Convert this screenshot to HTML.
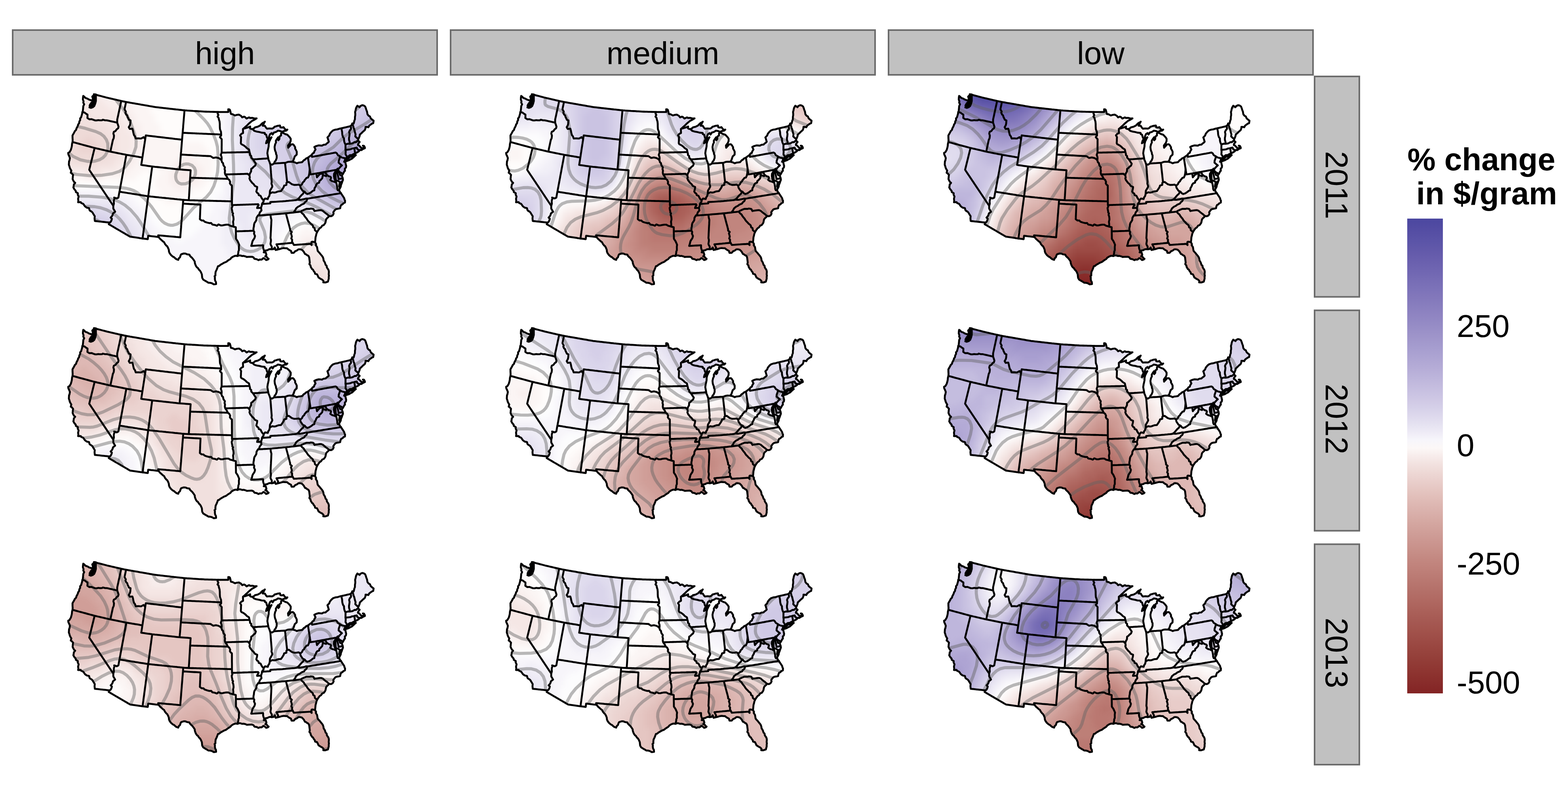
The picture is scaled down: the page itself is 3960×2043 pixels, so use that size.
<!DOCTYPE html><html><head><meta charset="utf-8"><title>map</title><style>html,body{margin:0;padding:0;background:#fff;}body{width:3960px;height:2043px;overflow:hidden;}svg{display:block;font-family:"Liberation Sans",Arial,Helvetica,sans-serif;}</style></head><body><svg width="3960" height="2043" viewBox="0 0 3960 2043"><defs><path id="us" d="M237.1 238L240.8 238.9L244.5 239.9L248.2 240.9L251.9 241.8L255.6 242.8L259.3 243.8L263 244.7L266.7 245.7L270.3 246.7L273.9 247.5L277.5 248.3L281.1 249.2L284.7 250L288.3 250.8L291.9 251.7L295.5 252.5L299 253.3L302.6 254.1L306.2 255L310.2 255.8L314.3 256.7L318.3 257.5L321.8 258.1L325.3 258.7L328.9 259.4L332.4 260L335.9 260.6L339.5 261.2L343 261.8L346.5 262.4L350.1 263L353.6 263.7L357.1 264.3L360.6 264.9L364.2 265.5L367.7 266.1L371.2 266.7L374.8 267.3L378.3 268L381.8 268.6L385.4 269.2L388.9 269.8L392.4 270.4L395.9 270.8L399.4 271.2L402.9 271.6L406.4 272L409.9 272.4L413.4 272.8L416.9 273.2L420.4 273.6L423.9 274L427.4 274.4L430.9 274.8L434.4 275.2L438 275.6L441.5 276L445 276.4L448.5 276.7L452 277.1L455.5 277.5L459 277.9L462.5 278.3L466 278.7L469.6 278.9L473.2 279.2L476.7 279.4L480.3 279.6L483.9 279.8L487.5 280.1L491.1 280.3L494.7 280.5L498.3 280.7L501.9 281L505.5 281.2L509.1 281.4L512.7 281.6L516.3 281.9L520.1 282L523.9 282.1L527.7 282.2L531.6 282.3L535.4 282.4L539.2 282.5L543.1 282.6L546.9 282.7L550.7 282.8L554.4 282.9L558.1 282.9L561.8 282.9L565.5 282.9L569.2 282.9L572.9 282.9L576.6 282.9L576.5 275.9L579 276.1L580.6 277.4L582.2 282.7L582.5 285.1L583.5 288L587.2 288.4L591.5 290.7L593.6 291.6L597.7 290.2L603.5 289.5L608.6 292.5L611.7 296.4L616.2 294.6L618.7 295.6L622.7 299.4L628.9 296.3L631.5 298L637.8 297.7L643 299.4L648.1 298.9L643.1 302L636.9 305.2L635.3 306.5L630.8 310.1L627.4 313.1L624.7 316L619.8 320.3L616.1 323.8L617.4 324.5L622.5 323L627.5 321.4L631.9 319.4L631.5 324L633.5 325.4L637.8 326.1L641.1 324.4L644.3 321.5L650.6 320.2L656.8 317L660 313.5L662.8 310.9L666.3 309.3L668.9 307.3L667.6 309L665.6 313.5L663.3 317.4L669.1 317.9L671.9 322.5L674.2 325L680.6 324.4L687.1 324.8L691.1 322.8L693.2 320.1L697.4 319.1L700.7 317.8L707.1 317L708.2 321.7L712.8 322.2L715.9 320.9L719 325.2L722.7 328.5L725.8 327.2L723.5 329.7L720.3 330.3L716.5 331.1L712.4 333.1L708.6 331.1L702 329.9L697.1 333.2L692 334.6L688.5 339.7L686.2 336.1L682.5 338.3L679.7 344.2L679.3 348.5L676.3 351.1L673.4 356L671.9 361.8L675.1 359.6L679.3 354.6L681.3 351.4L683.4 348.6L685.8 346.5L683 351.4L680.2 357.3L678.7 363.1L678.5 369.7L677.1 376.4L676.3 379.3L675.9 382.2L675.2 387L676.4 393.5L677.6 400L678.2 403.4L680.4 408.3L682.2 413.8L682.7 414.7L687.2 415.9L692.2 412.8L693.5 408.6L696 406L697.6 402.2L698.8 399.1L698.8 392.5L697.2 389.1L696.8 385.1L695.1 381.2L694.1 377.8L693.4 371.2L694.8 364.5L697.1 359.7L696.6 355.8L698.9 351.8L702.4 346.8L702.8 350.5L703.1 354.2L705.5 351.2L706.1 344.5L709.8 342.2L709.9 336.6L712.7 334.8L717.1 336.7L720.3 338.6L725.4 340.1L727.7 342.3L731.5 346.3L734.3 350.5L734.1 356.4L732 361.4L729.3 364.7L727.4 367.6L728 373.2L731.1 369.3L732.8 367.9L735.1 364.8L739.7 364.2L742.4 366.7L745.5 371.9L745.3 375.3L747.3 378.5L749.4 382.8L749.5 385L749.3 390.4L744.4 394.9L742.4 400.9L741.3 404.3L738.5 408.4L745 410.1L749.5 412.3L753.8 410.7L758.9 410.1L763.1 409.5L767.4 404.5L769.2 403.9L773.3 400L777.8 398.2L783 394.1L787.3 391.1L789.4 387.7L792.8 385.8L794 382L796.9 377.5L793.8 371.3L797.2 369.4L800.8 368.2L804.9 367.1L809.5 367.5L813.1 367.9L817.1 365.6L822.2 365.2L824.8 362.6L828.1 360.3L830.4 357.9L828.7 352.6L828.3 350.7L826.9 347.1L831.4 342.4L833.1 337.9L835.5 334.8L837.5 332.5L840.9 329.5L844 328.3L848.2 327.1L851.3 326.9L854.7 325.9L858.7 324.6L862 324.1L865.9 323.1L869.9 322.2L873.9 321.3L877.8 320.3L881.8 319.4L885.7 318.4L888.3 315.3L889.8 311.8L893 312.4L894.3 307.9L894.8 305L896.3 301.5L896.5 294.7L897.2 291.4L897.3 287.8L896.8 283L898.1 278.4L898.6 275.2L899.9 271.3L902.6 267L908.1 270.7L909.9 267.8L914.6 265.6L918.6 266.4L922.2 268.9L923.8 272.9L925.5 278.4L927 282L927.5 285.5L928.2 288.9L931.6 292.8L934.2 293.9L936.3 298.7L938.2 300.6L943.6 304.9L942.6 311L939.4 312.3L935.5 315L932.5 317.4L930.4 321.4L927.9 320.7L923.2 320.4L923.1 323.9L921.3 328.7L916.7 332.5L913.5 335.7L909 339.8L908 344.5L905.9 349.4L905 351.2L904.4 355.2L908.3 358.5L904.6 363.3L904 366.4L906.2 367L910 370.7L913.1 374.4L919.9 373.1L918.9 369.4L916.4 367.9L919.3 368.3L921.2 371.7L921.6 374.2L917.1 376.1L912.6 379.2L909.2 378.7L906.7 381.3L905.9 382.5L902.7 384.3L897.7 387.1L891.9 389.4L888.2 391.9L883.8 391.7L878.4 395.9L874.8 399L873.4 402.4L870.9 405.3L869.1 408.6L872.2 409.9L873.2 414.5L874.3 418.9L873.7 423.1L870.9 425.9L871.2 431.5L869.5 432.8L867.4 437.1L865.1 440.9L862.9 437.1L858.8 435.1L855.2 431.9L854 429.9L854.9 433.9L857.8 437.2L858.8 441.8L863.6 444.1L865.6 450.1L866.2 454.3L864.4 458.5L863.1 462.7L861.1 467.5L860.4 471.9L858.3 475.8L857.2 478L857.7 472.4L856.5 470.4L857.3 463.5L859 461L854.5 457.2L848.3 455.6L847.7 448.9L847.2 442.3L847.6 437.3L848.8 432.3L846.9 433.6L843.6 439.1L843.3 445L844.6 451.5L847.1 456.8L849.5 461.7L850.3 465.6L851.1 469.5L851.7 473.7L851.8 477.1L853.3 480.7L857.2 481.5L858.2 484.3L861.2 487.9L862.4 490L865 493.9L867.1 497L869.5 501L870.2 504.4L871.5 506.6L871.2 511.6L867.6 513.1L864.9 516.2L861.8 517.4L859.9 521.6L859.1 526L855.7 526.7L852.2 527.3L848.7 528L846.4 529.7L844 532.7L841.7 536.1L842.6 539.6L840.1 544.1L836 546.2L831 545.5L829.3 548.1L826.4 550.6L823.8 553.6L822.8 557.7L822.1 561.6L820.7 564.4L817.9 568.2L814 569.7L810.6 574.4L807.2 576.5L803.3 581.9L801.1 585.5L799.2 590.1L798.1 595.1L797 598.7L796.7 602L796.4 605.5L795.7 611.5L798.3 616.5L797.6 619.1L800.8 624.1L801.4 628.1L802.3 633.4L804.7 636.3L807 638.7L810 642.5L812.4 645.3L815.1 648.9L816.7 653.2L817.4 658.1L819.6 661.2L821 664.4L822.3 668.7L825 671.3L825.4 675L826.9 677.7L829.3 680.9L830.5 684.9L830.5 688.9L830.1 692.4L830.8 695.9L830.2 699.3L830.3 703.5L829 708.4L828.1 711.4L821.6 713.4L816.4 713.2L817.1 709.7L813.6 706.1L810.1 704.5L807.5 702.7L804.4 700.8L803.1 697.6L800.7 692.8L795.8 691.5L795 687.9L792.2 684.4L790.2 680.7L788 679.4L784.8 674.1L784.2 670.6L781.3 667L782.4 663.4L782 659.3L781.4 654.6L780.8 650L778.9 646.1L775.1 644.1L772.9 642.2L770.1 641.2L767.6 636.5L765.5 633.8L762 630.5L757.7 629.6L753.8 629.6L749.4 632.9L745.6 634.3L741.9 638.5L736.3 638.5L734.9 633.5L729 630.4L725 627L719.8 626.9L716.2 626.5L711.8 627.2L705.6 629.1L700.9 630.1L696.2 631.4L694 625L691.2 629L686.4 629.7L682 629.1L678.4 629.9L675.3 631.9L671.4 632.3L667.6 634.8L666.1 637.3L670.9 637L672.9 643.5L670 647.5L672.7 647.7L676.8 652.7L678.4 653.6L676.6 655.4L672.2 656.8L668.5 653.3L665.4 651.6L660.7 655.6L656.4 655.3L652.7 657L648.3 654.5L642.8 653.7L639.9 649.8L636.1 648.3L631.3 648.5L626.5 648.7L623.3 649L620.4 647.6L615.1 646.2L611.7 646.6L607 645.1L603.5 645.1L599.8 646.6L594.5 645.8L589.4 647.7L584.6 650.6L581.7 654.2L578.2 656.3L575.3 658.1L571.7 661.1L569.4 662.1L564.9 663.9L562 665.8L556.8 668.6L553.8 671.4L550.5 672.3L548.8 676.9L546.9 681.7L544.6 686.3L544 691.6L544.1 695.6L541.9 697.5L542.9 701.4L542.6 704.2L543.4 708.8L545.4 712.4L545.8 717.3L539.9 718.1L534.9 715.2L530 714.1L526.6 714.1L521.9 711.2L518.3 709.2L513.4 706.2L510.8 702L510.3 698.6L509.8 692.9L508.6 690.1L507.4 687.2L504.9 683.3L502.7 681.4L499.8 676.9L497.3 675.1L494.9 671.6L493.8 669.2L492 664L491.9 660.7L489.1 656.3L485.3 651.4L481.6 648.1L479.3 645.4L478.5 643.1L472.1 642.1L468.6 640.4L464.2 640.1L457.7 642.1L456.1 644.8L454.7 649.5L451.4 652.7L450.2 656.2L445.4 654.5L442.2 652L439.3 649.3L436.3 648L431.7 643.9L428.1 638.9L426.7 635L426.4 631.1L424.8 626.8L422.4 622.2L420 620.2L416.6 616L414.5 611.7L411.1 609.3L409.5 607.7L404.4 603.3L400.5 598.5L396.7 598.1L393 597.7L389.2 597.2L385.5 596.8L381.8 596.4L378 595.9L374.3 595.5L373.7 599.7L373.2 604L368.8 603.4L364.5 602.8L360.1 602.3L356.6 601.8L353.1 601.3L349.6 600.7L346.1 600.2L342.6 599.7L339.1 599.2L335.5 598.7L332 598.2L328.5 597.7L325.4 595.9L322.2 594L319 592.1L315.8 590.3L312.7 588.4L309.5 586.6L306.3 584.7L303.1 582.8L300 581L296.8 579.1L293.6 577.3L290.4 575.4L287.3 573.5L284.1 571.7L280.9 569.8L277.7 567.9L274.6 566.1L276.8 562.1L273 561.7L269.3 561.3L265.6 560.9L261.9 560.5L258.1 560.1L254.4 559.7L250.7 559.3L247 558.9L243.2 558.5L239.5 558.1L238.8 551.8L239.3 546.1L235.8 540.4L233.6 536.6L231.6 534.6L226.8 531.6L225.7 529.4L225 525.7L219 524.4L214.4 520.9L211.7 516.9L210.3 515L204.7 512.3L203.8 510.4L197.3 510.8L197.9 507.2L197.2 502L198.6 496.5L196.1 491L196.7 488.1L191.5 484.9L191.3 482L187.5 477.5L185.2 473.2L185.8 471.6L186.5 465.9L189.9 461.9L186.8 459.1L184.8 455.4L183.4 452.2L183.9 447.1L184.2 443.6L184.7 441.8L181.3 437.9L178.7 436.2L180.2 430.7L178.4 428.1L176.2 423.7L175.4 420.2L173.9 416.1L174.2 410.7L174.4 407.2L175.4 405.7L176.6 399.1L174.5 393.6L172.8 390.4L172.2 386.2L175.3 384.5L178.7 379L179.8 375.4L180.8 371.8L181.5 368.2L181.9 363.2L183.2 358.7L183.5 353.7L183.2 348.8L183.1 342.1L185.9 337.1L187.5 334.4L188.7 331.6L192.2 327.9L193.2 324L194.9 321.1L196.6 317.5L197.4 314.3L199.7 311.5L200.4 306.8L202.5 303.2L202.4 299L204.8 296.4L206.1 291.9L207.4 287.4L208.1 282.8L209.1 281.1L209.8 274.5L210.4 267.9L212.6 263.5L210.3 259.2L211 256.1L209.3 251.2L209.7 245.5L210.3 242.2L212.8 244.1L215.7 247.3L221.7 249.4L223.8 251.1L229.8 253.2L233.1 253.1L233.7 258.1L232.3 263.6L232.9 265.6L230.7 268.1L226 271.4L229.6 270.5L233.2 269.5L235.9 264.5L236.3 257.9L236.8 251.3L237.1 245.6L237 238.9L237.1 238ZM871.3 406.8L873.1 407.4L877.3 406.1L881.4 404.7L884.9 402.5L888.8 400.7L892.4 397.5L895.2 394.7L898.7 391.7L893.8 391.3L889 395.4L883.9 395.9L881.2 398.7L878.5 401.4L874.2 402.7L871.3 406.8Z"/><clipPath id="clip"><use href="#us"/></clipPath><g id="lines" fill="none" stroke="#000" stroke-width="4.8" stroke-linejoin="round" stroke-linecap="round"><use href="#us"/><path d="M208.1 282.8L213.7 284.4L217.5 287.4L221 289.4L221 294.2L220.7 298L225.8 301.3L231.4 300.9L234.9 302.3L240 304.1L244.1 304.2L248.3 303.4L252.1 303.9L257.6 303.8L259.7 302.3L265.6 303.8L269.6 303.8L273.4 304.6L277.2 305.5L280.9 306.3L284.7 307.2L288.5 308L292.2 308.9L296 309.7M296 309.7L296 305.9L296.1 301.7L296.9 298.1L297.7 294.5L298.5 290.9L299.2 287.3L300 283.7L300.8 280.2L301.6 276.6L302.3 273L303.1 269.4L303.9 265.8L304.7 262.2L305.4 258.6L306.2 255M296 309.7L297.8 314.9L299.4 320L298.4 323.8L294.7 326.6L291.7 330.8L287.4 333L286.3 337.3L287.9 342.5L287.2 349L285.1 353.4L284.3 357.1L283.5 360.8L282.7 364.5L281.9 368.2L281.1 371.8L280.3 375.5L279.6 379.2L278.8 382.9M183.2 358.7L186.7 359.6L190.2 360.5L193.7 361.5L197.1 362.4L200.6 363.4L204.1 364.3L207.6 365.2L211.1 366.2L214.6 367.1L218.1 368.1L221.5 369L225 369.9L228.5 370.9L232 371.8L235.5 372.8L239 373.7L242.6 374.5L246.2 375.4L249.8 376.2L253.4 377L257.1 377.9L260.7 378.7L264.3 379.5L267.9 380.4L271.5 381.2L275.1 382.1L278.8 382.9L282.4 383.6L286.1 384.4L289.8 385.1L293.4 385.8L297.1 386.6L300.7 387.3L304.4 388L308.1 388.8L311.7 389.5L315.4 390.2L319.1 391L322.8 391.6L326.4 392.2L330.1 392.8L333.8 393.5L337.5 394.1L341.2 394.7L344.9 395.3L348.6 395.9L352.2 396.6L355.9 397.2L359.6 397.8M239 373.7L238.1 377.1L237.3 380.6L236.4 384L235.6 387.5L234.7 390.9L233.9 394.4L233 397.8L232.2 401.3L231.3 404.7L230.5 408.2L229.6 411.6L228.8 415L227.9 418.5L227.1 421.9L226.2 425.4L225.4 428.8L227.3 431.8L229.3 434.7L231.2 437.6L233.2 440.6L235.2 443.5L237.1 446.4L239.1 449.4L241.1 452.3L243 455.3L245 458.2L247 461.1L248.9 464.1L250.9 467L252.8 469.9L254.8 472.9L256.8 475.8L258.7 478.7L260.7 481.7L262.7 484.6L264.6 487.5L266.6 490.5L268.6 493.4L270.5 496.4L272.5 499.3L274.5 502.2L276.4 505.2L278.4 508.1L280.3 511L282.3 514L284.3 516.9L286.2 519.8M286.2 519.8L286.1 522.7L286.2 526.9L287.9 529.8L290.8 534.8L285.4 539L284.2 543.4L282.5 546.2L279.5 549.5L282.6 552.5L281.1 557.5L278.9 560.9L276.8 562.1M286.2 519.8L287.7 514.3L287.3 508.5L288.1 504L289.5 501.1L288.4 499L294.8 501.2L299 499L299.7 495.3L300.3 491.6L301 487.8L301.7 484.1M301.7 484.1L302.4 480.7L303 477.2L303.7 473.8L304.3 470.3L304.9 466.9L305.6 463.4L306.2 460L306.9 456.5L307.5 453.1L308.2 449.6L308.8 446.2L309.4 442.7L310.1 439.3L310.7 435.8L311.4 432.4L312 428.9L312.6 425.5L313.3 422L313.9 418.6L314.6 415.1L315.2 411.7L315.9 408.2L316.5 404.8L317.1 401.3L317.8 397.9L318.4 394.4L319.1 391M359.6 397.8L360.2 394.3L360.7 390.7L361.2 387.2L361.8 383.6L362.3 380.1L362.9 376.5L363.4 373L364 369.4L364.5 365.9L365.1 362.3L365.6 358.8L366.2 355.2L366.7 351.7L367.4 346.8L368.2 342L371.7 342.4L375.2 342.9L378.8 343.3L382.3 343.7L385.8 344.1L389.3 344.5L392.9 344.9L396.4 345.4L399.9 345.8L403.4 346.2L407 346.6L410.5 347L414 347.4L417.5 347.9L421.1 348.3L424.6 348.7L428.1 349.1L431.6 349.5L435.2 349.9L438.7 350.3L442.2 350.8L445.7 351.2L449.3 351.6L452.8 352L456.3 352.4L459.8 352.8M366.7 351.7L362.8 346.3L356.9 349.7L354.4 349.9L348.9 349.4L342.8 349.8L340.9 344.2L338.3 340.9L336.7 334.9L335.8 329.9L334.4 325L327.7 325.6L325.2 321.3L328.1 316.2L329.1 312.1L329.4 308L329.7 304.2L325.5 302.4L324.6 299.9L322.5 296L321.1 291.1L318.9 289.5L316.6 284.5L317.8 281.9L314.5 276L315.2 272.3L316 268.6L316.8 264.9L317.5 261.2L318.3 257.5M466 278.7L465.7 282.3L465.4 285.8L465.1 289.3L464.8 292.9L464.5 296.4L464.2 299.9L463.9 303.5L463.6 307L463.3 310.6L463 314.1L462.7 317.6L462.5 321.2L462.2 324.7L461.9 328.2L461.6 331.8L461.3 335.3L461 338.8L460.7 342.3L460.4 345.8L460.1 349.3L459.8 352.8L459.5 356.6L459.2 360.3L458.9 364.1L458.6 367.8L458.3 371.6L458 375.3L457.7 379.1L457.4 382.8L457 386.6L456.7 390.3L456.4 394.1L456.1 397.8L455.8 401.6L455.5 405.4L455.2 409.1L454.9 412.9L454.6 416.7L454.2 420.4L453.9 424.2L453.6 427.9M461.3 335.3L464.9 335.5L468.5 335.6L472.1 335.8L475.7 336L479.3 336.1L482.9 336.3L486.5 336.5L490.1 336.6L493.7 336.8L497.3 337L500.9 337.1L504.5 337.3L508.1 337.4L511.7 337.6L515.4 337.8L519 337.9L522.6 338.1L526.2 338.3L529.8 338.4L533.4 338.6L537 338.7L540.6 338.9L544.2 339.1L547.8 339.2L551.4 339.4L555 339.6L558.6 339.7M359.6 397.8L359 401.6L358.5 405.3L357.9 409L357.3 412.8L356.7 416.5L360.7 417.1L364.6 417.6L368.6 418.2L372.5 418.8L376.4 419.3L380.4 419.9L384.3 420.5L388 420.9L391.6 421.3L395.3 421.6L398.9 422L402.6 422.4L406.2 422.8L409.9 423.2L413.5 423.6L417.1 424L420.8 424.4L424.4 424.8L428.1 425.2L431.7 425.6L435.4 426L439 426.4L442.7 426.8L446.3 427.2L450 427.6L453.6 427.9L457.6 428.2L461.6 428.5L465.5 428.8L469.5 429.1L473.5 429.4L477.4 429.7L481.4 430L481.2 433.8L480.9 437.5L480.7 441.3L480.5 445.1L480.2 448.9M384.3 420.5L383.9 424L383.4 427.6L382.9 431.2L382.4 434.8L381.9 438.4L381.5 441.9L381 445.5L380.5 449.1L380 452.7L379.6 456.3L379.1 459.8L378.6 463.4L378.1 467L377.6 470.6L377.2 474.2L376.7 477.7L376.2 481.3L375.7 484.9L375.3 488.5L374.8 492.1L374.3 495.6L373.8 499.2L373.4 502.8L372.9 506.3L372.4 509.9L371.9 513.4L371.5 517L371 520.5L370.5 524.1L370 527.6L369.6 531.2L369.1 534.7L368.6 538.3L368.1 541.8L367.7 545.4L367.2 549L366.7 552.5L366.2 556.1L365.8 559.6L365.3 563.2L364.8 566.7L364.3 570.3L363.9 573.8L363.4 577.4L362.9 580.9L362.4 584.5L362 588L361.5 591.6L361 595.1L360.6 598.7L360.1 602.3M301.7 484.1L305.4 484.7L309 485.3L312.6 485.8L316.2 486.4L319.9 487L323.5 487.6L327.1 488.1L330.8 488.7L334.4 489.3L338 489.9L341.6 490.5L345.3 491L348.9 491.6L352.5 492.2L356.2 492.8L359.8 493.3L363.4 493.9L367 494.5L370.7 495.1L374.3 495.6L377.8 496L381.4 496.4L384.9 496.7L388.5 497.1L392 497.5L395.5 497.8L399.1 498.2L402.6 498.6L406.1 498.9L409.7 499.3L413.2 499.6L416.8 500L420.3 500.4L423.8 500.7L427.4 501.1L430.9 501.5L434.4 501.8L438 502.2L441.5 502.6L445.1 502.9L448.6 503.3L452.1 503.6L455.7 504L459.2 504.4L462.7 504.7L466.3 505L469.8 505.2L473.3 505.4L476.8 505.7L480.3 505.8L483.9 505.9L487.4 505.9L490.9 506L494.4 506.1L497.9 506.2L501.4 506.3L505 506.4L508.5 506.5L512 506.6L515.5 506.7L519 506.8L522.5 506.8L526 506.9L529.6 507L533.1 507.1L536.6 507.2L540.1 507.3L543.6 507.4L547.1 507.5L550.7 507.6L554.2 507.6L557.7 507.7L561.2 507.8L564.7 507.9L568.2 508L571.8 508.1L575.3 508.2L578.8 508.3L582.3 508.4L585.8 508.4M462.7 504.7L462.4 509.5L462.1 514.2L461.8 517.7L461.5 521.3L461.2 524.8L460.9 528.4L460.6 531.9L460.4 535.5L460.1 539L459.8 542.6L459.5 546.1L459.2 549.7L459 553.2L458.7 556.8L458.4 560.3L458.1 563.8L457.8 567.4L457.5 570.9L457.3 574.5L457 578L456.7 581.6L456.4 585.1L456.1 588.7L455.8 592.2L455.6 595.8L455.3 599.3L451.8 599L448.3 598.7L444.8 598.4L441.3 598L437.9 597.7L434.4 597.4L430.9 597.1L427.4 596.8L423.9 596.5L420.4 596.2L416.9 595.8L413.4 595.5L410 595.2L406.5 594.9L403 594.6L399.5 594.3L400.5 598.5M476.8 505.7L477 502.1L477.2 498.6L477.5 495L477.7 491.5L477.9 487.9L478.1 484.4L478.3 480.8L478.5 477.3L478.7 473.7L479 470.2L479.2 466.6L479.4 463.1L479.6 459.5L479.8 456L480 452.4L480.2 448.9M456.7 390.3L460.3 390.5L463.9 390.7L467.5 390.9L471 391.1L474.6 391.3L478.2 391.5L481.8 391.7L485.4 391.9L488.9 392.1L492.5 392.3L496.1 392.5L499.7 392.7L503.3 392.9L506.8 393.1L510.4 393.3L514 393.5L517.6 393.6L521.1 393.8L524.7 394L528.3 394.2L531.9 394.4L535 396.6L538.6 398.9L545.4 397.6L552.2 399.2L556.2 401.5L559.2 404.5M558.6 339.7L558.6 342.3L555.4 346L556.5 347.7L560 351.7L559.9 355.5L559.9 359.2L559.9 363L559.9 366.7L559.8 370.5L559.8 374.2L559.8 378L559.8 381.7L559.7 385.5L557.7 391.1L559.7 396.8L559.8 401.6L559.2 404.5M550.7 282.8L549.5 286.7L551.6 290.2L549.4 294.5L552.1 297.6L553.1 302.8L554.5 306.9L555.1 313.1L555.1 316.2L555.2 321.2L555.6 326.4L556.8 329.7L558.1 333L558.6 339.7M559.2 404.5L560.9 410L563.1 411.4L564.4 417.6L568 422.4L567.1 427L568.3 430.6L567.8 436.5L568.9 440.7L572.7 445.9L575.4 451.6L571.9 451.5L568.4 451.4L564.8 451.3L561.3 451.2L557.8 451.1L554.3 451L550.7 450.9L547.2 450.8L543.7 450.7L540.2 450.6L536.6 450.5L533.1 450.4L529.6 450.3L526.1 450.2L522.5 450.1L519 450L515.5 449.9L512 449.8L508.4 449.7L504.9 449.6L501.4 449.5L497.9 449.4L494.3 449.3L490.8 449.2L487.3 449.1L483.8 449L480.2 448.9M575.4 451.6L579.1 454.4L581.3 459.2L580.6 463L582.5 466.1L585.6 468.6L585.7 472.2L585.7 475.8L585.7 479.5L585.7 483.1L585.7 486.7L585.7 490.3L585.8 494L585.8 497.6L585.8 501.2L585.8 504.8L585.8 508.4L585.9 513.2L585.9 517.9M462.1 514.2L465.8 514.4L469.4 514.6L473.1 514.8L476.8 515L480.5 515.3L484.2 515.5L487.9 515.7L491.6 515.9L495.3 516.1L499 516.3L502.7 516.5L506.4 516.7L506.2 520.4L506.1 524.1L505.9 527.8L505.7 531.5L505.6 535.1L505.4 538.8L505.3 542.5L505.1 546.2L505 549.9L504.8 553.5L509.2 556.8L513.8 556.9L516.7 559.9L522.8 562L528.8 563.5L533.4 563.2L536.4 567.1L542.5 568.1L547.8 570.1L551.7 566.7L557.8 569.3L562.3 569.2L565.4 568.3L571.5 567.4L576.9 567.4L581.5 570.2L586.5 571.3L588.7 572.2M585.9 517.9L586.9 521.4L585.1 525.3L585.9 530.4L586.8 534.2L586.7 536.6L588.7 538.8L587.6 542.6L589 545.9L589.7 550.4L589.9 554.6L589.2 557.2L588.6 560.3L589.2 564.6L589.3 568.4L588.7 572.2L595.5 573.8L595.6 579L595.7 584.2L595.7 588L595.8 591.8L595.9 595.6L595.9 599.4L596 603.2L599.9 608.8L601.8 612.9L604 618.2L603.3 623.2L603.4 627.6L603.4 631.9L602 635.2L601.7 639.8L600.7 643L599.8 646.6M595.7 584.2L599.4 584.1L603.1 584L606.8 583.9L610.6 583.8L614.3 583.6L618 583.5L621.7 583.4L625.4 583.3L629.2 583.2L632.9 583L636.6 582.9L640.3 582.8M585.9 517.9L589.6 517.8L593.3 517.7L596.9 517.6L600.6 517.4L604.3 517.3L608 517.2L611.6 517.1L615.3 516.9L619 516.8L622.6 516.7L626.3 516.6L630 516.4L633.7 516.3L637.3 516.2L641 516.1L644.7 515.9L648.3 515.8L652 515.7L653.2 517.9L650.2 522.4L649.3 525.4L654.3 525.1L659.2 524.8M568.9 440.7L572.4 440.5L576 440.4L579.5 440.3L583.1 440.2L586.6 440.1L590.1 440L593.7 439.9L597.2 439.8L600.7 439.7L604.3 439.6L607.8 439.5L611.4 439.4L614.9 439.3L618.4 439.1L622 439L625.5 438.9L630 443.1M559.7 385.5L563.3 385.4L566.8 385.3L570.3 385.3L573.8 385.2L577.3 385.1L580.9 385.1L584.4 385L587.9 384.9L591.4 384.9L594.9 384.8L598.5 384.7L602 384.7L605.5 384.6L609 384.5L612.5 384.5L616.1 384.4L619.6 384.3L623.1 384.2L626.6 384.2L630.2 384.1M630.2 384.1L628.8 377.6L623.3 374.1L619.8 370.4L615 366.8L609.6 364.2L608.2 361.4L608.6 354.9L608.6 351L609 346.4L606.3 341.8L609.8 337.9L613.9 336L613.7 330.9L613.6 325.7L616.1 323.8M630.2 384.1L631.4 388.4L631.4 391.6L634.5 394.1L634.5 398.1L638.9 402.5L642.5 408L646.2 413.5L644.4 418.3L640.4 421.4L637.5 424.7L634.5 426.4L634.1 433.1L630.8 438.9L630 443.1M630 443.1L631 448.1L629.9 450.3L631.7 455.1L633.8 457.7L636.8 461.7L640.6 465L643.7 469.6L649.6 472.1L649.1 476.9L647.3 483.6L649.5 487L652.7 489L653.4 492.7L658.1 494.4L660.7 500L663.9 504.5L665.9 505.7L665.7 509.1L663.1 512.3L661.6 515.1L661.1 519L659.2 524.8L660.4 531.4L656.2 536.4L654.3 542.2L651.4 544.3L647.9 550.1L647.4 555.9L645.5 559.2L642.5 563.7L641.5 567.9L641.3 571.4L640.1 577.1L640.3 582.8L642.2 585.6L641.5 590.3L644.1 595.9L643.2 599.8L642 602.6L639.8 605.5L637.6 609.5L636.3 615.2L634.5 621L638.2 620.8L642 620.6L645.8 620.4L649.5 620.2L653.3 620L657 619.8L660.8 619.6L664.5 619.4L664.6 626.1L665.7 629.7L667.6 634.8M651.4 544.3L654.9 544L658.4 543.8L661.9 543.6L665.4 543.3L668.9 543.1L672.4 542.9L675.9 542.6L679.4 542.4L683 542.2L686.5 541.9L690.1 541.5L693.6 541.2L697.2 540.9L700.7 540.6L704.3 540.3L707.8 540L711.4 539.6L714.9 539.3L718.5 539L722 538.7L725.8 538.3L729.7 537.9L733.5 537.4L737.4 537L741.2 536.6L744.8 536.2L748.5 535.7L752.1 535.3L755.8 534.8L759.5 534.4M683 542.2L683.6 546L684 549.6L685.5 555.3L685.3 558.8L685.1 562.4L685 565.9L684.8 569.4L684.6 572.9L684.4 576.5L684.3 580L684.1 583.5L683.9 587L683.7 590.5L683.6 594.1L683.4 597.6L683.2 601.1L684.2 605.1L684.3 608.4L683.7 612.1L683.1 616L684.2 619.1L686.2 622.2L686.5 625.9L686.4 629.7M722 538.7L723 542.3L723.9 545.9L724.9 549.5L725.9 553.1L726.8 556.7L727.8 560.3L728.7 563.9L729.7 567.4L730.7 571L731.6 574.6L732.6 578.2L732.9 582.3L737 585.8L734.9 589.4L736.4 594.4L737.1 597.7L735.6 602.1L737.9 605.5L737.5 609.7L739.2 613.1L735.4 613.5L731.7 613.8L728 614.2L724.3 614.6L720.5 614.9L716.8 615.3L713.1 615.6L709.4 616L705.6 616.3L701.9 616.7L698.2 617L701 622.5L702.5 625.4L700.9 630.1M739.2 613.1L742 618.5L745.5 618.3L749 618.1L752.6 617.8L756.1 617.6L759.6 617.4L763.1 617.2L766.7 616.9L770.2 616.7L773.7 616.5L777.2 616.3L780.8 616L784.3 615.8L787.1 619L786.7 615.1L786.8 611.1L788.3 610.3L791.6 610.9L795.7 611.5M759.5 534.4L763.1 538.7L767.2 542.2L768.4 544.7L771.7 549.1L774 551.6L776.8 556.2L779.7 559.7L780.6 560.3L785.2 565.4L787.8 567.2L790 569.5L791.1 574.1L794.5 575.8L795.3 581.2L797.9 583.6L801.1 585.5M759.5 534.4L762.4 532.4L765.1 531.2L769.4 529.3L774 527.5L779.5 527.5L782.3 527.6L784.8 526.7L789.8 527.3L791.6 528L794.3 533L796.1 532.3L801.2 531.7L807.5 530.8L811.2 530.7L815.1 532.2L816.8 533.7L819.4 536.1L822.8 538.7L826.2 541L828.3 543.1L831 545.5M741.2 536.6L745.4 531.3L747.8 526.3L750.3 524.2L753.5 521.6L757.6 519.9L761.5 516.7L764.6 515.5L768 514.1L769.9 511L774 507.6L776.4 501.6M747.3 505.3L751.9 504.2L755.4 504.7L758.1 504.7L760.7 504.3L765.2 503.4L770.1 502.4L773.2 501.3L776.4 501.6L780 501.1L783.5 500.5L787 499.9L790.6 499.3L794.1 498.8L797.6 498.2L801.1 497.6L804.7 497L808.2 496.5L811.7 495.9L815.3 495.3L818.8 494.7L822.3 494.2L825.9 493.6L829.4 493L832.9 492.4L836.5 491.9L840 491.3L843.5 490.7L847 490.1L850.6 489.6L854.1 489L857.6 488.4L861.2 487.9M747.3 505.3L743.4 505.7L739.6 506L735.8 506.4L732 506.7L728.2 507.1L724.4 507.4L720.6 507.8L716.8 508.1L713 508.5L709.2 508.7L705.4 508.9L701.6 509.1L697.9 509.4L694.1 509.6L690.3 509.8L686.5 510L682.7 510.2L682.7 513.6L679.2 513.9L675.7 514.1L672.2 514.4L668.6 514.6L665.1 514.9L661.6 515.1M747.3 505.3L752 503.2L753.8 501.6L755.9 499.3L758.3 496.3L762.1 492L764.2 490.7L767.4 485.8L769.7 484.4L764.5 482L760.9 476.8L759 473.8L758.4 469.1M758.4 469.1L754.4 466.1L749.4 466.8L742.9 467L736.9 465.1L732.9 462.1L729.7 459.6L725.2 460.1L723.4 462L723.3 467L717.7 468.5L716.3 472.7L713.5 477.2L709.7 482.7L703.2 483.3L698.8 484.8L696.2 485.9L692.4 486.4L688.1 485.6L685.2 486.8L681.4 489L680.1 494.8L677.4 498.7L676.3 502.7L669.6 501.3L665.9 505.7M682.7 414.7L683 418.4L683.3 422.1L683.6 425.8L683.9 429.5L684.2 433.2L684.4 436.9L684.7 440.6L685 444.3L685.3 448L685.6 451.7L685.9 455.4L686.2 459.1L685.6 463.9L687.3 468.6L687.7 471.3L684.5 477.3L682 481.3L681.5 485.1L681.4 489M638.9 402.5L642.4 402.3L646 402.1L649.5 401.9L653 401.6L656.5 401.4L660 401.2L663.5 400.9L667.1 400.7L670.6 400.5L674.1 400.2L677.6 400M692.2 412.8L696.1 412.6L700.1 412.3L704 412.1L708 411.9L711.9 411.6L715.8 411.4L719.8 411.2L722.2 410.8L725.8 409.1L730.7 408.3L735.7 408.5L738.5 408.4M719.8 411.2L720.2 414.7L720.6 418.2L720.9 421.6L721.3 425.1L721.7 428.6L722.1 432.1L722.5 435.6L722.9 439.1L723.3 442.6L723.6 446.1L724 449.6L724.4 453.1L724.8 456.6L725.2 460.1M777.8 398.2L778.4 401.7L778.9 405.3L779.5 408.9L780 412.5L780.6 416.1L781.1 419.6L781.7 423.2L782.4 427.5L783 431.8L783.7 436.1L784.3 440.4L788 439.9L791.6 439.3L795.3 438.7L798.9 438.1L802.6 437.4L806.3 436.8L809.9 436.1L813.6 435.4L817.3 434.7L821 434.1L824.6 433.4L828.3 432.7L832 432L835.7 431.4L839.3 430.7L843 430L846.7 429.3L850.4 428.7M781.7 423.2L782.1 428.4L781.8 431.6L781.3 437.4L780.1 443.4L777.7 448.5L774.4 449L770.9 453.2L768.9 455.6L768.4 457.5L764.6 460.9L762.9 465L758.4 469.1M798.9 438.1L799.7 443L800.5 447.8L803.7 443.9L805.1 442.3L808.8 438.8L813.9 438.8L816.9 435.8L822.1 436.4L824.9 441.3M824.9 441.3L823.6 444.8L819 443.3L815.8 441.4L815 444.4L813.7 450.4L809.4 455L806.5 457.3L806.1 461.3L801.3 463.1L798.7 466.5L797.9 469.4L795.6 473.6L794.4 475.4L793.8 480.6L790.4 481.7L787 484.6L781.6 488.2L776 490L772.8 488.2L769.7 484.4M824.9 441.3L829.4 444.7L834.9 446.6L836.1 449.2L834.1 454.4L838.4 457.5L844.6 459.2L849.5 461.7M859 461L864.4 458.5M850.4 428.7L851.2 432.6L852 436.5L852.8 440.5L853.6 444.4L854.4 448.3L855.2 452.3L858.6 451.5L862.1 450.8L865.6 450.1M850.4 428.7L852.6 425.9L855.2 426.1L854 429.9M855.2 426.1L858.4 422.6L860.7 420.1L863.5 417.6L858.7 413.8L855.2 410.7L855.6 405.7L857.2 401.6L858.1 398.2L859 395.1L853.3 391.7L850.5 387.1L847.7 385.2L844.2 385.8L840.7 386.5L837.2 387.1L833.7 387.8L830.2 388.4L826.7 389L823.2 389.7L819.7 390.3L816.2 391L812.7 391.6L809.1 392.3L805.6 392.9L802.1 393.6L798.6 394.2L795.1 394.9L791.6 395.5L788.1 396.2L787.3 391.1M859 395.1L863.2 397.7L868.1 399L871.3 399.4L871.5 403.3L870.9 405.3M874.8 399L876.4 396.4L874.8 392.8L872.6 389.8L872.9 386.5L873.1 381.7L872.5 378.8L872.6 373.5L872.6 368.7L872.6 365.2L871.2 362.5L869.6 358.3L868.9 354.1L868.8 349.7L866.4 346.4L864.7 341L864.2 336.8L864.1 333.4L863.1 328.8L862 324.1M872.5 378.8L876.1 378.1L881.1 377.6L885.2 377L888.9 375.2L893.3 374.7L895.3 374L895.6 379.4L896.3 383.8L897.7 387.1M895.3 374L900.9 372.7L902.3 376.6L904.7 377.9L906.7 381.3M872.6 365.2L874.7 364.1L878.8 362.9L883.3 363.1L888.6 362.4L890.8 361.7L895.5 358.8L899.3 359L902.1 356.2L904.4 355.2M883.3 363.1L882.9 358L881.5 353.4L881.4 348.7L882.3 343.6L882.9 338.4L882 335.2L881.8 333.1L883.6 329.2L886.3 326.2L886.6 323.3L885.7 318.4M889.8 311.8L890.4 315.1L892.2 318.7L892.7 322.3L894.5 326.1L896 332.4L897 336.3L898 338.8L897.3 344.5L900.7 347.8L905 351.2M676.3 351.1L674 346.5L672.2 340.1L668.8 338.5L668.6 335.7L665.9 335.4L660.7 335L655.4 333.5L648.8 332.4L644.8 331.3L641.9 330.2L637.8 326.1"/><path fill="#000" stroke-width="2" d="M238.4 236.8L242.9 237.2L243.6 243.5L243.6 255.3L242 261.6L239.3 268.4L235.2 272L229.3 274L225.7 272L225 266.1L228 260.7L231.6 256.6L233.4 250.8L231.6 243.5L234.3 240.8L237.5 238.6Z"/></g></defs><rect x="32" y="76" width="1072" height="113" fill="#c1c1c1" stroke="#6b6b6b" stroke-width="4"/><text x="568" y="162" font-size="80" text-anchor="middle" fill="#000">high</text><rect x="1138" y="76" width="1072" height="113" fill="#c1c1c1" stroke="#6b6b6b" stroke-width="4"/><text x="1674" y="162" font-size="80" text-anchor="middle" fill="#000">medium</text><rect x="2244" y="76" width="1072" height="113" fill="#c1c1c1" stroke="#6b6b6b" stroke-width="4"/><text x="2780" y="162" font-size="80" text-anchor="middle" fill="#000">low</text><rect x="3320" y="193.00" width="113" height="556.67" fill="#c1c1c1" stroke="#6b6b6b" stroke-width="4"/><text transform="translate(3348 467.5) rotate(90)" font-size="80" text-anchor="middle" fill="#000">2011</text><rect x="3320" y="783.67" width="113" height="556.67" fill="#c1c1c1" stroke="#6b6b6b" stroke-width="4"/><text transform="translate(3348 1058.2) rotate(90)" font-size="80" text-anchor="middle" fill="#000">2012</text><rect x="3320" y="1374.34" width="113" height="556.67" fill="#c1c1c1" stroke="#6b6b6b" stroke-width="4"/><text transform="translate(3348 1648.8) rotate(90)" font-size="80" text-anchor="middle" fill="#000">2013</text><g transform="translate(0 0.00)"><g clip-path="url(#clip)"><g filter="url(#b00)"><path fill="#ebd3d0" d="M212 347h24v12h-24zM200 359h48v12h-48zM200 371h48v12h-48z"/><path fill="#eedad7" d="M152 311h48v12h-48zM152 323h84v12h-84zM140 335h120v12h-120zM152 347h60v12h-60zM236 347h36v12h-36zM152 359h48v12h-48zM248 359h24v12h-24zM164 371h36v12h-36zM248 371h24v12h-24zM176 383h96v12h-96zM188 395h72v12h-72z"/><path fill="#f1e0de" d="M140 215h12v12h-12zM140 227h24v12h-24zM140 239h36v12h-36zM140 251h48v12h-48zM140 263h60v12h-60zM140 275h72v12h-72zM140 287h84v12h-84zM140 299h108v12h-108zM140 311h12v12h-12zM200 311h72v12h-72zM140 323h12v12h-12zM236 323h48v12h-48zM260 335h36v12h-36zM140 347h12v12h-12zM272 347h24v12h-24zM140 359h12v12h-12zM272 359h24v12h-24zM140 371h24v12h-24zM272 371h24v12h-24zM140 383h36v12h-36zM272 383h24v12h-24zM152 395h36v12h-36zM260 395h36v12h-36zM176 407h108v12h-108zM224 419h24v12h-24zM788 671h24v12h-24zM776 683h48v12h-48zM776 695h60v12h-60zM776 707h72v12h-72zM764 719h84v12h-84zM764 731h96v12h-96z"/><path fill="#f5e7e5" d="M152 215h84v12h-84zM164 227h84v12h-84zM176 239h72v12h-72zM188 251h72v12h-72zM200 263h72v12h-72zM212 275h84v12h-84zM224 287h84v12h-84zM248 299h60v12h-60zM272 311h48v12h-48zM284 323h36v12h-36zM296 335h36v12h-36zM296 347h36v12h-36zM296 359h36v12h-36zM296 371h36v12h-36zM296 383h24v12h-24zM140 395h12v12h-12zM296 395h24v12h-24zM140 407h36v12h-36zM284 407h24v12h-24zM164 419h60v12h-60zM248 419h48v12h-48zM212 431h48v12h-48zM452 431h24v12h-24zM452 443h24v12h-24zM764 635h48v12h-48zM764 647h72v12h-72zM752 659h96v12h-96zM752 671h36v12h-36zM812 671h48v12h-48zM752 683h24v12h-24zM824 683h36v12h-36zM740 695h36v12h-36zM836 695h36v12h-36zM740 707h36v12h-36zM848 707h36v12h-36zM740 719h24v12h-24zM848 719h36v12h-36zM728 731h36v12h-36zM860 731h36v12h-36z"/><path fill="#f8eeed" d="M236 215h72v12h-72zM248 227h72v12h-72zM248 239h72v12h-72zM260 251h72v12h-72zM272 263h60v12h-60zM296 275h36v12h-36zM308 287h36v12h-36zM308 299h36v12h-36zM320 311h36v12h-36zM320 323h36v12h-36zM332 335h24v12h-24zM332 347h36v12h-36zM332 359h36v12h-36zM332 371h36v12h-36zM320 383h36v12h-36zM320 395h24v12h-24zM452 395h36v12h-36zM308 407h36v12h-36zM440 407h60v12h-60zM140 419h24v12h-24zM296 419h36v12h-36zM440 419h72v12h-72zM152 431h60v12h-60zM260 431h60v12h-60zM428 431h24v12h-24zM476 431h36v12h-36zM212 443h48v12h-48zM428 443h24v12h-24zM476 443h24v12h-24zM428 455h72v12h-72zM440 467h36v12h-36zM764 599h36v12h-36zM752 611h60v12h-60zM752 623h84v12h-84zM740 635h24v12h-24zM812 635h36v12h-36zM740 647h24v12h-24zM836 647h24v12h-24zM728 659h24v12h-24zM848 659h24v12h-24zM728 671h24v12h-24zM860 671h24v12h-24zM728 683h24v12h-24zM860 683h36v12h-36zM716 695h24v12h-24zM872 695h24v12h-24zM716 707h24v12h-24zM884 707h24v12h-24zM704 719h36v12h-36zM884 719h36v12h-36zM704 731h24v12h-24zM896 731h36v12h-36z"/><path fill="#fbf5f4" d="M308 215h72v12h-72zM320 227h60v12h-60zM320 239h60v12h-60zM332 251h48v12h-48zM332 263h48v12h-48zM332 275h48v12h-48zM344 287h48v12h-48zM344 299h48v12h-48zM356 311h48v12h-48zM356 323h48v12h-48zM356 335h60v12h-60zM368 347h72v12h-72zM368 359h144v12h-144zM368 371h156v12h-156zM356 383h168v12h-168zM344 395h108v12h-108zM488 395h48v12h-48zM344 407h96v12h-96zM500 407h36v12h-36zM332 419h48v12h-48zM392 419h48v12h-48zM512 419h24v12h-24zM140 431h12v12h-12zM320 431h36v12h-36zM404 431h24v12h-24zM512 431h24v12h-24zM140 443h72v12h-72zM260 443h84v12h-84zM392 443h36v12h-36zM500 443h24v12h-24zM392 455h36v12h-36zM500 455h24v12h-24zM392 467h48v12h-48zM476 467h36v12h-36zM404 479h84v12h-84zM404 491h60v12h-60zM416 503h36v12h-36zM764 575h24v12h-24zM752 587h60v12h-60zM740 599h24v12h-24zM800 599h24v12h-24zM740 611h12v12h-12zM812 611h24v12h-24zM728 623h24v12h-24zM836 623h24v12h-24zM728 635h12v12h-12zM848 635h24v12h-24zM716 647h24v12h-24zM860 647h24v12h-24zM716 659h12v12h-12zM872 659h24v12h-24zM704 671h24v12h-24zM884 671h24v12h-24zM704 683h24v12h-24zM896 683h24v12h-24zM692 695h24v12h-24zM896 695h24v12h-24zM692 707h24v12h-24zM908 707h24v12h-24zM680 719h24v12h-24zM920 719h24v12h-24zM668 731h36v12h-36zM932 731h24v12h-24z"/><path fill="#fefcfb" d="M380 215h84v12h-84zM380 227h84v12h-84zM380 239h96v12h-96zM380 251h96v12h-96zM380 263h108v12h-108zM380 275h108v12h-108zM392 287h120v12h-120zM392 299h132v12h-132zM404 311h120v12h-120zM404 323h132v12h-132zM416 335h120v12h-120zM440 347h108v12h-108zM512 359h36v12h-36zM524 371h24v12h-24zM524 383h24v12h-24zM536 395h12v12h-12zM536 407h12v12h-12zM380 419h12v12h-12zM536 419h12v12h-12zM356 431h48v12h-48zM536 431h12v12h-12zM344 443h48v12h-48zM524 443h24v12h-24zM140 455h252v12h-252zM524 455h24v12h-24zM296 467h96v12h-96zM512 467h24v12h-24zM344 479h60v12h-60zM488 479h48v12h-48zM356 491h48v12h-48zM464 491h60v12h-60zM368 503h48v12h-48zM452 503h60v12h-60zM380 515h108v12h-108zM392 527h84v12h-84zM404 539h72v12h-72zM404 551h60v12h-60zM752 563h36v12h-36zM740 575h24v12h-24zM788 575h24v12h-24zM728 587h24v12h-24zM812 587h12v12h-12zM716 599h24v12h-24zM824 599h24v12h-24zM716 611h24v12h-24zM836 611h24v12h-24zM716 623h12v12h-12zM860 623h12v12h-12zM704 635h24v12h-24zM872 635h12v12h-12zM704 647h12v12h-12zM884 647h12v12h-12zM692 659h24v12h-24zM896 659h24v12h-24zM680 671h24v12h-24zM908 671h24v12h-24zM680 683h24v12h-24zM920 683h24v12h-24zM668 695h24v12h-24zM920 695h36v12h-36zM656 707h36v12h-36zM932 707h36v12h-36zM644 719h36v12h-36zM944 719h24v12h-24zM632 731h36v12h-36zM956 731h12v12h-12z"/><path fill="#fcfcfd" d="M464 215h72v12h-72zM464 227h72v12h-72zM476 239h60v12h-60zM476 251h72v12h-72zM488 263h60v12h-60zM488 275h60v12h-60zM512 287h36v12h-36zM524 299h36v12h-36zM524 311h36v12h-36zM536 323h24v12h-24zM536 335h24v12h-24zM548 347h12v12h-12zM548 359h12v12h-12zM548 371h12v12h-12zM548 383h24v12h-24zM548 395h24v12h-24zM548 407h24v12h-24zM548 419h12v12h-12zM548 431h12v12h-12zM548 443h12v12h-12zM548 455h12v12h-12zM140 467h156v12h-156zM536 467h24v12h-24zM284 479h60v12h-60zM536 479h24v12h-24zM332 491h24v12h-24zM524 491h24v12h-24zM344 503h24v12h-24zM512 503h36v12h-36zM356 515h24v12h-24zM488 515h48v12h-48zM368 527h24v12h-24zM476 527h60v12h-60zM380 539h24v12h-24zM476 539h48v12h-48zM380 551h24v12h-24zM464 551h60v12h-60zM740 551h60v12h-60zM392 563h120v12h-120zM716 563h36v12h-36zM788 563h24v12h-24zM404 575h96v12h-96zM716 575h24v12h-24zM812 575h24v12h-24zM416 587h72v12h-72zM704 587h24v12h-24zM824 587h24v12h-24zM440 599h24v12h-24zM704 599h12v12h-12zM848 599h12v12h-12zM704 611h12v12h-12zM860 611h24v12h-24zM692 623h24v12h-24zM872 623h24v12h-24zM692 635h12v12h-12zM884 635h24v12h-24zM680 647h24v12h-24zM896 647h24v12h-24zM668 659h24v12h-24zM920 659h12v12h-12zM656 671h24v12h-24zM932 671h24v12h-24zM644 683h36v12h-36zM944 683h24v12h-24zM620 695h48v12h-48zM956 695h12v12h-12zM608 707h48v12h-48zM596 719h48v12h-48zM584 731h48v12h-48z"/><path fill="#f7f5fa" d="M536 215h48v12h-48zM536 227h48v12h-48zM536 239h48v12h-48zM548 251h36v12h-36zM548 263h24v12h-24zM548 275h24v12h-24zM548 287h24v12h-24zM560 299h12v12h-12zM560 311h12v12h-12zM560 323h12v12h-12zM560 335h24v12h-24zM560 347h24v12h-24zM560 359h24v12h-24zM560 371h24v12h-24zM572 383h12v12h-12zM572 395h12v12h-12zM572 407h12v12h-12zM560 419h24v12h-24zM560 431h24v12h-24zM560 443h24v12h-24zM560 455h24v12h-24zM560 467h12v12h-12zM140 479h144v12h-144zM560 479h12v12h-12zM284 491h48v12h-48zM548 491h24v12h-24zM320 503h24v12h-24zM548 503h24v12h-24zM332 515h24v12h-24zM536 515h36v12h-36zM344 527h24v12h-24zM536 527h24v12h-24zM356 539h24v12h-24zM524 539h36v12h-36zM728 539h60v12h-60zM368 551h12v12h-12zM524 551h36v12h-36zM704 551h36v12h-36zM800 551h12v12h-12zM368 563h24v12h-24zM512 563h48v12h-48zM692 563h24v12h-24zM812 563h12v12h-12zM380 575h24v12h-24zM500 575h60v12h-60zM680 575h36v12h-36zM836 575h12v12h-12zM380 587h36v12h-36zM488 587h72v12h-72zM680 587h24v12h-24zM848 587h12v12h-12zM392 599h48v12h-48zM464 599h96v12h-96zM680 599h24v12h-24zM860 599h24v12h-24zM404 611h156v12h-156zM680 611h24v12h-24zM884 611h12v12h-12zM416 623h156v12h-156zM668 623h24v12h-24zM896 623h12v12h-12zM428 635h144v12h-144zM656 635h36v12h-36zM908 635h24v12h-24zM452 647h144v12h-144zM644 647h36v12h-36zM920 647h24v12h-24zM476 659h192v12h-192zM932 659h24v12h-24zM488 671h168v12h-168zM956 671h12v12h-12zM500 683h144v12h-144zM500 695h120v12h-120zM512 707h96v12h-96zM512 719h84v12h-84zM512 731h72v12h-72z"/><path fill="#f1eff7" d="M584 215h36v12h-36zM584 227h36v12h-36zM584 239h24v12h-24zM584 251h24v12h-24zM572 263h36v12h-36zM572 275h24v12h-24zM572 287h24v12h-24zM572 299h24v12h-24zM572 311h24v12h-24zM572 323h24v12h-24zM584 335h12v12h-12zM584 347h12v12h-12zM584 359h12v12h-12zM584 371h12v12h-12zM584 383h12v12h-12zM584 395h12v12h-12zM584 407h12v12h-12zM584 419h12v12h-12zM584 431h12v12h-12zM584 443h12v12h-12zM584 455h12v12h-12zM572 467h24v12h-24zM572 479h24v12h-24zM140 491h144v12h-144zM572 491h24v12h-24zM284 503h36v12h-36zM572 503h24v12h-24zM308 515h24v12h-24zM572 515h24v12h-24zM320 527h24v12h-24zM560 527h36v12h-36zM644 527h144v12h-144zM332 539h24v12h-24zM560 539h36v12h-36zM632 539h96v12h-96zM788 539h24v12h-24zM344 551h24v12h-24zM560 551h36v12h-36zM632 551h72v12h-72zM812 551h12v12h-12zM356 563h12v12h-12zM560 563h48v12h-48zM632 563h60v12h-60zM824 563h24v12h-24zM356 575h24v12h-24zM560 575h48v12h-48zM644 575h36v12h-36zM848 575h12v12h-12zM368 587h12v12h-12zM560 587h60v12h-60zM644 587h36v12h-36zM860 587h24v12h-24zM368 599h24v12h-24zM560 599h72v12h-72zM656 599h24v12h-24zM884 599h12v12h-12zM380 611h24v12h-24zM560 611h120v12h-120zM896 611h24v12h-24zM392 623h24v12h-24zM572 623h96v12h-96zM908 623h24v12h-24zM392 635h36v12h-36zM572 635h84v12h-84zM932 635h24v12h-24zM404 647h48v12h-48zM596 647h48v12h-48zM944 647h24v12h-24zM416 659h60v12h-60zM956 659h12v12h-12zM428 671h60v12h-60zM440 683h60v12h-60zM440 695h60v12h-60zM452 707h60v12h-60zM464 719h48v12h-48zM464 731h48v12h-48z"/><path fill="#ebe8f4" d="M620 215h60v12h-60zM620 227h36v12h-36zM608 239h36v12h-36zM608 251h36v12h-36zM608 263h24v12h-24zM596 275h24v12h-24zM596 287h24v12h-24zM596 299h24v12h-24zM596 311h12v12h-12zM596 323h12v12h-12zM596 335h12v12h-12zM596 347h12v12h-12zM596 359h12v12h-12zM596 371h12v12h-12zM596 383h12v12h-12zM596 395h12v12h-12zM596 407h24v12h-24zM596 419h24v12h-24zM596 431h24v12h-24zM596 443h36v12h-36zM596 455h36v12h-36zM596 467h48v12h-48zM596 479h72v12h-72zM596 491h96v12h-96zM140 503h144v12h-144zM596 503h120v12h-120zM284 515h24v12h-24zM596 515h180v12h-180zM308 527h12v12h-12zM596 527h48v12h-48zM788 527h12v12h-12zM320 539h12v12h-12zM596 539h36v12h-36zM812 539h12v12h-12zM320 551h24v12h-24zM596 551h36v12h-36zM824 551h24v12h-24zM332 563h24v12h-24zM608 563h24v12h-24zM848 563h12v12h-12zM344 575h12v12h-12zM608 575h36v12h-36zM860 575h24v12h-24zM344 587h24v12h-24zM620 587h24v12h-24zM884 587h12v12h-12zM356 599h12v12h-12zM632 599h24v12h-24zM896 599h24v12h-24zM356 611h24v12h-24zM920 611h24v12h-24zM368 623h24v12h-24zM932 623h24v12h-24zM368 635h24v12h-24zM956 635h12v12h-12zM380 647h24v12h-24zM392 659h24v12h-24zM392 671h36v12h-36zM404 683h36v12h-36zM404 695h36v12h-36zM416 707h36v12h-36zM416 719h48v12h-48zM428 731h36v12h-36z"/><path fill="#e6e2f1" d="M680 215h144v12h-144zM656 227h132v12h-132zM644 239h72v12h-72zM644 251h48v12h-48zM632 263h36v12h-36zM620 275h36v12h-36zM620 287h24v12h-24zM620 299h24v12h-24zM608 311h24v12h-24zM608 323h24v12h-24zM608 335h24v12h-24zM608 347h12v12h-12zM608 359h12v12h-12zM608 371h12v12h-12zM608 383h24v12h-24zM608 395h24v12h-24zM620 407h24v12h-24zM620 419h36v12h-36zM620 431h48v12h-48zM632 443h48v12h-48zM632 455h60v12h-60zM644 467h60v12h-60zM668 479h48v12h-48zM692 491h36v12h-36zM716 503h48v12h-48zM140 515h60v12h-60zM236 515h48v12h-48zM776 515h12v12h-12zM284 527h24v12h-24zM800 527h12v12h-12zM296 539h24v12h-24zM824 539h12v12h-12zM308 551h12v12h-12zM848 551h12v12h-12zM320 563h12v12h-12zM860 563h24v12h-24zM320 575h24v12h-24zM884 575h12v12h-12zM332 587h12v12h-12zM896 587h24v12h-24zM332 599h24v12h-24zM920 599h24v12h-24zM344 611h12v12h-12zM944 611h24v12h-24zM344 623h24v12h-24zM956 623h12v12h-12zM356 635h12v12h-12zM356 647h24v12h-24zM368 659h24v12h-24zM368 671h24v12h-24zM380 683h24v12h-24zM380 695h24v12h-24zM392 707h24v12h-24zM392 719h24v12h-24zM392 731h36v12h-36z"/><path fill="#e0dcee" d="M824 215h72v12h-72zM788 227h96v12h-96zM716 239h156v12h-156zM692 251h156v12h-156zM668 263h156v12h-156zM656 275h72v12h-72zM644 287h48v12h-48zM644 299h24v12h-24zM632 311h24v12h-24zM632 323h24v12h-24zM632 335h12v12h-12zM620 347h24v12h-24zM620 359h24v12h-24zM620 371h24v12h-24zM632 383h24v12h-24zM632 395h36v12h-36zM644 407h36v12h-36zM656 419h36v12h-36zM668 431h36v12h-36zM680 443h36v12h-36zM692 455h24v12h-24zM704 467h24v12h-24zM716 479h24v12h-24zM728 491h36v12h-36zM764 503h24v12h-24zM200 515h36v12h-36zM788 515h24v12h-24zM140 527h48v12h-48zM248 527h36v12h-36zM812 527h24v12h-24zM272 539h24v12h-24zM836 539h12v12h-12zM284 551h24v12h-24zM860 551h12v12h-12zM296 563h24v12h-24zM884 563h12v12h-12zM308 575h12v12h-12zM896 575h24v12h-24zM308 587h24v12h-24zM920 587h24v12h-24zM320 599h12v12h-12zM944 599h24v12h-24zM320 611h24v12h-24zM332 623h12v12h-12zM332 635h24v12h-24zM344 647h12v12h-12zM344 659h24v12h-24zM344 671h24v12h-24zM356 683h24v12h-24zM356 695h24v12h-24zM356 707h36v12h-36zM368 719h24v12h-24zM368 731h24v12h-24z"/><path fill="#dad5eb" d="M896 215h36v12h-36zM884 227h36v12h-36zM872 239h36v12h-36zM848 251h48v12h-48zM824 263h60v12h-60zM728 275h144v12h-144zM692 287h156v12h-156zM668 299h156v12h-156zM656 311h132v12h-132zM656 323h36v12h-36zM644 335h36v12h-36zM644 347h24v12h-24zM644 359h24v12h-24zM644 371h36v12h-36zM656 383h36v12h-36zM668 395h36v12h-36zM680 407h36v12h-36zM692 419h36v12h-36zM704 431h24v12h-24zM716 443h24v12h-24zM716 455h24v12h-24zM728 467h24v12h-24zM740 479h24v12h-24zM764 491h12v12h-12zM788 503h12v12h-12zM812 515h12v12h-12zM188 527h60v12h-60zM836 527h12v12h-12zM140 539h60v12h-60zM248 539h24v12h-24zM848 539h24v12h-24zM272 551h12v12h-12zM872 551h24v12h-24zM284 563h12v12h-12zM896 563h24v12h-24zM284 575h24v12h-24zM920 575h24v12h-24zM296 587h12v12h-12zM944 587h24v12h-24zM296 599h24v12h-24zM308 611h12v12h-12zM308 623h24v12h-24zM320 635h12v12h-12zM320 647h24v12h-24zM320 659h24v12h-24zM332 671h12v12h-12zM332 683h24v12h-24zM332 695h24v12h-24zM332 707h24v12h-24zM344 719h24v12h-24zM344 731h24v12h-24z"/><path fill="#d5cfe8" d="M932 215h36v12h-36zM920 227h36v12h-36zM908 239h36v12h-36zM896 251h36v12h-36zM884 263h36v12h-36zM872 275h36v12h-36zM848 287h48v12h-48zM824 299h48v12h-48zM788 311h60v12h-60zM692 323h144v12h-144zM680 335h132v12h-132zM668 347h120v12h-120zM668 359h84v12h-84zM680 371h72v12h-72zM692 383h48v12h-48zM704 395h48v12h-48zM716 407h36v12h-36zM728 419h24v12h-24zM728 431h24v12h-24zM740 443h12v12h-12zM740 455h24v12h-24zM752 467h12v12h-12zM764 479h12v12h-12zM776 491h24v12h-24zM800 503h24v12h-24zM824 515h12v12h-12zM848 527h12v12h-12zM200 539h48v12h-48zM872 539h24v12h-24zM140 551h132v12h-132zM896 551h24v12h-24zM140 563h12v12h-12zM260 563h24v12h-24zM920 563h36v12h-36zM272 575h12v12h-12zM944 575h24v12h-24zM272 587h24v12h-24zM284 599h12v12h-12zM284 611h24v12h-24zM296 623h12v12h-12zM296 635h24v12h-24zM296 647h24v12h-24zM296 659h24v12h-24zM308 671h24v12h-24zM308 683h24v12h-24zM308 695h24v12h-24zM308 707h24v12h-24zM320 719h24v12h-24zM320 731h24v12h-24z"/><path fill="#cfc9e5" d="M956 227h12v12h-12zM944 239h24v12h-24zM932 251h24v12h-24zM920 263h24v12h-24zM908 275h24v12h-24zM896 287h24v12h-24zM872 299h36v12h-36zM848 311h36v12h-36zM836 323h24v12h-24zM812 335h36v12h-36zM788 347h48v12h-48zM752 359h60v12h-60zM752 371h36v12h-36zM740 383h36v12h-36zM752 395h24v12h-24zM752 407h24v12h-24zM752 419h12v12h-12zM752 431h24v12h-24zM752 443h24v12h-24zM764 455h12v12h-12zM764 467h24v12h-24zM776 479h24v12h-24zM800 491h12v12h-12zM824 503h12v12h-12zM836 515h24v12h-24zM860 527h24v12h-24zM896 539h24v12h-24zM920 551h36v12h-36zM152 563h108v12h-108zM956 563h12v12h-12zM140 575h48v12h-48zM224 575h48v12h-48zM248 587h24v12h-24zM260 599h24v12h-24zM260 611h24v12h-24zM272 623h24v12h-24zM272 635h24v12h-24zM272 647h24v12h-24zM272 659h24v12h-24zM284 671h24v12h-24zM284 683h24v12h-24zM284 695h24v12h-24zM284 707h24v12h-24zM284 719h36v12h-36zM296 731h24v12h-24z"/><path fill="#cac3e2" d="M956 251h12v12h-12zM944 263h24v12h-24zM932 275h36v12h-36zM920 287h24v12h-24zM908 299h24v12h-24zM884 311h24v12h-24zM860 323h24v12h-24zM848 335h24v12h-24zM836 347h24v12h-24zM812 359h36v12h-36zM788 371h36v12h-36zM776 383h36v12h-36zM776 395h24v12h-24zM776 407h12v12h-12zM764 419h24v12h-24zM776 431h12v12h-12zM776 443h12v12h-12zM776 455h12v12h-12zM788 467h12v12h-12zM800 479h12v12h-12zM812 491h12v12h-12zM836 503h12v12h-12zM860 515h24v12h-24zM884 527h36v12h-36zM920 539h36v12h-36zM956 551h12v12h-12zM188 575h36v12h-36zM140 587h108v12h-108zM140 599h120v12h-120zM224 611h36v12h-36zM236 623h36v12h-36zM236 635h36v12h-36zM248 647h24v12h-24zM248 659h24v12h-24zM248 671h36v12h-36zM260 683h24v12h-24zM260 695h24v12h-24zM260 707h24v12h-24zM260 719h24v12h-24zM260 731h36v12h-36z"/><path fill="#c4bddf" d="M944 287h24v12h-24zM932 299h24v12h-24zM908 311h24v12h-24zM884 323h24v12h-24zM872 335h12v12h-12zM860 347h12v12h-12zM848 359h12v12h-12zM824 371h24v12h-24zM812 383h24v12h-24zM800 395h12v12h-12zM788 407h24v12h-24zM788 419h12v12h-12zM788 431h12v12h-12zM788 443h12v12h-12zM788 455h24v12h-24zM800 467h12v12h-12zM812 479h12v12h-12zM824 491h24v12h-24zM848 503h24v12h-24zM884 515h36v12h-36zM920 527h48v12h-48zM956 539h12v12h-12zM140 611h84v12h-84zM140 623h96v12h-96zM140 635h96v12h-96zM176 647h72v12h-72zM200 659h48v12h-48zM212 671h36v12h-36zM212 683h48v12h-48zM212 695h48v12h-48zM224 707h36v12h-36zM224 719h36v12h-36zM224 731h36v12h-36z"/><path fill="#beb6dc" d="M956 299h12v12h-12zM932 311h36v12h-36zM908 323h36v12h-36zM884 335h24v12h-24zM872 347h24v12h-24zM860 359h12v12h-12zM848 371h12v12h-12zM836 383h12v12h-12zM812 395h24v12h-24zM812 407h12v12h-12zM800 419h12v12h-12zM800 431h12v12h-12zM800 443h12v12h-12zM812 455h12v12h-12zM812 467h12v12h-12zM824 479h24v12h-24zM848 491h24v12h-24zM872 503h48v12h-48zM920 515h48v12h-48zM140 647h36v12h-36zM140 659h60v12h-60zM140 671h72v12h-72zM140 683h72v12h-72zM140 695h72v12h-72zM140 707h84v12h-84zM152 719h72v12h-72zM164 731h60v12h-60z"/><path fill="#b9b0d9" d="M944 323h24v12h-24zM908 335h48v12h-48zM896 347h24v12h-24zM872 359h24v12h-24zM860 371h24v12h-24zM848 383h24v12h-24zM836 395h12v12h-12zM824 407h12v12h-12zM812 419h24v12h-24zM812 431h12v12h-12zM812 443h12v12h-12zM824 455h12v12h-12zM824 467h24v12h-24zM848 479h24v12h-24zM872 491h48v12h-48zM920 503h48v12h-48zM140 719h12v12h-12zM140 731h24v12h-24z"/><path fill="#b3aad6" d="M956 335h12v12h-12zM920 347h48v12h-48zM896 359h24v12h-24zM884 371h12v12h-12zM872 383h12v12h-12zM848 395h24v12h-24zM836 407h24v12h-24zM836 419h12v12h-12zM824 431h24v12h-24zM824 443h24v12h-24zM836 455h24v12h-24zM848 467h36v12h-36zM872 479h96v12h-96zM920 491h48v12h-48z"/><path fill="#aea4d3" d="M920 359h48v12h-48zM896 371h72v12h-72zM884 383h24v12h-24zM872 395h24v12h-24zM860 407h24v12h-24zM848 419h24v12h-24zM848 431h24v12h-24zM848 443h36v12h-36zM860 455h60v12h-60zM956 455h12v12h-12zM884 467h84v12h-84z"/><path fill="#a89ed0" d="M908 383h60v12h-60zM896 395h72v12h-72zM884 407h84v12h-84zM872 419h96v12h-96zM872 431h96v12h-96zM884 443h84v12h-84zM920 455h36v12h-36z"/></g><path fill="none" stroke="rgba(100,100,100,0.45)" stroke-width="7.8" stroke-linejoin="round" stroke-linecap="round" d="M239.5 407L251 403.6L260 398.3L266.1 392L270.8 383L272.7 374L272 362L268.8 353L262.3 344L254 337.6L242 332.2L215 323.9L197 319.7L185 318.4L173 319.2L164 322.4L159 326L154.5 332L152.3 338L151.6 344L152.6 353L158.5 368L169.9 383L184.7 395L203 403.6L221 407.5L230 407.9L239.5 407M140 425L167 434.7L194 440.6L227 443.6L257 442.7L284 438.6L302 432.6L309.3 428L315.9 422L327.3 407L338.4 386L343.3 371L343.9 356L340 338L330.4 311L320 289.5L311 275.9L282.3 239L275 227L269.3 215M468.4 464L476.6 461L485.1 455L489.9 449L493.5 440L493.7 431L491 423.9L485 417.6L476 414.1L470 413.9L464 415L455 420.1L448.6 428L444.1 440L443.6 446L444.4 452L446 456L449 460L452 462.3L458 464.5L468.4 464M913.2 740L896.9 716L879 692L861.5 671L844.6 653L827 637L809 623.5L797 616.9L785 613.7L776 615.6L770 619.8L764 626.7L758 636.6L743 671.1L717.6 740M140 462.6L167 466.6L194 469.1L302 473.4L317 475.3L329 478.1L338 481.5L347 486.6L366.3 503L381.9 521L404 552.6L410 559L416 563.6L425 567.7L431 568.8L437 568.8L446 566.3L455 561L462.7 554L489.6 524L521 498.1L532.1 485L539.9 470L545.9 452L549.5 434L550.8 416L550.6 389L549.2 371L545.4 356L539 339.5L530 321L524 311.8L515 301.2L488.3 275L477.3 260L472.8 251L468.8 239L466.4 227L465.4 215M962 712L930 680L898.1 650L867.1 623L837.4 599L812.9 581L794 569.4L782 564.3L770 563L761 564.7L750.6 569L741.9 575L733.2 584L725 597.2L706 641L692 666.1L677 687.2L633.6 740M962 655.5L886.9 602L810.8 551L788 538.9L776 535.1L764 533.2L749 532.7L734 533.7L674 541.1L662 544.4L657.9 548L656.5 551L656.3 557L667.6 584L670.4 599L668.9 611L664.1 620L658.1 626L650 631L641 634.1L632 635L623 633.7L617 631.5L608.8 626L603.3 620L591.8 602L585.1 587L580.3 569L579 551L590.4 455L589.8 416L586.8 353L587.3 323L589.1 296L592 272L596.4 251L602 232.7L609.6 215M140 494.8L224 495.5L257 497.9L275 500.9L290 505L302 510L315.5 518L329.8 530L345.6 548L355.8 563L380 602.9L398 627.7L413 644.2L446.5 677L459.4 692L467.8 704L474.8 716L485.3 740M962 613.7L803 524.6L785 516.1L737.7 497L720.6 488L713 482L704 473L670.4 434L642.7 410L635 399.2L629 384.9L626.2 371L626 356L628.2 341L632.5 326L638.9 311L647.9 296L659 282.4L671 271.5L680 265.1L692 258.5L704 253.5L716 249.7L737 245.5L788 239.5L809 234.5L827.2 227L846 215M140 527.6L206 521.6L224 521.1L239 522L254 524.7L269 529.7L281.4 536L294 545L302 552.7L310.5 563L318.6 575L326.9 590L375.4 695L393.7 740M962 577.8L902 552.8L851 529.1L803.6 503L784.1 491L776.2 485L762.1 470L753.3 455L748.8 443L738.4 407L726.1 377L724.6 371L725.5 365L727.4 362L735.5 356L751.5 350L797 338.9L815 332.6L830 324.6L879.5 293L893 282.9L908.2 269L959 215M140 566.4L197 555.2L215 552.9L227 552.4L236 553.1L245 555.9L254 561L263 568.3L271.8 578L279.9 590L287.7 605L295 623L303 647L311.5 677L326.3 740M962 543.5L923 532.5L884 519.6L854 507.7L832.9 497L812.7 482L799.2 467L791.8 452L789.7 443L789 434L790.3 422L794.5 410L800.4 401L809 392.5L842 371.8L866 348.1L878.7 338L920 314L962 286.2M140 624.9L173 618.2L194 617.1L209 620.2L215 623.2L222.3 629L227.4 635L233 644.3L238.1 656L241.9 668L248.9 701L253.5 740M962 506.3L932 502.1L902 496L875 488.3L857 481L844.2 473L832.6 461L826.4 449L824.5 437L827.2 425L830.5 419L835.5 413L860 392L884 368.8L892.3 362L902 356.1L914 350.9L962 334.8M962 448.3L950 450.7L935 451.8L923 451.2L911 449.1L902.4 446L896 441.9L892 437L890.6 431L893.1 422L899.1 413L907.8 404L917 397.9L926 394.5L938 392.5L950 392.3L962 393.6"/></g><use href="#lines"/></g><g transform="translate(1106 0.00)"><g clip-path="url(#clip)"><g filter="url(#b10)"><path fill="#a1524c" d="M572 515h24v12h-24z"/><path fill="#a65952" d="M560 503h48v12h-48zM560 515h12v12h-12zM596 515h12v12h-12zM560 527h48v12h-48zM572 539h24v12h-24z"/><path fill="#aa5f58" d="M560 491h36v12h-36zM548 503h12v12h-12zM608 503h12v12h-12zM548 515h12v12h-12zM608 515h24v12h-24zM548 527h12v12h-12zM608 527h24v12h-24zM560 539h12v12h-12zM596 539h24v12h-24z"/><path fill="#ae655e" d="M548 491h12v12h-12zM596 491h24v12h-24zM536 503h12v12h-12zM620 503h12v12h-12zM536 515h12v12h-12zM632 515h12v12h-12zM536 527h12v12h-12zM632 527h12v12h-12zM548 539h12v12h-12zM620 539h12v12h-12zM560 551h60v12h-60z"/><path fill="#b26c64" d="M548 479h48v12h-48zM536 491h12v12h-12zM620 491h12v12h-12zM632 503h12v12h-12zM524 515h12v12h-12zM644 515h12v12h-12zM644 527h12v12h-12zM536 539h12v12h-12zM632 539h12v12h-12zM548 551h12v12h-12zM620 551h12v12h-12zM560 563h60v12h-60z"/><path fill="#b6726b" d="M536 479h12v12h-12zM596 479h24v12h-24zM632 491h12v12h-12zM524 503h12v12h-12zM644 503h12v12h-12zM524 527h12v12h-12zM656 527h12v12h-12zM524 539h12v12h-12zM644 539h12v12h-12zM536 551h12v12h-12zM632 551h24v12h-24zM548 563h12v12h-12zM620 563h12v12h-12zM560 575h60v12h-60z"/><path fill="#ba7871" d="M560 467h36v12h-36zM620 479h12v12h-12zM524 491h12v12h-12zM656 503h12v12h-12zM656 515h12v12h-12zM668 527h12v12h-12zM656 539h24v12h-24zM524 551h12v12h-12zM656 551h12v12h-12zM524 563h24v12h-24zM632 563h36v12h-36zM536 575h24v12h-24zM620 575h24v12h-24zM536 587h96v12h-96zM536 599h72v12h-72z"/><path fill="#bd7f77" d="M548 467h12v12h-12zM596 467h12v12h-12zM524 479h12v12h-12zM644 491h12v12h-12zM512 503h12v12h-12zM512 515h12v12h-12zM668 515h12v12h-12zM512 527h12v12h-12zM680 527h12v12h-12zM512 539h12v12h-12zM680 539h24v12h-24zM512 551h12v12h-12zM668 551h36v12h-36zM512 563h12v12h-12zM668 563h36v12h-36zM512 575h24v12h-24zM644 575h48v12h-48zM512 587h24v12h-24zM632 587h36v12h-36zM512 599h24v12h-24zM608 599h36v12h-36zM512 611h120v12h-120zM536 623h72v12h-72z"/><path fill="#c1857e" d="M536 467h12v12h-12zM608 467h12v12h-12zM632 479h12v12h-12zM512 491h12v12h-12zM656 491h12v12h-12zM668 503h12v12h-12zM680 515h12v12h-12zM692 527h24v12h-24zM752 527h24v12h-24zM704 539h84v12h-84zM704 551h84v12h-84zM704 563h84v12h-84zM500 575h12v12h-12zM692 575h84v12h-84zM500 587h12v12h-12zM668 587h84v12h-84zM500 599h12v12h-12zM644 599h84v12h-84zM500 611h12v12h-12zM632 611h48v12h-48zM500 623h36v12h-36zM608 623h48v12h-48zM524 635h108v12h-108z"/><path fill="#c58b84" d="M548 455h48v12h-48zM524 467h12v12h-12zM620 467h12v12h-12zM644 479h12v12h-12zM668 491h12v12h-12zM680 503h12v12h-12zM692 515h96v12h-96zM500 527h12v12h-12zM716 527h36v12h-36zM776 527h24v12h-24zM500 539h12v12h-12zM788 539h24v12h-24zM500 551h12v12h-12zM788 551h24v12h-24zM500 563h12v12h-12zM788 563h24v12h-24zM488 575h12v12h-12zM776 575h24v12h-24zM488 587h12v12h-12zM752 587h48v12h-48zM488 599h12v12h-12zM728 599h60v12h-60zM476 611h24v12h-24zM680 611h84v12h-84zM488 623h12v12h-12zM656 623h84v12h-84zM488 635h36v12h-36zM632 635h60v12h-60zM512 647h144v12h-144zM572 659h48v12h-48z"/><path fill="#c9928b" d="M536 455h12v12h-12zM596 455h12v12h-12zM512 479h12v12h-12zM656 479h12v12h-12zM500 503h12v12h-12zM692 503h24v12h-24zM740 503h60v12h-60zM500 515h12v12h-12zM788 515h24v12h-24zM800 527h12v12h-12zM812 539h12v12h-12zM488 551h12v12h-12zM812 551h12v12h-12zM488 563h12v12h-12zM812 563h12v12h-12zM800 575h24v12h-24zM476 587h12v12h-12zM800 587h24v12h-24zM476 599h12v12h-12zM788 599h24v12h-24zM464 611h12v12h-12zM764 611h36v12h-36zM464 623h24v12h-24zM740 623h48v12h-48zM476 635h12v12h-12zM692 635h72v12h-72zM476 647h36v12h-36zM656 647h72v12h-72zM500 659h72v12h-72zM620 659h72v12h-72zM548 671h108v12h-108z"/><path fill="#cc9892" d="M548 443h36v12h-36zM608 455h12v12h-12zM632 467h12v12h-12zM680 491h24v12h-24zM740 491h60v12h-60zM716 503h24v12h-24zM800 503h12v12h-12zM812 515h12v12h-12zM812 527h24v12h-24zM488 539h12v12h-12zM824 539h12v12h-12zM824 551h12v12h-12zM476 563h12v12h-12zM824 563h12v12h-12zM476 575h12v12h-12zM824 575h12v12h-12zM464 587h12v12h-12zM824 587h12v12h-12zM464 599h12v12h-12zM812 599h24v12h-24zM452 611h12v12h-12zM800 611h24v12h-24zM452 623h12v12h-12zM788 623h24v12h-24zM464 635h12v12h-12zM764 635h36v12h-36zM464 647h12v12h-12zM728 647h48v12h-48zM476 659h24v12h-24zM692 659h60v12h-60zM488 671h60v12h-60zM656 671h72v12h-72zM524 683h168v12h-168zM572 695h72v12h-72z"/><path fill="#d09e98" d="M536 443h12v12h-12zM584 443h12v12h-12zM524 455h12v12h-12zM512 467h12v12h-12zM644 467h12v12h-12zM668 479h12v12h-12zM752 479h36v12h-36zM500 491h12v12h-12zM704 491h36v12h-36zM800 491h12v12h-12zM812 503h12v12h-12zM824 515h12v12h-12zM488 527h12v12h-12zM836 527h12v12h-12zM836 539h12v12h-12zM476 551h12v12h-12zM836 551h24v12h-24zM836 563h24v12h-24zM464 575h12v12h-12zM836 575h24v12h-24zM452 587h12v12h-12zM836 587h24v12h-24zM452 599h12v12h-12zM836 599h24v12h-24zM824 611h24v12h-24zM440 623h12v12h-12zM812 623h24v12h-24zM440 635h24v12h-24zM800 635h24v12h-24zM440 647h24v12h-24zM776 647h36v12h-36zM452 659h24v12h-24zM752 659h36v12h-36zM464 671h24v12h-24zM728 671h48v12h-48zM476 683h48v12h-48zM692 683h60v12h-60zM488 695h84v12h-84zM644 695h84v12h-84zM536 707h156v12h-156z"/><path fill="#d3a59f" d="M956 215h12v12h-12zM560 431h12v12h-12zM596 443h12v12h-12zM620 455h12v12h-12zM656 467h12v12h-12zM500 479h12v12h-12zM680 479h24v12h-24zM728 479h24v12h-24zM788 479h12v12h-12zM812 491h12v12h-12zM824 503h12v12h-12zM488 515h12v12h-12zM836 515h12v12h-12zM848 527h12v12h-12zM476 539h12v12h-12zM848 539h12v12h-12zM860 551h12v12h-12zM464 563h12v12h-12zM860 563h12v12h-12zM452 575h12v12h-12zM860 575h12v12h-12zM860 587h12v12h-12zM440 599h12v12h-12zM860 599h12v12h-12zM440 611h12v12h-12zM848 611h24v12h-24zM428 623h12v12h-12zM836 623h36v12h-36zM428 635h12v12h-12zM824 635h36v12h-36zM428 647h12v12h-12zM812 647h36v12h-36zM428 659h24v12h-24zM788 659h48v12h-48zM440 671h24v12h-24zM776 671h36v12h-36zM440 683h36v12h-36zM752 683h36v12h-36zM452 695h36v12h-36zM728 695h48v12h-48zM476 707h60v12h-60zM692 707h60v12h-60zM500 719h228v12h-228zM536 731h156v12h-156z"/><path fill="#d7aba6" d="M932 215h24v12h-24zM944 227h24v12h-24zM956 239h12v12h-12zM536 431h24v12h-24zM572 431h24v12h-24zM524 443h12v12h-12zM608 443h12v12h-12zM512 455h12v12h-12zM632 455h12v12h-12zM668 467h12v12h-12zM740 467h48v12h-48zM704 479h24v12h-24zM800 479h12v12h-12zM824 491h12v12h-12zM488 503h12v12h-12zM836 503h12v12h-12zM848 515h12v12h-12zM476 527h12v12h-12zM860 527h12v12h-12zM860 539h12v12h-12zM464 551h12v12h-12zM872 551h12v12h-12zM452 563h12v12h-12zM872 563h12v12h-12zM440 575h12v12h-12zM872 575h24v12h-24zM440 587h12v12h-12zM872 587h24v12h-24zM428 599h12v12h-12zM872 599h24v12h-24zM416 611h24v12h-24zM872 611h24v12h-24zM416 623h12v12h-12zM872 623h24v12h-24zM416 635h12v12h-12zM860 635h24v12h-24zM416 647h12v12h-12zM848 647h36v12h-36zM416 659h12v12h-12zM836 659h36v12h-36zM416 671h24v12h-24zM812 671h48v12h-48zM428 683h12v12h-12zM788 683h48v12h-48zM428 695h24v12h-24zM776 695h36v12h-36zM440 707h36v12h-36zM752 707h48v12h-48zM452 719h48v12h-48zM728 719h48v12h-48zM476 731h60v12h-60zM692 731h72v12h-72z"/><path fill="#dab2ad" d="M908 215h24v12h-24zM920 227h24v12h-24zM932 239h24v12h-24zM956 251h12v12h-12zM548 419h24v12h-24zM644 455h12v12h-12zM500 467h12v12h-12zM680 467h60v12h-60zM788 467h12v12h-12zM812 479h12v12h-12zM488 491h12v12h-12zM836 491h12v12h-12zM848 503h12v12h-12zM476 515h12v12h-12zM860 515h12v12h-12zM872 527h12v12h-12zM464 539h12v12h-12zM872 539h24v12h-24zM452 551h12v12h-12zM884 551h12v12h-12zM440 563h12v12h-12zM884 563h24v12h-24zM428 575h12v12h-12zM896 575h12v12h-12zM416 587h24v12h-24zM896 587h24v12h-24zM404 599h24v12h-24zM896 599h24v12h-24zM404 611h12v12h-12zM896 611h24v12h-24zM392 623h24v12h-24zM896 623h24v12h-24zM392 635h24v12h-24zM884 635h36v12h-36zM392 647h24v12h-24zM884 647h24v12h-24zM392 659h24v12h-24zM872 659h36v12h-36zM404 671h12v12h-12zM860 671h36v12h-36zM404 683h24v12h-24zM836 683h48v12h-48zM416 695h12v12h-12zM812 695h60v12h-60zM416 707h24v12h-24zM800 707h48v12h-48zM428 719h24v12h-24zM776 719h60v12h-60zM440 731h36v12h-36zM764 731h48v12h-48z"/><path fill="#deb8b4" d="M896 215h12v12h-12zM908 227h12v12h-12zM908 239h24v12h-24zM920 251h36v12h-36zM944 263h24v12h-24zM536 419h12v12h-12zM572 419h12v12h-12zM524 431h12v12h-12zM596 431h12v12h-12zM512 443h12v12h-12zM620 443h12v12h-12zM656 455h12v12h-12zM740 455h48v12h-48zM800 467h12v12h-12zM824 479h12v12h-12zM848 491h12v12h-12zM860 503h12v12h-12zM872 515h12v12h-12zM464 527h12v12h-12zM884 527h12v12h-12zM896 539h12v12h-12zM896 551h24v12h-24zM428 563h12v12h-12zM908 563h24v12h-24zM416 575h12v12h-12zM908 575h24v12h-24zM392 587h24v12h-24zM920 587h24v12h-24zM392 599h12v12h-12zM920 599h24v12h-24zM380 611h24v12h-24zM920 611h24v12h-24zM380 623h12v12h-12zM920 623h36v12h-36zM380 635h12v12h-12zM920 635h36v12h-36zM380 647h12v12h-12zM908 647h36v12h-36zM380 659h12v12h-12zM908 659h36v12h-36zM380 671h24v12h-24zM896 671h48v12h-48zM392 683h12v12h-12zM884 683h48v12h-48zM392 695h24v12h-24zM872 695h48v12h-48zM392 707h24v12h-24zM848 707h60v12h-60zM404 719h24v12h-24zM836 719h60v12h-60zM416 731h24v12h-24zM812 731h72v12h-72z"/><path fill="#e1bfbb" d="M884 215h12v12h-12zM884 227h24v12h-24zM896 239h12v12h-12zM908 251h12v12h-12zM920 263h24v12h-24zM944 275h24v12h-24zM548 407h24v12h-24zM524 419h12v12h-12zM584 419h12v12h-12zM512 431h12v12h-12zM608 431h12v12h-12zM632 443h12v12h-12zM500 455h12v12h-12zM668 455h72v12h-72zM788 455h12v12h-12zM812 467h24v12h-24zM488 479h12v12h-12zM836 479h12v12h-12zM860 491h12v12h-12zM476 503h12v12h-12zM872 503h12v12h-12zM464 515h12v12h-12zM884 515h12v12h-12zM896 527h24v12h-24zM452 539h12v12h-12zM908 539h24v12h-24zM428 551h24v12h-24zM920 551h24v12h-24zM416 563h12v12h-12zM932 563h24v12h-24zM392 575h24v12h-24zM932 575h36v12h-36zM380 587h12v12h-12zM944 587h24v12h-24zM368 599h24v12h-24zM944 599h24v12h-24zM368 611h12v12h-12zM944 611h24v12h-24zM356 623h24v12h-24zM956 623h12v12h-12zM356 635h24v12h-24zM956 635h12v12h-12zM368 647h12v12h-12zM944 647h24v12h-24zM368 659h12v12h-12zM944 659h24v12h-24zM368 671h12v12h-12zM944 671h24v12h-24zM368 683h24v12h-24zM932 683h36v12h-36zM380 695h12v12h-12zM920 695h48v12h-48zM380 707h12v12h-12zM908 707h60v12h-60zM380 719h24v12h-24zM896 719h72v12h-72zM392 731h24v12h-24zM884 731h72v12h-72z"/><path fill="#e5c6c2" d="M860 215h24v12h-24zM872 227h12v12h-12zM884 239h12v12h-12zM896 251h12v12h-12zM896 263h24v12h-24zM920 275h24v12h-24zM944 287h24v12h-24zM524 407h24v12h-24zM572 407h12v12h-12zM596 419h12v12h-12zM500 443h12v12h-12zM644 443h12v12h-12zM728 443h60v12h-60zM800 455h12v12h-12zM488 467h12v12h-12zM836 467h12v12h-12zM848 479h12v12h-12zM476 491h12v12h-12zM872 491h12v12h-12zM884 503h12v12h-12zM896 515h24v12h-24zM452 527h12v12h-12zM920 527h12v12h-12zM440 539h12v12h-12zM932 539h24v12h-24zM416 551h12v12h-12zM944 551h24v12h-24zM380 563h36v12h-36zM956 563h12v12h-12zM368 575h24v12h-24zM356 587h24v12h-24zM356 599h12v12h-12zM344 611h24v12h-24zM344 623h12v12h-12zM344 635h12v12h-12zM344 647h24v12h-24zM344 659h24v12h-24zM356 671h12v12h-12zM356 683h12v12h-12zM356 695h24v12h-24zM368 707h12v12h-12zM368 719h12v12h-12zM368 731h24v12h-24zM956 731h12v12h-12z"/><path fill="#e8ccc9" d="M848 215h12v12h-12zM860 227h12v12h-12zM872 239h12v12h-12zM872 251h24v12h-24zM884 263h12v12h-12zM896 275h24v12h-24zM920 287h24v12h-24zM944 299h24v12h-24zM536 395h36v12h-36zM584 407h12v12h-12zM512 419h12v12h-12zM608 419h12v12h-12zM500 431h12v12h-12zM620 431h12v12h-12zM656 443h12v12h-12zM704 443h24v12h-24zM788 443h12v12h-12zM812 455h24v12h-24zM848 467h12v12h-12zM860 479h12v12h-12zM884 491h12v12h-12zM464 503h12v12h-12zM896 503h24v12h-24zM452 515h12v12h-12zM920 515h24v12h-24zM440 527h12v12h-12zM932 527h36v12h-36zM416 539h24v12h-24zM956 539h12v12h-12zM392 551h24v12h-24zM356 563h24v12h-24zM344 575h24v12h-24zM344 587h12v12h-12zM332 599h24v12h-24zM332 611h12v12h-12zM332 623h12v12h-12zM332 635h12v12h-12zM332 647h12v12h-12zM332 659h12v12h-12zM332 671h24v12h-24zM344 683h12v12h-12zM344 695h12v12h-12zM344 707h24v12h-24zM356 719h12v12h-12zM356 731h12v12h-12z"/><path fill="#ebd3d0" d="M836 215h12v12h-12zM848 227h12v12h-12zM848 239h24v12h-24zM860 251h12v12h-12zM872 263h12v12h-12zM884 275h12v12h-12zM896 287h24v12h-24zM920 299h24v12h-24zM956 311h12v12h-12zM536 383h36v12h-36zM524 395h12v12h-12zM572 395h12v12h-12zM512 407h12v12h-12zM596 407h12v12h-12zM632 431h12v12h-12zM728 431h60v12h-60zM668 443h36v12h-36zM800 443h12v12h-12zM488 455h12v12h-12zM836 455h12v12h-12zM860 467h12v12h-12zM476 479h12v12h-12zM872 479h24v12h-24zM464 491h12v12h-12zM896 491h24v12h-24zM920 503h48v12h-48zM440 515h12v12h-12zM944 515h24v12h-24zM428 527h12v12h-12zM404 539h12v12h-12zM356 551h36v12h-36zM344 563h12v12h-12zM332 575h12v12h-12zM332 587h12v12h-12zM320 599h12v12h-12zM320 611h12v12h-12zM320 623h12v12h-12zM320 635h12v12h-12zM320 647h12v12h-12zM320 659h12v12h-12zM320 671h12v12h-12zM332 683h12v12h-12zM332 695h12v12h-12zM332 707h12v12h-12zM332 719h24v12h-24zM344 731h12v12h-12z"/><path fill="#eedad7" d="M824 215h12v12h-12zM836 227h12v12h-12zM836 239h12v12h-12zM848 251h12v12h-12zM860 263h12v12h-12zM872 275h12v12h-12zM884 287h12v12h-12zM908 299h12v12h-12zM932 311h24v12h-24zM956 323h12v12h-12zM536 371h24v12h-24zM524 383h12v12h-12zM512 395h12v12h-12zM584 395h12v12h-12zM500 419h12v12h-12zM620 419h12v12h-12zM752 419h12v12h-12zM644 431h12v12h-12zM704 431h24v12h-24zM788 431h12v12h-12zM488 443h12v12h-12zM812 443h24v12h-24zM848 455h12v12h-12zM476 467h12v12h-12zM872 467h12v12h-12zM896 479h24v12h-24zM920 491h48v12h-48zM452 503h12v12h-12zM416 527h12v12h-12zM368 539h36v12h-36zM344 551h12v12h-12zM332 563h12v12h-12zM320 575h12v12h-12zM320 587h12v12h-12zM308 611h12v12h-12zM308 623h12v12h-12zM308 635h12v12h-12zM308 647h12v12h-12zM308 659h12v12h-12zM308 671h12v12h-12zM320 683h12v12h-12zM320 695h12v12h-12zM320 707h12v12h-12zM320 719h12v12h-12zM320 731h24v12h-24z"/><path fill="#f1e0de" d="M812 215h12v12h-12zM812 227h24v12h-24zM824 239h12v12h-12zM836 251h12v12h-12zM848 263h12v12h-12zM860 275h12v12h-12zM872 287h12v12h-12zM896 299h12v12h-12zM920 311h12v12h-12zM944 323h12v12h-12zM956 335h12v12h-12zM524 371h12v12h-12zM560 371h12v12h-12zM512 383h12v12h-12zM572 383h12v12h-12zM500 395h12v12h-12zM500 407h12v12h-12zM608 407h12v12h-12zM740 407h12v12h-12zM716 419h36v12h-36zM764 419h24v12h-24zM488 431h12v12h-12zM656 431h48v12h-48zM800 431h12v12h-12zM836 443h12v12h-12zM476 455h12v12h-12zM860 455h12v12h-12zM884 467h24v12h-24zM464 479h12v12h-12zM920 479h48v12h-48zM452 491h12v12h-12zM440 503h12v12h-12zM428 515h12v12h-12zM380 527h36v12h-36zM344 539h24v12h-24zM320 551h24v12h-24zM320 563h12v12h-12zM308 575h12v12h-12zM308 587h12v12h-12zM308 599h12v12h-12zM296 647h12v12h-12zM296 659h12v12h-12zM296 671h12v12h-12zM308 683h12v12h-12zM308 695h12v12h-12zM308 707h12v12h-12zM308 719h12v12h-12zM308 731h12v12h-12z"/><path fill="#f5e7e5" d="M788 215h24v12h-24zM800 227h12v12h-12zM812 239h12v12h-12zM824 251h12v12h-12zM836 263h12v12h-12zM848 275h12v12h-12zM860 287h12v12h-12zM884 299h12v12h-12zM896 311h24v12h-24zM932 323h12v12h-12zM944 335h12v12h-12zM956 347h12v12h-12zM524 359h36v12h-36zM512 371h12v12h-12zM500 383h12v12h-12zM584 383h12v12h-12zM728 383h24v12h-24zM596 395h12v12h-12zM728 395h36v12h-36zM716 407h24v12h-24zM752 407h24v12h-24zM488 419h12v12h-12zM632 419h12v12h-12zM692 419h24v12h-24zM788 419h12v12h-12zM812 431h12v12h-12zM848 443h12v12h-12zM872 455h24v12h-24zM956 455h12v12h-12zM908 467h60v12h-60zM428 503h12v12h-12zM404 515h24v12h-24zM344 527h36v12h-36zM320 539h24v12h-24zM308 563h12v12h-12zM296 587h12v12h-12zM296 599h12v12h-12zM296 611h12v12h-12zM296 623h12v12h-12zM296 635h12v12h-12zM296 683h12v12h-12zM296 695h12v12h-12zM296 707h12v12h-12zM296 719h12v12h-12zM296 731h12v12h-12z"/><path fill="#f8eeed" d="M776 215h12v12h-12zM788 227h12v12h-12zM788 239h24v12h-24zM800 251h24v12h-24zM812 263h24v12h-24zM836 275h12v12h-12zM848 287h12v12h-12zM872 299h12v12h-12zM920 323h12v12h-12zM932 335h12v12h-12zM524 347h24v12h-24zM944 347h12v12h-12zM512 359h12v12h-12zM560 359h12v12h-12zM716 359h36v12h-36zM956 359h12v12h-12zM500 371h12v12h-12zM572 371h12v12h-12zM716 371h48v12h-48zM716 383h12v12h-12zM752 383h12v12h-12zM488 395h12v12h-12zM704 395h24v12h-24zM764 395h12v12h-12zM488 407h12v12h-12zM620 407h12v12h-12zM704 407h12v12h-12zM776 407h24v12h-24zM644 419h48v12h-48zM800 419h12v12h-12zM824 431h24v12h-24zM476 443h12v12h-12zM860 443h12v12h-12zM944 443h24v12h-24zM896 455h60v12h-60zM464 467h12v12h-12zM452 479h12v12h-12zM440 491h12v12h-12zM380 515h24v12h-24zM320 527h24v12h-24zM308 539h12v12h-12zM308 551h12v12h-12zM296 563h12v12h-12zM296 575h12v12h-12zM284 611h12v12h-12zM284 623h12v12h-12zM284 635h12v12h-12zM284 647h12v12h-12zM284 659h12v12h-12zM284 671h12v12h-12zM284 683h12v12h-12zM284 695h12v12h-12zM284 707h12v12h-12zM284 719h12v12h-12zM284 731h12v12h-12z"/><path fill="#fbf5f4" d="M764 215h12v12h-12zM764 227h24v12h-24zM776 239h12v12h-12zM776 251h24v12h-24zM788 263h24v12h-24zM812 275h24v12h-24zM836 287h12v12h-12zM860 299h12v12h-12zM884 311h12v12h-12zM908 323h12v12h-12zM524 335h12v12h-12zM920 335h12v12h-12zM512 347h12v12h-12zM548 347h12v12h-12zM716 347h48v12h-48zM500 359h12v12h-12zM752 359h12v12h-12zM944 359h12v12h-12zM176 371h36v12h-36zM704 371h12v12h-12zM764 371h12v12h-12zM956 371h12v12h-12zM176 383h36v12h-36zM488 383h12v12h-12zM596 383h12v12h-12zM704 383h12v12h-12zM764 383h12v12h-12zM956 383h12v12h-12zM176 395h36v12h-36zM608 395h12v12h-12zM776 395h12v12h-12zM956 395h12v12h-12zM632 407h12v12h-12zM692 407h12v12h-12zM956 407h12v12h-12zM812 419h12v12h-12zM956 419h12v12h-12zM476 431h12v12h-12zM848 431h12v12h-12zM944 431h24v12h-24zM872 443h72v12h-72zM464 455h12v12h-12zM404 503h24v12h-24zM320 515h60v12h-60zM308 527h12v12h-12zM296 551h12v12h-12zM284 575h12v12h-12zM284 587h12v12h-12zM284 599h12v12h-12zM272 623h12v12h-12zM272 635h12v12h-12zM272 647h12v12h-12zM272 659h12v12h-12zM272 671h12v12h-12zM272 683h12v12h-12zM272 695h12v12h-12zM272 707h12v12h-12zM272 719h12v12h-12zM272 731h12v12h-12z"/><path fill="#fefcfb" d="M740 215h24v12h-24zM752 227h12v12h-12zM752 239h24v12h-24zM764 251h12v12h-12zM764 263h24v12h-24zM776 275h36v12h-36zM788 287h48v12h-48zM836 299h24v12h-24zM872 311h12v12h-12zM524 323h12v12h-12zM740 323h24v12h-24zM896 323h12v12h-12zM512 335h12v12h-12zM536 335h24v12h-24zM716 335h60v12h-60zM908 335h12v12h-12zM164 347h60v12h-60zM500 347h12v12h-12zM560 347h12v12h-12zM764 347h12v12h-12zM932 347h12v12h-12zM152 359h84v12h-84zM488 359h12v12h-12zM572 359h12v12h-12zM704 359h12v12h-12zM764 359h12v12h-12zM932 359h12v12h-12zM140 371h36v12h-36zM212 371h36v12h-36zM488 371h12v12h-12zM584 371h12v12h-12zM776 371h12v12h-12zM944 371h12v12h-12zM140 383h36v12h-36zM212 383h36v12h-36zM692 383h12v12h-12zM776 383h12v12h-12zM944 383h12v12h-12zM140 395h36v12h-36zM212 395h24v12h-24zM620 395h12v12h-12zM692 395h12v12h-12zM788 395h12v12h-12zM944 395h12v12h-12zM152 407h72v12h-72zM476 407h12v12h-12zM644 407h12v12h-12zM668 407h24v12h-24zM800 407h12v12h-12zM944 407h12v12h-12zM164 419h48v12h-48zM476 419h12v12h-12zM824 419h12v12h-12zM932 419h24v12h-24zM860 431h24v12h-24zM908 431h36v12h-36zM464 443h12v12h-12zM452 467h12v12h-12zM440 479h12v12h-12zM428 491h12v12h-12zM332 503h72v12h-72zM308 515h12v12h-12zM296 527h12v12h-12zM296 539h12v12h-12zM284 563h12v12h-12zM272 599h12v12h-12zM272 611h12v12h-12zM260 635h12v12h-12zM260 647h12v12h-12zM260 659h12v12h-12zM260 671h12v12h-12zM260 683h12v12h-12zM260 695h12v12h-12zM260 707h12v12h-12zM260 719h12v12h-12zM260 731h12v12h-12z"/><path fill="#fcfcfd" d="M728 215h12v12h-12zM728 227h24v12h-24zM740 239h12v12h-12zM740 251h24v12h-24zM740 263h24v12h-24zM740 275h36v12h-36zM740 287h48v12h-48zM740 299h96v12h-96zM524 311h24v12h-24zM728 311h72v12h-72zM848 311h24v12h-24zM500 323h24v12h-24zM536 323h24v12h-24zM716 323h24v12h-24zM764 323h24v12h-24zM884 323h12v12h-12zM140 335h120v12h-120zM500 335h12v12h-12zM560 335h12v12h-12zM704 335h12v12h-12zM776 335h12v12h-12zM140 347h24v12h-24zM224 347h48v12h-48zM488 347h12v12h-12zM704 347h12v12h-12zM776 347h12v12h-12zM920 347h12v12h-12zM140 359h12v12h-12zM236 359h36v12h-36zM692 359h12v12h-12zM776 359h12v12h-12zM248 371h24v12h-24zM596 371h12v12h-12zM692 371h12v12h-12zM788 371h12v12h-12zM932 371h12v12h-12zM248 383h24v12h-24zM476 383h12v12h-12zM608 383h12v12h-12zM788 383h12v12h-12zM932 383h12v12h-12zM236 395h24v12h-24zM476 395h12v12h-12zM680 395h12v12h-12zM800 395h12v12h-12zM932 395h12v12h-12zM140 407h12v12h-12zM224 407h24v12h-24zM656 407h12v12h-12zM812 407h12v12h-12zM932 407h12v12h-12zM140 419h24v12h-24zM212 419h24v12h-24zM836 419h24v12h-24zM908 419h24v12h-24zM164 431h48v12h-48zM464 431h12v12h-12zM884 431h24v12h-24zM452 455h12v12h-12zM404 491h24v12h-24zM308 503h24v12h-24zM296 515h12v12h-12zM284 539h12v12h-12zM284 551h12v12h-12zM272 575h12v12h-12zM272 587h12v12h-12zM260 611h12v12h-12zM260 623h12v12h-12zM248 647h12v12h-12zM248 659h12v12h-12zM248 671h12v12h-12zM248 683h12v12h-12zM248 695h12v12h-12zM236 707h24v12h-24zM236 719h24v12h-24zM236 731h24v12h-24z"/><path fill="#f7f5fa" d="M704 215h24v12h-24zM716 227h12v12h-12zM716 239h24v12h-24zM728 251h12v12h-12zM728 263h12v12h-12zM728 275h12v12h-12zM728 287h12v12h-12zM512 299h36v12h-36zM716 299h24v12h-24zM152 311h12v12h-12zM236 311h12v12h-12zM500 311h24v12h-24zM548 311h12v12h-12zM716 311h12v12h-12zM800 311h48v12h-48zM140 323h144v12h-144zM560 323h12v12h-12zM704 323h12v12h-12zM788 323h24v12h-24zM872 323h12v12h-12zM260 335h36v12h-36zM488 335h12v12h-12zM788 335h12v12h-12zM896 335h12v12h-12zM272 347h24v12h-24zM572 347h12v12h-12zM692 347h12v12h-12zM788 347h12v12h-12zM908 347h12v12h-12zM272 359h24v12h-24zM476 359h12v12h-12zM584 359h12v12h-12zM788 359h12v12h-12zM920 359h12v12h-12zM272 371h12v12h-12zM476 371h12v12h-12zM920 371h12v12h-12zM272 383h12v12h-12zM680 383h12v12h-12zM800 383h12v12h-12zM920 383h12v12h-12zM260 395h24v12h-24zM632 395h12v12h-12zM668 395h12v12h-12zM812 395h12v12h-12zM920 395h12v12h-12zM248 407h24v12h-24zM824 407h12v12h-12zM908 407h24v12h-24zM236 419h24v12h-24zM464 419h12v12h-12zM860 419h48v12h-48zM140 431h24v12h-24zM212 431h24v12h-24zM164 443h36v12h-36zM440 467h12v12h-12zM428 479h12v12h-12zM296 491h108v12h-108zM296 503h12v12h-12zM284 515h12v12h-12zM284 527h12v12h-12zM272 563h12v12h-12zM260 587h12v12h-12zM260 599h12v12h-12zM248 611h12v12h-12zM248 623h12v12h-12zM248 635h12v12h-12zM236 647h12v12h-12zM236 659h12v12h-12zM236 671h12v12h-12zM236 683h12v12h-12zM224 695h24v12h-24zM224 707h12v12h-12zM224 719h12v12h-12zM224 731h12v12h-12z"/><path fill="#f1eff7" d="M692 215h12v12h-12zM692 227h24v12h-24zM704 239h12v12h-12zM704 251h24v12h-24zM704 263h24v12h-24zM704 275h24v12h-24zM500 287h48v12h-48zM704 287h24v12h-24zM140 299h48v12h-48zM236 299h24v12h-24zM500 299h12v12h-12zM548 299h12v12h-12zM704 299h12v12h-12zM140 311h12v12h-12zM164 311h72v12h-72zM248 311h60v12h-60zM488 311h12v12h-12zM560 311h12v12h-12zM704 311h12v12h-12zM284 323h24v12h-24zM488 323h12v12h-12zM812 323h60v12h-60zM296 335h12v12h-12zM476 335h12v12h-12zM572 335h12v12h-12zM692 335h12v12h-12zM800 335h24v12h-24zM884 335h12v12h-12zM296 347h12v12h-12zM476 347h12v12h-12zM584 347h12v12h-12zM800 347h12v12h-12zM896 347h12v12h-12zM296 359h12v12h-12zM596 359h12v12h-12zM680 359h12v12h-12zM800 359h12v12h-12zM908 359h12v12h-12zM284 371h24v12h-24zM608 371h12v12h-12zM680 371h12v12h-12zM800 371h12v12h-12zM284 383h24v12h-24zM620 383h12v12h-12zM668 383h12v12h-12zM812 383h12v12h-12zM284 395h12v12h-12zM644 395h24v12h-24zM908 395h12v12h-12zM272 407h24v12h-24zM464 407h12v12h-12zM836 407h12v12h-12zM896 407h12v12h-12zM260 419h36v12h-36zM236 431h48v12h-48zM140 443h24v12h-24zM200 443h36v12h-36zM452 443h12v12h-12zM296 467h24v12h-24zM284 479h72v12h-72zM416 479h12v12h-12zM284 491h12v12h-12zM284 503h12v12h-12zM272 527h12v12h-12zM272 539h12v12h-12zM272 551h12v12h-12zM260 575h12v12h-12zM248 599h12v12h-12zM236 623h12v12h-12zM236 635h12v12h-12zM224 647h12v12h-12zM224 659h12v12h-12zM224 671h12v12h-12zM224 683h12v12h-12zM212 695h12v12h-12zM212 707h12v12h-12zM212 719h12v12h-12zM212 731h12v12h-12z"/><path fill="#ebe8f4" d="M668 215h24v12h-24zM680 227h12v12h-12zM680 239h24v12h-24zM692 251h12v12h-12zM140 263h12v12h-12zM512 263h36v12h-36zM692 263h12v12h-12zM140 275h24v12h-24zM500 275h60v12h-60zM692 275h12v12h-12zM140 287h48v12h-48zM248 287h48v12h-48zM488 287h12v12h-12zM548 287h24v12h-24zM692 287h12v12h-12zM188 299h48v12h-48zM260 299h60v12h-60zM488 299h12v12h-12zM560 299h12v12h-12zM692 299h12v12h-12zM308 311h12v12h-12zM476 311h12v12h-12zM572 311h12v12h-12zM692 311h12v12h-12zM308 323h12v12h-12zM476 323h12v12h-12zM572 323h12v12h-12zM692 323h12v12h-12zM308 335h12v12h-12zM584 335h12v12h-12zM824 335h24v12h-24zM860 335h24v12h-24zM308 347h12v12h-12zM596 347h12v12h-12zM680 347h12v12h-12zM812 347h12v12h-12zM308 359h12v12h-12zM812 359h12v12h-12zM896 359h12v12h-12zM308 371h12v12h-12zM464 371h12v12h-12zM620 371h12v12h-12zM668 371h12v12h-12zM812 371h12v12h-12zM908 371h12v12h-12zM308 383h12v12h-12zM464 383h12v12h-12zM632 383h36v12h-36zM908 383h12v12h-12zM296 395h24v12h-24zM464 395h12v12h-12zM824 395h12v12h-12zM896 395h12v12h-12zM296 407h12v12h-12zM848 407h48v12h-48zM296 419h12v12h-12zM284 431h36v12h-36zM452 431h12v12h-12zM236 443h84v12h-84zM140 455h96v12h-96zM248 455h84v12h-84zM440 455h12v12h-12zM272 467h24v12h-24zM320 467h36v12h-36zM428 467h12v12h-12zM272 479h12v12h-12zM356 479h60v12h-60zM272 491h12v12h-12zM272 503h12v12h-12zM272 515h12v12h-12zM260 551h12v12h-12zM260 563h12v12h-12zM248 575h12v12h-12zM248 587h12v12h-12zM236 599h12v12h-12zM236 611h12v12h-12zM224 623h12v12h-12zM224 635h12v12h-12zM212 647h12v12h-12zM212 659h12v12h-12zM212 671h12v12h-12zM200 683h24v12h-24zM200 695h12v12h-12zM200 707h12v12h-12zM200 719h12v12h-12zM200 731h12v12h-12z"/><path fill="#e6e2f1" d="M140 215h132v12h-132zM644 215h24v12h-24zM140 227h132v12h-132zM512 227h36v12h-36zM656 227h24v12h-24zM140 239h132v12h-132zM500 239h60v12h-60zM668 239h12v12h-12zM140 251h120v12h-120zM488 251h84v12h-84zM668 251h24v12h-24zM152 263h108v12h-108zM488 263h24v12h-24zM548 263h24v12h-24zM680 263h12v12h-12zM164 275h144v12h-144zM476 275h24v12h-24zM560 275h12v12h-12zM680 275h12v12h-12zM188 287h60v12h-60zM296 287h24v12h-24zM476 287h12v12h-12zM572 287h12v12h-12zM680 287h12v12h-12zM320 299h12v12h-12zM476 299h12v12h-12zM572 299h12v12h-12zM680 299h12v12h-12zM320 311h12v12h-12zM680 311h12v12h-12zM320 323h12v12h-12zM464 323h12v12h-12zM584 323h12v12h-12zM680 323h12v12h-12zM320 335h12v12h-12zM464 335h12v12h-12zM596 335h12v12h-12zM680 335h12v12h-12zM848 335h12v12h-12zM320 347h12v12h-12zM464 347h12v12h-12zM824 347h24v12h-24zM872 347h24v12h-24zM320 359h12v12h-12zM464 359h12v12h-12zM608 359h12v12h-12zM668 359h12v12h-12zM824 359h12v12h-12zM320 371h12v12h-12zM632 371h12v12h-12zM656 371h12v12h-12zM824 371h12v12h-12zM896 371h12v12h-12zM320 383h12v12h-12zM824 383h12v12h-12zM884 383h24v12h-24zM320 395h12v12h-12zM836 395h60v12h-60zM308 407h24v12h-24zM308 419h24v12h-24zM452 419h12v12h-12zM320 431h12v12h-12zM320 443h24v12h-24zM440 443h12v12h-12zM236 455h12v12h-12zM332 455h24v12h-24zM140 467h72v12h-72zM236 467h36v12h-36zM356 467h24v12h-24zM416 467h12v12h-12zM260 479h12v12h-12zM260 491h12v12h-12zM260 503h12v12h-12zM260 515h12v12h-12zM260 527h12v12h-12zM260 539h12v12h-12zM248 563h12v12h-12zM236 575h12v12h-12zM236 587h12v12h-12zM224 599h12v12h-12zM224 611h12v12h-12zM212 623h12v12h-12zM212 635h12v12h-12zM200 647h12v12h-12zM200 659h12v12h-12zM188 671h24v12h-24zM188 683h12v12h-12zM188 695h12v12h-12zM176 707h24v12h-24zM176 719h24v12h-24zM176 731h24v12h-24z"/><path fill="#e0dcee" d="M272 215h36v12h-36zM476 215h168v12h-168zM272 227h36v12h-36zM476 227h36v12h-36zM548 227h108v12h-108zM272 239h36v12h-36zM476 239h24v12h-24zM560 239h108v12h-108zM260 251h60v12h-60zM476 251h12v12h-12zM572 251h24v12h-24zM644 251h24v12h-24zM260 263h60v12h-60zM464 263h24v12h-24zM572 263h24v12h-24zM656 263h24v12h-24zM308 275h24v12h-24zM464 275h12v12h-12zM572 275h24v12h-24zM668 275h12v12h-12zM320 287h12v12h-12zM464 287h12v12h-12zM584 287h12v12h-12zM668 287h12v12h-12zM464 299h12v12h-12zM584 299h12v12h-12zM668 299h12v12h-12zM332 311h12v12h-12zM464 311h12v12h-12zM584 311h24v12h-24zM668 311h12v12h-12zM332 323h12v12h-12zM596 323h12v12h-12zM668 323h12v12h-12zM332 335h12v12h-12zM608 335h12v12h-12zM668 335h12v12h-12zM332 347h12v12h-12zM608 347h12v12h-12zM668 347h12v12h-12zM848 347h24v12h-24zM332 359h12v12h-12zM452 359h12v12h-12zM620 359h24v12h-24zM656 359h12v12h-12zM836 359h24v12h-24zM872 359h24v12h-24zM332 371h12v12h-12zM452 371h12v12h-12zM644 371h12v12h-12zM836 371h12v12h-12zM872 371h24v12h-24zM332 383h12v12h-12zM452 383h12v12h-12zM836 383h48v12h-48zM332 395h12v12h-12zM452 395h12v12h-12zM332 407h12v12h-12zM452 407h12v12h-12zM332 419h12v12h-12zM332 431h12v12h-12zM440 431h12v12h-12zM344 443h12v12h-12zM356 455h12v12h-12zM428 455h12v12h-12zM212 467h24v12h-24zM380 467h36v12h-36zM140 479h120v12h-120zM140 491h12v12h-12zM248 491h12v12h-12zM248 503h12v12h-12zM248 515h12v12h-12zM248 527h12v12h-12zM248 539h12v12h-12zM248 551h12v12h-12zM236 563h12v12h-12zM224 575h12v12h-12zM224 587h12v12h-12zM212 599h12v12h-12zM200 611h24v12h-24zM200 623h12v12h-12zM188 635h24v12h-24zM188 647h12v12h-12zM176 659h24v12h-24zM176 671h12v12h-12zM176 683h12v12h-12zM164 695h24v12h-24zM164 707h12v12h-12zM164 719h12v12h-12zM164 731h12v12h-12z"/><path fill="#dad5eb" d="M308 215h36v12h-36zM440 215h36v12h-36zM308 227h36v12h-36zM452 227h24v12h-24zM308 239h36v12h-36zM452 239h24v12h-24zM320 251h24v12h-24zM452 251h24v12h-24zM596 251h48v12h-48zM320 263h24v12h-24zM452 263h12v12h-12zM596 263h60v12h-60zM332 275h12v12h-12zM452 275h12v12h-12zM596 275h72v12h-72zM332 287h12v12h-12zM452 287h12v12h-12zM596 287h72v12h-72zM332 299h12v12h-12zM452 299h12v12h-12zM596 299h24v12h-24zM644 299h24v12h-24zM452 311h12v12h-12zM608 311h12v12h-12zM656 311h12v12h-12zM452 323h12v12h-12zM608 323h24v12h-24zM656 323h12v12h-12zM344 335h12v12h-12zM452 335h12v12h-12zM620 335h48v12h-48zM344 347h12v12h-12zM452 347h12v12h-12zM620 347h48v12h-48zM344 359h12v12h-12zM644 359h12v12h-12zM860 359h12v12h-12zM848 371h24v12h-24zM344 407h12v12h-12zM440 407h12v12h-12zM344 419h12v12h-12zM440 419h12v12h-12zM344 431h12v12h-12zM428 431h12v12h-12zM356 443h24v12h-24zM428 443h12v12h-12zM368 455h60v12h-60zM152 491h96v12h-96zM140 503h36v12h-36zM224 503h24v12h-24zM236 515h12v12h-12zM236 527h12v12h-12zM236 539h12v12h-12zM224 551h24v12h-24zM224 563h12v12h-12zM212 575h12v12h-12zM200 587h24v12h-24zM188 599h24v12h-24zM188 611h12v12h-12zM176 623h24v12h-24zM164 635h24v12h-24zM164 647h24v12h-24zM164 659h12v12h-12zM152 671h24v12h-24zM152 683h24v12h-24zM152 695h12v12h-12zM140 707h24v12h-24zM140 719h24v12h-24zM140 731h24v12h-24z"/><path fill="#d5cfe8" d="M344 215h96v12h-96zM344 227h108v12h-108zM344 239h24v12h-24zM416 239h36v12h-36zM344 251h24v12h-24zM428 251h24v12h-24zM344 263h12v12h-12zM428 263h24v12h-24zM344 275h12v12h-12zM440 275h12v12h-12zM344 287h12v12h-12zM440 287h12v12h-12zM344 299h12v12h-12zM440 299h12v12h-12zM620 299h24v12h-24zM344 311h12v12h-12zM440 311h12v12h-12zM620 311h36v12h-36zM344 323h12v12h-12zM440 323h12v12h-12zM632 323h24v12h-24zM440 335h12v12h-12zM440 347h12v12h-12zM440 359h12v12h-12zM344 371h12v12h-12zM440 371h12v12h-12zM344 383h12v12h-12zM440 383h12v12h-12zM344 395h24v12h-24zM440 395h12v12h-12zM356 407h12v12h-12zM428 407h12v12h-12zM356 419h12v12h-12zM428 419h12v12h-12zM356 431h24v12h-24zM416 431h12v12h-12zM380 443h48v12h-48zM176 503h48v12h-48zM140 515h96v12h-96zM140 527h96v12h-96zM200 539h36v12h-36zM188 551h36v12h-36zM188 563h36v12h-36zM176 575h36v12h-36zM164 587h36v12h-36zM164 599h24v12h-24zM152 611h36v12h-36zM152 623h24v12h-24zM140 635h24v12h-24zM140 647h24v12h-24zM140 659h24v12h-24zM140 671h12v12h-12zM140 683h12v12h-12zM140 695h12v12h-12z"/><path fill="#cfc9e5" d="M368 239h48v12h-48zM368 251h60v12h-60zM356 263h72v12h-72zM356 275h24v12h-24zM416 275h24v12h-24zM356 287h12v12h-12zM428 287h12v12h-12zM356 299h12v12h-12zM428 299h12v12h-12zM356 311h12v12h-12zM428 311h12v12h-12zM356 323h12v12h-12zM428 323h12v12h-12zM356 335h12v12h-12zM428 335h12v12h-12zM356 347h24v12h-24zM428 347h12v12h-12zM356 359h24v12h-24zM428 359h12v12h-12zM356 371h24v12h-24zM428 371h12v12h-12zM356 383h24v12h-24zM428 383h12v12h-12zM368 395h12v12h-12zM416 395h24v12h-24zM368 407h24v12h-24zM404 407h24v12h-24zM368 419h60v12h-60zM380 431h36v12h-36zM140 539h60v12h-60zM140 551h48v12h-48zM140 563h48v12h-48zM140 575h36v12h-36zM140 587h24v12h-24zM140 599h24v12h-24zM140 611h12v12h-12zM140 623h12v12h-12z"/><path fill="#cac3e2" d="M380 275h36v12h-36zM368 287h60v12h-60zM368 299h60v12h-60zM368 311h60v12h-60zM368 323h60v12h-60zM368 335h60v12h-60zM380 347h48v12h-48zM380 359h48v12h-48zM380 371h48v12h-48zM380 383h48v12h-48zM380 395h36v12h-36zM392 407h12v12h-12z"/></g><path fill="none" stroke="rgba(100,100,100,0.45)" stroke-width="7.8" stroke-linejoin="round" stroke-linecap="round" d="M593.2 539L598.2 536L601 533L603.5 527L602.8 521L598.7 515L590 509.9L581 508.2L572 509.6L566 513.3L563 518L562.5 524L564.5 530L569 535.8L575 539.4L581 540.8L587 540.7L593.2 539M606.3 593L620 587.8L635 579.6L653 567.1L662 558.4L667 551L669.9 542L669.8 530L666.7 521L658.2 509L644.2 497L628.9 488L611 480.4L590 474.8L572 473.2L557 474.9L545 479.6L536 485.7L530 492.3L525 503L522 515L521 527L522.1 539L525.4 551L530.5 563L542 580.2L548 585.7L554 589.1L566 592.5L587 595.4L596 595.3L606.3 593M639 695L659 691.2L680 685.8L707 677.3L731 668.4L752 659.4L773 649L791 638.6L804.9 629L815.2 620L823.1 611L828.9 602L833.9 590L836 580.3L836.6 569L835.1 557L831.6 545L824.3 530L812 513.8L796.2 500L782 492.6L776 491.6L767 492.6L734 503.1L725 504.5L716 504.2L701 499.8L617 462.4L590 452L578 449.1L566 448.2L557 449.1L548 451.7L536 458.3L524 469L515 481.1L509 492.9L502.1 512L493.3 545L488.2 560L482 573.1L468.9 596L463.7 608L461.6 617L460.9 626L461.6 635L464 644.2L470 655.8L479 665.8L491 673.9L506 679.8L542 686.4L572 693.3L590 696.1L614 697.1L639 695M895.1 215L911 238.2L926 253.9L941 264.3L962 274.3M858.5 740L893 717.6L905.9 707L917 695.9L927.1 683L933.9 671L938.6 659L941.4 647L942.5 635L941.5 620L939 608L933.8 593L926.6 578L917.3 563L906.1 548L893 533L868.3 509L845 490.4L824 477.8L797 465.7L779 460.9L764 459.6L749 460.5L722 465.3L710 466.6L692 466.4L674 464.1L659 460.5L638 452.9L596 430.4L581 423.7L569 420L560 419L551 419.9L542 423.2L533 429.2L524 438L515 449.4L506 463.5L479 517L465.6 539L455 551L440 564.7L401.5 593L393.7 602L387 614L382.8 629L381.7 644L382.8 659L386.6 677L392 692.6L400.4 710L410 725.1L422.1 740M819.9 215L834.3 236L849.3 254L872.8 278L895.5 299L905 305.4L941 319.6L962 330.5M962 492.4L938 490.2L908 482.4L878 470.9L797 435.6L779 429.6L767 426.9L752 425.7L740 426.9L701 437.4L686 440.3L674 440.7L659 438.2L644 433.1L628.4 425L605.5 410L578 389.8L563 380.5L557 378.3L548 376.9L542 377.3L536 379L530 382.2L524 387L514.8 398L508.3 410L487.6 458L478.9 476L470 489.8L455 506.6L437 520.7L416 531.9L401 537.3L362 547.2L347 553.5L335 562.2L326 573.8L320 587L316.6 602L314 626L313.4 650L314.4 674L317 697.1L321.2 719L326.8 740M739.2 215L767 275.4L773 285.4L779 291.3L785 294.4L790.9 296L833 303.5L860 312.8L881 322.9L908.5 338L921.2 347L930.8 356L938 365L943.1 374L946.5 383L948.2 392L948 401L946.8 407L942.9 416L938.3 422L929 429.4L918.9 434L905 437L890 437.4L875 435.7L860 432.2L839 424.7L824 417.7L812 410.1L804.3 404L798.1 398L791 389L783.2 374L770 335.5L764 326.6L758 323.2L752 322.8L743 325L731 331.5L722 338.7L713 348.8L707 358.4L702.9 368L696.3 389L689.7 401L683.6 407L679 410L671.3 413L665 413.9L653 413.1L644 410.6L623 399L602.5 383L557 340.7L545 331.5L539 328.6L533 327.3L527 327.7L521 329.7L515 333.3L509 338.7L503 346.5L497.7 356L489.9 377L479.9 419L473 440L467 453.4L461 463.9L454.6 473L446 482.2L431 493.3L422 497.9L410 502.5L398 505.3L383 507.2L338 508.4L326 509.8L314 514.4L308 519.1L303.9 524L299 533L294.4 545L272.9 611L263.9 644L259.1 668L255.8 692L254.3 716L254.4 740M140 388.5L141.2 395L145.1 404L151.9 413L158.6 419L168.1 425L176 428.5L185 431.1L194 431.9L203 430L214.3 425L229.6 413L234.9 407L240.6 398L244 389L245.2 380L243.9 371L241.5 365L236.7 359L232.8 356L224 351.6L215 348.9L203.4 347L191 346.5L182 347.3L171.3 350L163.7 353L155 358.1L150.3 362L145.2 368L142.1 374L140 382.6M538.4 215L530 218.3L521 223.3L512 230L503 238.4L491 253.7L479.9 275L475 290L470.2 314L457.7 413L454.8 425L447.1 443L437 457.3L425 467.1L413 472.1L398 473.8L387.8 473L377 470.8L359.7 464L350.2 458L344 452.6L338.4 446L334.7 440L330.5 428L328.4 413L328.7 395L333 341L332 320L329 304.8L326 296.5L323 291.2L314 281.5L305 276.3L278 269L272 265.4L270.6 263L270.1 257L272.8 236L273.4 215M621.3 215L641 226.5L650 233.9L659 243.2L665 251L672 263L676.9 275L679.3 284L681 296L681.3 311L680 326.3L677 344L673.1 356L668 366.7L662 373.4L654.5 377L650 377.4L644 376.3L638 373.9L629 368L614 353.4L602 337.6L595 326L589.7 314L572 260.5L563 237.7L554 220.7L551 216.7L548.5 215M863 398.1L854 397.4L848 395.3L845 393.3L838.6 386L835.5 377L836.3 368L841.4 359L848 353.8L857 350.8L869 351.4L878 354.7L886.5 362L890.6 371L889.8 380L884 389.4L875 395.5L863 398.1M140 484.6L164 482.9L215 474L227 473.6L236 474.6L245 478L253 485L257.7 494L260.5 506L261.5 533L260.5 545L258.7 551L254 560L219.2 614L200.6 650L192.1 671L184.4 695L179.2 716L175.1 740"/></g><use href="#lines"/></g><g transform="translate(2212 0.00)"><g clip-path="url(#clip)"><g filter="url(#b20)"><path fill="#832424" d="M512 707h36v12h-36zM500 719h60v12h-60zM488 731h84v12h-84z"/><path fill="#882b29" d="M512 683h24v12h-24zM500 695h60v12h-60zM488 707h24v12h-24zM548 707h24v12h-24zM476 719h24v12h-24zM560 719h24v12h-24zM476 731h12v12h-12zM572 731h12v12h-12z"/><path fill="#8c322f" d="M512 671h36v12h-36zM488 683h24v12h-24zM536 683h36v12h-36zM476 695h24v12h-24zM560 695h24v12h-24zM476 707h12v12h-12zM572 707h12v12h-12zM464 719h12v12h-12zM584 719h12v12h-12zM452 731h24v12h-24zM584 731h24v12h-24z"/><path fill="#903935" d="M500 659h60v12h-60zM488 671h24v12h-24zM548 671h24v12h-24zM476 683h12v12h-12zM572 683h12v12h-12zM464 695h12v12h-12zM584 695h12v12h-12zM452 707h24v12h-24zM584 707h24v12h-24zM452 719h12v12h-12zM596 719h12v12h-12zM440 731h12v12h-12zM608 731h12v12h-12z"/><path fill="#953f3a" d="M500 647h60v12h-60zM488 659h12v12h-12zM560 659h24v12h-24zM476 671h12v12h-12zM572 671h24v12h-24zM464 683h12v12h-12zM584 683h12v12h-12zM452 695h12v12h-12zM596 695h12v12h-12zM440 707h12v12h-12zM608 707h12v12h-12zM440 719h12v12h-12zM608 719h12v12h-12zM428 731h12v12h-12zM620 731h12v12h-12z"/><path fill="#994640" d="M500 635h72v12h-72zM488 647h12v12h-12zM560 647h24v12h-24zM476 659h12v12h-12zM584 659h12v12h-12zM464 671h12v12h-12zM596 671h12v12h-12zM452 683h12v12h-12zM596 683h12v12h-12zM440 695h12v12h-12zM608 695h12v12h-12zM428 707h12v12h-12zM620 707h12v12h-12zM428 719h12v12h-12zM620 719h12v12h-12zM416 731h12v12h-12zM632 731h12v12h-12z"/><path fill="#9d4c46" d="M524 611h36v12h-36zM500 623h72v12h-72zM488 635h12v12h-12zM572 635h12v12h-12zM464 647h24v12h-24zM584 647h12v12h-12zM452 659h24v12h-24zM596 659h12v12h-12zM452 671h12v12h-12zM608 671h12v12h-12zM440 683h12v12h-12zM608 683h12v12h-12zM428 695h12v12h-12zM620 695h12v12h-12zM632 707h12v12h-12zM416 719h12v12h-12zM632 719h12v12h-12zM404 731h12v12h-12zM644 731h12v12h-12z"/><path fill="#a1524c" d="M524 599h48v12h-48zM500 611h24v12h-24zM560 611h24v12h-24zM488 623h12v12h-12zM572 623h24v12h-24zM464 635h24v12h-24zM584 635h24v12h-24zM452 647h12v12h-12zM596 647h12v12h-12zM440 659h12v12h-12zM608 659h12v12h-12zM440 671h12v12h-12zM620 671h12v12h-12zM428 683h12v12h-12zM620 683h12v12h-12zM416 695h12v12h-12zM632 695h12v12h-12zM416 707h12v12h-12zM644 707h12v12h-12zM404 719h12v12h-12zM644 719h12v12h-12zM656 731h12v12h-12z"/><path fill="#a65952" d="M536 575h24v12h-24zM512 587h60v12h-60zM500 599h24v12h-24zM572 599h12v12h-12zM488 611h12v12h-12zM584 611h12v12h-12zM464 623h24v12h-24zM596 623h12v12h-12zM452 635h12v12h-12zM608 635h12v12h-12zM440 647h12v12h-12zM608 647h12v12h-12zM620 659h12v12h-12zM428 671h12v12h-12zM632 671h12v12h-12zM416 683h12v12h-12zM632 683h12v12h-12zM404 695h12v12h-12zM644 695h12v12h-12zM404 707h12v12h-12zM656 707h12v12h-12zM392 719h12v12h-12zM656 719h12v12h-12zM392 731h12v12h-12zM668 731h12v12h-12z"/><path fill="#aa5f58" d="M548 551h12v12h-12zM524 563h48v12h-48zM512 575h24v12h-24zM560 575h24v12h-24zM500 587h12v12h-12zM572 587h24v12h-24zM488 599h12v12h-12zM584 599h12v12h-12zM464 611h24v12h-24zM596 611h12v12h-12zM452 623h12v12h-12zM608 623h12v12h-12zM440 635h12v12h-12zM620 635h12v12h-12zM428 647h12v12h-12zM620 647h12v12h-12zM428 659h12v12h-12zM632 659h12v12h-12zM416 671h12v12h-12zM644 671h12v12h-12zM404 683h12v12h-12zM644 683h12v12h-12zM656 695h12v12h-12zM392 707h12v12h-12zM668 707h12v12h-12zM380 719h12v12h-12zM668 719h12v12h-12zM380 731h12v12h-12zM680 731h12v12h-12z"/><path fill="#ae655e" d="M572 467h12v12h-12zM560 479h36v12h-36zM560 491h36v12h-36zM548 503h36v12h-36zM548 515h36v12h-36zM536 527h48v12h-48zM524 539h60v12h-60zM524 551h24v12h-24zM560 551h24v12h-24zM512 563h12v12h-12zM572 563h24v12h-24zM500 575h12v12h-12zM584 575h12v12h-12zM488 587h12v12h-12zM596 587h12v12h-12zM464 599h24v12h-24zM596 599h12v12h-12zM452 611h12v12h-12zM608 611h12v12h-12zM440 623h12v12h-12zM620 623h12v12h-12zM428 635h12v12h-12zM632 635h12v12h-12zM632 647h12v12h-12zM416 659h12v12h-12zM644 659h12v12h-12zM404 671h12v12h-12zM656 671h12v12h-12zM392 683h12v12h-12zM656 683h12v12h-12zM392 695h12v12h-12zM668 695h12v12h-12zM380 707h12v12h-12zM680 707h12v12h-12zM680 719h12v12h-12zM368 731h12v12h-12zM692 731h12v12h-12z"/><path fill="#b26c64" d="M572 443h12v12h-12zM560 455h36v12h-36zM548 467h24v12h-24zM584 467h12v12h-12zM548 479h12v12h-12zM536 491h24v12h-24zM536 503h12v12h-12zM584 503h12v12h-12zM524 515h24v12h-24zM584 515h12v12h-12zM524 527h12v12h-12zM584 527h12v12h-12zM512 539h12v12h-12zM584 539h12v12h-12zM500 551h24v12h-24zM584 551h12v12h-12zM500 563h12v12h-12zM596 563h12v12h-12zM488 575h12v12h-12zM596 575h12v12h-12zM476 587h12v12h-12zM608 587h12v12h-12zM452 599h12v12h-12zM608 599h12v12h-12zM440 611h12v12h-12zM620 611h12v12h-12zM428 623h12v12h-12zM632 623h12v12h-12zM416 635h12v12h-12zM644 635h12v12h-12zM416 647h12v12h-12zM644 647h12v12h-12zM404 659h12v12h-12zM656 659h12v12h-12zM392 671h12v12h-12zM668 671h12v12h-12zM668 683h12v12h-12zM380 695h12v12h-12zM680 695h12v12h-12zM368 707h12v12h-12zM692 707h12v12h-12zM368 719h12v12h-12zM692 719h12v12h-12zM356 731h12v12h-12zM704 731h12v12h-12z"/><path fill="#b6726b" d="M572 431h24v12h-24zM548 443h24v12h-24zM584 443h12v12h-12zM548 455h12v12h-12zM596 455h12v12h-12zM536 467h12v12h-12zM596 467h12v12h-12zM536 479h12v12h-12zM596 479h12v12h-12zM524 491h12v12h-12zM596 491h12v12h-12zM524 503h12v12h-12zM596 503h12v12h-12zM512 515h12v12h-12zM596 515h12v12h-12zM512 527h12v12h-12zM596 527h12v12h-12zM500 539h12v12h-12zM596 539h12v12h-12zM488 551h12v12h-12zM596 551h12v12h-12zM488 563h12v12h-12zM608 563h12v12h-12zM476 575h12v12h-12zM608 575h12v12h-12zM464 587h12v12h-12zM620 587h12v12h-12zM620 599h12v12h-12zM428 611h12v12h-12zM632 611h12v12h-12zM416 623h12v12h-12zM644 623h12v12h-12zM404 647h12v12h-12zM656 647h12v12h-12zM392 659h12v12h-12zM668 659h12v12h-12zM380 671h12v12h-12zM680 671h12v12h-12zM380 683h12v12h-12zM680 683h12v12h-12zM368 695h12v12h-12zM692 695h12v12h-12zM704 707h12v12h-12zM356 719h12v12h-12zM704 719h12v12h-12zM716 731h12v12h-12z"/><path fill="#ba7871" d="M572 419h24v12h-24zM548 431h24v12h-24zM596 431h12v12h-12zM596 443h12v12h-12zM536 455h12v12h-12zM524 467h12v12h-12zM524 479h12v12h-12zM512 491h12v12h-12zM608 491h12v12h-12zM512 503h12v12h-12zM608 503h12v12h-12zM500 515h12v12h-12zM500 527h12v12h-12zM608 527h12v12h-12zM488 539h12v12h-12zM608 539h12v12h-12zM608 551h12v12h-12zM476 563h12v12h-12zM464 575h12v12h-12zM620 575h12v12h-12zM452 587h12v12h-12zM632 587h12v12h-12zM440 599h12v12h-12zM632 599h12v12h-12zM416 611h12v12h-12zM644 611h12v12h-12zM404 623h12v12h-12zM656 623h12v12h-12zM404 635h12v12h-12zM656 635h12v12h-12zM392 647h12v12h-12zM668 647h12v12h-12zM380 659h12v12h-12zM680 659h12v12h-12zM692 671h12v12h-12zM368 683h12v12h-12zM692 683h12v12h-12zM356 695h12v12h-12zM704 695h12v12h-12zM356 707h12v12h-12zM716 707h12v12h-12zM344 719h12v12h-12zM716 719h12v12h-12zM344 731h12v12h-12zM728 731h12v12h-12z"/><path fill="#bd7f77" d="M560 419h12v12h-12zM596 419h12v12h-12zM536 443h12v12h-12zM608 443h12v12h-12zM524 455h12v12h-12zM608 455h12v12h-12zM512 467h12v12h-12zM608 467h12v12h-12zM512 479h12v12h-12zM608 479h12v12h-12zM500 491h12v12h-12zM500 503h12v12h-12zM488 515h12v12h-12zM608 515h12v12h-12zM488 527h12v12h-12zM476 539h12v12h-12zM476 551h12v12h-12zM620 551h12v12h-12zM464 563h12v12h-12zM620 563h12v12h-12zM452 575h12v12h-12zM632 575h12v12h-12zM440 587h12v12h-12zM416 599h24v12h-24zM644 599h12v12h-12zM404 611h12v12h-12zM656 611h12v12h-12zM392 623h12v12h-12zM668 623h12v12h-12zM392 635h12v12h-12zM668 635h12v12h-12zM380 647h12v12h-12zM680 647h12v12h-12zM368 659h12v12h-12zM692 659h12v12h-12zM368 671h12v12h-12zM704 671h12v12h-12zM356 683h12v12h-12zM704 683h12v12h-12zM716 695h12v12h-12zM344 707h12v12h-12zM728 707h12v12h-12zM728 719h12v12h-12zM332 731h12v12h-12zM740 731h12v12h-12z"/><path fill="#c1857e" d="M560 407h48v12h-48zM548 419h12v12h-12zM536 431h12v12h-12zM608 431h12v12h-12zM524 443h12v12h-12zM512 455h12v12h-12zM500 479h12v12h-12zM488 503h12v12h-12zM620 515h12v12h-12zM476 527h12v12h-12zM620 527h12v12h-12zM464 539h12v12h-12zM620 539h12v12h-12zM464 551h12v12h-12zM452 563h12v12h-12zM632 563h12v12h-12zM440 575h12v12h-12zM644 575h12v12h-12zM416 587h24v12h-24zM644 587h12v12h-12zM404 599h12v12h-12zM656 599h12v12h-12zM392 611h12v12h-12zM668 611h12v12h-12zM680 623h12v12h-12zM380 635h12v12h-12zM680 635h24v12h-24zM368 647h12v12h-12zM692 647h12v12h-12zM704 659h12v12h-12zM356 671h12v12h-12zM716 671h12v12h-12zM716 683h24v12h-24zM344 695h12v12h-12zM728 695h12v12h-12zM332 707h12v12h-12zM740 707h12v12h-12zM332 719h12v12h-12zM740 719h24v12h-24zM320 731h12v12h-12zM752 731h12v12h-12z"/><path fill="#c58b84" d="M572 395h24v12h-24zM548 407h12v12h-12zM536 419h12v12h-12zM608 419h12v12h-12zM524 431h12v12h-12zM512 443h12v12h-12zM620 455h12v12h-12zM500 467h12v12h-12zM620 467h12v12h-12zM488 479h12v12h-12zM620 479h12v12h-12zM488 491h12v12h-12zM620 491h12v12h-12zM476 503h12v12h-12zM620 503h12v12h-12zM476 515h12v12h-12zM464 527h12v12h-12zM632 539h12v12h-12zM452 551h12v12h-12zM632 551h12v12h-12zM440 563h12v12h-12zM644 563h12v12h-12zM416 575h24v12h-24zM404 587h12v12h-12zM656 587h12v12h-12zM392 599h12v12h-12zM668 599h12v12h-12zM380 611h12v12h-12zM680 611h12v12h-12zM380 623h12v12h-12zM692 623h12v12h-12zM368 635h12v12h-12zM704 635h12v12h-12zM356 647h12v12h-12zM704 647h24v12h-24zM356 659h12v12h-12zM716 659h12v12h-12zM344 671h12v12h-12zM728 671h12v12h-12zM344 683h12v12h-12zM740 683h12v12h-12zM332 695h12v12h-12zM740 695h12v12h-12zM752 707h12v12h-12zM320 719h12v12h-12zM764 719h12v12h-12zM764 731h24v12h-24z"/><path fill="#c9928b" d="M548 395h24v12h-24zM596 395h12v12h-12zM536 407h12v12h-12zM608 407h12v12h-12zM524 419h12v12h-12zM512 431h12v12h-12zM620 431h12v12h-12zM620 443h12v12h-12zM500 455h12v12h-12zM488 467h12v12h-12zM476 491h12v12h-12zM464 515h12v12h-12zM632 515h12v12h-12zM452 527h12v12h-12zM632 527h12v12h-12zM452 539h12v12h-12zM440 551h12v12h-12zM644 551h12v12h-12zM416 563h24v12h-24zM404 575h12v12h-12zM656 575h12v12h-12zM392 587h12v12h-12zM668 587h12v12h-12zM380 599h12v12h-12zM680 599h12v12h-12zM368 611h12v12h-12zM692 611h12v12h-12zM368 623h12v12h-12zM704 623h12v12h-12zM356 635h12v12h-12zM716 635h12v12h-12zM728 647h12v12h-12zM344 659h12v12h-12zM728 659h24v12h-24zM740 671h12v12h-12zM332 683h12v12h-12zM752 683h12v12h-12zM752 695h24v12h-24zM320 707h12v12h-12zM764 707h12v12h-12zM776 719h12v12h-12zM308 731h12v12h-12zM788 731h12v12h-12z"/><path fill="#cc9892" d="M560 383h36v12h-36zM536 395h12v12h-12zM524 407h12v12h-12zM512 419h12v12h-12zM620 419h12v12h-12zM500 443h12v12h-12zM488 455h12v12h-12zM476 467h12v12h-12zM476 479h12v12h-12zM464 491h12v12h-12zM632 491h12v12h-12zM464 503h12v12h-12zM632 503h12v12h-12zM452 515h12v12h-12zM440 527h12v12h-12zM440 539h12v12h-12zM644 539h12v12h-12zM416 551h24v12h-24zM656 551h12v12h-12zM404 563h12v12h-12zM656 563h12v12h-12zM392 575h12v12h-12zM668 575h12v12h-12zM380 587h12v12h-12zM680 587h12v12h-12zM368 599h12v12h-12zM692 599h24v12h-24zM356 611h12v12h-12zM704 611h24v12h-24zM356 623h12v12h-12zM716 623h36v12h-36zM344 635h12v12h-12zM728 635h24v12h-24zM344 647h12v12h-12zM740 647h24v12h-24zM332 659h12v12h-12zM752 659h12v12h-12zM332 671h12v12h-12zM752 671h24v12h-24zM320 683h12v12h-12zM764 683h12v12h-12zM320 695h12v12h-12zM776 695h12v12h-12zM308 707h12v12h-12zM776 707h24v12h-24zM308 719h12v12h-12zM788 719h24v12h-24zM296 731h12v12h-12zM800 731h24v12h-24z"/><path fill="#d09e98" d="M548 383h12v12h-12zM596 383h12v12h-12zM608 395h12v12h-12zM620 407h12v12h-12zM500 431h12v12h-12zM488 443h12v12h-12zM632 443h12v12h-12zM476 455h12v12h-12zM632 455h12v12h-12zM632 467h12v12h-12zM464 479h12v12h-12zM632 479h12v12h-12zM452 503h12v12h-12zM440 515h12v12h-12zM644 515h12v12h-12zM428 527h12v12h-12zM644 527h12v12h-12zM416 539h24v12h-24zM656 539h12v12h-12zM404 551h12v12h-12zM380 563h24v12h-24zM668 563h12v12h-12zM368 575h24v12h-24zM680 575h24v12h-24zM368 587h12v12h-12zM692 587h24v12h-24zM356 599h12v12h-12zM716 599h60v12h-60zM728 611h48v12h-48zM344 623h12v12h-12zM752 623h24v12h-24zM752 635h36v12h-36zM332 647h12v12h-12zM764 647h24v12h-24zM764 659h24v12h-24zM320 671h12v12h-12zM776 671h12v12h-12zM776 683h24v12h-24zM308 695h12v12h-12zM788 695h12v12h-12zM800 707h12v12h-12zM296 719h12v12h-12zM812 719h24v12h-24zM284 731h12v12h-12zM824 731h24v12h-24z"/><path fill="#d3a59f" d="M560 371h48v12h-48zM536 383h12v12h-12zM608 383h12v12h-12zM524 395h12v12h-12zM512 407h12v12h-12zM500 419h12v12h-12zM488 431h12v12h-12zM632 431h12v12h-12zM476 443h12v12h-12zM464 467h12v12h-12zM452 479h12v12h-12zM452 491h12v12h-12zM440 503h12v12h-12zM644 503h12v12h-12zM428 515h12v12h-12zM416 527h12v12h-12zM656 527h12v12h-12zM404 539h12v12h-12zM380 551h24v12h-24zM668 551h12v12h-12zM368 563h12v12h-12zM680 563h24v12h-24zM764 563h24v12h-24zM356 575h12v12h-12zM704 575h96v12h-96zM356 587h12v12h-12zM716 587h84v12h-84zM344 599h12v12h-12zM776 599h24v12h-24zM344 611h12v12h-12zM776 611h36v12h-36zM776 623h24v12h-24zM332 635h12v12h-12zM788 635h12v12h-12zM788 647h12v12h-12zM320 659h12v12h-12zM788 659h12v12h-12zM788 671h24v12h-24zM308 683h12v12h-12zM800 683h12v12h-12zM800 695h24v12h-24zM296 707h12v12h-12zM812 707h36v12h-36zM284 719h12v12h-12zM836 719h36v12h-36zM848 731h48v12h-48z"/><path fill="#d7aba6" d="M572 359h24v12h-24zM548 371h12v12h-12zM524 383h12v12h-12zM512 395h12v12h-12zM620 395h12v12h-12zM500 407h12v12h-12zM488 419h12v12h-12zM632 419h12v12h-12zM464 455h12v12h-12zM452 467h12v12h-12zM644 479h12v12h-12zM440 491h12v12h-12zM644 491h12v12h-12zM428 503h12v12h-12zM416 515h12v12h-12zM656 515h12v12h-12zM392 527h24v12h-24zM380 539h24v12h-24zM668 539h12v12h-12zM368 551h12v12h-12zM680 551h24v12h-24zM752 551h48v12h-48zM356 563h12v12h-12zM704 563h60v12h-60zM788 563h24v12h-24zM344 575h12v12h-12zM800 575h12v12h-12zM344 587h12v12h-12zM800 587h24v12h-24zM800 599h24v12h-24zM332 611h12v12h-12zM812 611h12v12h-12zM332 623h12v12h-12zM800 623h24v12h-24zM320 635h12v12h-12zM800 635h24v12h-24zM320 647h12v12h-12zM800 647h24v12h-24zM800 659h36v12h-36zM308 671h12v12h-12zM812 671h24v12h-24zM812 683h36v12h-36zM296 695h12v12h-12zM824 695h48v12h-48zM284 707h12v12h-12zM848 707h48v12h-48zM872 719h48v12h-48zM272 731h12v12h-12zM896 731h72v12h-72z"/><path fill="#dab2ad" d="M560 359h12v12h-12zM596 359h12v12h-12zM536 371h12v12h-12zM608 371h12v12h-12zM620 383h12v12h-12zM500 395h12v12h-12zM632 407h12v12h-12zM476 431h12v12h-12zM464 443h12v12h-12zM644 443h12v12h-12zM452 455h12v12h-12zM644 455h12v12h-12zM440 467h12v12h-12zM644 467h12v12h-12zM440 479h12v12h-12zM428 491h12v12h-12zM416 503h12v12h-12zM656 503h12v12h-12zM392 515h24v12h-24zM380 527h12v12h-12zM668 527h12v12h-12zM356 539h24v12h-24zM680 539h24v12h-24zM752 539h48v12h-48zM356 551h12v12h-12zM704 551h48v12h-48zM800 551h12v12h-12zM344 563h12v12h-12zM812 563h12v12h-12zM812 575h24v12h-24zM332 587h12v12h-12zM824 587h12v12h-12zM332 599h12v12h-12zM824 599h24v12h-24zM824 611h24v12h-24zM320 623h12v12h-12zM824 623h24v12h-24zM824 635h36v12h-36zM308 647h12v12h-12zM824 647h36v12h-36zM308 659h12v12h-12zM836 659h36v12h-36zM296 671h12v12h-12zM836 671h48v12h-48zM296 683h12v12h-12zM848 683h48v12h-48zM284 695h12v12h-12zM872 695h48v12h-48zM896 707h72v12h-72zM272 719h12v12h-12zM920 719h48v12h-48zM260 731h12v12h-12z"/><path fill="#deb8b4" d="M572 347h24v12h-24zM548 359h12v12h-12zM608 359h12v12h-12zM524 371h12v12h-12zM620 371h12v12h-12zM512 383h12v12h-12zM632 395h12v12h-12zM488 407h12v12h-12zM476 419h12v12h-12zM644 419h12v12h-12zM464 431h12v12h-12zM644 431h12v12h-12zM452 443h12v12h-12zM440 455h12v12h-12zM428 479h12v12h-12zM416 491h12v12h-12zM656 491h12v12h-12zM392 503h24v12h-24zM368 515h24v12h-24zM668 515h12v12h-12zM356 527h24v12h-24zM680 527h24v12h-24zM764 527h24v12h-24zM344 539h12v12h-12zM704 539h48v12h-48zM800 539h12v12h-12zM344 551h12v12h-12zM812 551h24v12h-24zM332 563h12v12h-12zM824 563h12v12h-12zM332 575h12v12h-12zM836 575h12v12h-12zM836 587h24v12h-24zM320 599h12v12h-12zM848 599h12v12h-12zM320 611h12v12h-12zM848 611h24v12h-24zM848 623h24v12h-24zM308 635h12v12h-12zM860 635h24v12h-24zM860 647h36v12h-36zM296 659h12v12h-12zM872 659h36v12h-36zM884 671h48v12h-48zM284 683h12v12h-12zM896 683h72v12h-72zM920 695h48v12h-48zM272 707h12v12h-12zM260 719h12v12h-12zM248 731h12v12h-12z"/><path fill="#e1bfbb" d="M548 347h24v12h-24zM596 347h12v12h-12zM536 359h12v12h-12zM512 371h12v12h-12zM500 383h12v12h-12zM632 383h12v12h-12zM488 395h12v12h-12zM476 407h12v12h-12zM644 407h12v12h-12zM464 419h12v12h-12zM452 431h12v12h-12zM440 443h12v12h-12zM656 443h12v12h-12zM656 455h12v12h-12zM428 467h12v12h-12zM656 467h12v12h-12zM416 479h12v12h-12zM656 479h12v12h-12zM392 491h24v12h-24zM380 503h12v12h-12zM668 503h12v12h-12zM356 515h12v12h-12zM680 515h24v12h-24zM344 527h12v12h-12zM704 527h60v12h-60zM788 527h24v12h-24zM812 539h24v12h-24zM332 551h12v12h-12zM836 551h12v12h-12zM836 563h24v12h-24zM320 575h12v12h-12zM848 575h24v12h-24zM320 587h12v12h-12zM860 587h24v12h-24zM860 599h24v12h-24zM872 611h24v12h-24zM308 623h12v12h-12zM872 623h36v12h-36zM884 635h36v12h-36zM296 647h12v12h-12zM896 647h48v12h-48zM908 659h60v12h-60zM284 671h12v12h-12zM932 671h36v12h-36zM272 695h12v12h-12zM260 707h12v12h-12zM248 719h12v12h-12z"/><path fill="#e5c6c2" d="M572 335h24v12h-24zM536 347h12v12h-12zM608 347h12v12h-12zM524 359h12v12h-12zM620 359h12v12h-12zM632 371h12v12h-12zM488 383h12v12h-12zM644 395h12v12h-12zM656 419h12v12h-12zM656 431h12v12h-12zM428 455h12v12h-12zM416 467h12v12h-12zM668 467h12v12h-12zM392 479h24v12h-24zM668 479h12v12h-12zM380 491h12v12h-12zM668 491h12v12h-12zM356 503h24v12h-24zM680 503h24v12h-24zM704 515h96v12h-96zM812 527h24v12h-24zM332 539h12v12h-12zM836 539h12v12h-12zM848 551h12v12h-12zM320 563h12v12h-12zM860 563h24v12h-24zM872 575h24v12h-24zM884 587h24v12h-24zM308 599h12v12h-12zM884 599h36v12h-36zM308 611h12v12h-12zM896 611h36v12h-36zM908 623h48v12h-48zM296 635h12v12h-12zM920 635h48v12h-48zM944 647h24v12h-24zM284 659h12v12h-12zM272 683h12v12h-12zM260 695h12v12h-12zM248 707h12v12h-12zM236 731h12v12h-12z"/><path fill="#e8ccc9" d="M548 335h24v12h-24zM596 335h24v12h-24zM524 347h12v12h-12zM620 347h12v12h-12zM512 359h12v12h-12zM632 359h12v12h-12zM500 371h12v12h-12zM644 383h12v12h-12zM476 395h12v12h-12zM464 407h12v12h-12zM656 407h12v12h-12zM452 419h12v12h-12zM440 431h12v12h-12zM668 431h12v12h-12zM428 443h12v12h-12zM668 443h12v12h-12zM416 455h12v12h-12zM668 455h12v12h-12zM404 467h12v12h-12zM380 479h12v12h-12zM680 479h12v12h-12zM368 491h12v12h-12zM680 491h24v12h-24zM704 503h72v12h-72zM344 515h12v12h-12zM800 515h24v12h-24zM332 527h12v12h-12zM836 527h12v12h-12zM320 539h12v12h-12zM848 539h24v12h-24zM320 551h12v12h-12zM860 551h24v12h-24zM884 563h24v12h-24zM308 575h12v12h-12zM896 575h24v12h-24zM308 587h12v12h-12zM908 587h36v12h-36zM920 599h48v12h-48zM296 611h12v12h-12zM932 611h36v12h-36zM296 623h12v12h-12zM956 623h12v12h-12zM284 647h12v12h-12zM272 671h12v12h-12zM260 683h12v12h-12zM236 719h12v12h-12zM224 731h12v12h-12z"/><path fill="#ebd3d0" d="M572 323h36v12h-36zM536 335h12v12h-12zM620 335h12v12h-12zM632 347h12v12h-12zM500 359h12v12h-12zM488 371h12v12h-12zM644 371h12v12h-12zM476 383h12v12h-12zM464 395h12v12h-12zM656 395h12v12h-12zM452 407h12v12h-12zM668 407h12v12h-12zM440 419h12v12h-12zM668 419h12v12h-12zM428 431h12v12h-12zM416 443h12v12h-12zM680 443h12v12h-12zM404 455h12v12h-12zM680 455h12v12h-12zM380 467h24v12h-24zM680 467h12v12h-12zM368 479h12v12h-12zM692 479h12v12h-12zM356 491h12v12h-12zM704 491h36v12h-36zM344 503h12v12h-12zM776 503h36v12h-36zM332 515h12v12h-12zM824 515h24v12h-24zM848 527h24v12h-24zM872 539h24v12h-24zM308 551h12v12h-12zM884 551h36v12h-36zM308 563h12v12h-12zM908 563h36v12h-36zM920 575h48v12h-48zM944 587h24v12h-24zM296 599h12v12h-12zM284 635h12v12h-12zM272 659h12v12h-12zM260 671h12v12h-12zM248 695h12v12h-12zM236 707h12v12h-12zM224 719h12v12h-12zM212 731h12v12h-12z"/><path fill="#eedad7" d="M548 323h24v12h-24zM608 323h12v12h-12zM524 335h12v12h-12zM512 347h12v12h-12zM644 359h12v12h-12zM656 383h12v12h-12zM668 395h12v12h-12zM428 419h12v12h-12zM680 419h12v12h-12zM416 431h12v12h-12zM680 431h12v12h-12zM404 443h12v12h-12zM692 443h12v12h-12zM392 455h12v12h-12zM692 455h12v12h-12zM368 467h12v12h-12zM692 467h24v12h-24zM356 479h12v12h-12zM704 479h36v12h-36zM344 491h12v12h-12zM740 491h60v12h-60zM332 503h12v12h-12zM812 503h36v12h-36zM848 515h24v12h-24zM320 527h12v12h-12zM872 527h24v12h-24zM308 539h12v12h-12zM896 539h36v12h-36zM920 551h48v12h-48zM944 563h24v12h-24zM296 575h12v12h-12zM296 587h12v12h-12zM284 611h12v12h-12zM284 623h12v12h-12zM272 647h12v12h-12zM260 659h12v12h-12zM248 683h12v12h-12zM236 695h12v12h-12zM224 707h12v12h-12zM212 719h12v12h-12zM200 731h12v12h-12z"/><path fill="#f1e0de" d="M560 311h60v12h-60zM536 323h12v12h-12zM620 323h12v12h-12zM512 335h12v12h-12zM632 335h12v12h-12zM500 347h12v12h-12zM644 347h12v12h-12zM488 359h12v12h-12zM476 371h12v12h-12zM656 371h12v12h-12zM464 383h12v12h-12zM668 383h12v12h-12zM452 395h12v12h-12zM680 395h12v12h-12zM440 407h12v12h-12zM680 407h24v12h-24zM692 419h12v12h-12zM692 431h24v12h-24zM392 443h12v12h-12zM704 443h24v12h-24zM380 455h12v12h-12zM704 455h24v12h-24zM716 467h36v12h-36zM344 479h12v12h-12zM740 479h48v12h-48zM800 491h36v12h-36zM848 503h24v12h-24zM320 515h12v12h-12zM872 515h36v12h-36zM896 527h72v12h-72zM932 539h36v12h-36zM296 563h12v12h-12zM284 599h12v12h-12zM272 635h12v12h-12zM260 647h12v12h-12zM248 671h12v12h-12zM236 683h12v12h-12zM224 695h12v12h-12zM212 707h12v12h-12zM200 719h12v12h-12zM188 731h12v12h-12z"/><path fill="#f5e7e5" d="M584 299h24v12h-24zM548 311h12v12h-12zM620 311h12v12h-12zM524 323h12v12h-12zM632 323h24v12h-24zM644 335h12v12h-12zM488 347h12v12h-12zM656 347h12v12h-12zM476 359h12v12h-12zM656 359h24v12h-24zM464 371h12v12h-12zM668 371h24v12h-24zM680 383h24v12h-24zM692 395h24v12h-24zM428 407h12v12h-12zM704 407h24v12h-24zM416 419h12v12h-12zM704 419h24v12h-24zM404 431h12v12h-12zM716 431h24v12h-24zM380 443h12v12h-12zM728 443h24v12h-24zM368 455h12v12h-12zM728 455h36v12h-36zM356 467h12v12h-12zM752 467h36v12h-36zM788 479h36v12h-36zM332 491h12v12h-12zM836 491h36v12h-36zM320 503h12v12h-12zM872 503h72v12h-72zM908 515h60v12h-60zM308 527h12v12h-12zM296 539h12v12h-12zM296 551h12v12h-12zM284 587h12v12h-12zM272 611h12v12h-12zM272 623h12v12h-12zM260 635h12v12h-12zM248 659h12v12h-12zM236 671h12v12h-12zM224 683h12v12h-12zM212 695h12v12h-12zM200 707h12v12h-12zM188 719h12v12h-12zM176 731h12v12h-12z"/><path fill="#f8eeed" d="M560 299h24v12h-24zM608 299h24v12h-24zM536 311h12v12h-12zM632 311h24v12h-24zM512 323h12v12h-12zM656 323h12v12h-12zM500 335h12v12h-12zM656 335h24v12h-24zM668 347h12v12h-12zM680 359h24v12h-24zM692 371h24v12h-24zM452 383h12v12h-12zM704 383h24v12h-24zM440 395h12v12h-12zM716 395h24v12h-24zM728 407h24v12h-24zM404 419h12v12h-12zM728 419h24v12h-24zM392 431h12v12h-12zM740 431h24v12h-24zM752 443h24v12h-24zM356 455h12v12h-12zM764 455h24v12h-24zM344 467h12v12h-12zM788 467h36v12h-36zM332 479h12v12h-12zM824 479h48v12h-48zM872 491h96v12h-96zM944 503h24v12h-24zM308 515h12v12h-12zM284 563h12v12h-12zM284 575h12v12h-12zM272 599h12v12h-12zM260 623h12v12h-12zM248 647h12v12h-12zM236 659h12v12h-12zM224 671h12v12h-12zM200 695h12v12h-12zM188 707h12v12h-12zM176 719h12v12h-12zM152 731h24v12h-24z"/><path fill="#fbf5f4" d="M572 287h60v12h-60zM548 299h12v12h-12zM632 299h24v12h-24zM524 311h12v12h-12zM656 311h12v12h-12zM668 323h12v12h-12zM488 335h12v12h-12zM680 335h24v12h-24zM476 347h12v12h-12zM680 347h36v12h-36zM464 359h12v12h-12zM704 359h36v12h-36zM452 371h12v12h-12zM716 371h36v12h-36zM440 383h12v12h-12zM728 383h24v12h-24zM428 395h12v12h-12zM740 395h24v12h-24zM416 407h12v12h-12zM752 407h24v12h-24zM752 419h24v12h-24zM380 431h12v12h-12zM764 431h24v12h-24zM368 443h12v12h-12zM776 443h24v12h-24zM788 455h36v12h-36zM956 455h12v12h-12zM824 467h48v12h-48zM908 467h60v12h-60zM872 479h96v12h-96zM320 491h12v12h-12zM308 503h12v12h-12zM296 527h12v12h-12zM284 551h12v12h-12zM272 587h12v12h-12zM248 635h12v12h-12zM212 683h12v12h-12zM188 695h12v12h-12zM176 707h12v12h-12zM164 719h12v12h-12zM140 731h12v12h-12z"/><path fill="#fefcfb" d="M908 263h60v12h-60zM884 275h84v12h-84zM560 287h12v12h-12zM632 287h24v12h-24zM884 287h84v12h-84zM536 299h12v12h-12zM656 299h24v12h-24zM884 299h84v12h-84zM512 311h12v12h-12zM668 311h36v12h-36zM884 311h84v12h-84zM500 323h12v12h-12zM680 323h48v12h-48zM896 323h72v12h-72zM704 335h36v12h-36zM920 335h48v12h-48zM716 347h36v12h-36zM944 347h24v12h-24zM740 359h24v12h-24zM956 359h12v12h-12zM752 371h24v12h-24zM956 371h12v12h-12zM752 383h24v12h-24zM764 395h24v12h-24zM404 407h12v12h-12zM776 407h12v12h-12zM956 407h12v12h-12zM392 419h12v12h-12zM776 419h24v12h-24zM956 419h12v12h-12zM368 431h12v12h-12zM788 431h24v12h-24zM944 431h24v12h-24zM356 443h12v12h-12zM800 443h24v12h-24zM920 443h48v12h-48zM344 455h12v12h-12zM824 455h132v12h-132zM332 467h12v12h-12zM872 467h36v12h-36zM320 479h12v12h-12zM296 515h12v12h-12zM284 539h12v12h-12zM272 575h12v12h-12zM260 611h12v12h-12zM248 623h12v12h-12zM236 647h12v12h-12zM224 659h12v12h-12zM212 671h12v12h-12zM200 683h12v12h-12zM176 695h12v12h-12zM164 707h12v12h-12zM140 719h24v12h-24z"/><path fill="#fcfcfd" d="M920 227h48v12h-48zM884 239h84v12h-84zM872 251h96v12h-96zM860 263h48v12h-48zM572 275h84v12h-84zM848 275h36v12h-36zM548 287h12v12h-12zM656 287h36v12h-36zM836 287h48v12h-48zM524 299h12v12h-12zM680 299h48v12h-48zM836 299h48v12h-48zM500 311h12v12h-12zM704 311h60v12h-60zM836 311h48v12h-48zM488 323h12v12h-12zM728 323h60v12h-60zM848 323h48v12h-48zM476 335h12v12h-12zM740 335h48v12h-48zM872 335h48v12h-48zM464 347h12v12h-12zM752 347h48v12h-48zM884 347h60v12h-60zM452 359h12v12h-12zM764 359h36v12h-36zM908 359h48v12h-48zM440 371h12v12h-12zM776 371h24v12h-24zM920 371h36v12h-36zM428 383h12v12h-12zM776 383h24v12h-24zM920 383h48v12h-48zM416 395h12v12h-12zM788 395h24v12h-24zM920 395h48v12h-48zM788 407h24v12h-24zM920 407h36v12h-36zM380 419h12v12h-12zM800 419h24v12h-24zM908 419h48v12h-48zM812 431h24v12h-24zM896 431h48v12h-48zM344 443h12v12h-12zM824 443h96v12h-96zM332 455h12v12h-12zM308 491h12v12h-12zM284 527h12v12h-12zM272 563h12v12h-12zM260 599h12v12h-12zM248 611h12v12h-12zM236 635h12v12h-12zM224 647h12v12h-12zM212 659h12v12h-12zM200 671h12v12h-12zM176 683h24v12h-24zM164 695h12v12h-12zM140 707h24v12h-24z"/><path fill="#f7f5fa" d="M884 215h84v12h-84zM860 227h60v12h-60zM836 239h48v12h-48zM824 251h48v12h-48zM596 263h72v12h-72zM800 263h60v12h-60zM560 275h12v12h-12zM656 275h72v12h-72zM776 275h72v12h-72zM536 287h12v12h-12zM692 287h144v12h-144zM512 299h12v12h-12zM728 299h108v12h-108zM764 311h72v12h-72zM788 323h60v12h-60zM788 335h84v12h-84zM800 347h84v12h-84zM800 359h108v12h-108zM800 371h120v12h-120zM800 383h36v12h-36zM872 383h48v12h-48zM404 395h12v12h-12zM812 395h24v12h-24zM872 395h48v12h-48zM392 407h12v12h-12zM812 407h24v12h-24zM872 407h48v12h-48zM368 419h12v12h-12zM824 419h84v12h-84zM356 431h12v12h-12zM836 431h60v12h-60zM320 467h12v12h-12zM308 479h12v12h-12zM296 503h12v12h-12zM272 551h12v12h-12zM260 587h12v12h-12zM236 623h12v12h-12zM224 635h12v12h-12zM212 647h12v12h-12zM200 659h12v12h-12zM188 671h12v12h-12zM164 683h12v12h-12zM140 695h24v12h-24z"/><path fill="#f1eff7" d="M836 215h48v12h-48zM812 227h48v12h-48zM788 239h48v12h-48zM620 251h48v12h-48zM752 251h72v12h-72zM572 263h24v12h-24zM668 263h132v12h-132zM536 275h24v12h-24zM728 275h48v12h-48zM524 287h12v12h-12zM500 299h12v12h-12zM488 311h12v12h-12zM476 323h12v12h-12zM464 335h12v12h-12zM452 347h12v12h-12zM440 359h12v12h-12zM428 371h12v12h-12zM416 383h12v12h-12zM836 383h36v12h-36zM836 395h36v12h-36zM380 407h12v12h-12zM836 407h36v12h-36zM344 431h12v12h-12zM332 443h12v12h-12zM320 455h12v12h-12zM296 491h12v12h-12zM284 515h12v12h-12zM272 539h12v12h-12zM260 575h12v12h-12zM248 599h12v12h-12zM236 611h12v12h-12zM224 623h12v12h-12zM212 635h12v12h-12zM200 647h12v12h-12zM188 659h12v12h-12zM164 671h24v12h-24zM140 683h24v12h-24z"/><path fill="#ebe8f4" d="M788 215h48v12h-48zM764 227h48v12h-48zM656 239h132v12h-132zM584 251h36v12h-36zM668 251h84v12h-84zM548 263h24v12h-24zM524 275h12v12h-12zM512 287h12v12h-12zM476 311h12v12h-12zM464 323h12v12h-12zM392 395h12v12h-12zM368 407h12v12h-12zM356 419h12v12h-12zM308 467h12v12h-12zM296 479h12v12h-12zM284 503h12v12h-12zM272 527h12v12h-12zM260 563h12v12h-12zM248 587h12v12h-12zM188 647h12v12h-12zM164 659h24v12h-24zM140 671h24v12h-24z"/><path fill="#e6e2f1" d="M740 215h48v12h-48zM668 227h96v12h-96zM596 239h60v12h-60zM560 251h24v12h-24zM536 263h12v12h-12zM500 287h12v12h-12zM488 299h12v12h-12zM452 335h12v12h-12zM440 347h12v12h-12zM428 359h12v12h-12zM416 371h12v12h-12zM140 383h36v12h-36zM404 383h12v12h-12zM140 395h48v12h-48zM380 395h12v12h-12zM140 407h36v12h-36zM344 419h12v12h-12zM332 431h12v12h-12zM320 443h12v12h-12zM308 455h12v12h-12zM296 467h12v12h-12zM284 491h12v12h-12zM272 515h12v12h-12zM260 551h12v12h-12zM248 575h12v12h-12zM236 599h12v12h-12zM224 611h12v12h-12zM212 623h12v12h-12zM188 635h24v12h-24zM176 647h12v12h-12zM140 659h24v12h-24z"/><path fill="#e0dcee" d="M668 215h72v12h-72zM608 227h60v12h-60zM572 239h24v12h-24zM548 251h12v12h-12zM524 263h12v12h-12zM512 275h12v12h-12zM488 287h12v12h-12zM476 299h12v12h-12zM464 311h12v12h-12zM452 323h12v12h-12zM140 359h48v12h-48zM140 371h72v12h-72zM176 383h36v12h-36zM392 383h12v12h-12zM188 395h24v12h-24zM176 407h24v12h-24zM356 407h12v12h-12zM140 419h48v12h-48zM332 419h12v12h-12zM140 431h36v12h-36zM320 431h12v12h-12zM308 443h12v12h-12zM296 455h12v12h-12zM284 479h12v12h-12zM272 503h12v12h-12zM260 539h12v12h-12zM248 563h12v12h-12zM236 587h12v12h-12zM224 599h12v12h-12zM212 611h12v12h-12zM200 623h12v12h-12zM176 635h12v12h-12zM140 647h36v12h-36z"/><path fill="#dad5eb" d="M620 215h48v12h-48zM584 227h24v12h-24zM560 239h12v12h-12zM536 251h12v12h-12zM512 263h12v12h-12zM500 275h12v12h-12zM440 335h12v12h-12zM140 347h60v12h-60zM428 347h12v12h-12zM188 359h36v12h-36zM416 359h12v12h-12zM212 371h12v12h-12zM404 371h12v12h-12zM212 383h12v12h-12zM380 383h12v12h-12zM212 395h12v12h-12zM368 395h12v12h-12zM200 407h12v12h-12zM344 407h12v12h-12zM188 419h24v12h-24zM176 431h24v12h-24zM308 431h12v12h-12zM140 443h36v12h-36zM284 467h12v12h-12zM272 491h12v12h-12zM260 527h12v12h-12zM236 575h12v12h-12zM224 587h12v12h-12zM212 599h12v12h-12zM200 611h12v12h-12zM176 623h24v12h-24zM140 635h36v12h-36z"/><path fill="#d5cfe8" d="M596 215h24v12h-24zM560 227h24v12h-24zM548 239h12v12h-12zM524 251h12v12h-12zM488 275h12v12h-12zM476 287h12v12h-12zM464 299h12v12h-12zM452 311h12v12h-12zM440 323h12v12h-12zM140 335h60v12h-60zM200 347h24v12h-24zM224 359h12v12h-12zM224 371h12v12h-12zM392 371h12v12h-12zM224 383h12v12h-12zM224 395h12v12h-12zM356 395h12v12h-12zM212 407h24v12h-24zM332 407h12v12h-12zM212 419h12v12h-12zM320 419h12v12h-12zM200 431h12v12h-12zM176 443h24v12h-24zM296 443h12v12h-12zM140 455h36v12h-36zM284 455h12v12h-12zM272 479h12v12h-12zM260 503h12v12h-12zM260 515h12v12h-12zM248 539h12v12h-12zM248 551h12v12h-12zM236 563h12v12h-12zM200 599h12v12h-12zM176 611h24v12h-24zM140 623h36v12h-36z"/><path fill="#cfc9e5" d="M572 215h24v12h-24zM548 227h12v12h-12zM536 239h12v12h-12zM512 251h12v12h-12zM500 263h12v12h-12zM140 323h36v12h-36zM200 335h24v12h-24zM428 335h12v12h-12zM224 347h12v12h-12zM416 347h12v12h-12zM236 359h12v12h-12zM404 359h12v12h-12zM236 371h12v12h-12zM236 383h12v12h-12zM368 383h12v12h-12zM236 395h12v12h-12zM344 395h12v12h-12zM236 407h12v12h-12zM320 407h12v12h-12zM224 419h12v12h-12zM308 419h12v12h-12zM212 431h12v12h-12zM284 431h24v12h-24zM200 443h12v12h-12zM284 443h12v12h-12zM176 455h24v12h-24zM272 455h12v12h-12zM140 467h36v12h-36zM272 467h12v12h-12zM260 479h12v12h-12zM260 491h12v12h-12zM248 527h12v12h-12zM224 575h12v12h-12zM212 587h12v12h-12zM188 599h12v12h-12zM140 611h36v12h-36z"/><path fill="#cac3e2" d="M560 215h12v12h-12zM536 227h12v12h-12zM524 239h12v12h-12zM500 251h12v12h-12zM488 263h12v12h-12zM476 275h12v12h-12zM464 287h12v12h-12zM452 299h12v12h-12zM440 311h12v12h-12zM176 323h36v12h-36zM428 323h12v12h-12zM224 335h12v12h-12zM236 347h12v12h-12zM392 359h12v12h-12zM248 371h12v12h-12zM380 371h12v12h-12zM248 383h12v12h-12zM356 383h12v12h-12zM248 395h12v12h-12zM332 395h12v12h-12zM248 407h24v12h-24zM308 407h12v12h-12zM236 419h72v12h-72zM224 431h60v12h-60zM212 443h72v12h-72zM200 455h24v12h-24zM260 455h12v12h-12zM176 467h24v12h-24zM260 467h12v12h-12zM140 479h36v12h-36zM140 491h12v12h-12zM248 491h12v12h-12zM248 503h12v12h-12zM248 515h12v12h-12zM236 551h12v12h-12zM224 563h12v12h-12zM212 575h12v12h-12zM176 587h36v12h-36zM140 599h48v12h-48z"/><path fill="#c4bddf" d="M548 215h12v12h-12zM524 227h12v12h-12zM512 239h12v12h-12zM464 275h12v12h-12zM140 311h60v12h-60zM212 323h12v12h-12zM236 335h12v12h-12zM416 335h12v12h-12zM248 347h12v12h-12zM404 347h12v12h-12zM248 359h12v12h-12zM260 371h12v12h-12zM368 371h12v12h-12zM260 383h12v12h-12zM344 383h12v12h-12zM260 395h24v12h-24zM308 395h24v12h-24zM272 407h36v12h-36zM224 455h36v12h-36zM200 467h60v12h-60zM176 479h24v12h-24zM248 479h12v12h-12zM152 491h24v12h-24zM140 503h24v12h-24zM236 503h12v12h-12zM140 515h12v12h-12zM236 515h12v12h-12zM236 527h12v12h-12zM236 539h12v12h-12zM224 551h12v12h-12zM212 563h12v12h-12zM140 575h72v12h-72zM140 587h36v12h-36z"/><path fill="#beb6dc" d="M536 215h12v12h-12zM512 227h12v12h-12zM500 239h12v12h-12zM488 251h12v12h-12zM476 263h12v12h-12zM452 287h12v12h-12zM140 299h24v12h-24zM440 299h12v12h-12zM200 311h24v12h-24zM428 311h12v12h-12zM224 323h12v12h-12zM416 323h12v12h-12zM404 335h12v12h-12zM392 347h12v12h-12zM260 359h12v12h-12zM380 359h12v12h-12zM356 371h12v12h-12zM272 383h12v12h-12zM320 383h24v12h-24zM284 395h24v12h-24zM200 479h48v12h-48zM176 491h72v12h-72zM164 503h24v12h-24zM224 503h12v12h-12zM152 515h24v12h-24zM224 515h12v12h-12zM140 527h24v12h-24zM224 527h12v12h-12zM140 539h24v12h-24zM224 539h12v12h-12zM140 551h36v12h-36zM200 551h24v12h-24zM140 563h72v12h-72z"/><path fill="#b9b0d9" d="M524 215h12v12h-12zM488 239h12v12h-12zM476 251h12v12h-12zM464 263h12v12h-12zM452 275h12v12h-12zM440 287h12v12h-12zM164 299h36v12h-36zM224 311h12v12h-12zM236 323h12v12h-12zM248 335h12v12h-12zM260 347h12v12h-12zM380 347h12v12h-12zM272 359h12v12h-12zM368 359h12v12h-12zM272 371h12v12h-12zM344 371h12v12h-12zM284 383h36v12h-36zM188 503h36v12h-36zM176 515h48v12h-48zM164 527h60v12h-60zM164 539h60v12h-60zM176 551h24v12h-24z"/><path fill="#b3aad6" d="M512 215h12v12h-12zM500 227h12v12h-12zM140 287h36v12h-36zM200 299h12v12h-12zM428 299h12v12h-12zM236 311h12v12h-12zM416 311h12v12h-12zM248 323h12v12h-12zM404 323h12v12h-12zM260 335h12v12h-12zM392 335h12v12h-12zM272 347h12v12h-12zM356 359h12v12h-12zM284 371h60v12h-60z"/><path fill="#aea4d3" d="M500 215h12v12h-12zM488 227h12v12h-12zM476 239h12v12h-12zM464 251h12v12h-12zM452 263h12v12h-12zM140 275h12v12h-12zM440 275h12v12h-12zM176 287h24v12h-24zM428 287h12v12h-12zM212 299h24v12h-24zM416 299h12v12h-12zM380 335h12v12h-12zM368 347h12v12h-12zM284 359h24v12h-24zM332 359h24v12h-24z"/><path fill="#a89ed0" d="M488 215h12v12h-12zM476 227h12v12h-12zM464 239h12v12h-12zM452 251h12v12h-12zM440 263h12v12h-12zM152 275h24v12h-24zM200 287h12v12h-12zM248 311h12v12h-12zM404 311h12v12h-12zM260 323h12v12h-12zM392 323h12v12h-12zM272 335h12v12h-12zM368 335h12v12h-12zM284 347h12v12h-12zM344 347h24v12h-24zM308 359h24v12h-24z"/><path fill="#a298cc" d="M140 263h24v12h-24zM176 275h24v12h-24zM428 275h12v12h-12zM212 287h12v12h-12zM416 287h12v12h-12zM236 299h12v12h-12zM404 299h12v12h-12zM260 311h12v12h-12zM392 311h12v12h-12zM272 323h12v12h-12zM380 323h12v12h-12zM284 335h12v12h-12zM356 335h12v12h-12zM296 347h48v12h-48z"/><path fill="#9d92c9" d="M476 215h12v12h-12zM464 227h12v12h-12zM452 239h12v12h-12zM440 251h12v12h-12zM164 263h12v12h-12zM428 263h12v12h-12zM200 275h12v12h-12zM416 275h12v12h-12zM224 287h12v12h-12zM248 299h12v12h-12zM380 311h12v12h-12zM284 323h12v12h-12zM368 323h12v12h-12zM296 335h24v12h-24zM332 335h24v12h-24z"/><path fill="#978dc6" d="M464 215h12v12h-12zM452 227h12v12h-12zM440 239h12v12h-12zM140 251h24v12h-24zM176 263h24v12h-24zM212 275h12v12h-12zM236 287h12v12h-12zM404 287h12v12h-12zM260 299h12v12h-12zM392 299h12v12h-12zM272 311h12v12h-12zM296 323h12v12h-12zM356 323h12v12h-12zM320 335h12v12h-12z"/><path fill="#9187c3" d="M140 239h12v12h-12zM164 251h12v12h-12zM428 251h12v12h-12zM200 263h12v12h-12zM416 263h12v12h-12zM404 275h12v12h-12zM392 287h12v12h-12zM380 299h12v12h-12zM284 311h12v12h-12zM368 311h12v12h-12zM308 323h48v12h-48z"/><path fill="#8c81c0" d="M452 215h12v12h-12zM440 227h12v12h-12zM152 239h12v12h-12zM428 239h12v12h-12zM176 251h24v12h-24zM416 251h12v12h-12zM404 263h12v12h-12zM224 275h12v12h-12zM392 275h12v12h-12zM248 287h12v12h-12zM380 287h12v12h-12zM272 299h12v12h-12zM368 299h12v12h-12zM296 311h24v12h-24zM332 311h36v12h-36z"/><path fill="#867bbd" d="M440 215h12v12h-12zM140 227h12v12h-12zM428 227h12v12h-12zM164 239h24v12h-24zM416 239h12v12h-12zM200 251h12v12h-12zM212 263h12v12h-12zM236 275h12v12h-12zM260 287h12v12h-12zM368 287h12v12h-12zM284 299h24v12h-24zM356 299h12v12h-12zM320 311h12v12h-12z"/><path fill="#8075ba" d="M428 215h12v12h-12zM152 227h24v12h-24zM188 239h12v12h-12zM404 251h12v12h-12zM224 263h12v12h-12zM392 263h12v12h-12zM248 275h12v12h-12zM380 275h12v12h-12zM272 287h12v12h-12zM356 287h12v12h-12zM308 299h48v12h-48z"/><path fill="#7a70b7" d="M140 215h24v12h-24zM176 227h12v12h-12zM416 227h12v12h-12zM200 239h12v12h-12zM404 239h12v12h-12zM212 251h12v12h-12zM392 251h12v12h-12zM380 263h12v12h-12zM260 275h12v12h-12zM368 275h12v12h-12zM284 287h24v12h-24zM332 287h24v12h-24z"/><path fill="#746ab4" d="M164 215h12v12h-12zM416 215h12v12h-12zM188 227h12v12h-12zM404 227h12v12h-12zM212 239h12v12h-12zM392 239h12v12h-12zM224 251h12v12h-12zM380 251h12v12h-12zM236 263h12v12h-12zM368 263h12v12h-12zM272 275h12v12h-12zM344 275h24v12h-24zM308 287h24v12h-24z"/><path fill="#6e65b1" d="M176 215h12v12h-12zM404 215h12v12h-12zM200 227h12v12h-12zM392 227h12v12h-12zM380 239h12v12h-12zM368 251h12v12h-12zM248 263h12v12h-12zM356 263h12v12h-12zM284 275h60v12h-60z"/><path fill="#685fae" d="M188 215h12v12h-12zM392 215h12v12h-12zM212 227h12v12h-12zM380 227h12v12h-12zM224 239h12v12h-12zM368 239h12v12h-12zM236 251h12v12h-12zM356 251h12v12h-12zM260 263h24v12h-24zM332 263h24v12h-24z"/><path fill="#625aab" d="M200 215h12v12h-12zM224 227h12v12h-12zM236 239h12v12h-12zM356 239h12v12h-12zM248 251h12v12h-12zM344 251h12v12h-12zM284 263h48v12h-48z"/><path fill="#5c54a7" d="M212 215h12v12h-12zM380 215h12v12h-12zM236 227h12v12h-12zM356 227h24v12h-24zM248 239h12v12h-12zM344 239h12v12h-12zM260 251h84v12h-84z"/><path fill="#564fa4" d="M224 215h12v12h-12zM368 215h12v12h-12zM344 227h12v12h-12zM260 239h12v12h-12zM320 239h24v12h-24z"/><path fill="#4f4aa1" d="M236 215h132v12h-132zM248 227h96v12h-96zM272 239h48v12h-48z"/></g><path fill="none" stroke="rgba(100,100,100,0.45)" stroke-width="7.8" stroke-linejoin="round" stroke-linecap="round" d="M589.5 740L575 716.5L567.3 707L560 699.9L553.7 695L545 690.2L536 687.4L527 686.7L518 688.2L512 690.4L503.9 695L497 700.4L490.4 707L482 717.5L468.4 740M673.1 740L651.9 704L634.7 677L617 652.2L599 629.8L581 610L569 599.2L557 592.4L545 590.3L539 591L530 593.6L509 604.7L485 621.9L460.3 644L440.6 665L424.3 686L408.9 710L392.8 740M753.4 740L705.7 671L647 593.5L632 569.2L625.5 554L620.9 536L619.3 521L617.4 476L614.1 452L611 438.9L606.4 428L601.5 422L593 416.5L584 414.5L572 416.4L561.1 422L550.3 431L537 446L528.4 458L519.4 473L490.8 530L480 548L462 569L410 618.3L392 638.6L381.8 653L371 670.5L333.1 740M914.2 740L882.8 728L854 713.3L831.8 698L824 690.9L817.2 683L812.5 674L810.1 662L809.7 650L810.8 617L808.5 599L805.7 590L801.5 581L795.3 572L789.2 566L782 561.8L773 560.9L737 572.5L728 573.3L719 572.4L707 568.5L695 561.9L683 552.7L674 543.8L665.5 533L659.9 524L650.8 503L647.5 488L644.8 458L641.9 440L636.9 422L630.5 407L620 390.7L608 378.1L602 373.9L596 371.2L584 369.4L569 371.7L554 377.8L536 388.9L521.1 401L503.7 419L479.4 449L464 470L443 502.1L431 516.9L416 530.8L383 551.3L374 558.3L368 564.7L360.7 575L353 589.7L330.5 644L314 678.5L296.2 710L276.6 740M962 587.8L947 581.6L929 572.5L857.4 530L824.9 515L809 509.8L791 505.9L725 498.9L716 496.3L707 491.8L698 484.1L692 475.2L688.5 467L677.5 431L667.9 407L661.5 395L641.2 362L632.7 350L620 338.1L608 331.7L593 328.3L584 328.3L575 329.4L560 333.6L545 340.2L528.1 350L511 362L493.3 377L455 416.9L410 457.8L395 469.7L367.3 488L356 498.5L332 529.3L318.4 551L313.5 563L303.7 599L296.7 620L287.6 641L276.2 662L263 682.4L248 702.2L230 722.9L213.3 740M962 261.5L944 260.9L929 262.1L917 264.7L905 269.2L895.3 275L886.3 284L881.7 293L880.5 302L881.5 308L884 314L891.5 323L902 330.2L929.8 344L943.6 353L955.3 365L962 378.1M962 407.4L955 422L944.6 434L932.7 443L917 450.7L899 456L878 458.8L857 458.3L839 455L830 451.8L818.9 446L811.1 440L805.3 434L798.5 425L791.1 413L770 371.4L762.4 359L751.9 347L735.6 335L701 317.2L663.9 296L650.2 290L638 286.1L620 282.7L602 282.3L584 284.7L563 290.8L548 297.3L533 305.2L518 314.4L503 325.2L479 346.6L447.9 380L434 393.2L419 405L365 443.6L353 453.2L341 464.5L323 486.6L296 529.1L288.4 545L276.7 581L269 600.1L258.3 620L245 639.3L224 663.3L200 684.9L173 704.6L140 724.2M673.5 215L614 228L593 234.2L572 242.2L551 252.1L533 262.3L512 276.3L494 290.1L471.3 311L431.8 356L419 368.9L398 384.4L338.1 422L322.8 434L307.6 449L294.6 467L281 493.3L270.5 518L257 557L251.3 569L241.5 584L227 600.7L209 616.3L188 630L164 641.6L140 650M140 447.9L155 447.6L167 445.6L179 441.7L188 436.3L197 427.6L207.1 413L214.2 398L216.6 386L215.1 377L211.6 371L205 365L194 359.5L182 356.5L167 355.3L154.5 356L140 358.9M533.4 215L503 237.9L476 261.8L455 283.4L416 328.2L395 347.6L378.7 359L359 370L338 379L320 384.5L311 385.9L302 385.4L296 383.6L290 380L281.5 371L267 350L257 337.8L244.6 326L230.5 317L212 310.1L185 302.8L161 298.1L140 295.7M471.6 215L446 242.1L404.1 290L386 307.4L374 316.4L362 323.4L347 329.2L335 331.5L320 331L308 327.6L296 321.7L254 297L200 270.5L170 258.2L140 249.2M415.8 215L386 248.1L374 259.3L362 268.5L350.8 275L341 278.9L329 281.6L317 282.3L302 281L287 278L266 272.4L251 266.8L244.3 263L230 249.9L212 236.7L194 225.6L173.8 215M336.6 215L326 220.5L317 223.9L305 226.5L296 227.2L287 226.6L278 224.5L269 220.7L259.7 215"/></g><use href="#lines"/></g><g transform="translate(0 590.67)"><g clip-path="url(#clip)"><g filter="url(#b01)"><path fill="#dab2ad" d="M200 335h24v12h-24zM188 347h48v12h-48zM188 359h60v12h-60zM200 371h48v12h-48zM212 383h36v12h-36z"/><path fill="#deb8b4" d="M140 275h24v12h-24zM140 287h60v12h-60zM140 299h84v12h-84zM140 311h96v12h-96zM140 323h108v12h-108zM140 335h60v12h-60zM224 335h36v12h-36zM140 347h48v12h-48zM236 347h36v12h-36zM140 359h48v12h-48zM248 359h24v12h-24zM152 371h48v12h-48zM248 371h24v12h-24zM164 383h48v12h-48zM248 383h24v12h-24zM188 395h84v12h-84zM212 407h48v12h-48zM812 707h60v12h-60zM800 719h108v12h-108zM788 731h144v12h-144z"/><path fill="#e1bfbb" d="M140 215h12v12h-12zM140 227h36v12h-36zM140 239h48v12h-48zM140 251h60v12h-60zM140 263h72v12h-72zM164 275h60v12h-60zM200 287h36v12h-36zM224 299h24v12h-24zM236 311h24v12h-24zM248 323h24v12h-24zM260 335h24v12h-24zM272 347h12v12h-12zM272 359h24v12h-24zM140 371h12v12h-12zM272 371h24v12h-24zM140 383h24v12h-24zM272 383h24v12h-24zM140 395h48v12h-48zM272 395h24v12h-24zM164 407h48v12h-48zM260 407h24v12h-24zM188 419h84v12h-84zM224 431h12v12h-12zM800 683h72v12h-72zM788 695h120v12h-120zM776 707h36v12h-36zM872 707h60v12h-60zM764 719h36v12h-36zM908 719h60v12h-60zM752 731h36v12h-36zM932 731h36v12h-36z"/><path fill="#e5c6c2" d="M152 215h60v12h-60zM176 227h36v12h-36zM188 239h36v12h-36zM200 251h36v12h-36zM212 263h36v12h-36zM224 275h24v12h-24zM236 287h24v12h-24zM248 299h24v12h-24zM260 311h24v12h-24zM272 323h12v12h-12zM284 335h12v12h-12zM284 347h24v12h-24zM296 359h12v12h-12zM296 371h24v12h-24zM296 383h24v12h-24zM296 395h24v12h-24zM140 407h24v12h-24zM284 407h24v12h-24zM140 419h48v12h-48zM272 419h24v12h-24zM176 431h48v12h-48zM236 431h36v12h-36zM212 443h36v12h-36zM800 659h60v12h-60zM776 671h120v12h-120zM764 683h36v12h-36zM872 683h48v12h-48zM752 695h36v12h-36zM908 695h48v12h-48zM740 707h36v12h-36zM932 707h36v12h-36zM740 719h24v12h-24zM728 731h24v12h-24z"/><path fill="#e8ccc9" d="M212 215h24v12h-24zM212 227h36v12h-36zM224 239h36v12h-36zM236 251h24v12h-24zM248 263h24v12h-24zM248 275h24v12h-24zM260 287h24v12h-24zM272 299h12v12h-12zM284 311h12v12h-12zM284 323h24v12h-24zM296 335h24v12h-24zM308 347h12v12h-12zM308 359h24v12h-24zM320 371h24v12h-24zM320 383h24v12h-24zM320 395h24v12h-24zM308 407h48v12h-48zM296 419h48v12h-48zM140 431h36v12h-36zM272 431h36v12h-36zM152 443h60v12h-60zM248 443h36v12h-36zM200 455h48v12h-48zM428 455h24v12h-24zM416 467h60v12h-60zM428 479h48v12h-48zM428 491h48v12h-48zM440 503h36v12h-36zM800 635h36v12h-36zM776 647h96v12h-96zM764 659h36v12h-36zM860 659h48v12h-48zM752 671h24v12h-24zM896 671h48v12h-48zM740 683h24v12h-24zM920 683h48v12h-48zM728 695h24v12h-24zM956 695h12v12h-12zM716 707h24v12h-24zM704 719h36v12h-36zM692 731h36v12h-36z"/><path fill="#ebd3d0" d="M236 215h36v12h-36zM248 227h24v12h-24zM260 239h24v12h-24zM260 251h24v12h-24zM272 263h12v12h-12zM272 275h24v12h-24zM284 287h12v12h-12zM284 299h24v12h-24zM296 311h24v12h-24zM308 323h12v12h-12zM320 335h12v12h-12zM320 347h24v12h-24zM332 359h24v12h-24zM344 371h12v12h-12zM344 383h24v12h-24zM344 395h48v12h-48zM356 407h48v12h-48zM344 419h108v12h-108zM308 431h168v12h-168zM140 443h12v12h-12zM284 443h204v12h-204zM140 455h60v12h-60zM248 455h36v12h-36zM380 455h48v12h-48zM452 455h48v12h-48zM188 467h60v12h-60zM392 467h24v12h-24zM476 467h24v12h-24zM392 479h36v12h-36zM476 479h24v12h-24zM404 491h24v12h-24zM476 491h36v12h-36zM416 503h24v12h-24zM476 503h36v12h-36zM416 515h96v12h-96zM428 527h84v12h-84zM440 539h72v12h-72zM452 551h60v12h-60zM464 563h36v12h-36zM776 623h72v12h-72zM764 635h36v12h-36zM836 635h48v12h-48zM752 647h24v12h-24zM872 647h48v12h-48zM740 659h24v12h-24zM908 659h48v12h-48zM728 671h24v12h-24zM944 671h24v12h-24zM716 683h24v12h-24zM704 695h24v12h-24zM692 707h24v12h-24zM680 719h24v12h-24zM656 731h36v12h-36z"/><path fill="#eedad7" d="M272 215h24v12h-24zM272 227h24v12h-24zM284 239h24v12h-24zM284 251h24v12h-24zM284 263h24v12h-24zM296 275h24v12h-24zM296 287h24v12h-24zM308 299h24v12h-24zM320 311h12v12h-12zM320 323h24v12h-24zM332 335h24v12h-24zM344 347h24v12h-24zM356 359h24v12h-24zM356 371h36v12h-36zM368 383h36v12h-36zM392 395h48v12h-48zM404 407h84v12h-84zM452 419h48v12h-48zM476 431h36v12h-36zM488 443h36v12h-36zM284 455h96v12h-96zM500 455h24v12h-24zM140 467h48v12h-48zM248 467h36v12h-36zM356 467h36v12h-36zM500 467h24v12h-24zM164 479h84v12h-84zM380 479h12v12h-12zM500 479h24v12h-24zM392 491h12v12h-12zM512 491h12v12h-12zM392 503h24v12h-24zM512 503h12v12h-12zM404 515h12v12h-12zM512 515h24v12h-24zM404 527h24v12h-24zM512 527h24v12h-24zM416 539h24v12h-24zM512 539h24v12h-24zM428 551h24v12h-24zM512 551h24v12h-24zM428 563h36v12h-36zM500 563h36v12h-36zM440 575h96v12h-96zM440 587h84v12h-84zM452 599h72v12h-72zM476 611h36v12h-36zM764 611h84v12h-84zM752 623h24v12h-24zM848 623h48v12h-48zM740 635h24v12h-24zM884 635h48v12h-48zM740 647h12v12h-12zM920 647h48v12h-48zM728 659h12v12h-12zM956 659h12v12h-12zM716 671h12v12h-12zM704 683h12v12h-12zM680 695h24v12h-24zM656 707h36v12h-36zM632 719h48v12h-48zM548 731h108v12h-108z"/><path fill="#f1e0de" d="M296 215h24v12h-24zM296 227h24v12h-24zM308 239h24v12h-24zM308 251h24v12h-24zM308 263h24v12h-24zM320 275h24v12h-24zM320 287h24v12h-24zM332 299h24v12h-24zM332 311h36v12h-36zM344 323h24v12h-24zM356 335h24v12h-24zM368 347h24v12h-24zM380 359h36v12h-36zM392 371h48v12h-48zM404 383h84v12h-84zM440 395h72v12h-72zM488 407h36v12h-36zM500 419h36v12h-36zM512 431h24v12h-24zM524 443h12v12h-12zM524 455h12v12h-12zM284 467h72v12h-72zM524 467h12v12h-12zM140 479h24v12h-24zM248 479h24v12h-24zM356 479h24v12h-24zM524 479h12v12h-12zM140 491h108v12h-108zM368 491h24v12h-24zM524 491h12v12h-12zM380 503h12v12h-12zM524 503h24v12h-24zM392 515h12v12h-12zM536 515h12v12h-12zM392 527h12v12h-12zM536 527h12v12h-12zM404 539h12v12h-12zM536 539h12v12h-12zM404 551h24v12h-24zM536 551h12v12h-12zM416 563h12v12h-12zM536 563h12v12h-12zM416 575h24v12h-24zM536 575h12v12h-12zM416 587h24v12h-24zM524 587h24v12h-24zM776 587h36v12h-36zM428 599h24v12h-24zM524 599h24v12h-24zM764 599h96v12h-96zM428 611h48v12h-48zM512 611h36v12h-36zM752 611h12v12h-12zM848 611h48v12h-48zM440 623h108v12h-108zM740 623h12v12h-12zM896 623h36v12h-36zM440 635h108v12h-108zM728 635h12v12h-12zM932 635h36v12h-36zM452 647h96v12h-96zM716 647h24v12h-24zM452 659h108v12h-108zM704 659h24v12h-24zM464 671h96v12h-96zM692 671h24v12h-24zM464 683h108v12h-108zM668 683h36v12h-36zM464 695h216v12h-216zM476 707h180v12h-180zM476 719h156v12h-156zM476 731h72v12h-72z"/><path fill="#f5e7e5" d="M320 215h36v12h-36zM320 227h36v12h-36zM332 239h24v12h-24zM332 251h36v12h-36zM332 263h36v12h-36zM344 275h24v12h-24zM344 287h36v12h-36zM356 299h36v12h-36zM368 311h36v12h-36zM368 323h48v12h-48zM380 335h48v12h-48zM392 347h72v12h-72zM416 359h72v12h-72zM440 371h72v12h-72zM488 383h36v12h-36zM512 395h24v12h-24zM524 407h24v12h-24zM536 419h12v12h-12zM536 431h12v12h-12zM536 443h12v12h-12zM536 455h12v12h-12zM536 467h12v12h-12zM272 479h84v12h-84zM536 479h12v12h-12zM248 491h24v12h-24zM344 491h24v12h-24zM536 491h12v12h-12zM140 503h96v12h-96zM368 503h12v12h-12zM548 503h12v12h-12zM368 515h24v12h-24zM548 515h12v12h-12zM380 527h12v12h-12zM548 527h12v12h-12zM392 539h12v12h-12zM548 539h12v12h-12zM392 551h12v12h-12zM548 551h12v12h-12zM392 563h24v12h-24zM548 563h12v12h-12zM404 575h12v12h-12zM548 575h12v12h-12zM764 575h48v12h-48zM404 587h12v12h-12zM548 587h12v12h-12zM752 587h24v12h-24zM812 587h36v12h-36zM404 599h24v12h-24zM548 599h12v12h-12zM740 599h24v12h-24zM860 599h36v12h-36zM404 611h24v12h-24zM548 611h12v12h-12zM728 611h24v12h-24zM896 611h48v12h-48zM416 623h24v12h-24zM548 623h24v12h-24zM716 623h24v12h-24zM932 623h36v12h-36zM416 635h24v12h-24zM548 635h24v12h-24zM704 635h24v12h-24zM416 647h36v12h-36zM548 647h36v12h-36zM692 647h24v12h-24zM428 659h24v12h-24zM560 659h36v12h-36zM680 659h24v12h-24zM428 671h36v12h-36zM560 671h60v12h-60zM644 671h48v12h-48zM428 683h36v12h-36zM572 683h96v12h-96zM440 695h24v12h-24zM440 707h36v12h-36zM440 719h36v12h-36zM440 731h36v12h-36z"/><path fill="#f8eeed" d="M356 215h36v12h-36zM356 227h36v12h-36zM356 239h48v12h-48zM368 251h36v12h-36zM368 263h48v12h-48zM368 275h60v12h-60zM380 287h60v12h-60zM392 299h72v12h-72zM404 311h72v12h-72zM416 323h84v12h-84zM428 335h84v12h-84zM464 347h60v12h-60zM488 359h48v12h-48zM512 371h36v12h-36zM524 383h24v12h-24zM536 395h24v12h-24zM548 407h12v12h-12zM548 419h12v12h-12zM548 431h12v12h-12zM548 443h12v12h-12zM548 455h12v12h-12zM548 467h12v12h-12zM548 479h12v12h-12zM272 491h72v12h-72zM548 491h24v12h-24zM236 503h24v12h-24zM344 503h24v12h-24zM560 503h12v12h-12zM140 515h72v12h-72zM356 515h12v12h-12zM560 515h12v12h-12zM368 527h12v12h-12zM560 527h12v12h-12zM380 539h12v12h-12zM560 539h12v12h-12zM380 551h12v12h-12zM560 551h12v12h-12zM380 563h12v12h-12zM560 563h12v12h-12zM764 563h48v12h-48zM380 575h24v12h-24zM560 575h12v12h-12zM740 575h24v12h-24zM812 575h36v12h-36zM392 587h12v12h-12zM560 587h12v12h-12zM728 587h24v12h-24zM848 587h36v12h-36zM392 599h12v12h-12zM560 599h24v12h-24zM728 599h12v12h-12zM896 599h48v12h-48zM392 611h12v12h-12zM560 611h24v12h-24zM716 611h12v12h-12zM944 611h24v12h-24zM392 623h24v12h-24zM572 623h12v12h-12zM704 623h12v12h-12zM392 635h24v12h-24zM572 635h24v12h-24zM692 635h12v12h-12zM404 647h12v12h-12zM584 647h24v12h-24zM668 647h24v12h-24zM404 659h24v12h-24zM596 659h84v12h-84zM404 671h24v12h-24zM620 671h24v12h-24zM404 683h24v12h-24zM404 695h36v12h-36zM404 707h36v12h-36zM404 719h36v12h-36zM404 731h36v12h-36z"/><path fill="#fbf5f4" d="M392 215h60v12h-60zM392 227h60v12h-60zM404 239h60v12h-60zM404 251h72v12h-72zM416 263h72v12h-72zM428 275h72v12h-72zM440 287h72v12h-72zM464 299h60v12h-60zM476 311h48v12h-48zM500 323h36v12h-36zM512 335h36v12h-36zM524 347h24v12h-24zM536 359h24v12h-24zM548 371h12v12h-12zM548 383h24v12h-24zM560 395h12v12h-12zM560 407h12v12h-12zM560 419h12v12h-12zM560 431h12v12h-12zM560 443h24v12h-24zM560 455h24v12h-24zM560 467h24v12h-24zM560 479h24v12h-24zM572 491h12v12h-12zM260 503h84v12h-84zM572 503h12v12h-12zM212 515h48v12h-48zM332 515h24v12h-24zM572 515h12v12h-12zM140 527h72v12h-72zM356 527h12v12h-12zM572 527h12v12h-12zM140 539h12v12h-12zM356 539h24v12h-24zM572 539h12v12h-12zM368 551h12v12h-12zM572 551h12v12h-12zM764 551h36v12h-36zM368 563h12v12h-12zM572 563h12v12h-12zM740 563h24v12h-24zM812 563h24v12h-24zM368 575h12v12h-12zM572 575h12v12h-12zM728 575h12v12h-12zM848 575h36v12h-36zM380 587h12v12h-12zM572 587h12v12h-12zM716 587h12v12h-12zM884 587h60v12h-60zM380 599h12v12h-12zM584 599h12v12h-12zM704 599h24v12h-24zM944 599h24v12h-24zM380 611h12v12h-12zM584 611h12v12h-12zM692 611h24v12h-24zM380 623h12v12h-12zM584 623h24v12h-24zM680 623h24v12h-24zM380 635h12v12h-12zM596 635h96v12h-96zM380 647h24v12h-24zM608 647h60v12h-60zM380 659h24v12h-24zM380 671h24v12h-24zM380 683h24v12h-24zM380 695h24v12h-24zM380 707h24v12h-24zM380 719h24v12h-24zM380 731h24v12h-24z"/><path fill="#fefcfb" d="M452 215h60v12h-60zM452 227h60v12h-60zM464 239h60v12h-60zM476 251h48v12h-48zM488 263h48v12h-48zM500 275h36v12h-36zM512 287h36v12h-36zM524 299h24v12h-24zM524 311h36v12h-36zM536 323h24v12h-24zM548 335h24v12h-24zM548 347h24v12h-24zM560 359h24v12h-24zM560 371h24v12h-24zM572 383h12v12h-12zM572 395h24v12h-24zM572 407h24v12h-24zM572 419h24v12h-24zM572 431h24v12h-24zM584 443h12v12h-12zM584 455h12v12h-12zM584 467h12v12h-12zM584 479h12v12h-12zM584 491h12v12h-12zM584 503h12v12h-12zM260 515h72v12h-72zM584 515h12v12h-12zM212 527h36v12h-36zM332 527h24v12h-24zM584 527h12v12h-12zM152 539h60v12h-60zM344 539h12v12h-12zM584 539h12v12h-12zM140 551h24v12h-24zM356 551h12v12h-12zM584 551h12v12h-12zM740 551h24v12h-24zM800 551h24v12h-24zM356 563h12v12h-12zM584 563h12v12h-12zM716 563h24v12h-24zM836 563h36v12h-36zM356 575h12v12h-12zM584 575h24v12h-24zM704 575h24v12h-24zM884 575h60v12h-60zM356 587h24v12h-24zM584 587h24v12h-24zM692 587h24v12h-24zM944 587h24v12h-24zM356 599h24v12h-24zM596 599h12v12h-12zM680 599h24v12h-24zM368 611h12v12h-12zM596 611h36v12h-36zM668 611h24v12h-24zM368 623h12v12h-12zM608 623h72v12h-72zM368 635h12v12h-12zM368 647h12v12h-12zM368 659h12v12h-12zM368 671h12v12h-12zM368 683h12v12h-12zM368 695h12v12h-12zM356 707h24v12h-24zM356 719h24v12h-24zM356 731h24v12h-24z"/><path fill="#fcfcfd" d="M512 215h48v12h-48zM512 227h48v12h-48zM524 239h36v12h-36zM524 251h48v12h-48zM536 263h36v12h-36zM536 275h36v12h-36zM548 287h24v12h-24zM548 299h24v12h-24zM560 311h24v12h-24zM560 323h24v12h-24zM572 335h24v12h-24zM572 347h24v12h-24zM584 359h24v12h-24zM584 371h24v12h-24zM584 383h24v12h-24zM596 395h12v12h-12zM596 407h12v12h-12zM596 419h12v12h-12zM596 431h12v12h-12zM596 443h12v12h-12zM596 455h12v12h-12zM596 467h12v12h-12zM596 479h12v12h-12zM596 491h12v12h-12zM596 503h12v12h-12zM596 515h12v12h-12zM248 527h84v12h-84zM596 527h12v12h-12zM212 539h36v12h-36zM320 539h24v12h-24zM596 539h12v12h-12zM740 539h72v12h-72zM164 551h48v12h-48zM332 551h24v12h-24zM596 551h12v12h-12zM716 551h24v12h-24zM824 551h36v12h-36zM140 563h48v12h-48zM344 563h12v12h-12zM596 563h24v12h-24zM692 563h24v12h-24zM872 563h60v12h-60zM140 575h12v12h-12zM344 575h12v12h-12zM608 575h12v12h-12zM680 575h24v12h-24zM944 575h24v12h-24zM344 587h12v12h-12zM608 587h36v12h-36zM656 587h36v12h-36zM344 599h12v12h-12zM608 599h72v12h-72zM344 611h24v12h-24zM632 611h36v12h-36zM344 623h24v12h-24zM344 635h24v12h-24zM344 647h24v12h-24zM344 659h24v12h-24zM344 671h24v12h-24zM344 683h24v12h-24zM344 695h24v12h-24zM332 707h24v12h-24zM332 719h24v12h-24zM332 731h24v12h-24z"/><path fill="#f7f5fa" d="M560 215h72v12h-72zM560 227h72v12h-72zM560 239h60v12h-60zM572 251h48v12h-48zM572 263h48v12h-48zM572 275h36v12h-36zM572 287h36v12h-36zM572 299h36v12h-36zM692 299h12v12h-12zM584 311h36v12h-36zM680 311h36v12h-36zM584 323h36v12h-36zM680 323h36v12h-36zM596 335h36v12h-36zM680 335h36v12h-36zM596 347h36v12h-36zM692 347h24v12h-24zM608 359h24v12h-24zM692 359h12v12h-12zM608 371h24v12h-24zM608 383h24v12h-24zM608 395h24v12h-24zM608 407h24v12h-24zM608 419h24v12h-24zM608 431h24v12h-24zM608 443h12v12h-12zM608 455h12v12h-12zM608 467h12v12h-12zM608 479h12v12h-12zM608 491h24v12h-24zM608 503h24v12h-24zM608 515h24v12h-24zM608 527h24v12h-24zM752 527h36v12h-36zM248 539h72v12h-72zM608 539h36v12h-36zM704 539h36v12h-36zM812 539h24v12h-24zM212 551h48v12h-48zM308 551h24v12h-24zM608 551h108v12h-108zM860 551h60v12h-60zM188 563h36v12h-36zM320 563h24v12h-24zM620 563h72v12h-72zM932 563h36v12h-36zM152 575h48v12h-48zM320 575h24v12h-24zM620 575h60v12h-60zM140 587h36v12h-36zM320 587h24v12h-24zM644 587h12v12h-12zM140 599h12v12h-12zM332 599h12v12h-12zM332 611h12v12h-12zM332 623h12v12h-12zM320 635h24v12h-24zM320 647h24v12h-24zM320 659h24v12h-24zM320 671h24v12h-24zM320 683h24v12h-24zM320 695h24v12h-24zM308 707h24v12h-24zM308 719h24v12h-24zM308 731h24v12h-24z"/><path fill="#f1eff7" d="M632 215h156v12h-156zM632 227h156v12h-156zM620 239h168v12h-168zM620 251h168v12h-168zM620 263h156v12h-156zM608 275h168v12h-168zM608 287h156v12h-156zM608 299h84v12h-84zM704 299h60v12h-60zM620 311h60v12h-60zM716 311h36v12h-36zM620 323h60v12h-60zM716 323h36v12h-36zM632 335h48v12h-48zM716 335h24v12h-24zM632 347h60v12h-60zM716 347h24v12h-24zM632 359h60v12h-60zM704 359h36v12h-36zM632 371h96v12h-96zM632 383h84v12h-84zM632 395h84v12h-84zM632 407h60v12h-60zM632 419h24v12h-24zM632 431h24v12h-24zM620 443h36v12h-36zM620 455h36v12h-36zM620 467h36v12h-36zM620 479h36v12h-36zM632 491h24v12h-24zM632 503h36v12h-36zM632 515h48v12h-48zM632 527h120v12h-120zM788 527h24v12h-24zM644 539h60v12h-60zM836 539h48v12h-48zM260 551h48v12h-48zM920 551h48v12h-48zM224 563h96v12h-96zM200 575h60v12h-60zM284 575h36v12h-36zM176 587h48v12h-48zM296 587h24v12h-24zM152 599h60v12h-60zM296 599h36v12h-36zM140 611h48v12h-48zM296 611h36v12h-36zM140 623h24v12h-24zM296 623h36v12h-36zM140 635h12v12h-12zM296 635h24v12h-24zM296 647h24v12h-24zM296 659h24v12h-24zM296 671h24v12h-24zM284 683h36v12h-36zM284 695h36v12h-36zM272 707h36v12h-36zM272 719h36v12h-36zM260 731h48v12h-48z"/><path fill="#ebe8f4" d="M788 215h48v12h-48zM788 227h48v12h-48zM788 239h48v12h-48zM788 251h36v12h-36zM776 263h48v12h-48zM776 275h36v12h-36zM764 287h48v12h-48zM764 299h36v12h-36zM752 311h36v12h-36zM752 323h24v12h-24zM740 335h24v12h-24zM740 347h12v12h-12zM740 359h12v12h-12zM728 371h12v12h-12zM716 383h24v12h-24zM716 395h12v12h-12zM692 407h36v12h-36zM656 419h60v12h-60zM656 431h48v12h-48zM656 443h48v12h-48zM656 455h36v12h-36zM656 467h36v12h-36zM656 479h36v12h-36zM656 491h36v12h-36zM668 503h48v12h-48zM680 515h108v12h-108zM812 527h36v12h-36zM884 539h84v12h-84zM260 575h24v12h-24zM224 587h72v12h-72zM212 599h84v12h-84zM188 611h108v12h-108zM164 623h132v12h-132zM152 635h144v12h-144zM140 647h156v12h-156zM140 659h156v12h-156zM140 671h156v12h-156zM140 683h144v12h-144zM140 695h144v12h-144zM140 707h132v12h-132zM140 719h132v12h-132zM140 731h120v12h-120z"/><path fill="#e6e2f1" d="M836 215h48v12h-48zM836 227h48v12h-48zM836 239h36v12h-36zM824 251h48v12h-48zM824 263h36v12h-36zM812 275h48v12h-48zM812 287h36v12h-36zM800 299h36v12h-36zM788 311h36v12h-36zM776 323h24v12h-24zM764 335h24v12h-24zM752 347h24v12h-24zM752 359h12v12h-12zM740 371h12v12h-12zM740 383h12v12h-12zM728 395h12v12h-12zM728 407h12v12h-12zM716 419h12v12h-12zM704 431h24v12h-24zM704 443h12v12h-12zM692 455h24v12h-24zM692 467h24v12h-24zM692 479h24v12h-24zM692 491h36v12h-36zM716 503h36v12h-36zM788 515h36v12h-36zM956 515h12v12h-12zM848 527h120v12h-120z"/><path fill="#e0dcee" d="M884 215h48v12h-48zM884 227h36v12h-36zM872 239h48v12h-48zM872 251h36v12h-36zM860 263h36v12h-36zM860 275h24v12h-24zM848 287h36v12h-36zM836 299h36v12h-36zM824 311h36v12h-36zM800 323h48v12h-48zM788 335h24v12h-24zM776 347h12v12h-12zM764 359h12v12h-12zM752 371h12v12h-12zM752 383h12v12h-12zM740 395h12v12h-12zM740 407h12v12h-12zM728 419h12v12h-12zM728 431h12v12h-12zM716 443h24v12h-24zM716 455h12v12h-12zM716 467h12v12h-12zM716 479h24v12h-24zM728 491h24v12h-24zM752 503h36v12h-36zM956 503h12v12h-12zM824 515h132v12h-132z"/><path fill="#dad5eb" d="M932 215h36v12h-36zM920 227h48v12h-48zM920 239h48v12h-48zM908 251h48v12h-48zM896 263h48v12h-48zM884 275h48v12h-48zM884 287h36v12h-36zM872 299h36v12h-36zM860 311h36v12h-36zM848 323h24v12h-24zM812 335h48v12h-48zM788 347h48v12h-48zM776 359h12v12h-12zM764 371h12v12h-12zM752 395h12v12h-12zM740 419h12v12h-12zM740 431h12v12h-12zM728 455h12v12h-12zM728 467h12v12h-12zM740 479h12v12h-12zM752 491h12v12h-12zM944 491h24v12h-24zM788 503h36v12h-36zM884 503h72v12h-72z"/><path fill="#d5cfe8" d="M956 251h12v12h-12zM944 263h24v12h-24zM932 275h36v12h-36zM920 287h48v12h-48zM908 299h60v12h-60zM896 311h36v12h-36zM872 323h36v12h-36zM860 335h36v12h-36zM836 347h36v12h-36zM788 359h60v12h-60zM776 371h12v12h-12zM764 383h12v12h-12zM764 395h12v12h-12zM752 407h12v12h-12zM752 419h12v12h-12zM740 443h12v12h-12zM740 455h12v12h-12zM740 467h12v12h-12zM956 467h12v12h-12zM752 479h12v12h-12zM932 479h36v12h-36zM764 491h24v12h-24zM896 491h48v12h-48zM824 503h60v12h-60z"/><path fill="#cfc9e5" d="M932 311h36v12h-36zM908 323h60v12h-60zM896 335h72v12h-72zM872 347h48v12h-48zM848 359h36v12h-36zM788 371h24v12h-24zM776 383h12v12h-12zM764 407h12v12h-12zM752 431h12v12h-12zM752 443h12v12h-12zM956 443h12v12h-12zM752 455h12v12h-12zM944 455h24v12h-24zM752 467h24v12h-24zM920 467h36v12h-36zM764 479h12v12h-12zM896 479h36v12h-36zM788 491h108v12h-108z"/><path fill="#cac3e2" d="M920 347h48v12h-48zM884 359h84v12h-84zM812 371h156v12h-156zM788 383h12v12h-12zM932 383h36v12h-36zM776 395h12v12h-12zM944 395h24v12h-24zM776 407h12v12h-12zM944 407h24v12h-24zM764 419h12v12h-12zM944 419h24v12h-24zM764 431h12v12h-12zM932 431h36v12h-36zM764 443h12v12h-12zM920 443h36v12h-36zM764 455h12v12h-12zM908 455h36v12h-36zM776 467h12v12h-12zM884 467h36v12h-36zM776 479h48v12h-48zM848 479h48v12h-48z"/><path fill="#c4bddf" d="M800 383h132v12h-132zM788 395h12v12h-12zM872 395h72v12h-72zM896 407h48v12h-48zM776 419h12v12h-12zM896 419h48v12h-48zM776 431h12v12h-12zM896 431h36v12h-36zM776 443h12v12h-12zM896 443h24v12h-24zM776 455h12v12h-12zM872 455h36v12h-36zM788 467h24v12h-24zM848 467h36v12h-36zM824 479h24v12h-24z"/><path fill="#beb6dc" d="M800 395h72v12h-72zM788 407h12v12h-12zM860 407h36v12h-36zM788 419h12v12h-12zM872 419h24v12h-24zM788 431h12v12h-12zM872 431h24v12h-24zM788 443h12v12h-12zM860 443h36v12h-36zM788 455h36v12h-36zM836 455h36v12h-36zM812 467h36v12h-36z"/><path fill="#b9b0d9" d="M800 407h60v12h-60zM800 419h12v12h-12zM836 419h36v12h-36zM800 431h24v12h-24zM836 431h36v12h-36zM800 443h60v12h-60zM824 455h12v12h-12z"/><path fill="#b3aad6" d="M812 419h24v12h-24zM824 431h12v12h-12z"/></g><path fill="none" stroke="rgba(100,100,100,0.45)" stroke-width="7.8" stroke-linejoin="round" stroke-linecap="round" d="M140 349L155 368L174.7 386L200.5 404L212 410L221 413.3L230 415L236 415L245 413.2L251 410.6L257 406.8L263.4 401L269 393L271.7 386L272.5 380L271.6 371L268.4 362L263.3 353L256.5 344L248 335L236 324.5L224 315.7L200 302.4L188 297.7L176 294.4L164 292.7L155 292.8L146 294.7L140 297.4M927.5 740L896 728.1L875 721.4L857 717.2L842 715.6L827 717.1L815 721.3L803 728.7L789.8 740M140 431L206 454L221 456.7L236 456.5L248 454L260 449.8L298.9 431L318.5 419L324.5 413L327.7 407L329 398L327.3 386L322.1 371L316 359L306.1 344L283.1 314L242 252.8L214.1 215M962 696.5L884 667.5L854 657.6L830 652.4L818 651.8L809 652.8L794 658L779 668.4L767 680L734 716.6L710.9 740M140 479.5L197 487.4L227 488.5L236 487.6L245 485.5L287 468.8L305 464L317 462.5L329 462.6L341 464.3L350 466.7L359 470.3L368 475.4L376 482L384.1 491L402.6 518L440 581L449 592.7L458 601.5L470 609.8L482 615.7L491 619L497 619.7L503 618.8L509 615.7L515 609.8L520.1 602L525.3 590L531 572L534.2 557L534.5 548L524.3 500L518 458L515.6 449L511.8 440L502.5 428L488 417.7L470 410.2L428 398.9L413 393.5L394.9 383L374.2 365L362 351.2L341 324.7L321.2 296L308.6 269L288.8 215M962 652.7L827 610.7L806 606.9L797 606.7L788.2 608L779 611.5L767.3 620L758 629.3L728 663.4L713 678.5L695 693.8L674 708L653 718.6L629 727.1L608 732L560.8 740M962 616.2L926 608.5L890 599.5L800 572.4L788 570.4L779 570.6L767 574.5L752.8 584L743 593.5L719 622.4L704 637.9L689 650.5L671 661.3L659 666.1L650 668.5L632 670.1L623 669.2L614 666.9L605 663L599 659.3L588.8 650L581 639.1L575.1 626L571.1 611L568.4 590L565.3 542L558.7 491L556.8 434L553.8 419L547.8 404L542 394L533 382.4L515 365.8L491 350.6L436.8 323L419 310L404 296.2L391.9 281L381.9 263L373.9 242L366.6 215M140 521.3L197 517.5L230 513.3L251 508.4L290 494.7L305 491.9L317 492.4L329 494.9L341 499.6L351.3 506L364 518L374 531.6L382.7 548L389.3 566L402.2 620L418.7 683L423.4 713L424.7 740M962 583.4L923 578.8L887 572.6L851 564.3L794 547.9L785 546.1L776 545.7L764 547.5L752.7 551L740 556.7L729.3 563L710.5 578L680 608.2L672.3 614L665 618.1L653 621.4L641 621.1L629 617.2L620 611.2L611.8 602L605.6 590L599 570.3L594.7 551L591.6 491L591 410L589.3 392L586 377L580.2 362L563.2 329L545 289.3L503.9 215M140 565.4L236 537.6L275 527.2L290 524.1L302 523.4L314 525.2L325.8 530L334.6 536L345.8 548L352.4 560L356.9 575L360.3 596L363 635L363.7 677L361.9 710L357.8 740M962 551.9L920 551.5L881 548.4L848 543.2L794 531.4L776 529.1L752 528.8L695 533.8L677 533.3L668 531.4L659 527.4L653 522.8L647.1 515L643.1 506L640.6 497L638 473L639.2 443L641.2 431L644 421.4L647.6 413L653 403.7L659 397.1L662 395.1L668 393.5L689 395.7L695 395L701 393.1L707 389.9L716 382.7L725.1 371L730.9 356L748.9 296L754.8 272L756.8 257L757.2 245L756.3 230L753.8 215M140 630.9L204.5 593L227.5 581L245 573.5L260.2 569L278 566.5L290 567.6L299 571.8L306.8 581L309.5 587L312 596L313.7 614L312.5 635L308.2 662L302 686.6L292.9 713L280.8 740M962 518.9L926 524L890 526.2L857 525.1L821 520.6L770.3 512L746 505.1L734.9 500L726.1 494L720.7 488L716.9 479L716.7 467L720.3 455L743.1 401L750.8 386L760 371L770 357.9L782 346.1L794 337.1L825.6 317L836.1 308L844.6 299L856.3 284L869.6 263L882.1 239L892.4 215M962 478.4L929 491.4L909.9 497L893 500.7L875 503.5L857 504.9L842 505L824 503.7L785 497.9L776 494.9L768.7 491L761.5 485L755.1 476L752.2 467L751.4 458L752.6 446L755.1 434L759.6 419L764.3 407L774.9 389L782 380.9L788 375.6L797 370L806 366.3L818 363.7L840.7 362L856.6 356L872 347L914 319.4L962 289.5M848 482.1L827 483L806 480.2L793.9 476L788 471.9L783.7 467L780.6 461L778.3 452L777.8 443L778.6 434L781 422L784.1 413L789.2 404L794 398.1L800 393.2L808.3 389L815 387.3L824 386.6L857 388.6L902 388.5L915.5 392L924.7 398L930.5 407L931.8 413L931.6 419L928 431L922.8 440L918 446L905.2 458L886.1 470L866 478L848 482.1M827 446.1L821 445.2L815 441.9L811.1 437L809 431.2L808.6 425L810 419L814.1 413L818 411.4L827 412.6L833.5 416L839.9 422L843 428L843.3 434L840.4 440L836 443.6L827 446.1"/></g><use href="#lines"/></g><g transform="translate(1106 590.67)"><g clip-path="url(#clip)"><g filter="url(#b11)"><path fill="#c1857e" d="M644 563h24v12h-24zM620 575h36v12h-36zM608 587h60v12h-60zM608 599h60v12h-60zM620 611h48v12h-48zM632 623h24v12h-24z"/><path fill="#c58b84" d="M620 551h72v12h-72zM596 563h48v12h-48zM668 563h36v12h-36zM584 575h36v12h-36zM656 575h48v12h-48zM584 587h24v12h-24zM668 587h36v12h-36zM584 599h24v12h-24zM668 599h24v12h-24zM584 611h36v12h-36zM668 611h24v12h-24zM596 623h36v12h-36zM656 623h24v12h-24zM608 635h72v12h-72zM620 647h48v12h-48z"/><path fill="#c9928b" d="M620 539h84v12h-84zM572 551h48v12h-48zM692 551h36v12h-36zM560 563h36v12h-36zM704 563h24v12h-24zM560 575h24v12h-24zM704 575h24v12h-24zM560 587h24v12h-24zM704 587h12v12h-12zM560 599h24v12h-24zM692 599h24v12h-24zM560 611h24v12h-24zM692 611h12v12h-12zM572 623h24v12h-24zM680 623h24v12h-24zM584 635h24v12h-24zM680 635h24v12h-24zM596 647h24v12h-24zM668 647h24v12h-24zM608 659h72v12h-72zM620 671h48v12h-48z"/><path fill="#cc9892" d="M632 527h48v12h-48zM572 539h48v12h-48zM704 539h24v12h-24zM548 551h24v12h-24zM728 551h24v12h-24zM536 563h24v12h-24zM728 563h24v12h-24zM536 575h24v12h-24zM728 575h24v12h-24zM536 587h24v12h-24zM716 587h36v12h-36zM536 599h24v12h-24zM716 599h24v12h-24zM536 611h24v12h-24zM704 611h24v12h-24zM548 623h24v12h-24zM704 623h24v12h-24zM560 635h24v12h-24zM704 635h12v12h-12zM572 647h24v12h-24zM692 647h24v12h-24zM572 659h36v12h-36zM680 659h36v12h-36zM584 671h36v12h-36zM668 671h36v12h-36zM608 683h84v12h-84zM620 695h60v12h-60z"/><path fill="#d09e98" d="M584 527h48v12h-48zM680 527h48v12h-48zM548 539h24v12h-24zM728 539h24v12h-24zM536 551h12v12h-12zM752 551h24v12h-24zM524 563h12v12h-12zM752 563h24v12h-24zM512 575h24v12h-24zM752 575h24v12h-24zM512 587h24v12h-24zM752 587h24v12h-24zM512 599h24v12h-24zM740 599h24v12h-24zM512 611h24v12h-24zM728 611h24v12h-24zM512 623h36v12h-36zM728 623h24v12h-24zM524 635h36v12h-36zM716 635h36v12h-36zM536 647h36v12h-36zM716 647h24v12h-24zM548 659h24v12h-24zM716 659h24v12h-24zM560 671h24v12h-24zM704 671h36v12h-36zM572 683h36v12h-36zM692 683h36v12h-36zM584 695h36v12h-36zM680 695h48v12h-48zM596 707h120v12h-120zM620 719h84v12h-84zM644 731h36v12h-36z"/><path fill="#d3a59f" d="M620 515h72v12h-72zM548 527h36v12h-36zM728 527h24v12h-24zM536 539h12v12h-12zM752 539h24v12h-24zM524 551h12v12h-12zM776 551h12v12h-12zM512 563h12v12h-12zM776 563h24v12h-24zM500 575h12v12h-12zM776 575h24v12h-24zM488 587h24v12h-24zM776 587h24v12h-24zM488 599h24v12h-24zM764 599h24v12h-24zM488 611h24v12h-24zM752 611h36v12h-36zM488 623h24v12h-24zM752 623h24v12h-24zM500 635h24v12h-24zM752 635h24v12h-24zM512 647h24v12h-24zM740 647h36v12h-36zM524 659h24v12h-24zM740 659h36v12h-36zM536 671h24v12h-24zM740 671h24v12h-24zM548 683h24v12h-24zM728 683h36v12h-36zM560 695h24v12h-24zM728 695h36v12h-36zM560 707h36v12h-36zM716 707h48v12h-48zM572 719h48v12h-48zM704 719h48v12h-48zM584 731h60v12h-60zM680 731h60v12h-60z"/><path fill="#d7aba6" d="M560 515h60v12h-60zM692 515h48v12h-48zM536 527h12v12h-12zM752 527h24v12h-24zM512 539h24v12h-24zM776 539h12v12h-12zM512 551h12v12h-12zM788 551h12v12h-12zM500 563h12v12h-12zM800 563h12v12h-12zM488 575h12v12h-12zM800 575h12v12h-12zM476 587h12v12h-12zM800 587h12v12h-12zM476 599h12v12h-12zM788 599h24v12h-24zM464 611h24v12h-24zM788 611h24v12h-24zM464 623h24v12h-24zM776 623h36v12h-36zM476 635h24v12h-24zM776 635h36v12h-36zM476 647h36v12h-36zM776 647h36v12h-36zM488 659h36v12h-36zM776 659h24v12h-24zM500 671h36v12h-36zM764 671h36v12h-36zM512 683h36v12h-36zM764 683h36v12h-36zM524 695h36v12h-36zM764 695h36v12h-36zM536 707h24v12h-24zM764 707h36v12h-36zM548 719h24v12h-24zM752 719h48v12h-48zM548 731h36v12h-36zM740 731h48v12h-48z"/><path fill="#dab2ad" d="M584 503h120v12h-120zM536 515h24v12h-24zM740 515h24v12h-24zM524 527h12v12h-12zM776 527h12v12h-12zM788 539h24v12h-24zM500 551h12v12h-12zM800 551h12v12h-12zM488 563h12v12h-12zM812 563h12v12h-12zM476 575h12v12h-12zM812 575h12v12h-12zM464 587h12v12h-12zM812 587h24v12h-24zM464 599h12v12h-12zM812 599h24v12h-24zM452 611h12v12h-12zM812 611h24v12h-24zM452 623h12v12h-12zM812 623h24v12h-24zM452 635h24v12h-24zM812 635h24v12h-24zM464 647h12v12h-12zM812 647h24v12h-24zM464 659h24v12h-24zM800 659h36v12h-36zM476 671h24v12h-24zM800 671h36v12h-36zM476 683h36v12h-36zM800 683h36v12h-36zM488 695h36v12h-36zM800 695h36v12h-36zM500 707h36v12h-36zM800 707h36v12h-36zM512 719h36v12h-36zM800 719h36v12h-36zM524 731h24v12h-24zM788 731h48v12h-48z"/><path fill="#deb8b4" d="M548 503h36v12h-36zM704 503h36v12h-36zM524 515h12v12h-12zM764 515h12v12h-12zM512 527h12v12h-12zM788 527h12v12h-12zM500 539h12v12h-12zM812 539h12v12h-12zM488 551h12v12h-12zM812 551h12v12h-12zM476 563h12v12h-12zM824 563h12v12h-12zM464 575h12v12h-12zM824 575h12v12h-12zM452 587h12v12h-12zM836 587h12v12h-12zM452 599h12v12h-12zM836 599h12v12h-12zM440 611h12v12h-12zM836 611h12v12h-12zM440 623h12v12h-12zM836 623h24v12h-24zM440 635h12v12h-12zM836 635h24v12h-24zM440 647h24v12h-24zM836 647h24v12h-24zM452 659h12v12h-12zM836 659h24v12h-24zM452 671h24v12h-24zM836 671h24v12h-24zM464 683h12v12h-12zM836 683h36v12h-36zM464 695h24v12h-24zM836 695h36v12h-36zM476 707h24v12h-24zM836 707h36v12h-36zM476 719h36v12h-36zM836 719h36v12h-36zM488 731h36v12h-36zM836 731h36v12h-36z"/><path fill="#e1bfbb" d="M548 491h96v12h-96zM680 491h36v12h-36zM524 503h24v12h-24zM740 503h24v12h-24zM512 515h12v12h-12zM776 515h24v12h-24zM500 527h12v12h-12zM800 527h12v12h-12zM488 539h12v12h-12zM824 539h12v12h-12zM476 551h12v12h-12zM824 551h12v12h-12zM452 563h24v12h-24zM836 563h12v12h-12zM452 575h12v12h-12zM836 575h24v12h-24zM440 587h12v12h-12zM848 587h12v12h-12zM440 599h12v12h-12zM848 599h24v12h-24zM428 611h12v12h-12zM848 611h24v12h-24zM428 623h12v12h-12zM860 623h12v12h-12zM428 635h12v12h-12zM860 635h24v12h-24zM428 647h12v12h-12zM860 647h24v12h-24zM428 659h24v12h-24zM860 659h24v12h-24zM440 671h12v12h-12zM860 671h36v12h-36zM440 683h24v12h-24zM872 683h24v12h-24zM440 695h24v12h-24zM872 695h24v12h-24zM452 707h24v12h-24zM872 707h24v12h-24zM452 719h24v12h-24zM872 719h36v12h-36zM464 731h24v12h-24zM872 731h36v12h-36z"/><path fill="#e5c6c2" d="M560 479h24v12h-24zM524 491h24v12h-24zM644 491h36v12h-36zM716 491h36v12h-36zM512 503h12v12h-12zM764 503h24v12h-24zM500 515h12v12h-12zM800 515h12v12h-12zM488 527h12v12h-12zM812 527h24v12h-24zM476 539h12v12h-12zM836 539h12v12h-12zM452 551h24v12h-24zM836 551h24v12h-24zM440 563h12v12h-12zM848 563h12v12h-12zM440 575h12v12h-12zM860 575h12v12h-12zM428 587h12v12h-12zM860 587h24v12h-24zM428 599h12v12h-12zM872 599h12v12h-12zM416 611h12v12h-12zM872 611h24v12h-24zM416 623h12v12h-12zM872 623h24v12h-24zM416 635h12v12h-12zM884 635h24v12h-24zM416 647h12v12h-12zM884 647h24v12h-24zM416 659h12v12h-12zM884 659h24v12h-24zM416 671h24v12h-24zM896 671h24v12h-24zM428 683h12v12h-12zM896 683h24v12h-24zM428 695h12v12h-12zM896 695h36v12h-36zM428 707h24v12h-24zM896 707h36v12h-36zM440 719h12v12h-12zM908 719h24v12h-24zM440 731h24v12h-24zM908 731h36v12h-36z"/><path fill="#e8ccc9" d="M536 479h24v12h-24zM584 479h60v12h-60zM668 479h60v12h-60zM512 491h12v12h-12zM752 491h12v12h-12zM500 503h12v12h-12zM788 503h12v12h-12zM488 515h12v12h-12zM812 515h12v12h-12zM476 527h12v12h-12zM836 527h12v12h-12zM452 539h24v12h-24zM848 539h12v12h-12zM440 551h12v12h-12zM860 551h12v12h-12zM428 563h12v12h-12zM860 563h12v12h-12zM428 575h12v12h-12zM872 575h12v12h-12zM416 587h12v12h-12zM884 587h12v12h-12zM416 599h12v12h-12zM884 599h24v12h-24zM404 611h12v12h-12zM896 611h12v12h-12zM404 623h12v12h-12zM896 623h24v12h-24zM404 635h12v12h-12zM908 635h12v12h-12zM404 647h12v12h-12zM908 647h24v12h-24zM404 659h12v12h-12zM908 659h24v12h-24zM404 671h12v12h-12zM920 671h24v12h-24zM404 683h24v12h-24zM920 683h36v12h-36zM404 695h24v12h-24zM932 695h24v12h-24zM416 707h12v12h-12zM932 707h24v12h-24zM416 719h24v12h-24zM932 719h36v12h-36zM416 731h24v12h-24zM944 731h24v12h-24z"/><path fill="#ebd3d0" d="M536 467h84v12h-84zM512 479h24v12h-24zM644 479h24v12h-24zM728 479h24v12h-24zM500 491h12v12h-12zM764 491h24v12h-24zM488 503h12v12h-12zM800 503h24v12h-24zM476 515h12v12h-12zM824 515h12v12h-12zM464 527h12v12h-12zM848 527h12v12h-12zM440 539h12v12h-12zM860 539h12v12h-12zM428 551h12v12h-12zM872 551h12v12h-12zM416 563h12v12h-12zM872 563h24v12h-24zM416 575h12v12h-12zM884 575h24v12h-24zM404 587h12v12h-12zM896 587h12v12h-12zM404 599h12v12h-12zM908 599h12v12h-12zM392 611h12v12h-12zM908 611h24v12h-24zM392 623h12v12h-12zM920 623h24v12h-24zM392 635h12v12h-12zM920 635h24v12h-24zM392 647h12v12h-12zM932 647h24v12h-24zM392 659h12v12h-12zM932 659h36v12h-36zM392 671h12v12h-12zM944 671h24v12h-24zM392 683h12v12h-12zM956 683h12v12h-12zM392 695h12v12h-12zM956 695h12v12h-12zM392 707h24v12h-24zM956 707h12v12h-12zM392 719h24v12h-24zM404 731h12v12h-12z"/><path fill="#eedad7" d="M524 455h84v12h-84zM512 467h24v12h-24zM620 467h120v12h-120zM500 479h12v12h-12zM752 479h24v12h-24zM488 491h12v12h-12zM788 491h12v12h-12zM476 503h12v12h-12zM824 503h12v12h-12zM464 515h12v12h-12zM836 515h24v12h-24zM440 527h24v12h-24zM860 527h12v12h-12zM428 539h12v12h-12zM872 539h12v12h-12zM416 551h12v12h-12zM884 551h12v12h-12zM404 563h12v12h-12zM896 563h12v12h-12zM392 575h24v12h-24zM908 575h12v12h-12zM392 587h12v12h-12zM908 587h24v12h-24zM392 599h12v12h-12zM920 599h24v12h-24zM380 611h12v12h-12zM932 611h24v12h-24zM380 623h12v12h-12zM944 623h24v12h-24zM380 635h12v12h-12zM944 635h24v12h-24zM380 647h12v12h-12zM956 647h12v12h-12zM380 659h12v12h-12zM380 671h12v12h-12zM380 683h12v12h-12zM380 695h12v12h-12zM380 707h12v12h-12zM380 719h12v12h-12zM380 731h24v12h-24z"/><path fill="#f1e0de" d="M536 431h36v12h-36zM524 443h84v12h-84zM512 455h12v12h-12zM608 455h48v12h-48zM668 455h60v12h-60zM500 467h12v12h-12zM740 467h24v12h-24zM488 479h12v12h-12zM776 479h12v12h-12zM476 491h12v12h-12zM800 491h24v12h-24zM464 503h12v12h-12zM836 503h12v12h-12zM440 515h24v12h-24zM860 515h12v12h-12zM428 527h12v12h-12zM872 527h12v12h-12zM416 539h12v12h-12zM884 539h12v12h-12zM404 551h12v12h-12zM896 551h12v12h-12zM392 563h12v12h-12zM908 563h24v12h-24zM380 575h12v12h-12zM920 575h24v12h-24zM380 587h12v12h-12zM932 587h24v12h-24zM368 599h24v12h-24zM944 599h24v12h-24zM368 611h12v12h-12zM956 611h12v12h-12zM368 623h12v12h-12zM368 635h12v12h-12zM368 647h12v12h-12zM356 659h24v12h-24zM356 671h24v12h-24zM356 683h24v12h-24zM356 695h24v12h-24zM356 707h24v12h-24zM368 719h12v12h-12zM368 731h12v12h-12z"/><path fill="#f5e7e5" d="M524 419h48v12h-48zM512 431h24v12h-24zM572 431h24v12h-24zM500 443h24v12h-24zM608 443h24v12h-24zM692 443h36v12h-36zM488 455h24v12h-24zM656 455h12v12h-12zM728 455h24v12h-24zM488 467h12v12h-12zM764 467h12v12h-12zM476 479h12v12h-12zM788 479h24v12h-24zM464 491h12v12h-12zM824 491h24v12h-24zM452 503h12v12h-12zM848 503h12v12h-12zM428 515h12v12h-12zM872 515h12v12h-12zM416 527h12v12h-12zM884 527h12v12h-12zM392 539h24v12h-24zM896 539h24v12h-24zM380 551h24v12h-24zM908 551h24v12h-24zM380 563h12v12h-12zM932 563h12v12h-12zM368 575h12v12h-12zM944 575h24v12h-24zM356 587h24v12h-24zM956 587h12v12h-12zM356 599h12v12h-12zM356 611h12v12h-12zM356 623h12v12h-12zM344 635h24v12h-24zM344 647h24v12h-24zM344 659h12v12h-12zM344 671h12v12h-12zM344 683h12v12h-12zM344 695h12v12h-12zM344 707h12v12h-12zM344 719h24v12h-24zM344 731h24v12h-24z"/><path fill="#f8eeed" d="M200 395h36v12h-36zM536 395h12v12h-12zM212 407h12v12h-12zM512 407h60v12h-60zM500 419h24v12h-24zM572 419h24v12h-24zM500 431h12v12h-12zM596 431h24v12h-24zM704 431h24v12h-24zM488 443h12v12h-12zM632 443h60v12h-60zM728 443h24v12h-24zM476 455h12v12h-12zM752 455h12v12h-12zM476 467h12v12h-12zM776 467h12v12h-12zM464 479h12v12h-12zM812 479h12v12h-12zM452 491h12v12h-12zM848 491h12v12h-12zM428 503h24v12h-24zM860 503h24v12h-24zM416 515h12v12h-12zM884 515h12v12h-12zM392 527h24v12h-24zM896 527h24v12h-24zM380 539h12v12h-12zM920 539h12v12h-12zM368 551h12v12h-12zM932 551h24v12h-24zM356 563h24v12h-24zM944 563h24v12h-24zM356 575h12v12h-12zM344 587h12v12h-12zM344 599h12v12h-12zM344 611h12v12h-12zM332 623h24v12h-24zM332 635h12v12h-12zM332 647h12v12h-12zM332 659h12v12h-12zM332 671h12v12h-12zM332 683h12v12h-12zM332 695h12v12h-12zM332 707h12v12h-12zM332 719h12v12h-12zM332 731h12v12h-12z"/><path fill="#fbf5f4" d="M164 347h48v12h-48zM140 359h108v12h-108zM140 371h120v12h-120zM140 383h120v12h-120zM512 383h48v12h-48zM140 395h60v12h-60zM236 395h24v12h-24zM500 395h36v12h-36zM548 395h36v12h-36zM152 407h60v12h-60zM224 407h36v12h-36zM500 407h12v12h-12zM572 407h24v12h-24zM164 419h96v12h-96zM488 419h12v12h-12zM596 419h24v12h-24zM704 419h24v12h-24zM188 431h60v12h-60zM476 431h24v12h-24zM620 431h84v12h-84zM728 431h12v12h-12zM476 443h12v12h-12zM752 443h12v12h-12zM464 455h12v12h-12zM764 455h12v12h-12zM464 467h12v12h-12zM788 467h24v12h-24zM452 479h12v12h-12zM824 479h24v12h-24zM440 491h12v12h-12zM860 491h12v12h-12zM416 503h12v12h-12zM884 503h12v12h-12zM392 515h24v12h-24zM896 515h24v12h-24zM368 527h24v12h-24zM920 527h24v12h-24zM356 539h24v12h-24zM932 539h24v12h-24zM344 551h24v12h-24zM956 551h12v12h-12zM332 563h24v12h-24zM332 575h24v12h-24zM332 587h12v12h-12zM332 599h12v12h-12zM320 611h24v12h-24zM320 623h12v12h-12zM320 635h12v12h-12zM320 647h12v12h-12zM320 659h12v12h-12zM320 671h12v12h-12zM320 683h12v12h-12zM308 695h24v12h-24zM308 707h24v12h-24zM308 719h24v12h-24zM308 731h24v12h-24z"/><path fill="#fefcfb" d="M140 311h36v12h-36zM140 323h84v12h-84zM140 335h108v12h-108zM140 347h24v12h-24zM212 347h60v12h-60zM248 359h36v12h-36zM512 359h36v12h-36zM260 371h24v12h-24zM500 371h72v12h-72zM260 383h24v12h-24zM488 383h24v12h-24zM560 383h24v12h-24zM260 395h24v12h-24zM488 395h12v12h-12zM584 395h12v12h-12zM140 407h12v12h-12zM260 407h24v12h-24zM476 407h24v12h-24zM596 407h24v12h-24zM140 419h24v12h-24zM260 419h24v12h-24zM476 419h12v12h-12zM620 419h84v12h-84zM728 419h12v12h-12zM140 431h48v12h-48zM248 431h24v12h-24zM464 431h12v12h-12zM740 431h24v12h-24zM164 443h96v12h-96zM464 443h12v12h-12zM764 443h12v12h-12zM452 455h12v12h-12zM776 455h24v12h-24zM440 467h24v12h-24zM812 467h12v12h-12zM428 479h24v12h-24zM848 479h12v12h-12zM416 491h24v12h-24zM872 491h12v12h-12zM380 503h36v12h-36zM896 503h24v12h-24zM356 515h36v12h-36zM920 515h24v12h-24zM332 527h36v12h-36zM944 527h24v12h-24zM320 539h36v12h-36zM956 539h12v12h-12zM320 551h24v12h-24zM320 563h12v12h-12zM308 575h24v12h-24zM308 587h24v12h-24zM308 599h24v12h-24zM308 611h12v12h-12zM308 623h12v12h-12zM308 635h12v12h-12zM308 647h12v12h-12zM296 659h24v12h-24zM296 671h24v12h-24zM296 683h24v12h-24zM296 695h12v12h-12zM296 707h12v12h-12zM296 719h12v12h-12zM296 731h12v12h-12z"/><path fill="#fcfcfd" d="M140 275h24v12h-24zM140 287h60v12h-60zM140 299h84v12h-84zM176 311h72v12h-72zM224 323h48v12h-48zM248 335h36v12h-36zM512 335h36v12h-36zM272 347h24v12h-24zM500 347h60v12h-60zM284 359h24v12h-24zM488 359h24v12h-24zM548 359h24v12h-24zM284 371h24v12h-24zM488 371h12v12h-12zM572 371h12v12h-12zM284 383h24v12h-24zM476 383h12v12h-12zM584 383h12v12h-12zM284 395h24v12h-24zM476 395h12v12h-12zM596 395h12v12h-12zM284 407h12v12h-12zM464 407h12v12h-12zM620 407h12v12h-12zM680 407h72v12h-72zM284 419h12v12h-12zM464 419h12v12h-12zM740 419h24v12h-24zM272 431h24v12h-24zM452 431h12v12h-12zM764 431h12v12h-12zM140 443h24v12h-24zM260 443h36v12h-36zM452 443h12v12h-12zM776 443h12v12h-12zM140 455h144v12h-144zM440 455h12v12h-12zM800 455h12v12h-12zM428 467h12v12h-12zM824 467h24v12h-24zM416 479h12v12h-12zM860 479h24v12h-24zM368 491h48v12h-48zM884 491h24v12h-24zM320 503h60v12h-60zM920 503h24v12h-24zM308 515h48v12h-48zM944 515h24v12h-24zM308 527h24v12h-24zM296 539h24v12h-24zM296 551h24v12h-24zM296 563h24v12h-24zM296 575h12v12h-12zM296 587h12v12h-12zM296 599h12v12h-12zM296 611h12v12h-12zM296 623h12v12h-12zM284 635h24v12h-24zM284 647h24v12h-24zM284 659h12v12h-12zM284 671h12v12h-12zM284 683h12v12h-12zM284 695h12v12h-12zM272 707h24v12h-24zM272 719h24v12h-24zM272 731h24v12h-24z"/><path fill="#f7f5fa" d="M140 239h24v12h-24zM140 251h48v12h-48zM140 263h72v12h-72zM164 275h60v12h-60zM200 287h48v12h-48zM224 299h48v12h-48zM248 311h36v12h-36zM512 311h36v12h-36zM272 323h24v12h-24zM500 323h60v12h-60zM284 335h24v12h-24zM488 335h24v12h-24zM548 335h24v12h-24zM296 347h24v12h-24zM488 347h12v12h-12zM560 347h12v12h-12zM308 359h12v12h-12zM476 359h12v12h-12zM572 359h12v12h-12zM308 371h12v12h-12zM476 371h12v12h-12zM584 371h12v12h-12zM308 383h12v12h-12zM464 383h12v12h-12zM596 383h12v12h-12zM716 383h24v12h-24zM308 395h12v12h-12zM464 395h12v12h-12zM608 395h24v12h-24zM692 395h60v12h-60zM296 407h24v12h-24zM452 407h12v12h-12zM632 407h48v12h-48zM752 407h12v12h-12zM296 419h24v12h-24zM452 419h12v12h-12zM764 419h12v12h-12zM296 431h24v12h-24zM440 431h12v12h-12zM776 431h12v12h-12zM296 443h24v12h-24zM440 443h12v12h-12zM788 443h12v12h-12zM284 455h48v12h-48zM428 455h12v12h-12zM812 455h12v12h-12zM140 467h204v12h-204zM404 467h24v12h-24zM848 467h12v12h-12zM248 479h168v12h-168zM884 479h24v12h-24zM272 491h96v12h-96zM908 491h36v12h-36zM284 503h36v12h-36zM944 503h24v12h-24zM284 515h24v12h-24zM284 527h24v12h-24zM284 539h12v12h-12zM284 551h12v12h-12zM284 563h12v12h-12zM284 575h12v12h-12zM284 587h12v12h-12zM284 599h12v12h-12zM284 611h12v12h-12zM272 623h24v12h-24zM272 635h12v12h-12zM272 647h12v12h-12zM272 659h12v12h-12zM272 671h12v12h-12zM260 683h24v12h-24zM260 695h24v12h-24zM260 707h12v12h-12zM260 719h12v12h-12zM248 731h24v12h-24z"/><path fill="#f1eff7" d="M140 215h48v12h-48zM836 215h132v12h-132zM140 227h72v12h-72zM836 227h132v12h-132zM164 239h60v12h-60zM836 239h132v12h-132zM188 251h48v12h-48zM836 251h132v12h-132zM212 263h48v12h-48zM836 263h108v12h-108zM224 275h48v12h-48zM836 275h96v12h-96zM248 287h36v12h-36zM860 287h48v12h-48zM272 299h36v12h-36zM500 299h60v12h-60zM284 311h24v12h-24zM488 311h24v12h-24zM548 311h12v12h-12zM296 323h24v12h-24zM488 323h12v12h-12zM560 323h12v12h-12zM308 335h12v12h-12zM476 335h12v12h-12zM572 335h12v12h-12zM320 347h12v12h-12zM464 347h24v12h-24zM572 347h24v12h-24zM320 359h12v12h-12zM464 359h12v12h-12zM584 359h12v12h-12zM320 371h24v12h-24zM464 371h12v12h-12zM596 371h12v12h-12zM704 371h60v12h-60zM320 383h24v12h-24zM452 383h12v12h-12zM608 383h12v12h-12zM692 383h24v12h-24zM740 383h24v12h-24zM320 395h24v12h-24zM452 395h12v12h-12zM632 395h60v12h-60zM752 395h24v12h-24zM320 407h24v12h-24zM440 407h12v12h-12zM764 407h12v12h-12zM320 419h24v12h-24zM440 419h12v12h-12zM776 419h12v12h-12zM320 431h24v12h-24zM428 431h12v12h-12zM788 431h12v12h-12zM320 443h36v12h-36zM416 443h24v12h-24zM800 443h12v12h-12zM332 455h96v12h-96zM824 455h24v12h-24zM344 467h60v12h-60zM860 467h36v12h-36zM140 479h108v12h-108zM908 479h36v12h-36zM140 491h132v12h-132zM944 491h24v12h-24zM248 503h36v12h-36zM260 515h24v12h-24zM272 527h12v12h-12zM272 539h12v12h-12zM272 551h12v12h-12zM272 563h12v12h-12zM272 575h12v12h-12zM272 587h12v12h-12zM260 599h24v12h-24zM260 611h24v12h-24zM260 623h12v12h-12zM260 635h12v12h-12zM248 647h24v12h-24zM248 659h24v12h-24zM248 671h24v12h-24zM248 683h12v12h-12zM236 695h24v12h-24zM236 707h24v12h-24zM236 719h24v12h-24zM236 731h12v12h-12z"/><path fill="#ebe8f4" d="M188 215h48v12h-48zM788 215h48v12h-48zM212 227h48v12h-48zM788 227h48v12h-48zM224 239h48v12h-48zM788 239h48v12h-48zM236 251h48v12h-48zM788 251h48v12h-48zM260 263h36v12h-36zM788 263h48v12h-48zM944 263h24v12h-24zM272 275h36v12h-36zM500 275h48v12h-48zM788 275h48v12h-48zM932 275h36v12h-36zM284 287h24v12h-24zM488 287h72v12h-72zM788 287h72v12h-72zM908 287h60v12h-60zM308 299h12v12h-12zM476 299h24v12h-24zM560 299h12v12h-12zM776 299h168v12h-168zM308 311h24v12h-24zM476 311h12v12h-12zM560 311h24v12h-24zM776 311h132v12h-132zM320 323h12v12h-12zM464 323h24v12h-24zM572 323h12v12h-12zM764 323h72v12h-72zM320 335h24v12h-24zM464 335h12v12h-12zM584 335h12v12h-12zM740 335h60v12h-60zM332 347h12v12h-12zM452 347h12v12h-12zM596 347h12v12h-12zM716 347h72v12h-72zM332 359h24v12h-24zM452 359h12v12h-12zM596 359h12v12h-12zM704 359h84v12h-84zM344 371h12v12h-12zM452 371h12v12h-12zM608 371h12v12h-12zM692 371h12v12h-12zM764 371h24v12h-24zM344 383h12v12h-12zM440 383h12v12h-12zM620 383h24v12h-24zM668 383h24v12h-24zM764 383h24v12h-24zM344 395h12v12h-12zM440 395h12v12h-12zM776 395h12v12h-12zM344 407h24v12h-24zM428 407h12v12h-12zM776 407h12v12h-12zM344 419h24v12h-24zM416 419h24v12h-24zM788 419h12v12h-12zM344 431h84v12h-84zM800 431h12v12h-12zM356 443h60v12h-60zM812 443h12v12h-12zM848 455h24v12h-24zM896 467h72v12h-72zM944 479h24v12h-24zM140 503h108v12h-108zM236 515h24v12h-24zM248 527h24v12h-24zM248 539h24v12h-24zM260 551h12v12h-12zM260 563h12v12h-12zM248 575h24v12h-24zM248 587h24v12h-24zM248 599h12v12h-12zM248 611h12v12h-12zM236 623h24v12h-24zM236 635h24v12h-24zM236 647h12v12h-12zM224 659h24v12h-24zM224 671h24v12h-24zM224 683h24v12h-24zM212 695h24v12h-24zM212 707h24v12h-24zM212 719h24v12h-24zM200 731h36v12h-36z"/><path fill="#e6e2f1" d="M236 215h48v12h-48zM752 215h36v12h-36zM260 227h36v12h-36zM752 227h36v12h-36zM272 239h24v12h-24zM752 239h36v12h-36zM284 251h24v12h-24zM500 251h48v12h-48zM752 251h36v12h-36zM296 263h24v12h-24zM488 263h84v12h-84zM752 263h36v12h-36zM308 275h12v12h-12zM476 275h24v12h-24zM548 275h24v12h-24zM752 275h36v12h-36zM308 287h24v12h-24zM464 287h24v12h-24zM560 287h24v12h-24zM740 287h48v12h-48zM320 299h12v12h-12zM464 299h12v12h-12zM572 299h12v12h-12zM740 299h36v12h-36zM944 299h24v12h-24zM332 311h12v12h-12zM452 311h24v12h-24zM584 311h12v12h-12zM728 311h48v12h-48zM908 311h60v12h-60zM332 323h24v12h-24zM452 323h12v12h-12zM584 323h12v12h-12zM716 323h48v12h-48zM836 323h96v12h-96zM344 335h12v12h-12zM452 335h12v12h-12zM596 335h12v12h-12zM716 335h24v12h-24zM800 335h72v12h-72zM344 347h24v12h-24zM440 347h12v12h-12zM608 347h12v12h-12zM704 347h12v12h-12zM788 347h60v12h-60zM356 359h12v12h-12zM440 359h12v12h-12zM608 359h12v12h-12zM692 359h12v12h-12zM788 359h36v12h-36zM356 371h24v12h-24zM440 371h12v12h-12zM620 371h24v12h-24zM680 371h12v12h-12zM788 371h24v12h-24zM356 383h24v12h-24zM428 383h12v12h-12zM644 383h24v12h-24zM788 383h12v12h-12zM356 395h36v12h-36zM416 395h24v12h-24zM788 395h12v12h-12zM368 407h60v12h-60zM788 407h12v12h-12zM368 419h48v12h-48zM800 419h12v12h-12zM812 431h12v12h-12zM824 443h24v12h-24zM872 455h96v12h-96zM140 515h96v12h-96zM140 527h108v12h-108zM224 539h24v12h-24zM236 551h24v12h-24zM236 563h24v12h-24zM236 575h12v12h-12zM236 587h12v12h-12zM224 599h24v12h-24zM224 611h24v12h-24zM212 623h24v12h-24zM212 635h24v12h-24zM212 647h24v12h-24zM200 659h24v12h-24zM200 671h24v12h-24zM188 683h36v12h-36zM188 695h24v12h-24zM188 707h24v12h-24zM176 719h36v12h-36zM176 731h24v12h-24z"/><path fill="#e0dcee" d="M284 215h36v12h-36zM716 215h36v12h-36zM296 227h24v12h-24zM488 227h84v12h-84zM716 227h36v12h-36zM296 239h36v12h-36zM476 239h108v12h-108zM716 239h36v12h-36zM308 251h24v12h-24zM464 251h36v12h-36zM548 251h36v12h-36zM716 251h36v12h-36zM320 263h24v12h-24zM464 263h24v12h-24zM572 263h24v12h-24zM716 263h36v12h-36zM320 275h24v12h-24zM452 275h24v12h-24zM572 275h24v12h-24zM716 275h36v12h-36zM332 287h12v12h-12zM452 287h12v12h-12zM584 287h12v12h-12zM716 287h24v12h-24zM332 299h24v12h-24zM440 299h24v12h-24zM584 299h24v12h-24zM704 299h36v12h-36zM344 311h12v12h-12zM440 311h12v12h-12zM596 311h12v12h-12zM704 311h24v12h-24zM356 323h12v12h-12zM440 323h12v12h-12zM596 323h24v12h-24zM704 323h12v12h-12zM932 323h36v12h-36zM356 335h24v12h-24zM428 335h24v12h-24zM608 335h12v12h-12zM692 335h24v12h-24zM872 335h96v12h-96zM368 347h24v12h-24zM428 347h12v12h-12zM620 347h12v12h-12zM680 347h24v12h-24zM848 347h36v12h-36zM368 359h24v12h-24zM428 359h12v12h-12zM620 359h24v12h-24zM680 359h12v12h-12zM824 359h36v12h-36zM380 371h60v12h-60zM644 371h36v12h-36zM812 371h36v12h-36zM380 383h48v12h-48zM800 383h24v12h-24zM392 395h24v12h-24zM800 395h24v12h-24zM800 407h12v12h-12zM812 419h12v12h-12zM824 431h12v12h-12zM956 431h12v12h-12zM848 443h120v12h-120zM140 539h84v12h-84zM140 551h96v12h-96zM140 563h96v12h-96zM140 575h12v12h-12zM164 575h72v12h-72zM188 587h48v12h-48zM188 599h36v12h-36zM188 611h36v12h-36zM176 623h36v12h-36zM176 635h36v12h-36zM164 647h48v12h-48zM164 659h36v12h-36zM164 671h36v12h-36zM152 683h36v12h-36zM152 695h36v12h-36zM140 707h48v12h-48zM140 719h36v12h-36zM140 731h36v12h-36z"/><path fill="#dad5eb" d="M320 215h36v12h-36zM452 215h180v12h-180zM656 215h60v12h-60zM320 227h36v12h-36zM440 227h48v12h-48zM572 227h60v12h-60zM668 227h48v12h-48zM332 239h36v12h-36zM440 239h36v12h-36zM584 239h48v12h-48zM668 239h48v12h-48zM332 251h36v12h-36zM428 251h36v12h-36zM584 251h48v12h-48zM680 251h36v12h-36zM344 263h24v12h-24zM428 263h36v12h-36zM596 263h24v12h-24zM680 263h36v12h-36zM344 275h24v12h-24zM428 275h24v12h-24zM596 275h36v12h-36zM680 275h36v12h-36zM344 287h36v12h-36zM428 287h24v12h-24zM596 287h36v12h-36zM680 287h36v12h-36zM356 299h24v12h-24zM416 299h24v12h-24zM608 299h24v12h-24zM680 299h24v12h-24zM356 311h36v12h-36zM416 311h24v12h-24zM608 311h24v12h-24zM680 311h24v12h-24zM368 323h72v12h-72zM620 323h12v12h-12zM680 323h24v12h-24zM380 335h48v12h-48zM620 335h24v12h-24zM668 335h24v12h-24zM392 347h36v12h-36zM632 347h48v12h-48zM884 347h84v12h-84zM392 359h36v12h-36zM644 359h36v12h-36zM860 359h36v12h-36zM920 359h48v12h-48zM848 371h24v12h-24zM944 371h24v12h-24zM824 383h24v12h-24zM956 383h12v12h-12zM824 395h12v12h-12zM956 395h12v12h-12zM812 407h24v12h-24zM944 407h24v12h-24zM824 419h12v12h-12zM920 419h48v12h-48zM836 431h120v12h-120zM152 575h12v12h-12zM140 587h48v12h-48zM140 599h48v12h-48zM140 611h48v12h-48zM140 623h36v12h-36zM140 635h36v12h-36zM140 647h24v12h-24zM140 659h24v12h-24zM140 671h24v12h-24zM140 683h12v12h-12zM140 695h12v12h-12z"/><path fill="#d5cfe8" d="M356 215h96v12h-96zM632 215h24v12h-24zM356 227h84v12h-84zM632 227h36v12h-36zM368 239h72v12h-72zM632 239h36v12h-36zM368 251h60v12h-60zM632 251h48v12h-48zM368 263h60v12h-60zM620 263h60v12h-60zM368 275h60v12h-60zM632 275h48v12h-48zM380 287h48v12h-48zM632 287h48v12h-48zM380 299h36v12h-36zM632 299h48v12h-48zM392 311h24v12h-24zM632 311h48v12h-48zM632 323h48v12h-48zM644 335h24v12h-24zM896 359h24v12h-24zM872 371h72v12h-72zM848 383h108v12h-108zM836 395h120v12h-120zM836 407h108v12h-108zM836 419h84v12h-84z"/></g><path fill="none" stroke="rgba(100,100,100,0.45)" stroke-width="7.8" stroke-linejoin="round" stroke-linecap="round" d="M654.7 632L662 628L666.9 623L670.5 617L672.9 608L672.6 599L669.6 587L671.5 575L670.6 569L665.7 563L659 560.4L646.5 563L630.7 569L618.7 575L614 578.6L609.4 584L606.4 593L607.4 602L611 610.6L617 619.1L623 624.9L629 629L638 632.7L647 633.6L654.7 632M659.7 698L671 695L683 688.7L692.9 680L701 669.5L710.2 650L719 617.7L721.8 611L740.4 590L744.6 584L747.4 578L748.4 569L744.7 560L735.5 551L728 546.4L719 542.7L685.7 536L662 533.6L638 535.4L596 542.3L572 550.2L557 558.4L551 563.7L545.1 572L541.6 581L540.1 590L540.7 599L543.4 608L548.8 620L554.6 629L566.6 644L584 663.3L596 674.8L608 684.1L620 691.2L635 696.7L647 698.6L659.7 698M754.1 740L763.7 722L770.4 704L775.8 683L786.2 632L797.8 596L799.3 587L799.3 578L795.7 563L790.8 554L782 544.9L770 538.2L749 529.9L728.5 524L711.4 521L689 519.1L662 518.5L620 519.5L587 522.1L563 526.8L545 533.5L531.3 542L519.1 554L491.4 590L485.4 599L481.2 608L480.1 617L481.7 626L485.3 635L491 643.9L503 656.5L533 680.3L565.7 722L582.3 740M863 740L861.9 710L858.5 674L852.7 635L846.4 605L840.9 587L833.1 569L823.6 554L812 541.3L797 530.2L782 522.8L755 513.2L731 507.3L701 504L656 504.7L596 502.7L575 503.5L557 506.7L539 513.2L524 521.7L506.5 536L468.3 575L458.8 587L452.3 599L447.7 614L446.1 629L447 644L451.2 662L457.1 677L465 692L497 740M951.6 740L936.4 701L920.8 665L903.6 629L887.5 599L872.5 575L856.7 554L842.5 539L827.7 527L812.3 518L791.2 509L755 496.5L731 490.4L701 487.4L656 490.1L593 482.5L575 481.3L560 482.5L545 486.6L530 493.3L515 502.6L500 514.6L449 560.1L437.8 572L429.6 584L422.6 599L416.5 620L413.7 638L413.2 656L414.8 674L418.8 695L425 717L433.2 740M962 631.8L921.1 584L886.2 548L869.3 533L853.8 521L840 512L828 506L779 488.6L743 474.7L722 469L701 467.6L668 470.8L653 470.7L626 466.1L575 453.3L560 451.6L548 452.7L536 456.9L521 466.7L464.9 518L422 550.6L410.4 563L398.4 581L391.1 596L384.9 614L380.8 632L378.4 650L377.4 671L378.1 692L380.4 716L384.1 740M962 572.3L903.6 530L875.8 512L855 500L839 492.3L803 481L782.2 473L728 444.9L719 442.3L710 441.8L668 447.7L656 447.9L644 446.7L632 444.2L617 439.1L572 418.3L557 412.3L545 409.9L533 411.2L523.4 416L512 426.5L478.1 473L459 494L440 510L403.9 533L392 542L374.3 560L361.7 578L355.8 590L350.5 605L346.1 623L343.1 641L339 689L338.9 740M140 439.3L152 445.3L164 449.9L176 453.2L191 455.8L209 457.4L227 457.7L242 456.4L254 453.4L260 450.7L266.8 446L272 440.4L276 434L280.9 422L284.3 410L286.3 398L286.7 389L284.3 374L277.9 362L266.2 350L251.5 341L215 326.7L185 317.9L161 314.6L140 315.7M962 530.3L869 488L848 479.8L812 468.5L794 460.8L774 449L743 422.8L731 415.7L722 413.6L713 413.9L680 422.5L665 424.8L650 424.5L638 422.3L623 416.9L605 406.8L588.7 395L557 369L548 362.9L536 358.3L530 357.9L524 358.8L518 361.2L512 365L506 370.2L500 377.2L491 392.2L472.4 431L462.7 449L450.4 467L436.8 482L426.1 491L416 497L365 516.4L347 524.9L332 535.8L323 546.9L318.3 557L314.9 572L299.2 683L292.8 740M962 493.6L920 483.6L842 463L826.4 458L812 451.6L797.9 443L783.7 431L774.6 419L761 395.2L755 386.6L748.1 380L740 375.8L731 374.5L722 376.3L690.7 395L680 399.7L671 402.3L662 403.6L653 403.5L644 401.9L635 398.8L620 390.1L605.3 377L586.9 356L560 320.2L551 310L542 303.8L533 301.6L521 303.2L509 309.3L497 320L488 331.3L479 345.4L471.9 359L455.5 401L446 421L436.2 437L425 450.3L419 455.6L410 461.5L395 466.8L386 467.9L377 467.8L368 466.5L359.1 464L350 459.7L344 455.2L338.6 449L335 442.3L332.6 434L331.7 425L333.8 389L331.7 371L327.6 359L320 344L308 324.6L299 312.4L290 303.7L278 294.7L200 244.4L170 227.4L142.1 215M863.2 215L860 227L858.6 239L859.4 251L862.3 260L866 266L872.4 272L881 276.2L890 277.7L896 277.1L905 274.2L914 269L925.5 260L945.6 239L954.7 227L962 215.5M140 491.8L167 493.3L224 492.3L239 493.3L250 497L259.3 503L264.9 509L270 518L273.5 530L275.3 548L275.4 572L273.2 596L266 634.7L240.8 740M749.8 215L748.5 245L746.3 266L742.5 284L737 299L732.4 308L724.6 320L693.9 359L683.1 371L674 377.7L665 381.3L659 382L653 381.5L644 378.4L633.3 371L622.3 359L608.1 338L596 317L580.6 284L575 274.8L569 267.2L560 258.9L548 252L536 248.7L524 248.4L512 250.8L500 256.2L488 265L478.6 275L468.4 290L459.4 308L449.8 332L437.5 368L431.8 380L425 389.4L419 395.2L410 400.6L404 402.1L398 401.5L395 400.2L391.8 398L386.8 392L372.1 359L344.9 317L320 269.3L305 246.5L281 215M962 453.7L935 455.2L905 454.4L863 450.5L840.3 446L826.9 440L819 434L813.3 428L806.4 416L804 404L804.8 395L806.7 389L810 383L815 377.1L821 372.3L863 346.4L876.8 341L893 337.1L932 331.3L962 328.1M140 548.1L188 541.6L209 541.2L218 542.9L224 545.5L230 550.8L232.6 557L233 566L231.6 575L224 602L169.7 740M893 416.1L878 418.2L866 418.3L857.7 416L855.9 413L856.3 410L858 407L863.8 401L879.4 389L890 382.4L896 379.8L902 378.7L908 379.5L915.3 383L918.6 386L921.8 392L922.1 395L920.4 401L915.1 407L910.6 410L904 413L893 416.1"/></g><use href="#lines"/></g><g transform="translate(2212 590.67)"><g clip-path="url(#clip)"><g filter="url(#b21)"><path fill="#903935" d="M512 707h36v12h-36zM500 719h60v12h-60zM500 731h72v12h-72z"/><path fill="#953f3a" d="M524 683h36v12h-36zM500 695h72v12h-72zM488 707h24v12h-24zM548 707h24v12h-24zM488 719h12v12h-12zM560 719h24v12h-24zM476 731h24v12h-24zM572 731h12v12h-12z"/><path fill="#994640" d="M512 671h60v12h-60zM500 683h24v12h-24zM560 683h24v12h-24zM488 695h12v12h-12zM572 695h12v12h-12zM476 707h12v12h-12zM572 707h24v12h-24zM464 719h24v12h-24zM584 719h12v12h-12zM464 731h12v12h-12zM584 731h24v12h-24z"/><path fill="#9d4c46" d="M536 647h36v12h-36zM512 659h72v12h-72zM488 671h24v12h-24zM572 671h24v12h-24zM476 683h24v12h-24zM584 683h12v12h-12zM464 695h24v12h-24zM584 695h24v12h-24zM464 707h12v12h-12zM596 707h12v12h-12zM452 719h12v12h-12zM596 719h12v12h-12zM440 731h24v12h-24zM608 731h12v12h-12z"/><path fill="#a1524c" d="M536 635h48v12h-48zM512 647h24v12h-24zM572 647h24v12h-24zM488 659h24v12h-24zM584 659h12v12h-12zM476 671h12v12h-12zM596 671h12v12h-12zM464 683h12v12h-12zM596 683h12v12h-12zM452 695h12v12h-12zM608 695h12v12h-12zM452 707h12v12h-12zM608 707h12v12h-12zM440 719h12v12h-12zM608 719h12v12h-12zM428 731h12v12h-12zM620 731h12v12h-12z"/><path fill="#a65952" d="M560 611h24v12h-24zM536 623h60v12h-60zM512 635h24v12h-24zM584 635h12v12h-12zM488 647h24v12h-24zM596 647h12v12h-12zM476 659h12v12h-12zM596 659h12v12h-12zM464 671h12v12h-12zM608 671h12v12h-12zM452 683h12v12h-12zM608 683h12v12h-12zM440 695h12v12h-12zM440 707h12v12h-12zM620 707h12v12h-12zM428 719h12v12h-12zM620 719h12v12h-12zM416 731h12v12h-12zM632 731h12v12h-12z"/><path fill="#aa5f58" d="M560 599h36v12h-36zM536 611h24v12h-24zM584 611h24v12h-24zM512 623h24v12h-24zM596 623h12v12h-12zM488 635h24v12h-24zM596 635h12v12h-12zM476 647h12v12h-12zM608 647h12v12h-12zM464 659h12v12h-12zM608 659h12v12h-12zM452 671h12v12h-12zM440 683h12v12h-12zM620 683h12v12h-12zM428 695h12v12h-12zM620 695h12v12h-12zM428 707h12v12h-12zM632 707h12v12h-12zM416 719h12v12h-12zM632 719h12v12h-12zM404 731h12v12h-12zM644 731h12v12h-12z"/><path fill="#ae655e" d="M548 587h48v12h-48zM524 599h36v12h-36zM596 599h12v12h-12zM512 611h24v12h-24zM488 623h24v12h-24zM608 623h12v12h-12zM476 635h12v12h-12zM608 635h12v12h-12zM464 647h12v12h-12zM452 659h12v12h-12zM620 659h12v12h-12zM440 671h12v12h-12zM620 671h12v12h-12zM428 683h12v12h-12zM632 683h12v12h-12zM416 695h12v12h-12zM632 695h12v12h-12zM416 707h12v12h-12zM644 707h12v12h-12zM404 719h12v12h-12zM644 719h12v12h-12zM392 731h12v12h-12zM656 731h12v12h-12z"/><path fill="#b26c64" d="M572 563h12v12h-12zM548 575h48v12h-48zM524 587h24v12h-24zM596 587h12v12h-12zM512 599h12v12h-12zM608 599h12v12h-12zM488 611h24v12h-24zM608 611h12v12h-12zM476 623h12v12h-12zM464 635h12v12h-12zM620 635h12v12h-12zM452 647h12v12h-12zM620 647h12v12h-12zM440 659h12v12h-12zM632 659h12v12h-12zM428 671h12v12h-12zM632 671h12v12h-12zM416 683h12v12h-12zM404 695h12v12h-12zM644 695h12v12h-12zM404 707h12v12h-12zM392 719h12v12h-12zM656 719h12v12h-12z"/><path fill="#b6726b" d="M560 551h36v12h-36zM548 563h24v12h-24zM584 563h24v12h-24zM524 575h24v12h-24zM596 575h12v12h-12zM512 587h12v12h-12zM608 587h12v12h-12zM500 599h12v12h-12zM476 611h12v12h-12zM620 611h12v12h-12zM464 623h12v12h-12zM620 623h12v12h-12zM452 635h12v12h-12zM440 647h12v12h-12zM632 647h12v12h-12zM428 659h12v12h-12zM416 671h12v12h-12zM644 671h12v12h-12zM404 683h12v12h-12zM644 683h12v12h-12zM392 695h12v12h-12zM656 695h12v12h-12zM392 707h12v12h-12zM656 707h12v12h-12zM380 719h12v12h-12zM668 719h12v12h-12zM380 731h12v12h-12zM668 731h12v12h-12z"/><path fill="#ba7871" d="M560 539h36v12h-36zM548 551h12v12h-12zM596 551h12v12h-12zM524 563h24v12h-24zM608 563h12v12h-12zM512 575h12v12h-12zM608 575h12v12h-12zM500 587h12v12h-12zM620 587h12v12h-12zM476 599h24v12h-24zM620 599h12v12h-12zM464 611h12v12h-12zM452 623h12v12h-12zM632 623h12v12h-12zM440 635h12v12h-12zM632 635h12v12h-12zM428 647h12v12h-12zM644 647h12v12h-12zM416 659h12v12h-12zM644 659h12v12h-12zM404 671h12v12h-12zM656 671h12v12h-12zM392 683h12v12h-12zM656 683h12v12h-12zM668 695h12v12h-12zM380 707h12v12h-12zM668 707h12v12h-12zM368 719h12v12h-12zM680 719h12v12h-12zM368 731h12v12h-12zM680 731h12v12h-12z"/><path fill="#bd7f77" d="M560 527h36v12h-36zM536 539h24v12h-24zM596 539h12v12h-12zM524 551h24v12h-24zM608 551h12v12h-12zM512 563h12v12h-12zM500 575h12v12h-12zM620 575h12v12h-12zM476 587h24v12h-24zM464 599h12v12h-12zM632 599h12v12h-12zM452 611h12v12h-12zM632 611h12v12h-12zM440 623h12v12h-12zM428 635h12v12h-12zM644 635h12v12h-12zM416 647h12v12h-12zM404 659h12v12h-12zM656 659h12v12h-12zM392 671h12v12h-12zM380 683h12v12h-12zM668 683h12v12h-12zM380 695h12v12h-12zM368 707h12v12h-12zM680 707h12v12h-12zM692 719h12v12h-12zM356 731h12v12h-12zM692 731h12v12h-12z"/><path fill="#c1857e" d="M572 503h12v12h-12zM548 515h48v12h-48zM536 527h24v12h-24zM596 527h12v12h-12zM524 539h12v12h-12zM608 539h12v12h-12zM512 551h12v12h-12zM500 563h12v12h-12zM620 563h12v12h-12zM488 575h12v12h-12zM464 587h12v12h-12zM632 587h12v12h-12zM452 599h12v12h-12zM440 611h12v12h-12zM644 611h12v12h-12zM428 623h12v12h-12zM644 623h12v12h-12zM416 635h12v12h-12zM404 647h12v12h-12zM656 647h12v12h-12zM392 659h12v12h-12zM668 659h12v12h-12zM380 671h12v12h-12zM668 671h12v12h-12zM680 683h12v12h-12zM368 695h12v12h-12zM680 695h12v12h-12zM356 707h12v12h-12zM692 707h12v12h-12zM356 719h12v12h-12zM704 719h12v12h-12zM344 731h12v12h-12zM704 731h12v12h-12z"/><path fill="#c58b84" d="M560 491h36v12h-36zM548 503h24v12h-24zM584 503h24v12h-24zM536 515h12v12h-12zM596 515h12v12h-12zM524 527h12v12h-12zM608 527h12v12h-12zM512 539h12v12h-12zM620 539h12v12h-12zM500 551h12v12h-12zM620 551h12v12h-12zM488 563h12v12h-12zM632 563h12v12h-12zM464 575h24v12h-24zM632 575h12v12h-12zM452 587h12v12h-12zM440 599h12v12h-12zM644 599h12v12h-12zM428 611h12v12h-12zM416 623h12v12h-12zM656 623h12v12h-12zM404 635h12v12h-12zM656 635h12v12h-12zM392 647h12v12h-12zM668 647h12v12h-12zM380 659h12v12h-12zM368 671h12v12h-12zM680 671h12v12h-12zM368 683h12v12h-12zM692 683h12v12h-12zM356 695h12v12h-12zM692 695h12v12h-12zM704 707h12v12h-12zM344 719h12v12h-12zM716 719h12v12h-12zM332 731h12v12h-12zM716 731h12v12h-12z"/><path fill="#c9928b" d="M560 479h36v12h-36zM548 491h12v12h-12zM596 491h12v12h-12zM536 503h12v12h-12zM608 503h12v12h-12zM524 515h12v12h-12zM608 515h12v12h-12zM512 527h12v12h-12zM620 527h12v12h-12zM500 539h12v12h-12zM488 551h12v12h-12zM632 551h12v12h-12zM476 563h12v12h-12zM452 575h12v12h-12zM644 575h12v12h-12zM440 587h12v12h-12zM644 587h12v12h-12zM428 599h12v12h-12zM416 611h12v12h-12zM656 611h12v12h-12zM404 623h12v12h-12zM392 635h12v12h-12zM668 635h12v12h-12zM380 647h12v12h-12zM680 647h12v12h-12zM368 659h12v12h-12zM680 659h12v12h-12zM692 671h12v12h-12zM356 683h12v12h-12zM704 683h12v12h-12zM344 695h12v12h-12zM704 695h12v12h-12zM344 707h12v12h-12zM716 707h12v12h-12zM332 719h12v12h-12zM728 719h12v12h-12zM728 731h12v12h-12z"/><path fill="#cc9892" d="M560 467h48v12h-48zM548 479h12v12h-12zM596 479h12v12h-12zM536 491h12v12h-12zM608 491h12v12h-12zM524 503h12v12h-12zM512 515h12v12h-12zM620 515h12v12h-12zM500 527h12v12h-12zM488 539h12v12h-12zM632 539h12v12h-12zM476 551h12v12h-12zM452 563h24v12h-24zM644 563h12v12h-12zM440 575h12v12h-12zM428 587h12v12h-12zM656 587h12v12h-12zM416 599h12v12h-12zM656 599h12v12h-12zM392 611h24v12h-24zM668 611h12v12h-12zM392 623h12v12h-12zM668 623h12v12h-12zM380 635h12v12h-12zM680 635h12v12h-12zM368 647h12v12h-12zM356 659h12v12h-12zM692 659h12v12h-12zM356 671h12v12h-12zM704 671h12v12h-12zM344 683h12v12h-12zM716 683h12v12h-12zM716 695h12v12h-12zM332 707h12v12h-12zM728 707h12v12h-12zM320 719h12v12h-12zM740 719h12v12h-12zM320 731h12v12h-12zM740 731h24v12h-24z"/><path fill="#d09e98" d="M560 455h48v12h-48zM548 467h12v12h-12zM608 467h12v12h-12zM536 479h12v12h-12zM608 479h12v12h-12zM524 491h12v12h-12zM512 503h12v12h-12zM620 503h12v12h-12zM500 515h12v12h-12zM488 527h12v12h-12zM632 527h12v12h-12zM476 539h12v12h-12zM464 551h12v12h-12zM644 551h12v12h-12zM440 563h12v12h-12zM428 575h12v12h-12zM656 575h12v12h-12zM416 587h12v12h-12zM392 599h24v12h-24zM668 599h12v12h-12zM380 611h12v12h-12zM380 623h12v12h-12zM680 623h12v12h-12zM368 635h12v12h-12zM692 635h12v12h-12zM356 647h12v12h-12zM692 647h12v12h-12zM704 659h12v12h-12zM344 671h12v12h-12zM716 671h12v12h-12zM332 683h12v12h-12zM728 683h12v12h-12zM332 695h12v12h-12zM728 695h12v12h-12zM320 707h12v12h-12zM740 707h12v12h-12zM752 719h12v12h-12zM308 731h12v12h-12zM764 731h12v12h-12z"/><path fill="#d3a59f" d="M560 443h48v12h-48zM548 455h12v12h-12zM608 455h12v12h-12zM536 467h12v12h-12zM524 479h12v12h-12zM620 479h12v12h-12zM512 491h12v12h-12zM620 491h12v12h-12zM632 515h12v12h-12zM464 539h12v12h-12zM644 539h12v12h-12zM452 551h12v12h-12zM656 551h12v12h-12zM428 563h12v12h-12zM656 563h12v12h-12zM416 575h12v12h-12zM668 575h12v12h-12zM392 587h24v12h-24zM668 587h12v12h-12zM380 599h12v12h-12zM680 599h12v12h-12zM368 611h12v12h-12zM680 611h12v12h-12zM368 623h12v12h-12zM692 623h12v12h-12zM356 635h12v12h-12zM704 635h12v12h-12zM344 647h12v12h-12zM704 647h24v12h-24zM344 659h12v12h-12zM716 659h24v12h-24zM332 671h12v12h-12zM728 671h12v12h-12zM740 683h12v12h-12zM320 695h12v12h-12zM740 695h24v12h-24zM752 707h24v12h-24zM308 719h12v12h-12zM764 719h12v12h-12zM296 731h12v12h-12zM776 731h12v12h-12z"/><path fill="#d7aba6" d="M572 431h36v12h-36zM548 443h12v12h-12zM608 443h12v12h-12zM620 455h12v12h-12zM620 467h12v12h-12zM500 503h12v12h-12zM632 503h12v12h-12zM488 515h12v12h-12zM476 527h12v12h-12zM644 527h12v12h-12zM452 539h12v12h-12zM656 539h12v12h-12zM440 551h12v12h-12zM416 563h12v12h-12zM668 563h12v12h-12zM392 575h24v12h-24zM380 587h12v12h-12zM680 587h12v12h-12zM368 599h12v12h-12zM692 599h12v12h-12zM692 611h12v12h-12zM356 623h12v12h-12zM704 623h12v12h-12zM344 635h12v12h-12zM716 635h24v12h-24zM728 647h12v12h-12zM332 659h12v12h-12zM740 659h12v12h-12zM740 671h24v12h-24zM320 683h12v12h-12zM752 683h12v12h-12zM308 695h12v12h-12zM764 695h12v12h-12zM308 707h12v12h-12zM776 707h12v12h-12zM296 719h12v12h-12zM776 719h24v12h-24zM788 731h24v12h-24z"/><path fill="#dab2ad" d="M572 419h36v12h-36zM560 431h12v12h-12zM608 431h12v12h-12zM620 443h12v12h-12zM536 455h12v12h-12zM524 467h12v12h-12zM512 479h12v12h-12zM632 479h12v12h-12zM500 491h12v12h-12zM632 491h12v12h-12zM488 503h12v12h-12zM476 515h12v12h-12zM644 515h12v12h-12zM464 527h12v12h-12zM656 527h12v12h-12zM440 539h12v12h-12zM416 551h24v12h-24zM668 551h12v12h-12zM404 563h12v12h-12zM680 563h12v12h-12zM380 575h12v12h-12zM680 575h24v12h-24zM368 587h12v12h-12zM692 587h12v12h-12zM356 599h12v12h-12zM704 599h12v12h-12zM356 611h12v12h-12zM704 611h36v12h-36zM344 623h12v12h-12zM716 623h48v12h-48zM740 635h24v12h-24zM332 647h12v12h-12zM740 647h36v12h-36zM320 659h12v12h-12zM752 659h24v12h-24zM320 671h12v12h-12zM764 671h12v12h-12zM308 683h12v12h-12zM764 683h24v12h-24zM776 695h24v12h-24zM296 707h12v12h-12zM788 707h24v12h-24zM284 719h12v12h-12zM800 719h24v12h-24zM284 731h12v12h-12zM812 731h24v12h-24z"/><path fill="#deb8b4" d="M584 407h24v12h-24zM560 419h12v12h-12zM608 419h12v12h-12zM548 431h12v12h-12zM620 431h12v12h-12zM536 443h12v12h-12zM524 455h12v12h-12zM632 455h12v12h-12zM512 467h12v12h-12zM632 467h12v12h-12zM500 479h12v12h-12zM488 491h12v12h-12zM644 491h12v12h-12zM476 503h12v12h-12zM644 503h12v12h-12zM464 515h12v12h-12zM656 515h12v12h-12zM452 527h12v12h-12zM428 539h12v12h-12zM668 539h12v12h-12zM404 551h12v12h-12zM680 551h12v12h-12zM764 551h36v12h-36zM380 563h24v12h-24zM692 563h12v12h-12zM752 563h48v12h-48zM368 575h12v12h-12zM704 575h108v12h-108zM356 587h12v12h-12zM704 587h108v12h-108zM716 599h96v12h-96zM344 611h12v12h-12zM740 611h72v12h-72zM332 623h12v12h-12zM764 623h36v12h-36zM332 635h12v12h-12zM764 635h36v12h-36zM320 647h12v12h-12zM776 647h24v12h-24zM776 659h24v12h-24zM308 671h12v12h-12zM776 671h24v12h-24zM788 683h24v12h-24zM296 695h12v12h-12zM800 695h24v12h-24zM284 707h12v12h-12zM812 707h24v12h-24zM824 719h36v12h-36zM272 731h12v12h-12zM836 731h36v12h-36z"/><path fill="#e1bfbb" d="M560 407h24v12h-24zM608 407h12v12h-12zM548 419h12v12h-12zM620 419h12v12h-12zM536 431h12v12h-12zM632 431h12v12h-12zM524 443h12v12h-12zM632 443h12v12h-12zM644 467h12v12h-12zM644 479h12v12h-12zM656 503h12v12h-12zM668 515h12v12h-12zM440 527h12v12h-12zM668 527h12v12h-12zM416 539h12v12h-12zM680 539h12v12h-12zM752 539h48v12h-48zM392 551h12v12h-12zM692 551h24v12h-24zM728 551h36v12h-36zM800 551h12v12h-12zM368 563h12v12h-12zM704 563h48v12h-48zM800 563h24v12h-24zM356 575h12v12h-12zM812 575h12v12h-12zM344 587h12v12h-12zM812 587h24v12h-24zM344 599h12v12h-12zM812 599h24v12h-24zM332 611h12v12h-12zM812 611h24v12h-24zM800 623h36v12h-36zM320 635h12v12h-12zM800 635h36v12h-36zM800 647h24v12h-24zM308 659h12v12h-12zM800 659h36v12h-36zM800 671h36v12h-36zM296 683h12v12h-12zM812 683h36v12h-36zM284 695h12v12h-12zM824 695h36v12h-36zM836 707h36v12h-36zM272 719h12v12h-12zM860 719h36v12h-36zM260 731h12v12h-12zM872 731h48v12h-48z"/><path fill="#e5c6c2" d="M572 395h36v12h-36zM620 407h12v12h-12zM632 419h12v12h-12zM644 443h12v12h-12zM512 455h12v12h-12zM644 455h12v12h-12zM500 467h12v12h-12zM488 479h12v12h-12zM476 491h12v12h-12zM656 491h12v12h-12zM464 503h12v12h-12zM668 503h12v12h-12zM452 515h12v12h-12zM428 527h12v12h-12zM680 527h24v12h-24zM764 527h24v12h-24zM404 539h12v12h-12zM692 539h60v12h-60zM800 539h12v12h-12zM380 551h12v12h-12zM716 551h12v12h-12zM812 551h12v12h-12zM356 563h12v12h-12zM824 563h12v12h-12zM344 575h12v12h-12zM824 575h24v12h-24zM836 587h12v12h-12zM332 599h12v12h-12zM836 599h12v12h-12zM836 611h24v12h-24zM320 623h12v12h-12zM836 623h24v12h-24zM836 635h24v12h-24zM308 647h12v12h-12zM824 647h36v12h-36zM296 659h12v12h-12zM836 659h36v12h-36zM296 671h12v12h-12zM836 671h36v12h-36zM284 683h12v12h-12zM848 683h36v12h-36zM860 695h48v12h-48zM272 707h12v12h-12zM872 707h60v12h-60zM260 719h12v12h-12zM896 719h60v12h-60zM248 731h12v12h-12zM920 731h48v12h-48z"/><path fill="#e8ccc9" d="M560 395h12v12h-12zM608 395h24v12h-24zM548 407h12v12h-12zM632 407h12v12h-12zM536 419h12v12h-12zM644 419h12v12h-12zM524 431h12v12h-12zM644 431h12v12h-12zM512 443h12v12h-12zM500 455h12v12h-12zM656 455h12v12h-12zM488 467h12v12h-12zM656 467h12v12h-12zM476 479h12v12h-12zM656 479h12v12h-12zM464 491h12v12h-12zM668 491h12v12h-12zM452 503h12v12h-12zM680 503h12v12h-12zM440 515h12v12h-12zM680 515h24v12h-24zM416 527h12v12h-12zM704 527h60v12h-60zM788 527h24v12h-24zM380 539h24v12h-24zM812 539h24v12h-24zM356 551h24v12h-24zM824 551h24v12h-24zM344 563h12v12h-12zM836 563h12v12h-12zM848 575h12v12h-12zM332 587h12v12h-12zM848 587h24v12h-24zM320 599h12v12h-12zM848 599h24v12h-24zM320 611h12v12h-12zM860 611h24v12h-24zM308 623h12v12h-12zM860 623h24v12h-24zM308 635h12v12h-12zM860 635h24v12h-24zM296 647h12v12h-12zM860 647h36v12h-36zM872 659h36v12h-36zM284 671h12v12h-12zM872 671h48v12h-48zM884 683h48v12h-48zM272 695h12v12h-12zM908 695h48v12h-48zM260 707h12v12h-12zM932 707h36v12h-36zM248 719h12v12h-12zM956 719h12v12h-12z"/><path fill="#ebd3d0" d="M572 383h48v12h-48zM548 395h12v12h-12zM632 395h12v12h-12zM536 407h12v12h-12zM644 407h12v12h-12zM524 419h12v12h-12zM656 431h12v12h-12zM656 443h12v12h-12zM668 467h12v12h-12zM668 479h12v12h-12zM680 491h12v12h-12zM692 503h12v12h-12zM428 515h12v12h-12zM704 515h96v12h-96zM404 527h12v12h-12zM812 527h12v12h-12zM368 539h12v12h-12zM836 539h12v12h-12zM344 551h12v12h-12zM848 551h12v12h-12zM848 563h24v12h-24zM332 575h12v12h-12zM860 575h24v12h-24zM320 587h12v12h-12zM872 587h12v12h-12zM872 599h24v12h-24zM308 611h12v12h-12zM884 611h24v12h-24zM884 623h24v12h-24zM296 635h12v12h-12zM884 635h36v12h-36zM896 647h36v12h-36zM284 659h12v12h-12zM908 659h36v12h-36zM920 671h48v12h-48zM272 683h12v12h-12zM932 683h36v12h-36zM260 695h12v12h-12zM956 695h12v12h-12zM248 707h12v12h-12zM236 731h12v12h-12z"/><path fill="#eedad7" d="M560 383h12v12h-12zM620 383h12v12h-12zM536 395h12v12h-12zM644 395h12v12h-12zM656 407h12v12h-12zM656 419h12v12h-12zM512 431h12v12h-12zM668 431h12v12h-12zM500 443h12v12h-12zM668 443h12v12h-12zM488 455h12v12h-12zM668 455h12v12h-12zM476 467h12v12h-12zM680 467h12v12h-12zM464 479h12v12h-12zM680 479h12v12h-12zM452 491h12v12h-12zM692 491h12v12h-12zM440 503h12v12h-12zM704 503h48v12h-48zM416 515h12v12h-12zM800 515h24v12h-24zM380 527h24v12h-24zM824 527h24v12h-24zM356 539h12v12h-12zM848 539h12v12h-12zM860 551h12v12h-12zM332 563h12v12h-12zM872 563h12v12h-12zM320 575h12v12h-12zM884 575h12v12h-12zM884 587h24v12h-24zM308 599h12v12h-12zM896 599h24v12h-24zM908 611h24v12h-24zM296 623h12v12h-12zM908 623h36v12h-36zM920 635h36v12h-36zM284 647h12v12h-12zM932 647h36v12h-36zM944 659h24v12h-24zM272 671h12v12h-12zM260 683h12v12h-12zM248 695h12v12h-12zM236 719h12v12h-12zM224 731h12v12h-12z"/><path fill="#f1e0de" d="M560 371h72v12h-72zM548 383h12v12h-12zM632 383h24v12h-24zM656 395h12v12h-12zM524 407h12v12h-12zM512 419h12v12h-12zM668 419h12v12h-12zM500 431h12v12h-12zM680 431h12v12h-12zM680 443h12v12h-12zM680 455h12v12h-12zM692 467h12v12h-12zM692 479h24v12h-24zM704 491h36v12h-36zM428 503h12v12h-12zM752 503h60v12h-60zM404 515h12v12h-12zM824 515h24v12h-24zM368 527h12v12h-12zM848 527h12v12h-12zM344 539h12v12h-12zM860 539h24v12h-24zM332 551h12v12h-12zM872 551h24v12h-24zM320 563h12v12h-12zM884 563h24v12h-24zM896 575h24v12h-24zM308 587h12v12h-12zM908 587h24v12h-24zM920 599h24v12h-24zM296 611h12v12h-12zM932 611h36v12h-36zM944 623h24v12h-24zM284 635h12v12h-12zM956 635h12v12h-12zM272 659h12v12h-12zM260 671h12v12h-12zM248 683h12v12h-12zM236 707h12v12h-12zM224 719h12v12h-12zM212 731h12v12h-12z"/><path fill="#f5e7e5" d="M584 359h36v12h-36zM548 371h12v12h-12zM632 371h12v12h-12zM536 383h12v12h-12zM656 383h12v12h-12zM524 395h12v12h-12zM668 395h12v12h-12zM512 407h12v12h-12zM668 407h12v12h-12zM680 419h12v12h-12zM692 431h12v12h-12zM488 443h12v12h-12zM692 443h12v12h-12zM476 455h12v12h-12zM692 455h12v12h-12zM464 467h12v12h-12zM704 467h12v12h-12zM452 479h12v12h-12zM716 479h24v12h-24zM440 491h12v12h-12zM740 491h48v12h-48zM416 503h12v12h-12zM812 503h24v12h-24zM380 515h24v12h-24zM848 515h12v12h-12zM344 527h24v12h-24zM860 527h24v12h-24zM332 539h12v12h-12zM884 539h24v12h-24zM320 551h12v12h-12zM896 551h24v12h-24zM308 563h12v12h-12zM908 563h24v12h-24zM308 575h12v12h-12zM920 575h36v12h-36zM932 587h36v12h-36zM296 599h12v12h-12zM944 599h24v12h-24zM284 623h12v12h-12zM272 647h12v12h-12zM260 659h12v12h-12zM248 671h12v12h-12zM236 695h12v12h-12zM224 707h12v12h-12zM212 719h12v12h-12zM200 731h12v12h-12z"/><path fill="#f8eeed" d="M560 359h24v12h-24zM620 359h24v12h-24zM536 371h12v12h-12zM644 371h12v12h-12zM524 383h12v12h-12zM668 383h12v12h-12zM680 395h12v12h-12zM680 407h12v12h-12zM500 419h12v12h-12zM692 419h12v12h-12zM488 431h12v12h-12zM704 431h12v12h-12zM704 443h12v12h-12zM464 455h12v12h-12zM704 455h24v12h-24zM452 467h12v12h-12zM716 467h24v12h-24zM440 479h12v12h-12zM740 479h24v12h-24zM428 491h12v12h-12zM788 491h36v12h-36zM404 503h12v12h-12zM836 503h24v12h-24zM356 515h24v12h-24zM860 515h24v12h-24zM332 527h12v12h-12zM884 527h24v12h-24zM320 539h12v12h-12zM908 539h24v12h-24zM308 551h12v12h-12zM920 551h24v12h-24zM932 563h36v12h-36zM296 575h12v12h-12zM956 575h12v12h-12zM296 587h12v12h-12zM284 611h12v12h-12zM272 635h12v12h-12zM260 647h12v12h-12zM248 659h12v12h-12zM236 683h12v12h-12zM224 695h12v12h-12zM212 707h12v12h-12zM200 719h12v12h-12zM188 731h12v12h-12z"/><path fill="#fbf5f4" d="M572 347h60v12h-60zM548 359h12v12h-12zM644 359h12v12h-12zM656 371h24v12h-24zM680 383h12v12h-12zM512 395h12v12h-12zM692 395h12v12h-12zM500 407h12v12h-12zM692 407h24v12h-24zM704 419h12v12h-12zM716 431h12v12h-12zM476 443h12v12h-12zM716 443h12v12h-12zM728 455h12v12h-12zM740 467h12v12h-12zM764 479h36v12h-36zM416 491h12v12h-12zM824 491h24v12h-24zM380 503h24v12h-24zM860 503h24v12h-24zM344 515h12v12h-12zM884 515h24v12h-24zM320 527h12v12h-12zM908 527h24v12h-24zM308 539h12v12h-12zM932 539h24v12h-24zM944 551h24v12h-24zM296 563h12v12h-12zM284 599h12v12h-12zM272 623h12v12h-12zM260 635h12v12h-12zM236 671h12v12h-12zM224 683h12v12h-12zM212 695h12v12h-12zM200 707h12v12h-12zM188 719h12v12h-12zM176 731h12v12h-12z"/><path fill="#fefcfb" d="M596 335h12v12h-12zM548 347h24v12h-24zM632 347h24v12h-24zM536 359h12v12h-12zM656 359h24v12h-24zM524 371h12v12h-12zM680 371h12v12h-12zM512 383h12v12h-12zM692 383h12v12h-12zM500 395h12v12h-12zM704 395h12v12h-12zM716 407h12v12h-12zM488 419h12v12h-12zM716 419h12v12h-12zM476 431h12v12h-12zM728 431h12v12h-12zM464 443h12v12h-12zM728 443h12v12h-12zM452 455h12v12h-12zM740 455h12v12h-12zM440 467h12v12h-12zM752 467h24v12h-24zM428 479h12v12h-12zM800 479h36v12h-36zM404 491h12v12h-12zM848 491h36v12h-36zM356 503h24v12h-24zM884 503h36v12h-36zM332 515h12v12h-12zM908 515h36v12h-36zM932 527h36v12h-36zM956 539h12v12h-12zM296 551h12v12h-12zM284 575h12v12h-12zM284 587h12v12h-12zM272 611h12v12h-12zM260 623h12v12h-12zM248 647h12v12h-12zM236 659h12v12h-12zM224 671h12v12h-12zM212 683h12v12h-12zM200 695h12v12h-12zM188 707h12v12h-12zM176 719h12v12h-12zM152 731h24v12h-24z"/><path fill="#fcfcfd" d="M560 335h36v12h-36zM608 335h48v12h-48zM536 347h12v12h-12zM656 347h24v12h-24zM524 359h12v12h-12zM680 359h12v12h-12zM512 371h12v12h-12zM692 371h24v12h-24zM704 383h12v12h-12zM716 395h12v12h-12zM488 407h12v12h-12zM728 407h12v12h-12zM728 419h12v12h-12zM740 431h12v12h-12zM452 443h12v12h-12zM740 443h24v12h-24zM440 455h12v12h-12zM752 455h24v12h-24zM428 467h12v12h-12zM776 467h36v12h-36zM416 479h12v12h-12zM836 479h36v12h-36zM368 491h36v12h-36zM884 491h36v12h-36zM332 503h24v12h-24zM920 503h48v12h-48zM320 515h12v12h-12zM944 515h24v12h-24zM308 527h12v12h-12zM296 539h12v12h-12zM284 563h12v12h-12zM272 599h12v12h-12zM260 611h12v12h-12zM248 635h12v12h-12zM236 647h12v12h-12zM224 659h12v12h-12zM212 671h12v12h-12zM200 683h12v12h-12zM188 695h12v12h-12zM176 707h12v12h-12zM152 719h24v12h-24zM140 731h12v12h-12z"/><path fill="#f7f5fa" d="M572 323h72v12h-72zM548 335h12v12h-12zM656 335h24v12h-24zM680 347h24v12h-24zM692 359h24v12h-24zM716 371h12v12h-12zM500 383h12v12h-12zM716 383h24v12h-24zM488 395h12v12h-12zM728 395h12v12h-12zM740 407h12v12h-12zM476 419h12v12h-12zM740 419h12v12h-12zM464 431h12v12h-12zM752 431h12v12h-12zM764 443h12v12h-12zM428 455h12v12h-12zM776 455h24v12h-24zM416 467h12v12h-12zM812 467h60v12h-60zM392 479h24v12h-24zM872 479h60v12h-60zM344 491h24v12h-24zM920 491h48v12h-48zM320 503h12v12h-12zM308 515h12v12h-12zM296 527h12v12h-12zM284 551h12v12h-12zM272 587h12v12h-12zM260 599h12v12h-12zM248 623h12v12h-12zM236 635h12v12h-12zM224 647h12v12h-12zM212 659h12v12h-12zM200 671h12v12h-12zM188 683h12v12h-12zM176 695h12v12h-12zM164 707h12v12h-12zM140 719h12v12h-12z"/><path fill="#f1eff7" d="M596 311h48v12h-48zM560 323h12v12h-12zM644 323h36v12h-36zM536 335h12v12h-12zM680 335h24v12h-24zM524 347h12v12h-12zM704 347h24v12h-24zM512 359h12v12h-12zM716 359h24v12h-24zM500 371h12v12h-12zM728 371h12v12h-12zM488 383h12v12h-12zM740 383h12v12h-12zM740 395h12v12h-12zM476 407h12v12h-12zM752 407h12v12h-12zM464 419h12v12h-12zM752 419h12v12h-12zM452 431h12v12h-12zM764 431h12v12h-12zM428 443h24v12h-24zM776 443h24v12h-24zM416 455h12v12h-12zM800 455h48v12h-48zM404 467h12v12h-12zM872 467h96v12h-96zM356 479h36v12h-36zM932 479h36v12h-36zM320 491h24v12h-24zM308 503h12v12h-12zM296 515h12v12h-12zM284 539h12v12h-12zM272 563h12v12h-12zM272 575h12v12h-12zM248 611h12v12h-12zM236 623h12v12h-12zM200 659h12v12h-12zM188 671h12v12h-12zM176 683h12v12h-12zM164 695h12v12h-12zM140 707h24v12h-24z"/><path fill="#ebe8f4" d="M560 311h36v12h-36zM644 311h48v12h-48zM548 323h12v12h-12zM680 323h36v12h-36zM524 335h12v12h-12zM704 335h36v12h-36zM512 347h12v12h-12zM728 347h24v12h-24zM500 359h12v12h-12zM740 359h24v12h-24zM740 371h24v12h-24zM752 383h12v12h-12zM476 395h12v12h-12zM752 395h24v12h-24zM464 407h12v12h-12zM764 407h12v12h-12zM452 419h12v12h-12zM764 419h24v12h-24zM440 431h12v12h-12zM776 431h24v12h-24zM416 443h12v12h-12zM800 443h36v12h-36zM404 455h12v12h-12zM848 455h120v12h-120zM368 467h36v12h-36zM332 479h24v12h-24zM308 491h12v12h-12zM296 503h12v12h-12zM284 527h12v12h-12zM272 551h12v12h-12zM260 587h12v12h-12zM248 599h12v12h-12zM224 635h12v12h-12zM212 647h12v12h-12zM188 659h12v12h-12zM176 671h12v12h-12zM164 683h12v12h-12zM140 695h24v12h-24z"/><path fill="#e6e2f1" d="M572 299h132v12h-132zM548 311h12v12h-12zM692 311h48v12h-48zM536 323h12v12h-12zM716 323h48v12h-48zM740 335h36v12h-36zM752 347h36v12h-36zM764 359h24v12h-24zM488 371h12v12h-12zM764 371h36v12h-36zM476 383h12v12h-12zM764 383h36v12h-36zM464 395h12v12h-12zM776 395h24v12h-24zM452 407h12v12h-12zM776 407h24v12h-24zM440 419h12v12h-12zM788 419h24v12h-24zM416 431h24v12h-24zM800 431h36v12h-36zM860 431h108v12h-108zM404 443h12v12h-12zM836 443h132v12h-132zM380 455h24v12h-24zM344 467h24v12h-24zM308 479h24v12h-24zM296 491h12v12h-12zM284 515h12v12h-12zM272 539h12v12h-12zM260 575h12v12h-12zM248 587h12v12h-12zM236 611h12v12h-12zM224 623h12v12h-12zM212 635h12v12h-12zM200 647h12v12h-12zM176 659h12v12h-12zM164 671h12v12h-12zM140 683h24v12h-24z"/><path fill="#e0dcee" d="M584 287h132v12h-132zM560 299h12v12h-12zM704 299h72v12h-72zM536 311h12v12h-12zM740 311h108v12h-108zM524 323h12v12h-12zM764 323h108v12h-108zM512 335h12v12h-12zM776 335h96v12h-96zM500 347h12v12h-12zM788 347h96v12h-96zM488 359h12v12h-12zM788 359h84v12h-84zM476 371h12v12h-12zM800 371h72v12h-72zM464 383h12v12h-12zM800 383h72v12h-72zM800 395h168v12h-168zM440 407h12v12h-12zM800 407h168v12h-168zM416 419h24v12h-24zM812 419h156v12h-156zM404 431h12v12h-12zM836 431h24v12h-24zM380 443h24v12h-24zM344 455h36v12h-36zM320 467h24v12h-24zM296 479h12v12h-12zM284 503h12v12h-12zM272 527h12v12h-12zM260 563h12v12h-12zM236 599h12v12h-12zM224 611h12v12h-12zM212 623h12v12h-12zM200 635h12v12h-12zM176 647h24v12h-24zM164 659h12v12h-12zM140 671h24v12h-24z"/><path fill="#dad5eb" d="M596 275h264v12h-264zM560 287h24v12h-24zM716 287h192v12h-192zM536 299h24v12h-24zM776 299h156v12h-156zM524 311h12v12h-12zM848 311h96v12h-96zM512 323h12v12h-12zM872 323h84v12h-84zM500 335h12v12h-12zM872 335h96v12h-96zM488 347h12v12h-12zM884 347h84v12h-84zM476 359h12v12h-12zM872 359h96v12h-96zM872 371h96v12h-96zM872 383h96v12h-96zM452 395h12v12h-12zM428 407h12v12h-12zM404 419h12v12h-12zM380 431h24v12h-24zM356 443h24v12h-24zM320 455h24v12h-24zM296 467h24v12h-24zM284 491h12v12h-12zM272 515h12v12h-12zM260 551h12v12h-12zM248 575h12v12h-12zM236 587h12v12h-12zM224 599h12v12h-12zM212 611h12v12h-12zM200 623h12v12h-12zM188 635h12v12h-12zM164 647h12v12h-12zM140 659h24v12h-24z"/><path fill="#d5cfe8" d="M800 251h96v12h-96zM608 263h324v12h-324zM572 275h24v12h-24zM860 275h96v12h-96zM548 287h12v12h-12zM908 287h60v12h-60zM524 299h12v12h-12zM932 299h36v12h-36zM512 311h12v12h-12zM944 311h24v12h-24zM500 323h12v12h-12zM956 323h12v12h-12zM488 335h12v12h-12zM464 371h12v12h-12zM452 383h12v12h-12zM428 395h24v12h-24zM404 407h24v12h-24zM380 419h24v12h-24zM356 431h24v12h-24zM320 443h36v12h-36zM296 455h24v12h-24zM284 479h12v12h-12zM272 491h12v12h-12zM272 503h12v12h-12zM260 527h12v12h-12zM260 539h12v12h-12zM248 563h12v12h-12zM236 575h12v12h-12zM224 587h12v12h-12zM212 599h12v12h-12zM200 611h12v12h-12zM188 623h12v12h-12zM164 635h24v12h-24zM140 647h24v12h-24z"/><path fill="#cfc9e5" d="M824 227h72v12h-72zM692 239h264v12h-264zM608 251h192v12h-192zM896 251h72v12h-72zM572 263h36v12h-36zM932 263h36v12h-36zM548 275h24v12h-24zM956 275h12v12h-12zM536 287h12v12h-12zM476 347h12v12h-12zM464 359h12v12h-12zM452 371h12v12h-12zM440 383h12v12h-12zM416 395h12v12h-12zM380 407h24v12h-24zM344 419h36v12h-36zM320 431h36v12h-36zM296 443h24v12h-24zM284 455h12v12h-12zM284 467h12v12h-12zM272 479h12v12h-12zM260 515h12v12h-12zM248 551h12v12h-12zM200 599h12v12h-12zM188 611h12v12h-12zM164 623h24v12h-24zM140 635h24v12h-24z"/><path fill="#cac3e2" d="M764 215h192v12h-192zM668 227h156v12h-156zM896 227h72v12h-72zM620 239h72v12h-72zM956 239h12v12h-12zM584 251h24v12h-24zM560 263h12v12h-12zM536 275h12v12h-12zM524 287h12v12h-12zM512 299h12v12h-12zM500 311h12v12h-12zM488 323h12v12h-12zM476 335h12v12h-12zM464 347h12v12h-12zM452 359h12v12h-12zM440 371h12v12h-12zM416 383h24v12h-24zM368 395h48v12h-48zM332 407h48v12h-48zM308 419h36v12h-36zM296 431h24v12h-24zM284 443h12v12h-12zM272 455h12v12h-12zM272 467h12v12h-12zM260 491h12v12h-12zM260 503h12v12h-12zM248 527h12v12h-12zM248 539h12v12h-12zM236 563h12v12h-12zM224 575h12v12h-12zM212 587h12v12h-12zM188 599h12v12h-12zM164 611h24v12h-24zM140 623h24v12h-24z"/><path fill="#c4bddf" d="M668 215h96v12h-96zM956 215h12v12h-12zM620 227h48v12h-48zM584 239h36v12h-36zM560 251h24v12h-24zM536 263h24v12h-24zM524 275h12v12h-12zM512 287h12v12h-12zM500 299h12v12h-12zM488 311h12v12h-12zM476 323h12v12h-12zM464 335h12v12h-12zM188 347h60v12h-60zM452 347h12v12h-12zM164 359h96v12h-96zM440 359h12v12h-12zM152 371h108v12h-108zM428 371h12v12h-12zM140 383h132v12h-132zM344 383h72v12h-72zM140 395h120v12h-120zM308 395h60v12h-60zM140 407h108v12h-108zM272 407h60v12h-60zM152 419h60v12h-60zM272 419h36v12h-36zM164 431h24v12h-24zM272 431h24v12h-24zM260 443h24v12h-24zM260 455h12v12h-12zM260 467h12v12h-12zM260 479h12v12h-12zM248 503h12v12h-12zM248 515h12v12h-12zM236 551h12v12h-12zM224 563h12v12h-12zM212 575h12v12h-12zM188 587h24v12h-24zM164 599h24v12h-24zM140 611h24v12h-24z"/><path fill="#beb6dc" d="M620 215h48v12h-48zM584 227h36v12h-36zM560 239h24v12h-24zM548 251h12v12h-12zM524 263h12v12h-12zM512 275h12v12h-12zM500 287h12v12h-12zM488 299h12v12h-12zM476 311h12v12h-12zM464 323h12v12h-12zM164 335h108v12h-108zM452 335h12v12h-12zM140 347h48v12h-48zM248 347h36v12h-36zM440 347h12v12h-12zM140 359h24v12h-24zM260 359h36v12h-36zM344 359h12v12h-12zM428 359h12v12h-12zM140 371h12v12h-12zM260 371h168v12h-168zM272 383h72v12h-72zM260 395h48v12h-48zM248 407h24v12h-24zM140 419h12v12h-12zM212 419h60v12h-60zM140 431h24v12h-24zM188 431h84v12h-84zM140 443h72v12h-72zM236 443h24v12h-24zM248 455h12v12h-12zM248 467h12v12h-12zM248 479h12v12h-12zM248 491h12v12h-12zM236 527h12v12h-12zM236 539h12v12h-12zM224 551h12v12h-12zM212 563h12v12h-12zM188 575h24v12h-24zM164 587h24v12h-24zM140 599h24v12h-24z"/><path fill="#b9b0d9" d="M584 215h36v12h-36zM560 227h24v12h-24zM548 239h12v12h-12zM524 251h24v12h-24zM512 263h12v12h-12zM500 275h12v12h-12zM488 287h12v12h-12zM476 299h12v12h-12zM188 311h60v12h-60zM464 311h12v12h-12zM140 323h168v12h-168zM452 323h12v12h-12zM140 335h24v12h-24zM272 335h60v12h-60zM440 335h12v12h-12zM284 347h96v12h-96zM416 347h24v12h-24zM296 359h48v12h-48zM356 359h72v12h-72zM212 443h24v12h-24zM140 455h108v12h-108zM140 467h36v12h-36zM236 467h12v12h-12zM236 479h12v12h-12zM236 491h12v12h-12zM236 503h12v12h-12zM236 515h12v12h-12zM224 527h12v12h-12zM224 539h12v12h-12zM212 551h12v12h-12zM188 563h24v12h-24zM152 575h36v12h-36zM140 587h24v12h-24z"/><path fill="#b3aad6" d="M560 215h24v12h-24zM548 227h12v12h-12zM524 239h24v12h-24zM512 251h12v12h-12zM500 263h12v12h-12zM488 275h12v12h-12zM476 287h12v12h-12zM176 299h60v12h-60zM464 299h12v12h-12zM140 311h48v12h-48zM248 311h72v12h-72zM452 311h12v12h-12zM308 323h48v12h-48zM428 323h24v12h-24zM332 335h108v12h-108zM380 347h36v12h-36zM176 467h60v12h-60zM140 479h96v12h-96zM140 491h24v12h-24zM212 491h24v12h-24zM224 503h12v12h-12zM212 515h24v12h-24zM212 527h12v12h-12zM200 539h24v12h-24zM140 551h72v12h-72zM140 563h48v12h-48zM140 575h12v12h-12z"/><path fill="#aea4d3" d="M548 215h12v12h-12zM524 227h24v12h-24zM512 239h12v12h-12zM500 251h12v12h-12zM488 263h12v12h-12zM476 275h12v12h-12zM152 287h72v12h-72zM464 287h12v12h-12zM140 299h36v12h-36zM236 299h96v12h-96zM440 299h24v12h-24zM320 311h48v12h-48zM416 311h36v12h-36zM356 323h72v12h-72zM164 491h48v12h-48zM140 503h84v12h-84zM140 515h72v12h-72zM140 527h72v12h-72zM140 539h60v12h-60z"/><path fill="#a89ed0" d="M524 215h24v12h-24zM512 227h12v12h-12zM500 239h12v12h-12zM488 251h12v12h-12zM464 263h24v12h-24zM140 275h72v12h-72zM452 275h24v12h-24zM140 287h12v12h-12zM224 287h120v12h-120zM440 287h24v12h-24zM332 299h108v12h-108zM368 311h48v12h-48z"/><path fill="#a298cc" d="M512 215h12v12h-12zM488 227h24v12h-24zM476 239h24v12h-24zM464 251h24v12h-24zM140 263h72v12h-72zM452 263h12v12h-12zM212 275h144v12h-144zM428 275h24v12h-24zM344 287h96v12h-96z"/><path fill="#9d92c9" d="M488 215h24v12h-24zM476 227h12v12h-12zM452 239h24v12h-24zM140 251h72v12h-72zM440 251h24v12h-24zM212 263h156v12h-156zM404 263h48v12h-48zM356 275h72v12h-72z"/><path fill="#978dc6" d="M464 215h24v12h-24zM452 227h24v12h-24zM140 239h84v12h-84zM428 239h24v12h-24zM212 251h36v12h-36zM260 251h180v12h-180zM368 263h36v12h-36z"/><path fill="#9187c3" d="M440 215h24v12h-24zM140 227h84v12h-84zM404 227h48v12h-48zM224 239h204v12h-204zM248 251h12v12h-12z"/><path fill="#8c81c0" d="M140 215h96v12h-96zM368 215h72v12h-72zM224 227h180v12h-180z"/><path fill="#867bbd" d="M236 215h132v12h-132z"/></g><path fill="none" stroke="rgba(100,100,100,0.45)" stroke-width="7.8" stroke-linejoin="round" stroke-linecap="round" d="M634.6 740L608 674.2L593 643L587 634.6L581 629.5L575 627L569 626.2L560 627.1L551 629.4L527 638.6L506 649.8L485 664.6L468.1 680L452.5 698L439.9 716L425.9 740M706.2 740L680 694.9L657.7 653L645.3 626L628.9 584L614 554.4L605 541.4L596 532.6L587 527.2L578 525.5L572 526.3L566 528.4L554 535.9L513.9 569L455 614.7L425.5 641L408.7 659L392.7 680L377 704.4L356.7 740M798.7 740L776 715.9L739 665L707 628.8L695 612.9L686 598.1L639.4 512L632.9 497L621.2 464L615.3 452L611 445.6L605 439.5L599 436.1L593 435.1L587 435.8L578 439L563 448.7L545 465.7L499.1 515L479 533.9L458 549.8L408.9 581L395 591.9L384.2 602L371.4 617L359 634.9L316.5 707L296.1 740M962 685.6L947.8 677L935 667.8L923 657.3L914 647.6L900.6 629L879.9 593L868.2 575L856.1 560L840.2 545L830 537.6L818 530.7L806 525.7L794 522.3L782 520.4L770 519.8L737 522.1L725 521.9L713 519L704 514.6L689 502.4L678.1 488L673.2 476L667 449L663.1 437L655.5 422L647 410.8L635 400.1L620 391.8L605 387.7L590 387.1L578 389L569 392.1L558.1 398L548 405.9L536 418.3L511.5 449L497 465.3L462.1 500L446 513.4L434 520.9L422 526.8L367.6 548L359 552.8L350 560.1L341 570.2L332 583.9L303.1 641L283.5 674L260 707.6L233.7 740M962 526.7L914 507.8L875 494.7L842 485.9L791 475.6L770 468.6L756.7 461L746.7 452L738.1 440L722 411.3L710 394.3L695 378.3L677 364.5L662.4 356L650 350.1L638 345.8L626 342.9L614 341.3L599 341L587 342.1L575 344.6L563 348.6L551 354.4L542 360.1L532.4 368L515 387.7L489.4 425L482 434.3L422.9 488L416 491.8L407 495.1L359 507.3L344.5 512L332 518.1L320 527.3L311 537.4L303.8 548L285.7 590L276.7 608L263 630.7L248 651.2L227 675.4L206 696.3L182 717.4L153 740M962 374.3L928.4 371L920 368.9L914 365.3L910.7 359L906.8 332L901.3 320L896 314.1L891 311L881 307L869 303.9L845 300.5L785 296.6L707 284.4L665 280.9L641 281.2L617 283.5L593 288.2L572 294.7L557 301.1L545 307.7L536 314L524 324.1L495.4 353L461 394.1L446 407.2L434 414.5L413.3 425L383 443.2L368 449.9L323 465.8L311 472.2L302 479L294.1 488L287.6 500L265.9 554L258.9 569L251 582.2L239 598.2L221 617.3L197 637.6L170 656.4L140 673.9M608.2 215L587 223.9L566 234.2L548 244.7L533 254.9L509 275.3L479 307.8L467 318.7L431 348.5L422 354.4L413 358.1L404 359.4L392 358.8L341 347.9L323 342.4L299 330L290 326.8L242 319.8L212 318.9L185 320.9L161 325.8L140 333.8M140 468.7L152 470L167 469.9L209 463.3L218 462.9L224 463.7L231.2 467L236.9 473L240.7 482L241.8 491L239 506.1L230.5 533L225.8 542L218 551.4L203 562.9L185 572.4L164 580.3L140 586.4M468.5 215L446 230.4L425 241.2L404 247.6L383 250.2L314 249.3L254 254.7L248 253.5L239 248.9L230 245.7L200 238.6L170 234.8L140 234.3"/></g><use href="#lines"/></g><g transform="translate(0 1181.33)"><g clip-path="url(#clip)"><g filter="url(#b02)"><path fill="#c9928b" d="M836 719h108v12h-108zM500 731h48v12h-48zM800 731h168v12h-168z"/><path fill="#cc9892" d="M500 695h36v12h-36zM824 695h96v12h-96zM476 707h84v12h-84zM788 707h180v12h-180zM476 719h96v12h-96zM776 719h60v12h-60zM944 719h24v12h-24zM464 731h36v12h-36zM548 731h36v12h-36zM752 731h48v12h-48z"/><path fill="#d09e98" d="M164 311h36v12h-36zM164 323h60v12h-60zM164 335h72v12h-72zM164 347h84v12h-84zM176 359h72v12h-72zM188 371h60v12h-60zM212 383h36v12h-36zM488 671h60v12h-60zM812 671h96v12h-96zM476 683h84v12h-84zM788 683h180v12h-180zM464 695h36v12h-36zM536 695h36v12h-36zM776 695h48v12h-48zM920 695h48v12h-48zM452 707h24v12h-24zM560 707h24v12h-24zM752 707h36v12h-36zM440 719h36v12h-36zM572 719h24v12h-24zM728 719h48v12h-48zM440 731h24v12h-24zM584 731h48v12h-48zM704 731h48v12h-48z"/><path fill="#d3a59f" d="M140 251h24v12h-24zM140 263h48v12h-48zM140 275h60v12h-60zM140 287h72v12h-72zM140 299h96v12h-96zM140 311h24v12h-24zM200 311h48v12h-48zM140 323h24v12h-24zM224 323h24v12h-24zM140 335h24v12h-24zM236 335h24v12h-24zM140 347h24v12h-24zM248 347h24v12h-24zM140 359h36v12h-36zM248 359h24v12h-24zM140 371h48v12h-48zM248 371h24v12h-24zM164 383h48v12h-48zM248 383h24v12h-24zM188 395h72v12h-72zM224 407h12v12h-12zM812 635h24v12h-24zM488 647h48v12h-48zM788 647h96v12h-96zM464 659h84v12h-84zM776 659h168v12h-168zM452 671h36v12h-36zM548 671h12v12h-12zM764 671h48v12h-48zM908 671h60v12h-60zM452 683h24v12h-24zM560 683h12v12h-12zM752 683h36v12h-36zM440 695h24v12h-24zM572 695h12v12h-12zM740 695h36v12h-36zM428 707h24v12h-24zM584 707h24v12h-24zM716 707h36v12h-36zM428 719h12v12h-12zM596 719h48v12h-48zM692 719h36v12h-36zM416 731h24v12h-24zM632 731h72v12h-72z"/><path fill="#d7aba6" d="M140 215h36v12h-36zM140 227h48v12h-48zM140 239h60v12h-60zM164 251h48v12h-48zM188 263h36v12h-36zM200 275h36v12h-36zM212 287h36v12h-36zM236 299h24v12h-24zM248 311h12v12h-12zM248 323h24v12h-24zM260 335h12v12h-12zM272 347h12v12h-12zM272 359h12v12h-12zM272 371h12v12h-12zM140 383h24v12h-24zM272 383h12v12h-12zM140 395h48v12h-48zM260 395h24v12h-24zM176 407h48v12h-48zM236 407h36v12h-36zM212 419h36v12h-36zM800 611h12v12h-12zM488 623h36v12h-36zM776 623h84v12h-84zM464 635h84v12h-84zM776 635h36v12h-36zM836 635h72v12h-72zM452 647h36v12h-36zM536 647h24v12h-24zM764 647h24v12h-24zM884 647h84v12h-84zM440 659h24v12h-24zM548 659h12v12h-12zM752 659h24v12h-24zM944 659h24v12h-24zM440 671h12v12h-12zM560 671h12v12h-12zM740 671h24v12h-24zM428 683h24v12h-24zM572 683h24v12h-24zM728 683h24v12h-24zM416 695h24v12h-24zM584 695h24v12h-24zM716 695h24v12h-24zM416 707h12v12h-12zM608 707h36v12h-36zM680 707h36v12h-36zM404 719h24v12h-24zM644 719h48v12h-48zM392 731h24v12h-24z"/><path fill="#dab2ad" d="M176 215h36v12h-36zM188 227h36v12h-36zM200 239h36v12h-36zM212 251h24v12h-24zM224 263h24v12h-24zM236 275h24v12h-24zM248 287h24v12h-24zM260 299h12v12h-12zM260 311h24v12h-24zM272 323h12v12h-12zM272 335h24v12h-24zM284 347h12v12h-12zM284 359h12v12h-12zM284 371h12v12h-12zM284 383h24v12h-24zM284 395h12v12h-12zM140 407h36v12h-36zM272 407h24v12h-24zM152 419h60v12h-60zM248 419h36v12h-36zM200 431h60v12h-60zM488 599h36v12h-36zM776 599h60v12h-60zM464 611h72v12h-72zM764 611h36v12h-36zM812 611h60v12h-60zM452 623h36v12h-36zM524 623h24v12h-24zM764 623h12v12h-12zM860 623h60v12h-60zM440 635h24v12h-24zM548 635h12v12h-12zM752 635h24v12h-24zM908 635h60v12h-60zM428 647h24v12h-24zM560 647h12v12h-12zM752 647h12v12h-12zM428 659h12v12h-12zM560 659h24v12h-24zM740 659h12v12h-12zM416 671h24v12h-24zM572 671h24v12h-24zM728 671h12v12h-12zM404 683h24v12h-24zM596 683h12v12h-12zM704 683h24v12h-24zM404 695h12v12h-12zM608 695h36v12h-36zM680 695h36v12h-36zM392 707h24v12h-24zM644 707h36v12h-36zM380 719h24v12h-24zM380 731h12v12h-12z"/><path fill="#deb8b4" d="M212 215h24v12h-24zM224 227h24v12h-24zM236 239h24v12h-24zM236 251h24v12h-24zM248 263h24v12h-24zM260 275h12v12h-12zM272 287h12v12h-12zM272 299h12v12h-12zM284 311h12v12h-12zM284 323h12v12h-12zM296 335h12v12h-12zM296 347h12v12h-12zM296 359h12v12h-12zM296 371h24v12h-24zM308 383h12v12h-12zM296 395h24v12h-24zM296 407h24v12h-24zM140 419h12v12h-12zM284 419h24v12h-24zM140 431h60v12h-60zM260 431h24v12h-24zM188 443h60v12h-60zM488 563h12v12h-12zM476 575h48v12h-48zM464 587h72v12h-72zM776 587h60v12h-60zM452 599h36v12h-36zM524 599h24v12h-24zM764 599h12v12h-12zM836 599h36v12h-36zM440 611h24v12h-24zM536 611h12v12h-12zM752 611h12v12h-12zM872 611h60v12h-60zM428 623h24v12h-24zM548 623h12v12h-12zM752 623h12v12h-12zM920 623h48v12h-48zM428 635h12v12h-12zM560 635h12v12h-12zM740 635h12v12h-12zM416 647h12v12h-12zM572 647h12v12h-12zM728 647h24v12h-24zM404 659h24v12h-24zM584 659h12v12h-12zM716 659h24v12h-24zM404 671h12v12h-12zM596 671h12v12h-12zM704 671h24v12h-24zM392 683h12v12h-12zM608 683h36v12h-36zM680 683h24v12h-24zM380 695h24v12h-24zM644 695h36v12h-36zM380 707h12v12h-12zM368 719h12v12h-12zM356 731h24v12h-24z"/><path fill="#e1bfbb" d="M236 215h24v12h-24zM248 227h24v12h-24zM260 239h12v12h-12zM260 251h24v12h-24zM272 263h12v12h-12zM272 275h24v12h-24zM284 287h12v12h-12zM284 299h24v12h-24zM296 311h12v12h-12zM296 323h12v12h-12zM308 335h12v12h-12zM308 347h12v12h-12zM308 359h24v12h-24zM320 371h12v12h-12zM320 383h24v12h-24zM320 395h36v12h-36zM320 407h36v12h-36zM308 419h48v12h-48zM284 431h36v12h-36zM140 443h48v12h-48zM248 443h36v12h-36zM152 455h96v12h-96zM476 527h24v12h-24zM464 539h60v12h-60zM464 551h60v12h-60zM452 563h36v12h-36zM500 563h36v12h-36zM440 575h36v12h-36zM524 575h24v12h-24zM776 575h48v12h-48zM440 587h24v12h-24zM536 587h12v12h-12zM764 587h12v12h-12zM836 587h36v12h-36zM428 599h24v12h-24zM548 599h12v12h-12zM752 599h12v12h-12zM872 599h84v12h-84zM416 611h24v12h-24zM548 611h12v12h-12zM740 611h12v12h-12zM932 611h36v12h-36zM416 623h12v12h-12zM560 623h12v12h-12zM740 623h12v12h-12zM404 635h24v12h-24zM572 635h12v12h-12zM728 635h12v12h-12zM404 647h12v12h-12zM584 647h12v12h-12zM716 647h12v12h-12zM392 659h12v12h-12zM596 659h12v12h-12zM704 659h12v12h-12zM380 671h24v12h-24zM608 671h24v12h-24zM680 671h24v12h-24zM380 683h12v12h-12zM644 683h36v12h-36zM368 695h12v12h-12zM356 707h24v12h-24zM344 719h24v12h-24zM332 731h24v12h-24z"/><path fill="#e5c6c2" d="M260 215h24v12h-24zM272 227h12v12h-12zM272 239h12v12h-12zM284 251h12v12h-12zM284 263h12v12h-12zM296 275h12v12h-12zM296 287h12v12h-12zM308 311h12v12h-12zM308 323h12v12h-12zM320 335h12v12h-12zM320 347h12v12h-12zM332 359h12v12h-12zM332 371h24v12h-24zM344 383h36v12h-36zM356 395h144v12h-144zM356 407h156v12h-156zM356 419h156v12h-156zM320 431h192v12h-192zM284 443h228v12h-228zM140 455h12v12h-12zM248 455h24v12h-24zM356 455h156v12h-156zM140 467h96v12h-96zM392 467h120v12h-120zM428 479h84v12h-84zM440 491h84v12h-84zM440 503h84v12h-84zM440 515h84v12h-84zM440 527h36v12h-36zM500 527h36v12h-36zM440 539h24v12h-24zM524 539h12v12h-12zM440 551h24v12h-24zM524 551h24v12h-24zM428 563h24v12h-24zM536 563h12v12h-12zM776 563h36v12h-36zM428 575h12v12h-12zM548 575h12v12h-12zM764 575h12v12h-12zM824 575h48v12h-48zM416 587h24v12h-24zM548 587h12v12h-12zM752 587h12v12h-12zM872 587h96v12h-96zM404 599h24v12h-24zM560 599h12v12h-12zM740 599h12v12h-12zM956 599h12v12h-12zM404 611h12v12h-12zM560 611h12v12h-12zM728 611h12v12h-12zM392 623h24v12h-24zM572 623h12v12h-12zM728 623h12v12h-12zM392 635h12v12h-12zM584 635h12v12h-12zM716 635h12v12h-12zM380 647h24v12h-24zM596 647h12v12h-12zM704 647h12v12h-12zM380 659h12v12h-12zM608 659h24v12h-24zM680 659h24v12h-24zM368 671h12v12h-12zM632 671h48v12h-48zM356 683h24v12h-24zM344 695h24v12h-24zM332 707h24v12h-24zM332 719h12v12h-12zM308 731h24v12h-24z"/><path fill="#e8ccc9" d="M284 215h12v12h-12zM284 227h12v12h-12zM284 239h24v12h-24zM296 251h12v12h-12zM296 263h12v12h-12zM308 275h12v12h-12zM308 287h12v12h-12zM308 299h12v12h-12zM320 311h12v12h-12zM320 323h12v12h-12zM332 335h12v12h-12zM332 347h24v12h-24zM344 359h24v12h-24zM356 371h168v12h-168zM380 383h144v12h-144zM500 395h36v12h-36zM512 407h24v12h-24zM512 419h24v12h-24zM512 431h24v12h-24zM512 443h24v12h-24zM272 455h84v12h-84zM512 455h24v12h-24zM236 467h36v12h-36zM344 467h48v12h-48zM512 467h24v12h-24zM140 479h84v12h-84zM356 479h72v12h-72zM512 479h24v12h-24zM140 491h12v12h-12zM380 491h60v12h-60zM524 491h12v12h-12zM404 503h36v12h-36zM524 503h24v12h-24zM416 515h24v12h-24zM524 515h24v12h-24zM416 527h24v12h-24zM536 527h12v12h-12zM416 539h24v12h-24zM536 539h24v12h-24zM416 551h24v12h-24zM548 551h12v12h-12zM416 563h12v12h-12zM548 563h12v12h-12zM764 563h12v12h-12zM812 563h36v12h-36zM404 575h24v12h-24zM560 575h12v12h-12zM752 575h12v12h-12zM872 575h96v12h-96zM404 587h12v12h-12zM560 587h12v12h-12zM740 587h12v12h-12zM392 599h12v12h-12zM728 599h12v12h-12zM392 611h12v12h-12zM572 611h12v12h-12zM716 611h12v12h-12zM380 623h12v12h-12zM584 623h12v12h-12zM716 623h12v12h-12zM380 635h12v12h-12zM596 635h12v12h-12zM704 635h12v12h-12zM368 647h12v12h-12zM608 647h12v12h-12zM680 647h24v12h-24zM356 659h24v12h-24zM632 659h48v12h-48zM344 671h24v12h-24zM344 683h12v12h-12zM332 695h12v12h-12zM320 707h12v12h-12zM308 719h24v12h-24zM284 731h24v12h-24z"/><path fill="#ebd3d0" d="M296 215h12v12h-12zM296 227h24v12h-24zM308 239h12v12h-12zM308 251h12v12h-12zM308 263h12v12h-12zM320 275h12v12h-12zM320 287h12v12h-12zM320 299h12v12h-12zM332 311h12v12h-12zM332 323h12v12h-12zM344 335h12v12h-12zM500 335h24v12h-24zM356 347h24v12h-24zM440 347h96v12h-96zM368 359h180v12h-180zM524 371h24v12h-24zM524 383h24v12h-24zM536 395h12v12h-12zM536 407h12v12h-12zM536 419h24v12h-24zM536 431h24v12h-24zM536 443h24v12h-24zM536 455h24v12h-24zM272 467h72v12h-72zM536 467h24v12h-24zM224 479h36v12h-36zM332 479h24v12h-24zM536 479h24v12h-24zM152 491h72v12h-72zM356 491h24v12h-24zM536 491h24v12h-24zM140 503h36v12h-36zM368 503h36v12h-36zM548 503h12v12h-12zM380 515h36v12h-36zM548 515h12v12h-12zM392 527h24v12h-24zM548 527h12v12h-12zM392 539h24v12h-24zM560 539h12v12h-12zM392 551h24v12h-24zM560 551h12v12h-12zM764 551h60v12h-60zM392 563h24v12h-24zM560 563h12v12h-12zM752 563h12v12h-12zM848 563h120v12h-120zM392 575h12v12h-12zM740 575h12v12h-12zM380 587h24v12h-24zM572 587h12v12h-12zM728 587h12v12h-12zM380 599h12v12h-12zM572 599h12v12h-12zM716 599h12v12h-12zM368 611h24v12h-24zM584 611h12v12h-12zM368 623h12v12h-12zM596 623h12v12h-12zM704 623h12v12h-12zM356 635h24v12h-24zM608 635h12v12h-12zM680 635h24v12h-24zM356 647h12v12h-12zM620 647h60v12h-60zM344 659h12v12h-12zM332 671h12v12h-12zM320 683h24v12h-24zM308 695h24v12h-24zM296 707h24v12h-24zM272 719h36v12h-36zM248 731h36v12h-36z"/><path fill="#eedad7" d="M308 215h24v12h-24zM320 227h12v12h-12zM320 239h12v12h-12zM320 251h12v12h-12zM320 263h12v12h-12zM332 275h12v12h-12zM332 287h12v12h-12zM332 299h12v12h-12zM344 311h12v12h-12zM488 311h60v12h-60zM344 323h24v12h-24zM464 323h84v12h-84zM356 335h144v12h-144zM524 335h36v12h-36zM380 347h60v12h-60zM536 347h24v12h-24zM548 359h12v12h-12zM548 371h12v12h-12zM548 383h12v12h-12zM548 395h12v12h-12zM548 407h24v12h-24zM560 419h12v12h-12zM560 431h12v12h-12zM560 443h12v12h-12zM560 455h12v12h-12zM560 467h12v12h-12zM260 479h24v12h-24zM308 479h24v12h-24zM560 479h12v12h-12zM224 491h36v12h-36zM332 491h24v12h-24zM560 491h12v12h-12zM176 503h48v12h-48zM344 503h24v12h-24zM560 503h12v12h-12zM140 515h48v12h-48zM368 515h12v12h-12zM560 515h12v12h-12zM140 527h24v12h-24zM368 527h24v12h-24zM560 527h12v12h-12zM380 539h12v12h-12zM572 539h12v12h-12zM380 551h12v12h-12zM572 551h12v12h-12zM752 551h12v12h-12zM824 551h144v12h-144zM380 563h12v12h-12zM572 563h12v12h-12zM740 563h12v12h-12zM380 575h12v12h-12zM572 575h12v12h-12zM728 575h12v12h-12zM368 587h12v12h-12zM584 587h12v12h-12zM716 587h12v12h-12zM368 599h12v12h-12zM584 599h12v12h-12zM704 599h12v12h-12zM356 611h12v12h-12zM596 611h12v12h-12zM704 611h12v12h-12zM356 623h12v12h-12zM608 623h12v12h-12zM692 623h12v12h-12zM344 635h12v12h-12zM620 635h60v12h-60zM332 647h24v12h-24zM320 659h24v12h-24zM308 671h24v12h-24zM296 683h24v12h-24zM272 695h36v12h-36zM248 707h48v12h-48zM224 719h48v12h-48zM140 731h108v12h-108z"/><path fill="#f1e0de" d="M332 215h12v12h-12zM332 227h12v12h-12zM332 239h24v12h-24zM332 251h24v12h-24zM332 263h24v12h-24zM344 275h12v12h-12zM512 275h36v12h-36zM344 287h12v12h-12zM488 287h72v12h-72zM344 299h12v12h-12zM464 299h96v12h-96zM356 311h12v12h-12zM440 311h48v12h-48zM548 311h24v12h-24zM368 323h96v12h-96zM548 323h24v12h-24zM560 335h12v12h-12zM560 347h12v12h-12zM560 359h12v12h-12zM560 371h12v12h-12zM560 383h12v12h-12zM560 395h12v12h-12zM572 407h12v12h-12zM572 419h12v12h-12zM572 431h12v12h-12zM572 443h12v12h-12zM572 455h12v12h-12zM572 467h12v12h-12zM284 479h24v12h-24zM572 479h12v12h-12zM260 491h24v12h-24zM308 491h24v12h-24zM572 491h12v12h-12zM224 503h36v12h-36zM332 503h12v12h-12zM572 503h12v12h-12zM188 515h36v12h-36zM344 515h24v12h-24zM572 515h12v12h-12zM164 527h36v12h-36zM356 527h12v12h-12zM572 527h12v12h-12zM140 539h36v12h-36zM356 539h24v12h-24zM764 539h72v12h-72zM920 539h48v12h-48zM140 551h24v12h-24zM368 551h12v12h-12zM584 551h12v12h-12zM740 551h12v12h-12zM140 563h12v12h-12zM368 563h12v12h-12zM584 563h12v12h-12zM728 563h12v12h-12zM356 575h24v12h-24zM584 575h12v12h-12zM716 575h12v12h-12zM356 587h12v12h-12zM704 587h12v12h-12zM344 599h24v12h-24zM596 599h12v12h-12zM692 599h12v12h-12zM344 611h12v12h-12zM608 611h12v12h-12zM680 611h24v12h-24zM332 623h24v12h-24zM620 623h24v12h-24zM668 623h24v12h-24zM320 635h24v12h-24zM308 647h24v12h-24zM296 659h24v12h-24zM284 671h24v12h-24zM260 683h36v12h-36zM140 695h48v12h-48zM212 695h60v12h-60zM140 707h108v12h-108zM140 719h84v12h-84z"/><path fill="#f5e7e5" d="M344 215h24v12h-24zM344 227h24v12h-24zM356 239h12v12h-12zM512 239h48v12h-48zM356 251h12v12h-12zM488 251h84v12h-84zM356 263h12v12h-12zM476 263h108v12h-108zM356 275h24v12h-24zM452 275h60v12h-60zM548 275h36v12h-36zM356 287h24v12h-24zM440 287h48v12h-48zM560 287h24v12h-24zM356 299h108v12h-108zM560 299h36v12h-36zM368 311h72v12h-72zM572 311h12v12h-12zM572 323h12v12h-12zM572 335h12v12h-12zM572 347h12v12h-12zM572 359h12v12h-12zM572 371h12v12h-12zM572 383h12v12h-12zM572 395h24v12h-24zM584 407h12v12h-12zM584 419h12v12h-12zM584 431h12v12h-12zM584 443h12v12h-12zM584 455h12v12h-12zM584 467h12v12h-12zM584 479h12v12h-12zM284 491h24v12h-24zM584 491h12v12h-12zM260 503h24v12h-24zM308 503h24v12h-24zM584 503h12v12h-12zM224 515h36v12h-36zM332 515h12v12h-12zM584 515h12v12h-12zM200 527h36v12h-36zM332 527h24v12h-24zM584 527h12v12h-12zM932 527h36v12h-36zM176 539h36v12h-36zM344 539h12v12h-12zM584 539h12v12h-12zM740 539h24v12h-24zM836 539h84v12h-84zM164 551h36v12h-36zM344 551h24v12h-24zM596 551h12v12h-12zM728 551h12v12h-12zM152 563h36v12h-36zM344 563h24v12h-24zM596 563h12v12h-12zM716 563h12v12h-12zM140 575h36v12h-36zM344 575h12v12h-12zM596 575h12v12h-12zM704 575h12v12h-12zM140 587h24v12h-24zM344 587h12v12h-12zM596 587h12v12h-12zM692 587h12v12h-12zM140 599h24v12h-24zM332 599h12v12h-12zM608 599h12v12h-12zM680 599h12v12h-12zM140 611h24v12h-24zM320 611h24v12h-24zM620 611h24v12h-24zM668 611h12v12h-12zM140 623h24v12h-24zM308 623h24v12h-24zM644 623h24v12h-24zM140 635h24v12h-24zM296 635h24v12h-24zM140 647h36v12h-36zM284 647h24v12h-24zM140 659h48v12h-48zM260 659h36v12h-36zM140 671h144v12h-144zM140 683h120v12h-120zM188 695h24v12h-24z"/><path fill="#f8eeed" d="M368 215h48v12h-48zM452 215h168v12h-168zM368 227h264v12h-264zM368 239h144v12h-144zM560 239h72v12h-72zM368 251h120v12h-120zM572 251h72v12h-72zM368 263h108v12h-108zM584 263h48v12h-48zM380 275h72v12h-72zM584 275h48v12h-48zM380 287h60v12h-60zM584 287h48v12h-48zM596 299h24v12h-24zM584 311h36v12h-36zM584 323h24v12h-24zM584 335h24v12h-24zM584 347h24v12h-24zM584 359h12v12h-12zM584 371h12v12h-12zM584 383h24v12h-24zM596 395h12v12h-12zM596 407h12v12h-12zM596 419h12v12h-12zM596 431h12v12h-12zM596 443h12v12h-12zM596 455h12v12h-12zM596 467h12v12h-12zM596 479h12v12h-12zM596 491h12v12h-12zM284 503h24v12h-24zM596 503h12v12h-12zM260 515h72v12h-72zM596 515h12v12h-12zM932 515h36v12h-36zM236 527h24v12h-24zM320 527h12v12h-12zM596 527h12v12h-12zM764 527h168v12h-168zM212 539h36v12h-36zM320 539h24v12h-24zM596 539h12v12h-12zM728 539h12v12h-12zM200 551h36v12h-36zM332 551h12v12h-12zM716 551h12v12h-12zM188 563h36v12h-36zM332 563h12v12h-12zM608 563h12v12h-12zM704 563h12v12h-12zM176 575h36v12h-36zM332 575h12v12h-12zM608 575h12v12h-12zM692 575h12v12h-12zM164 587h48v12h-48zM320 587h24v12h-24zM608 587h24v12h-24zM680 587h12v12h-12zM164 599h36v12h-36zM308 599h24v12h-24zM620 599h24v12h-24zM668 599h12v12h-12zM164 611h48v12h-48zM296 611h24v12h-24zM644 611h24v12h-24zM164 623h48v12h-48zM284 623h24v12h-24zM164 635h132v12h-132zM176 647h108v12h-108zM188 659h72v12h-72z"/><path fill="#fbf5f4" d="M416 215h36v12h-36zM620 215h96v12h-96zM632 227h96v12h-96zM632 239h108v12h-108zM644 251h96v12h-96zM632 263h120v12h-120zM632 275h120v12h-120zM632 287h120v12h-120zM620 299h132v12h-132zM620 311h132v12h-132zM608 323h144v12h-144zM608 335h24v12h-24zM680 335h60v12h-60zM608 347h12v12h-12zM692 347h48v12h-48zM596 359h24v12h-24zM692 359h36v12h-36zM596 371h24v12h-24zM608 383h12v12h-12zM608 395h12v12h-12zM608 407h12v12h-12zM608 419h12v12h-12zM608 431h12v12h-12zM608 443h12v12h-12zM608 455h12v12h-12zM608 467h12v12h-12zM608 479h12v12h-12zM608 491h12v12h-12zM608 503h12v12h-12zM932 503h36v12h-36zM608 515h12v12h-12zM884 515h48v12h-48zM260 527h60v12h-60zM608 527h12v12h-12zM740 527h24v12h-24zM248 539h36v12h-36zM296 539h24v12h-24zM608 539h12v12h-12zM716 539h12v12h-12zM236 551h24v12h-24zM308 551h24v12h-24zM608 551h24v12h-24zM704 551h12v12h-12zM224 563h36v12h-36zM308 563h24v12h-24zM620 563h12v12h-12zM692 563h12v12h-12zM212 575h36v12h-36zM296 575h36v12h-36zM620 575h24v12h-24zM668 575h24v12h-24zM212 587h48v12h-48zM284 587h36v12h-36zM632 587h48v12h-48zM200 599h108v12h-108zM644 599h24v12h-24zM212 611h84v12h-84zM212 623h72v12h-72z"/><path fill="#fefcfb" d="M716 215h60v12h-60zM728 227h48v12h-48zM740 239h36v12h-36zM740 251h48v12h-48zM752 263h36v12h-36zM752 275h36v12h-36zM752 287h36v12h-36zM752 299h24v12h-24zM752 311h24v12h-24zM752 323h12v12h-12zM632 335h48v12h-48zM740 335h24v12h-24zM620 347h72v12h-72zM740 347h12v12h-12zM620 359h24v12h-24zM668 359h24v12h-24zM728 359h12v12h-12zM620 371h24v12h-24zM680 371h60v12h-60zM620 383h24v12h-24zM692 383h24v12h-24zM620 395h24v12h-24zM620 407h24v12h-24zM620 419h24v12h-24zM620 431h24v12h-24zM620 443h24v12h-24zM620 455h24v12h-24zM620 467h12v12h-12zM620 479h12v12h-12zM956 479h12v12h-12zM620 491h12v12h-12zM932 491h36v12h-36zM620 503h12v12h-12zM896 503h36v12h-36zM620 515h12v12h-12zM764 515h120v12h-120zM620 527h24v12h-24zM716 527h24v12h-24zM284 539h12v12h-12zM620 539h24v12h-24zM692 539h24v12h-24zM260 551h48v12h-48zM632 551h12v12h-12zM680 551h24v12h-24zM260 563h48v12h-48zM632 563h60v12h-60zM248 575h48v12h-48zM644 575h24v12h-24zM260 587h24v12h-24z"/><path fill="#fcfcfd" d="M776 215h36v12h-36zM776 227h36v12h-36zM776 239h36v12h-36zM788 251h24v12h-24zM788 263h24v12h-24zM788 275h24v12h-24zM788 287h24v12h-24zM776 299h24v12h-24zM776 311h24v12h-24zM764 323h24v12h-24zM764 335h12v12h-12zM752 347h12v12h-12zM644 359h24v12h-24zM740 359h24v12h-24zM644 371h36v12h-36zM740 371h12v12h-12zM644 383h48v12h-48zM716 383h24v12h-24zM644 395h72v12h-72zM644 407h48v12h-48zM644 419h36v12h-36zM644 431h24v12h-24zM644 443h12v12h-12zM644 455h12v12h-12zM632 467h24v12h-24zM944 467h24v12h-24zM632 479h24v12h-24zM920 479h36v12h-36zM632 491h24v12h-24zM896 491h36v12h-36zM632 503h24v12h-24zM860 503h36v12h-36zM632 515h24v12h-24zM716 515h48v12h-48zM644 527h72v12h-72zM644 539h48v12h-48zM644 551h36v12h-36z"/><path fill="#f7f5fa" d="M812 215h36v12h-36zM812 227h36v12h-36zM812 239h36v12h-36zM812 251h36v12h-36zM812 263h36v12h-36zM812 275h36v12h-36zM812 287h24v12h-24zM800 299h36v12h-36zM800 311h24v12h-24zM788 323h36v12h-36zM776 335h24v12h-24zM764 347h24v12h-24zM764 359h12v12h-12zM752 371h12v12h-12zM740 383h12v12h-12zM716 395h24v12h-24zM692 407h36v12h-36zM680 419h36v12h-36zM668 431h24v12h-24zM956 431h12v12h-12zM656 443h36v12h-36zM944 443h24v12h-24zM656 455h24v12h-24zM932 455h36v12h-36zM656 467h24v12h-24zM920 467h24v12h-24zM656 479h24v12h-24zM896 479h24v12h-24zM656 491h24v12h-24zM872 491h24v12h-24zM656 503h108v12h-108zM824 503h36v12h-36zM656 515h60v12h-60z"/><path fill="#f1eff7" d="M848 215h36v12h-36zM848 227h36v12h-36zM848 239h36v12h-36zM848 251h36v12h-36zM848 263h24v12h-24zM848 275h24v12h-24zM836 287h36v12h-36zM836 299h36v12h-36zM824 311h36v12h-36zM824 323h36v12h-36zM800 335h48v12h-48zM788 347h24v12h-24zM776 359h12v12h-12zM764 371h12v12h-12zM752 383h12v12h-12zM740 395h12v12h-12zM956 395h12v12h-12zM728 407h12v12h-12zM944 407h24v12h-24zM716 419h12v12h-12zM932 419h36v12h-36zM692 431h24v12h-24zM932 431h24v12h-24zM692 443h24v12h-24zM920 443h24v12h-24zM680 455h24v12h-24zM908 455h24v12h-24zM680 467h24v12h-24zM896 467h24v12h-24zM680 479h36v12h-36zM872 479h24v12h-24zM680 491h48v12h-48zM848 491h24v12h-24zM764 503h60v12h-60z"/><path fill="#ebe8f4" d="M884 215h48v12h-48zM884 227h48v12h-48zM884 239h48v12h-48zM884 251h48v12h-48zM872 263h60v12h-60zM872 275h60v12h-60zM872 287h60v12h-60zM872 299h60v12h-60zM860 311h108v12h-108zM860 323h108v12h-108zM848 335h120v12h-120zM812 347h156v12h-156zM788 359h180v12h-180zM776 371h12v12h-12zM896 371h72v12h-72zM764 383h12v12h-12zM908 383h60v12h-60zM752 395h12v12h-12zM908 395h48v12h-48zM740 407h12v12h-12zM908 407h36v12h-36zM728 419h12v12h-12zM908 419h24v12h-24zM716 431h12v12h-12zM896 431h36v12h-36zM716 443h12v12h-12zM896 443h24v12h-24zM704 455h24v12h-24zM884 455h24v12h-24zM704 467h24v12h-24zM872 467h24v12h-24zM716 479h24v12h-24zM860 479h12v12h-12zM728 491h36v12h-36zM824 491h24v12h-24z"/><path fill="#e6e2f1" d="M932 215h36v12h-36zM932 227h36v12h-36zM932 239h36v12h-36zM932 251h36v12h-36zM932 263h36v12h-36zM932 275h36v12h-36zM932 287h36v12h-36zM932 299h36v12h-36zM788 371h108v12h-108zM776 383h12v12h-12zM860 383h48v12h-48zM872 395h36v12h-36zM884 407h24v12h-24zM740 419h12v12h-12zM884 419h24v12h-24zM728 431h12v12h-12zM884 431h12v12h-12zM728 443h12v12h-12zM872 443h24v12h-24zM728 455h12v12h-12zM872 455h12v12h-12zM728 467h12v12h-12zM860 467h12v12h-12zM740 479h12v12h-12zM836 479h24v12h-24zM764 491h60v12h-60z"/><path fill="#e0dcee" d="M788 383h72v12h-72zM764 395h12v12h-12zM848 395h24v12h-24zM752 407h12v12h-12zM860 407h24v12h-24zM752 419h12v12h-12zM860 419h24v12h-24zM740 431h12v12h-12zM860 431h24v12h-24zM740 443h12v12h-12zM860 443h12v12h-12zM740 455h12v12h-12zM860 455h12v12h-12zM740 467h12v12h-12zM848 467h12v12h-12zM752 479h24v12h-24zM812 479h24v12h-24z"/><path fill="#dad5eb" d="M776 395h24v12h-24zM812 395h36v12h-36zM764 407h12v12h-12zM836 407h24v12h-24zM848 419h12v12h-12zM752 431h12v12h-12zM848 431h12v12h-12zM752 443h12v12h-12zM848 443h12v12h-12zM752 455h12v12h-12zM836 455h24v12h-24zM752 467h24v12h-24zM824 467h24v12h-24zM776 479h36v12h-36z"/><path fill="#d5cfe8" d="M800 395h12v12h-12zM776 407h24v12h-24zM824 407h12v12h-12zM764 419h12v12h-12zM836 419h12v12h-12zM764 431h12v12h-12zM836 431h12v12h-12zM764 443h12v12h-12zM836 443h12v12h-12zM764 455h12v12h-12zM824 455h12v12h-12zM776 467h48v12h-48z"/><path fill="#cfc9e5" d="M800 407h24v12h-24zM776 419h24v12h-24zM812 419h24v12h-24zM776 431h12v12h-12zM824 431h12v12h-12zM776 443h12v12h-12zM824 443h12v12h-12zM776 455h48v12h-48z"/><path fill="#cac3e2" d="M800 419h12v12h-12zM788 431h36v12h-36zM788 443h36v12h-36z"/></g><path fill="none" stroke="rgba(100,100,100,0.45)" stroke-width="7.8" stroke-linejoin="round" stroke-linecap="round" d="M582.6 740L568 731L536 708.8L527 704.9L518 703.7L506 706.5L495.2 713L482 725.2L469.6 740M962 714.3L917 707.2L890 703.9L866 702.8L848 704L830 707.7L812 713.7L794 721.5L756.2 740M140 380.9L206 411.8L221 416.5L233 417.7L242 416.5L248 414.5L256.4 410L263 404.6L268.2 398L271.1 392L272.8 386L273.8 377L271.7 359L269 350L263.6 338L254 323.4L236 303.7L215 283.3L191 264.5L167 249.8L140 237.4M962 665.1L908 654.5L833 636.2L818 634.1L806 634.8L797.4 638L791 642.6L756.7 683L743 695.4L726.2 707L710 715.1L692 721.1L674 724.2L656 724.5L641 722.7L629 719.7L617 715.4L605 709.5L593 701.9L581 692.3L548 658.3L536 648.4L527 643.1L521 640.8L515 639.6L506 639.7L494 643L482 649.3L470 658.2L461 666.9L443 689.3L409.4 740M140 437.4L170 441.1L212 449.7L227 450.3L239 449.3L262.6 443L296 429.4L308 421.1L312.5 416L315.8 410L317.4 404L317.8 398L316.1 386L301.4 341L291.2 314L281 295L257 256L242 233.5L228.3 215M962 623.7L929 619L896 612.5L815 591.5L800 589.7L788 591.1L776 596.5L767 604.5L759.8 614L735.2 653L724.9 665L713 675.4L698 684.5L683 690.3L668 693.2L650 693.3L635 690.7L623 686.6L611 680.7L599 672.8L586.2 662L572.1 647L560.4 632L542 604.9L530 592L521 584.6L512 579.2L503 576.3L494 576.4L485 580L476 586.8L452 609.6L440 622.4L425 643L385.9 704L359.1 740M962 587.8L932 586.2L902 583.3L866 577.7L806 565.6L791 564.3L782 565.2L776 567.1L767 571.7L755 581.5L743 595.6L722.6 626L713.3 638L701 649.9L689 658L680 662.2L671 665L653 666.8L635 664.1L617 656.8L608 651.2L598.8 644L590 635.3L582.4 626L571.7 608L558.6 578L546.1 545L532.3 512L527.4 497L524.4 476L525.4 443L524.6 428L521 412.8L518 405.6L513.2 398L509 393.5L503 389.4L497 386.9L488 384.9L467 383.6L407 384.2L389 382.4L371 376.5L356 367.1L347 358.8L339.5 350L332 338.8L326.9 329L281.7 215M140 486.3L224 478.7L242 474.7L290 459.8L305 457.4L320 457.1L332 458.6L341 461.1L374 476.7L410 489.2L419 494.3L426.8 503L429.9 509L432.4 518L433.3 527L432.7 539L428.6 557L419.2 578L384.7 641L363.3 674L350 691.4L335 708.7L320 724L302.2 740M962 554.4L923 556.8L887 556.8L854 554.4L794 546.6L785 546.2L776 547.2L767 550.1L758.6 554L741.5 566L727.5 581L707 608.8L698 619.7L689 628.2L680 634.4L668 639.5L653 641.7L638 639.8L623 633.8L608 623.2L597.2 611L590.1 596L584.6 578L574.2 530L569.8 503L567.8 479L566.2 425L559.6 374L556.1 356L551.9 341L547.3 329L542 319.8L536 314.1L530 311.7L524 310.9L515 311.8L503 315.1L455 333.9L437 338.6L419 341.3L404 341.9L392 340.9L380 338L371 334.3L362 328.5L355.9 323L350 315.1L345.2 305L337.9 278L326.5 215M140 541.1L170.4 527L236 503.9L278 486.6L290 483L302 481.9L314 484.1L328.4 491L340.6 500L361.3 518L369.7 527L375.7 536L379.3 545L380.9 557L379.2 572L373.6 590L365 608.7L353.1 629L341 645.8L326 663.2L311 677.7L293 692.2L275 704.2L257 714L239 721.8L218 728.7L197 733.2L179 735.2L158 735.2L140 733M962 520.6L917 530.2L878 535.1L845 535.9L785 532.6L773 533.5L760.4 536L740 543.9L724.3 554L711.5 566L683 599.3L676.9 605L668.2 611L662 613.6L653 614.6L644 613.1L635 609.3L628.6 605L622.6 599L618.4 593L614 583.9L608.5 563L602.4 521L600.3 491L599.9 431L593.1 368L595.2 344L603.6 293L604.4 278L602.1 263L596.7 251L590 242.4L584 237L575 231L566 226.9L557 224.2L545 222.3L536 222.1L524 223.4L506 228.3L488 237.2L470 249.9L440 274.9L428 282.6L416 287.2L410 287.9L404 287.3L398 285L393 281L389.1 275L387.1 269L385.6 260L385 248L386.3 215M236 656.2L221 655.8L206 652L196.4 647L186.9 638L183.2 632L180.9 626L179.4 614L181.3 602L187.7 587L198.3 572L213.1 557L232.5 542L256.8 527L275 518L290 513.6L302 514.1L311 517.5L320.2 524L328.7 533L334.6 542L338.2 551L339.8 560L339.2 572L336.9 581L331.8 593L324.4 605L314 617.6L302 628.7L290 637.4L278 644.3L263 650.6L248 654.7L236 656.2M962 481.1L912.5 503L878 513.9L860 517.5L842 519.5L773 520.1L743 523.3L725 528L710 534.2L697 542L674 558.9L665 563.1L656 563.2L650.2 560L647 556.4L642.6 548L639.3 536L637.1 521L635.9 503L636.8 476L642.4 425L642.6 410L641.1 386L642.8 374L645.9 368L650 364.2L653 362.8L659 362.5L664.7 365L668 367.9L679.8 383L686 388L695 391.6L704 392.4L716 389.9L725 385.5L734 378.4L743.2 368L757.8 347L770.2 326L778.2 308L782.2 293L783.9 275L782.2 254L777.9 236L769.8 215M962 416L920.1 458L898.9 476L885.6 485L874.9 491L861.4 497L848 501.3L830 504.8L806 506.7L779 506.6L755 504.7L728 501.1L713 497.5L704 492.9L696.9 485L694.7 479L694.3 470L696.1 461L698.5 455L708.1 440L728.8 416L758 385.8L776 369.5L794 356.7L830 336.8L839.2 329L846.1 320L850.8 311L855.2 299L861.5 272L864.9 242L864.7 215M812 491L797 492.2L782 491.9L770 489.3L759.2 485L749.9 479L744.3 473L740.2 464L739.5 455L742 443L748.7 428L759.2 413L770 401.6L782 392.4L794 386.1L806 382.6L821 381.8L833 383.8L848 388.5L857 392.9L866 399.5L872.4 407L876.8 416L878.6 425L878.5 434L875.7 446L871.6 455L865.5 464L856.7 473L848 479.4L836.8 485L827 488.2L812 491M815 470.3L800 472.9L791 472.2L785 470.5L779 467.3L775.1 464L771.1 458L769.1 452L769.5 440L772.7 431L776.3 425L781.4 419L788 413.6L800 408.2L812 407.6L818 409L824 411.9L829.1 416L833 420.9L838 434L838.4 446L835.1 455L827.1 464L815 470.3"/></g><use href="#lines"/></g><g transform="translate(1106 1181.33)"><g clip-path="url(#clip)"><g filter="url(#b12)"><path fill="#d3a59f" d="M644 575h36v12h-36zM632 587h60v12h-60zM632 599h60v12h-60zM632 611h48v12h-48zM632 623h48v12h-48z"/><path fill="#d7aba6" d="M644 551h36v12h-36zM620 563h96v12h-96zM608 575h36v12h-36zM680 575h36v12h-36zM608 587h24v12h-24zM692 587h24v12h-24zM596 599h36v12h-36zM692 599h24v12h-24zM596 611h36v12h-36zM680 611h36v12h-36zM596 623h36v12h-36zM680 623h36v12h-36zM596 635h108v12h-108zM608 647h96v12h-96zM620 659h84v12h-84zM632 671h60v12h-60zM644 683h36v12h-36z"/><path fill="#dab2ad" d="M656 539h12v12h-12zM620 551h24v12h-24zM680 551h36v12h-36zM608 563h12v12h-12zM716 563h24v12h-24zM596 575h12v12h-12zM716 575h36v12h-36zM584 587h24v12h-24zM716 587h36v12h-36zM572 599h24v12h-24zM716 599h36v12h-36zM572 611h24v12h-24zM716 611h24v12h-24zM572 623h24v12h-24zM716 623h24v12h-24zM572 635h24v12h-24zM704 635h36v12h-36zM584 647h24v12h-24zM704 647h36v12h-36zM584 659h36v12h-36zM704 659h36v12h-36zM584 671h48v12h-48zM692 671h48v12h-48zM596 683h48v12h-48zM680 683h60v12h-60zM608 695h132v12h-132zM608 707h132v12h-132zM620 719h120v12h-120zM632 731h108v12h-108z"/><path fill="#deb8b4" d="M620 539h36v12h-36zM668 539h48v12h-48zM596 551h24v12h-24zM716 551h36v12h-36zM584 563h24v12h-24zM740 563h24v12h-24zM572 575h24v12h-24zM752 575h24v12h-24zM560 587h24v12h-24zM752 587h24v12h-24zM560 599h12v12h-12zM752 599h24v12h-24zM548 611h24v12h-24zM740 611h36v12h-36zM548 623h24v12h-24zM740 623h36v12h-36zM548 635h24v12h-24zM740 635h36v12h-36zM560 647h24v12h-24zM740 647h36v12h-36zM560 659h24v12h-24zM740 659h48v12h-48zM560 671h24v12h-24zM740 671h48v12h-48zM572 683h24v12h-24zM740 683h60v12h-60zM572 695h36v12h-36zM740 695h60v12h-60zM572 707h36v12h-36zM740 707h60v12h-60zM584 719h36v12h-36zM740 719h72v12h-72zM584 731h48v12h-48zM740 731h72v12h-72z"/><path fill="#e1bfbb" d="M632 527h60v12h-60zM596 539h24v12h-24zM716 539h24v12h-24zM584 551h12v12h-12zM752 551h24v12h-24zM572 563h12v12h-12zM764 563h24v12h-24zM560 575h12v12h-12zM776 575h24v12h-24zM548 587h12v12h-12zM776 587h24v12h-24zM536 599h24v12h-24zM776 599h24v12h-24zM524 611h24v12h-24zM776 611h36v12h-36zM524 623h24v12h-24zM776 623h36v12h-36zM524 635h24v12h-24zM776 635h36v12h-36zM524 647h36v12h-36zM776 647h48v12h-48zM536 659h24v12h-24zM788 659h36v12h-36zM536 671h24v12h-24zM788 671h48v12h-48zM536 683h36v12h-36zM800 683h36v12h-36zM536 695h36v12h-36zM800 695h48v12h-48zM548 707h24v12h-24zM800 707h48v12h-48zM548 719h36v12h-36zM812 719h48v12h-48zM548 731h36v12h-36zM812 731h60v12h-60z"/><path fill="#e5c6c2" d="M596 527h36v12h-36zM692 527h36v12h-36zM584 539h12v12h-12zM740 539h36v12h-36zM572 551h12v12h-12zM776 551h24v12h-24zM548 563h24v12h-24zM788 563h24v12h-24zM536 575h24v12h-24zM800 575h12v12h-12zM524 587h24v12h-24zM800 587h24v12h-24zM512 599h24v12h-24zM800 599h24v12h-24zM500 611h24v12h-24zM812 611h24v12h-24zM500 623h24v12h-24zM812 623h36v12h-36zM500 635h24v12h-24zM812 635h36v12h-36zM500 647h24v12h-24zM824 647h36v12h-36zM500 659h36v12h-36zM824 659h36v12h-36zM500 671h36v12h-36zM836 671h36v12h-36zM500 683h36v12h-36zM836 683h48v12h-48zM500 695h36v12h-36zM848 695h36v12h-36zM512 707h36v12h-36zM848 707h48v12h-48zM512 719h36v12h-36zM860 719h48v12h-48zM512 731h36v12h-36zM872 731h48v12h-48z"/><path fill="#e8ccc9" d="M608 515h84v12h-84zM584 527h12v12h-12zM728 527h24v12h-24zM560 539h24v12h-24zM776 539h12v12h-12zM548 551h24v12h-24zM800 551h12v12h-12zM536 563h12v12h-12zM812 563h12v12h-12zM512 575h24v12h-24zM812 575h24v12h-24zM500 587h24v12h-24zM824 587h24v12h-24zM488 599h24v12h-24zM824 599h24v12h-24zM476 611h24v12h-24zM836 611h24v12h-24zM464 623h36v12h-36zM848 623h24v12h-24zM464 635h36v12h-36zM848 635h36v12h-36zM464 647h36v12h-36zM860 647h24v12h-24zM464 659h36v12h-36zM860 659h36v12h-36zM464 671h36v12h-36zM872 671h36v12h-36zM464 683h36v12h-36zM884 683h36v12h-36zM464 695h36v12h-36zM884 695h48v12h-48zM464 707h48v12h-48zM896 707h48v12h-48zM464 719h48v12h-48zM908 719h48v12h-48zM476 731h36v12h-36zM920 731h48v12h-48z"/><path fill="#ebd3d0" d="M584 515h24v12h-24zM692 515h36v12h-36zM560 527h24v12h-24zM752 527h24v12h-24zM548 539h12v12h-12zM788 539h24v12h-24zM524 551h24v12h-24zM812 551h12v12h-12zM500 563h36v12h-36zM824 563h12v12h-12zM476 575h36v12h-36zM836 575h12v12h-12zM464 587h36v12h-36zM848 587h12v12h-12zM452 599h36v12h-36zM848 599h24v12h-24zM440 611h36v12h-36zM860 611h24v12h-24zM440 623h24v12h-24zM872 623h24v12h-24zM440 635h24v12h-24zM884 635h24v12h-24zM428 647h36v12h-36zM884 647h36v12h-36zM428 659h36v12h-36zM896 659h36v12h-36zM428 671h36v12h-36zM908 671h36v12h-36zM428 683h36v12h-36zM920 683h36v12h-36zM428 695h36v12h-36zM932 695h36v12h-36zM440 707h24v12h-24zM944 707h24v12h-24zM440 719h24v12h-24zM956 719h12v12h-12zM440 731h36v12h-36z"/><path fill="#eedad7" d="M584 503h108v12h-108zM560 515h24v12h-24zM728 515h24v12h-24zM536 527h24v12h-24zM776 527h24v12h-24zM524 539h24v12h-24zM812 539h12v12h-12zM488 551h36v12h-36zM824 551h24v12h-24zM464 563h36v12h-36zM836 563h24v12h-24zM452 575h24v12h-24zM848 575h24v12h-24zM428 587h36v12h-36zM860 587h24v12h-24zM428 599h24v12h-24zM872 599h24v12h-24zM416 611h24v12h-24zM884 611h36v12h-36zM416 623h24v12h-24zM896 623h36v12h-36zM404 635h36v12h-36zM908 635h36v12h-36zM404 647h24v12h-24zM920 647h36v12h-36zM404 659h24v12h-24zM932 659h36v12h-36zM404 671h24v12h-24zM944 671h24v12h-24zM404 683h24v12h-24zM956 683h12v12h-12zM404 695h24v12h-24zM404 707h36v12h-36zM404 719h36v12h-36zM404 731h36v12h-36z"/><path fill="#f1e0de" d="M572 491h84v12h-84zM548 503h36v12h-36zM692 503h24v12h-24zM536 515h24v12h-24zM752 515h24v12h-24zM500 527h36v12h-36zM800 527h24v12h-24zM476 539h48v12h-48zM824 539h24v12h-24zM452 551h36v12h-36zM848 551h12v12h-12zM440 563h24v12h-24zM860 563h24v12h-24zM416 575h36v12h-36zM872 575h24v12h-24zM416 587h12v12h-12zM884 587h36v12h-36zM404 599h24v12h-24zM896 599h36v12h-36zM392 611h24v12h-24zM920 611h24v12h-24zM392 623h24v12h-24zM932 623h36v12h-36zM392 635h12v12h-12zM944 635h24v12h-24zM392 647h12v12h-12zM956 647h12v12h-12zM380 659h24v12h-24zM380 671h24v12h-24zM380 683h24v12h-24zM380 695h24v12h-24zM380 707h24v12h-24zM380 719h24v12h-24zM380 731h24v12h-24z"/><path fill="#f5e7e5" d="M176 335h24v12h-24zM164 347h60v12h-60zM164 359h72v12h-72zM164 371h84v12h-84zM176 383h72v12h-72zM176 395h72v12h-72zM200 407h48v12h-48zM224 419h12v12h-12zM560 479h84v12h-84zM536 491h36v12h-36zM656 491h36v12h-36zM512 503h36v12h-36zM716 503h36v12h-36zM488 515h48v12h-48zM776 515h24v12h-24zM464 527h36v12h-36zM824 527h12v12h-12zM440 539h36v12h-36zM848 539h12v12h-12zM428 551h24v12h-24zM860 551h24v12h-24zM416 563h24v12h-24zM884 563h24v12h-24zM404 575h12v12h-12zM896 575h24v12h-24zM392 587h24v12h-24zM920 587h24v12h-24zM380 599h24v12h-24zM932 599h36v12h-36zM380 611h12v12h-12zM944 611h24v12h-24zM368 623h24v12h-24zM368 635h24v12h-24zM368 647h24v12h-24zM368 659h12v12h-12zM356 671h24v12h-24zM356 683h24v12h-24zM356 695h24v12h-24zM356 707h24v12h-24zM356 719h24v12h-24zM356 731h24v12h-24z"/><path fill="#f8eeed" d="M140 287h24v12h-24zM140 299h60v12h-60zM140 311h84v12h-84zM140 323h96v12h-96zM140 335h36v12h-36zM200 335h48v12h-48zM140 347h24v12h-24zM224 347h36v12h-36zM140 359h24v12h-24zM236 359h24v12h-24zM140 371h24v12h-24zM248 371h12v12h-12zM140 383h36v12h-36zM248 383h24v12h-24zM140 395h36v12h-36zM248 395h24v12h-24zM152 407h48v12h-48zM248 407h12v12h-12zM176 419h48v12h-48zM236 419h24v12h-24zM200 431h48v12h-48zM548 455h48v12h-48zM536 467h96v12h-96zM512 479h48v12h-48zM644 479h36v12h-36zM500 491h36v12h-36zM692 491h24v12h-24zM476 503h36v12h-36zM752 503h24v12h-24zM452 515h36v12h-36zM800 515h36v12h-36zM440 527h24v12h-24zM836 527h24v12h-24zM416 539h24v12h-24zM860 539h24v12h-24zM404 551h24v12h-24zM884 551h24v12h-24zM392 563h24v12h-24zM908 563h24v12h-24zM380 575h24v12h-24zM920 575h36v12h-36zM368 587h24v12h-24zM944 587h24v12h-24zM368 599h12v12h-12zM356 611h24v12h-24zM356 623h12v12h-12zM344 635h24v12h-24zM344 647h24v12h-24zM344 659h24v12h-24zM344 671h12v12h-12zM332 683h24v12h-24zM332 695h24v12h-24zM332 707h24v12h-24zM332 719h24v12h-24zM332 731h24v12h-24z"/><path fill="#fbf5f4" d="M140 239h12v12h-12zM140 251h36v12h-36zM140 263h60v12h-60zM140 275h72v12h-72zM164 287h72v12h-72zM200 299h48v12h-48zM224 311h36v12h-36zM236 323h24v12h-24zM248 335h24v12h-24zM260 347h12v12h-12zM260 359h12v12h-12zM260 371h24v12h-24zM272 383h12v12h-12zM272 395h12v12h-12zM140 407h12v12h-12zM260 407h24v12h-24zM536 407h12v12h-12zM140 419h36v12h-36zM260 419h12v12h-12zM524 419h48v12h-48zM140 431h60v12h-60zM248 431h24v12h-24zM512 431h84v12h-84zM176 443h84v12h-84zM500 443h120v12h-120zM500 455h48v12h-48zM596 455h48v12h-48zM488 467h48v12h-48zM632 467h36v12h-36zM476 479h36v12h-36zM680 479h24v12h-24zM464 491h36v12h-36zM716 491h36v12h-36zM452 503h24v12h-24zM776 503h36v12h-36zM428 515h24v12h-24zM836 515h24v12h-24zM404 527h36v12h-36zM860 527h24v12h-24zM392 539h24v12h-24zM884 539h36v12h-36zM380 551h24v12h-24zM908 551h36v12h-36zM368 563h24v12h-24zM932 563h36v12h-36zM356 575h24v12h-24zM956 575h12v12h-12zM344 587h24v12h-24zM344 599h24v12h-24zM332 611h24v12h-24zM332 623h24v12h-24zM332 635h12v12h-12zM320 647h24v12h-24zM320 659h24v12h-24zM320 671h24v12h-24zM320 683h12v12h-12zM308 695h24v12h-24zM308 707h24v12h-24zM308 719h24v12h-24zM308 731h24v12h-24z"/><path fill="#fefcfb" d="M140 215h48v12h-48zM140 227h60v12h-60zM152 239h60v12h-60zM176 251h48v12h-48zM200 263h36v12h-36zM212 275h36v12h-36zM236 287h24v12h-24zM248 299h24v12h-24zM260 311h12v12h-12zM260 323h24v12h-24zM272 335h12v12h-12zM272 347h12v12h-12zM272 359h24v12h-24zM524 359h36v12h-36zM284 371h12v12h-12zM524 371h48v12h-48zM284 383h12v12h-12zM512 383h60v12h-60zM284 395h12v12h-12zM512 395h72v12h-72zM284 407h12v12h-12zM500 407h36v12h-36zM548 407h48v12h-48zM272 419h24v12h-24zM488 419h36v12h-36zM572 419h36v12h-36zM272 431h12v12h-12zM476 431h36v12h-36zM596 431h24v12h-24zM140 443h36v12h-36zM260 443h24v12h-24zM476 443h24v12h-24zM620 443h24v12h-24zM140 455h132v12h-132zM464 455h36v12h-36zM644 455h36v12h-36zM464 467h24v12h-24zM668 467h36v12h-36zM452 479h24v12h-24zM704 479h24v12h-24zM440 491h24v12h-24zM752 491h24v12h-24zM416 503h36v12h-36zM812 503h36v12h-36zM392 515h36v12h-36zM860 515h24v12h-24zM380 527h24v12h-24zM884 527h36v12h-36zM356 539h36v12h-36zM920 539h36v12h-36zM344 551h36v12h-36zM944 551h24v12h-24zM344 563h24v12h-24zM332 575h24v12h-24zM320 587h24v12h-24zM320 599h24v12h-24zM320 611h12v12h-12zM308 623h24v12h-24zM308 635h24v12h-24zM308 647h12v12h-12zM296 659h24v12h-24zM296 671h24v12h-24zM296 683h24v12h-24zM284 695h24v12h-24zM284 707h24v12h-24zM284 719h24v12h-24zM272 731h36v12h-36z"/><path fill="#fcfcfd" d="M188 215h48v12h-48zM200 227h36v12h-36zM212 239h36v12h-36zM224 251h36v12h-36zM236 263h36v12h-36zM248 275h24v12h-24zM260 287h24v12h-24zM272 299h24v12h-24zM272 311h24v12h-24zM284 323h12v12h-12zM524 323h36v12h-36zM284 335h12v12h-12zM512 335h60v12h-60zM284 347h12v12h-12zM512 347h60v12h-60zM296 359h12v12h-12zM500 359h24v12h-24zM560 359h24v12h-24zM296 371h12v12h-12zM500 371h24v12h-24zM572 371h12v12h-12zM296 383h12v12h-12zM488 383h24v12h-24zM572 383h24v12h-24zM296 395h12v12h-12zM488 395h24v12h-24zM584 395h24v12h-24zM296 407h12v12h-12zM476 407h24v12h-24zM596 407h24v12h-24zM296 419h12v12h-12zM464 419h24v12h-24zM608 419h24v12h-24zM284 431h24v12h-24zM464 431h12v12h-12zM620 431h36v12h-36zM284 443h24v12h-24zM452 443h24v12h-24zM644 443h48v12h-48zM272 455h36v12h-36zM440 455h24v12h-24zM680 455h36v12h-36zM140 467h156v12h-156zM440 467h24v12h-24zM704 467h24v12h-24zM428 479h24v12h-24zM728 479h24v12h-24zM404 491h36v12h-36zM776 491h48v12h-48zM356 503h60v12h-60zM848 503h36v12h-36zM332 515h60v12h-60zM884 515h48v12h-48zM320 527h60v12h-60zM920 527h48v12h-48zM320 539h36v12h-36zM956 539h12v12h-12zM308 551h36v12h-36zM308 563h36v12h-36zM308 575h24v12h-24zM296 587h24v12h-24zM296 599h24v12h-24zM296 611h24v12h-24zM296 623h12v12h-12zM284 635h24v12h-24zM284 647h24v12h-24zM272 659h24v12h-24zM272 671h24v12h-24zM272 683h24v12h-24zM260 695h24v12h-24zM260 707h24v12h-24zM248 719h36v12h-36zM248 731h24v12h-24z"/><path fill="#f7f5fa" d="M236 215h36v12h-36zM236 227h36v12h-36zM248 239h36v12h-36zM260 251h24v12h-24zM272 263h24v12h-24zM272 275h24v12h-24zM284 287h24v12h-24zM512 287h48v12h-48zM296 299h12v12h-12zM500 299h72v12h-72zM296 311h12v12h-12zM500 311h72v12h-72zM296 323h12v12h-12zM488 323h36v12h-36zM560 323h24v12h-24zM296 335h12v12h-12zM488 335h24v12h-24zM572 335h12v12h-12zM296 347h24v12h-24zM488 347h24v12h-24zM572 347h24v12h-24zM308 359h12v12h-12zM488 359h12v12h-12zM584 359h12v12h-12zM308 371h12v12h-12zM488 371h12v12h-12zM584 371h24v12h-24zM308 383h12v12h-12zM476 383h12v12h-12zM596 383h12v12h-12zM308 395h12v12h-12zM464 395h24v12h-24zM608 395h12v12h-12zM308 407h12v12h-12zM464 407h12v12h-12zM620 407h12v12h-12zM308 419h24v12h-24zM452 419h12v12h-12zM632 419h60v12h-60zM308 431h24v12h-24zM440 431h24v12h-24zM656 431h60v12h-60zM308 443h24v12h-24zM428 443h24v12h-24zM692 443h36v12h-36zM308 455h36v12h-36zM416 455h24v12h-24zM716 455h12v12h-12zM296 467h144v12h-144zM728 467h24v12h-24zM140 479h288v12h-288zM752 479h24v12h-24zM140 491h84v12h-84zM248 491h156v12h-156zM824 491h48v12h-48zM272 503h84v12h-84zM884 503h60v12h-60zM284 515h48v12h-48zM932 515h36v12h-36zM284 527h36v12h-36zM284 539h36v12h-36zM284 551h24v12h-24zM284 563h24v12h-24zM284 575h24v12h-24zM284 587h12v12h-12zM272 599h24v12h-24zM272 611h24v12h-24zM272 623h24v12h-24zM260 635h24v12h-24zM260 647h24v12h-24zM248 659h24v12h-24zM248 671h24v12h-24zM236 683h36v12h-36zM236 695h24v12h-24zM224 707h36v12h-36zM212 719h36v12h-36zM212 731h36v12h-36z"/><path fill="#f1eff7" d="M272 215h24v12h-24zM272 227h36v12h-36zM284 239h24v12h-24zM524 239h12v12h-12zM284 251h24v12h-24zM500 251h60v12h-60zM296 263h12v12h-12zM488 263h84v12h-84zM296 275h24v12h-24zM488 275h96v12h-96zM308 287h12v12h-12zM476 287h36v12h-36zM560 287h24v12h-24zM308 299h12v12h-12zM476 299h24v12h-24zM572 299h24v12h-24zM308 311h12v12h-12zM476 311h24v12h-24zM572 311h24v12h-24zM308 323h12v12h-12zM476 323h12v12h-12zM584 323h12v12h-12zM308 335h12v12h-12zM476 335h12v12h-12zM584 335h24v12h-24zM320 347h12v12h-12zM476 347h12v12h-12zM596 347h12v12h-12zM320 359h12v12h-12zM476 359h12v12h-12zM596 359h12v12h-12zM320 371h12v12h-12zM464 371h24v12h-24zM608 371h12v12h-12zM320 383h12v12h-12zM464 383h12v12h-12zM608 383h12v12h-12zM320 395h12v12h-12zM452 395h12v12h-12zM620 395h24v12h-24zM692 395h36v12h-36zM320 407h24v12h-24zM440 407h24v12h-24zM632 407h96v12h-96zM332 419h12v12h-12zM428 419h24v12h-24zM692 419h36v12h-36zM332 431h36v12h-36zM404 431h36v12h-36zM716 431h24v12h-24zM332 443h96v12h-96zM728 443h12v12h-12zM344 455h72v12h-72zM728 455h24v12h-24zM752 467h12v12h-12zM776 479h72v12h-72zM224 491h24v12h-24zM872 491h96v12h-96zM140 503h132v12h-132zM944 503h24v12h-24zM140 515h48v12h-48zM236 515h48v12h-48zM260 527h24v12h-24zM260 539h24v12h-24zM260 551h24v12h-24zM260 563h24v12h-24zM260 575h24v12h-24zM260 587h24v12h-24zM248 599h24v12h-24zM248 611h24v12h-24zM236 623h36v12h-36zM236 635h24v12h-24zM224 647h36v12h-36zM212 659h36v12h-36zM212 671h36v12h-36zM200 683h36v12h-36zM188 695h48v12h-48zM176 707h48v12h-48zM176 719h36v12h-36zM164 731h48v12h-48z"/><path fill="#ebe8f4" d="M296 215h36v12h-36zM476 215h108v12h-108zM308 227h24v12h-24zM476 227h120v12h-120zM308 239h24v12h-24zM464 239h60v12h-60zM536 239h72v12h-72zM308 251h24v12h-24zM464 251h36v12h-36zM560 251h48v12h-48zM308 263h24v12h-24zM464 263h24v12h-24zM572 263h36v12h-36zM320 275h12v12h-12zM464 275h24v12h-24zM584 275h36v12h-36zM320 287h12v12h-12zM464 287h12v12h-12zM584 287h36v12h-36zM320 299h12v12h-12zM464 299h12v12h-12zM596 299h24v12h-24zM320 311h12v12h-12zM464 311h12v12h-12zM596 311h24v12h-24zM320 323h12v12h-12zM464 323h12v12h-12zM596 323h24v12h-24zM320 335h12v12h-12zM464 335h12v12h-12zM608 335h12v12h-12zM332 347h12v12h-12zM464 347h12v12h-12zM608 347h12v12h-12zM704 347h36v12h-36zM332 359h12v12h-12zM464 359h12v12h-12zM608 359h12v12h-12zM704 359h36v12h-36zM332 371h12v12h-12zM452 371h12v12h-12zM620 371h12v12h-12zM692 371h60v12h-60zM332 383h12v12h-12zM452 383h12v12h-12zM620 383h24v12h-24zM680 383h72v12h-72zM332 395h24v12h-24zM440 395h12v12h-12zM644 395h48v12h-48zM728 395h24v12h-24zM344 407h24v12h-24zM416 407h24v12h-24zM728 407h24v12h-24zM344 419h84v12h-84zM728 419h24v12h-24zM368 431h36v12h-36zM740 431h12v12h-12zM740 443h12v12h-12zM752 455h12v12h-12zM764 467h36v12h-36zM848 479h120v12h-120zM188 515h48v12h-48zM140 527h120v12h-120zM140 539h120v12h-120zM140 551h60v12h-60zM212 551h48v12h-48zM140 563h24v12h-24zM224 563h36v12h-36zM224 575h36v12h-36zM212 587h48v12h-48zM200 599h48v12h-48zM200 611h48v12h-48zM188 623h48v12h-48zM176 635h60v12h-60zM164 647h60v12h-60zM152 659h60v12h-60zM140 671h72v12h-72zM140 683h60v12h-60zM140 695h48v12h-48zM140 707h36v12h-36zM140 719h36v12h-36zM140 731h24v12h-24z"/><path fill="#e6e2f1" d="M332 215h48v12h-48zM416 215h60v12h-60zM584 215h72v12h-72zM332 227h36v12h-36zM428 227h48v12h-48zM596 227h60v12h-60zM332 239h36v12h-36zM428 239h36v12h-36zM608 239h48v12h-48zM332 251h24v12h-24zM440 251h24v12h-24zM608 251h48v12h-48zM332 263h24v12h-24zM440 263h24v12h-24zM608 263h48v12h-48zM332 275h24v12h-24zM440 275h24v12h-24zM620 275h36v12h-36zM332 287h24v12h-24zM440 287h24v12h-24zM620 287h36v12h-36zM332 299h12v12h-12zM440 299h24v12h-24zM620 299h24v12h-24zM716 299h12v12h-12zM332 311h12v12h-12zM452 311h12v12h-12zM620 311h24v12h-24zM704 311h48v12h-48zM332 323h12v12h-12zM452 323h12v12h-12zM620 323h24v12h-24zM692 323h60v12h-60zM332 335h24v12h-24zM452 335h12v12h-12zM620 335h12v12h-12zM692 335h72v12h-72zM344 347h12v12h-12zM452 347h12v12h-12zM620 347h12v12h-12zM680 347h24v12h-24zM740 347h24v12h-24zM344 359h12v12h-12zM452 359h12v12h-12zM620 359h24v12h-24zM680 359h24v12h-24zM740 359h24v12h-24zM344 371h12v12h-12zM440 371h12v12h-12zM632 371h12v12h-12zM668 371h24v12h-24zM752 371h12v12h-12zM344 383h24v12h-24zM428 383h24v12h-24zM644 383h36v12h-36zM752 383h12v12h-12zM356 395h36v12h-36zM404 395h36v12h-36zM752 395h12v12h-12zM368 407h48v12h-48zM752 407h12v12h-12zM752 419h12v12h-12zM752 431h12v12h-12zM752 443h24v12h-24zM764 455h24v12h-24zM956 455h12v12h-12zM800 467h168v12h-168zM200 551h12v12h-12zM164 563h60v12h-60zM140 575h84v12h-84zM140 587h72v12h-72zM140 599h60v12h-60zM140 611h60v12h-60zM140 623h48v12h-48zM140 635h36v12h-36zM140 647h24v12h-24zM140 659h12v12h-12z"/><path fill="#e0dcee" d="M380 215h36v12h-36zM656 215h96v12h-96zM368 227h60v12h-60zM656 227h108v12h-108zM368 239h60v12h-60zM656 239h108v12h-108zM356 251h84v12h-84zM656 251h120v12h-120zM356 263h84v12h-84zM656 263h120v12h-120zM356 275h36v12h-36zM404 275h36v12h-36zM656 275h120v12h-120zM356 287h24v12h-24zM416 287h24v12h-24zM656 287h132v12h-132zM344 299h24v12h-24zM428 299h12v12h-12zM644 299h72v12h-72zM728 299h60v12h-60zM344 311h24v12h-24zM428 311h24v12h-24zM644 311h60v12h-60zM752 311h36v12h-36zM344 323h24v12h-24zM428 323h24v12h-24zM644 323h48v12h-48zM752 323h36v12h-36zM356 335h12v12h-12zM440 335h12v12h-12zM632 335h60v12h-60zM764 335h24v12h-24zM356 347h12v12h-12zM440 347h12v12h-12zM632 347h48v12h-48zM764 347h24v12h-24zM356 359h24v12h-24zM428 359h24v12h-24zM644 359h36v12h-36zM764 359h12v12h-12zM356 371h24v12h-24zM428 371h12v12h-12zM644 371h24v12h-24zM764 371h12v12h-12zM368 383h60v12h-60zM764 383h12v12h-12zM392 395h12v12h-12zM764 395h12v12h-12zM764 407h12v12h-12zM764 419h12v12h-12zM764 431h12v12h-12zM776 443h12v12h-12zM920 443h48v12h-48zM788 455h168v12h-168z"/><path fill="#dad5eb" d="M752 215h84v12h-84zM764 227h84v12h-84zM764 239h84v12h-84zM776 251h72v12h-72zM776 263h60v12h-60zM392 275h12v12h-12zM776 275h60v12h-60zM380 287h36v12h-36zM788 287h48v12h-48zM368 299h60v12h-60zM788 299h36v12h-36zM368 311h60v12h-60zM788 311h36v12h-36zM368 323h60v12h-60zM788 323h24v12h-24zM368 335h72v12h-72zM788 335h24v12h-24zM368 347h72v12h-72zM788 347h24v12h-24zM380 359h48v12h-48zM776 359h24v12h-24zM380 371h48v12h-48zM776 371h24v12h-24zM776 383h12v12h-12zM776 395h12v12h-12zM776 407h12v12h-12zM956 407h12v12h-12zM776 419h12v12h-12zM932 419h36v12h-36zM776 431h24v12h-24zM908 431h60v12h-60zM788 443h36v12h-36zM860 443h60v12h-60z"/><path fill="#d5cfe8" d="M836 215h132v12h-132zM848 227h120v12h-120zM848 239h120v12h-120zM848 251h120v12h-120zM836 263h132v12h-132zM836 275h132v12h-132zM836 287h132v12h-132zM824 299h144v12h-144zM824 311h144v12h-144zM812 323h156v12h-156zM812 335h48v12h-48zM920 335h48v12h-48zM812 347h24v12h-24zM932 347h36v12h-36zM800 359h24v12h-24zM932 359h36v12h-36zM800 371h24v12h-24zM932 371h36v12h-36zM788 383h24v12h-24zM920 383h48v12h-48zM788 395h24v12h-24zM908 395h60v12h-60zM788 407h24v12h-24zM896 407h60v12h-60zM788 419h24v12h-24zM884 419h48v12h-48zM800 431h36v12h-36zM860 431h48v12h-48zM824 443h36v12h-36z"/><path fill="#cfc9e5" d="M860 335h60v12h-60zM836 347h96v12h-96zM824 359h108v12h-108zM824 371h108v12h-108zM812 383h108v12h-108zM812 395h96v12h-96zM812 407h84v12h-84zM812 419h72v12h-72zM836 431h24v12h-24z"/></g><path fill="none" stroke="rgba(100,100,100,0.45)" stroke-width="7.8" stroke-linejoin="round" stroke-linecap="round" d="M663.5 650L674 643.6L680 637L685 629L693.6 608L695.9 599L696.7 590L694 581L688.5 575L677 568.8L668 566.4L662 565.9L656 566.8L647 570.2L639.5 575L632 581.8L626 589.4L622.3 596L619.2 605L618.1 614L619.4 623L623 631.8L627.3 638L633.5 644L641 648.7L647 650.8L656 651.6L663.5 650M797.6 740L776 664.6L770.4 641L768.2 620L770.9 587L769.8 581L767 574.6L762.3 569L753.8 563L735.5 554L722 548.6L680 540.4L659 538.5L644 540.2L629 544.3L614 550.8L604.1 557L590.4 569L574.4 587L563.2 602L557 614L555.4 620L554.9 629L557.7 644L581 709.4L593.4 740M934.4 740L902 699.3L875 662.9L854 632.6L816.4 575L806.2 563L796.4 554L787.5 548L779 544.2L728 531.8L683 523.7L650 521.2L632 522.2L617 524.7L602 529.4L588.8 536L575.9 545L548 568.2L517.9 590L508.1 599L498.2 611L492.9 620L489.2 629L487 638L485.8 650L487 668L493.2 707L497.2 740M962 659.3L853.1 566L827.8 548L804.9 536L791 530.9L776.4 527L686 508.4L632 502.4L617 502.2L605 503.3L590 506.7L578 511.4L563 519.7L530 541.6L491 557.8L474.5 566L459.8 575L447.4 584L437.1 593L428.6 602L422.1 611L417.9 620L413.3 635L410.7 650L408.6 683L409.7 740M140 378.9L150.3 392L167.4 407L191 422L212 431.4L227 434.6L239 433.7L244.5 431L248 427.8L252 422L254.5 416L256.5 407L257.2 395L256.1 383L253.2 371L249.5 362L245 354.3L239 346.8L230 338.6L218 330.7L206 325L194 321.1L182 318.7L170 318.1L158 319.7L148.6 323L140 328.9M962 593.3L868.6 542L845 531.1L825.5 524L803 518.1L719.7 500L689 491.6L659 486.1L611 473.2L587 470.4L569 472.4L554 478.3L537.5 488L476 520.3L426 548L409.8 560L392.3 578L383 590.2L374 605L367.1 620L361.7 635L352.3 674L341.8 740M140 460.2L176 466.1L206 468.7L236 468L260 464.2L273.8 458L283 449L289 437L293.1 419L294.2 407L294.1 392L290.5 362L283.5 332L279.2 320L274.7 311L263 294L248 277.7L203 236.6L176.7 215M962 545.1L878.9 518L851 509.8L830 505.4L782 499.4L761.1 494L724.6 482L692 466.3L647 448.5L632 441.4L620 434.4L596 415.6L582.4 401L563 372.3L554 361.9L545 356.8L539 356.3L536 356.9L530 360.2L524 367.1L504.2 404L482 433.9L461.4 470L447.9 488L438.8 497L428 504.9L389 523.8L374.4 533L348.6 557L336.4 572L328 587L318.2 611L274.7 740M962 502.9L908 496.6L845 487.4L797 484.4L779 481.2L766.3 476L755.6 470L747.4 464L741.1 458L733.1 446L726.1 428L722 420.1L718.8 416L713 411.7L704 410.7L683 414.3L668 414.6L653 412.1L638 405.9L630.8 401L623 393.8L616.7 386L611.3 377L602.1 356L584.8 308L579 296L573.3 287L566 278.2L557 270.7L548 265.9L536 262.9L524 263.7L512 268.5L506 272.6L500 278.4L491.8 290L486.4 302L484.3 311L483.1 347L479.4 368L476 377L469.6 389L455 407.8L437 423.8L407 445.2L398 450L389 452.7L380 453.4L371 452.3L362 449.3L353 443.8L346.2 437L340.3 428L334.1 413L329.1 395L324.7 374L315.7 311L311.4 290L300.8 257L283.3 215M140 519.3L209 508.8L224 507.4L236 507.6L248 510.8L259.1 518L266.1 527L270.4 539L271.8 557L270 575L265.6 593L257 616L245 641.2L227 673.6L206 707.4L183.7 740M962 457.9L902 465.7L878 467.2L854 467.4L827 466.4L806.3 464L794 460.8L782 454.9L774.9 449L770 442.8L765.7 434L763.4 425L762.5 407L766 374L766.7 359L765.5 344L762.6 332L757.4 320L749 308.7L740 301.6L728 296.6L719 295.7L710 297.2L701.5 302L696.2 308L692.9 314L689.7 323L680 362L677 368.2L672.4 374L668 377.1L662 378.8L656 378.1L650 374.9L644.3 368L641.8 362L640 353L639.9 344L641.1 335L644 324.3L650 309.9L661.4 287L664.6 278L666.4 269L667.1 257L666.1 245L663.3 230L658.7 215M407 398.5L395 399.1L386 397.2L376.3 392L368 383.7L362 373.7L356.7 359L353 341L351.2 323L351.1 308L353.4 290L358.9 269L365 254.2L371 243.7L380 233L389 226.7L398 224.4L407 226.2L413 230.1L422 240.9L428 252.2L434 267.9L440 289.4L446 318.6L448.9 341L448.8 353L447.3 362L444.2 371L438.9 380L433.4 386L425 392.2L416 396.2L407 398.5M962 367.4L937.2 395L916.8 413L893.4 428L872 437.2L860 440.6L848 442.5L836 442.3L827 440.5L818 436.8L809.9 431L805.2 425L802.7 419L801.7 413L802 404L807.1 386L818 364.9L833 344.7L845 332.4L860 321L872 314.5L896 305.5L902.5 302L909.5 296L916 287L918.7 281L921.2 272L922.3 257L920.7 239L915.1 215"/></g><use href="#lines"/></g><g transform="translate(2212 1181.33)"><g clip-path="url(#clip)"><g filter="url(#b22)"><path fill="#b6726b" d="M572 599h24v12h-24zM572 611h12v12h-12zM524 707h12v12h-12zM500 719h48v12h-48zM500 731h60v12h-60z"/><path fill="#ba7871" d="M572 575h24v12h-24zM560 587h48v12h-48zM548 599h24v12h-24zM596 599h12v12h-12zM548 611h24v12h-24zM584 611h24v12h-24zM536 623h72v12h-72zM548 635h48v12h-48zM548 647h48v12h-48zM560 659h24v12h-24zM560 671h12v12h-12zM512 683h60v12h-60zM488 695h96v12h-96zM476 707h48v12h-48zM536 707h48v12h-48zM476 719h24v12h-24zM548 719h36v12h-36zM464 731h36v12h-36zM560 731h36v12h-36z"/><path fill="#bd7f77" d="M572 563h36v12h-36zM548 575h24v12h-24zM596 575h12v12h-12zM536 587h24v12h-24zM608 587h12v12h-12zM536 599h12v12h-12zM608 599h12v12h-12zM524 611h24v12h-24zM608 611h12v12h-12zM524 623h12v12h-12zM608 623h12v12h-12zM512 635h36v12h-36zM596 635h24v12h-24zM512 647h36v12h-36zM596 647h12v12h-12zM500 659h60v12h-60zM584 659h24v12h-24zM488 671h72v12h-72zM572 671h36v12h-36zM476 683h36v12h-36zM572 683h36v12h-36zM464 695h24v12h-24zM584 695h24v12h-24zM464 707h12v12h-12zM584 707h24v12h-24zM452 719h24v12h-24zM584 719h24v12h-24zM452 731h12v12h-12zM596 731h24v12h-24z"/><path fill="#c1857e" d="M572 551h36v12h-36zM548 563h24v12h-24zM608 563h12v12h-12zM536 575h12v12h-12zM608 575h12v12h-12zM524 587h12v12h-12zM524 599h12v12h-12zM512 611h12v12h-12zM500 623h24v12h-24zM500 635h12v12h-12zM488 647h24v12h-24zM608 647h12v12h-12zM476 659h24v12h-24zM608 659h12v12h-12zM464 671h24v12h-24zM608 671h12v12h-12zM452 683h24v12h-24zM608 683h12v12h-12zM452 695h12v12h-12zM608 695h12v12h-12zM440 707h24v12h-24zM608 707h24v12h-24zM428 719h24v12h-24zM608 719h24v12h-24zM428 731h24v12h-24zM620 731h12v12h-12z"/><path fill="#c58b84" d="M572 539h36v12h-36zM560 551h12v12h-12zM608 551h12v12h-12zM536 563h12v12h-12zM524 575h12v12h-12zM620 575h12v12h-12zM512 587h12v12h-12zM620 587h12v12h-12zM512 599h12v12h-12zM620 599h12v12h-12zM500 611h12v12h-12zM620 611h12v12h-12zM488 623h12v12h-12zM620 623h12v12h-12zM476 635h24v12h-24zM620 635h12v12h-12zM464 647h24v12h-24zM620 647h12v12h-12zM452 659h24v12h-24zM620 659h12v12h-12zM452 671h12v12h-12zM620 671h12v12h-12zM440 683h12v12h-12zM620 683h24v12h-24zM428 695h24v12h-24zM620 695h24v12h-24zM428 707h12v12h-12zM632 707h12v12h-12zM416 719h12v12h-12zM632 719h12v12h-12zM416 731h12v12h-12zM632 731h24v12h-24z"/><path fill="#c9928b" d="M584 527h12v12h-12zM560 539h12v12h-12zM608 539h12v12h-12zM548 551h12v12h-12zM620 551h12v12h-12zM524 563h12v12h-12zM620 563h12v12h-12zM512 575h12v12h-12zM500 587h12v12h-12zM488 599h24v12h-24zM632 599h12v12h-12zM488 611h12v12h-12zM632 611h12v12h-12zM476 623h12v12h-12zM632 623h12v12h-12zM464 635h12v12h-12zM632 635h12v12h-12zM452 647h12v12h-12zM632 647h12v12h-12zM440 659h12v12h-12zM632 659h12v12h-12zM428 671h24v12h-24zM632 671h12v12h-12zM428 683h12v12h-12zM644 683h12v12h-12zM416 695h12v12h-12zM644 695h12v12h-12zM404 707h24v12h-24zM644 707h12v12h-12zM404 719h12v12h-12zM644 719h24v12h-24zM392 731h24v12h-24zM656 731h12v12h-12z"/><path fill="#cc9892" d="M572 527h12v12h-12zM596 527h24v12h-24zM548 539h12v12h-12zM536 551h12v12h-12zM632 563h12v12h-12zM632 575h12v12h-12zM488 587h12v12h-12zM632 587h12v12h-12zM476 599h12v12h-12zM464 611h24v12h-24zM452 623h24v12h-24zM440 635h24v12h-24zM644 635h12v12h-12zM440 647h12v12h-12zM644 647h12v12h-12zM428 659h12v12h-12zM644 659h12v12h-12zM416 671h12v12h-12zM644 671h12v12h-12zM404 683h24v12h-24zM656 683h12v12h-12zM404 695h12v12h-12zM656 695h12v12h-12zM392 707h12v12h-12zM656 707h12v12h-12zM392 719h12v12h-12zM668 719h12v12h-12zM380 731h12v12h-12zM668 731h12v12h-12z"/><path fill="#d09e98" d="M572 515h36v12h-36zM560 527h12v12h-12zM536 539h12v12h-12zM620 539h12v12h-12zM524 551h12v12h-12zM632 551h12v12h-12zM512 563h12v12h-12zM500 575h12v12h-12zM476 587h12v12h-12zM644 587h12v12h-12zM464 599h12v12h-12zM644 599h12v12h-12zM452 611h12v12h-12zM644 611h12v12h-12zM440 623h12v12h-12zM644 623h12v12h-12zM428 635h12v12h-12zM416 647h24v12h-24zM656 647h12v12h-12zM416 659h12v12h-12zM656 659h12v12h-12zM404 671h12v12h-12zM656 671h12v12h-12zM392 683h12v12h-12zM668 683h12v12h-12zM392 695h12v12h-12zM668 695h12v12h-12zM380 707h12v12h-12zM668 707h24v12h-24zM380 719h12v12h-12zM680 719h12v12h-12zM368 731h12v12h-12zM680 731h24v12h-24z"/><path fill="#d3a59f" d="M560 515h12v12h-12zM608 515h12v12h-12zM548 527h12v12h-12zM620 527h12v12h-12zM524 539h12v12h-12zM632 539h12v12h-12zM512 551h12v12h-12zM500 563h12v12h-12zM644 563h12v12h-12zM488 575h12v12h-12zM644 575h12v12h-12zM464 587h12v12h-12zM452 599h12v12h-12zM440 611h12v12h-12zM656 611h12v12h-12zM428 623h12v12h-12zM656 623h12v12h-12zM416 635h12v12h-12zM656 635h12v12h-12zM404 647h12v12h-12zM668 647h12v12h-12zM392 659h24v12h-24zM668 659h12v12h-12zM392 671h12v12h-12zM668 671h12v12h-12zM380 683h12v12h-12zM680 683h12v12h-12zM380 695h12v12h-12zM680 695h12v12h-12zM368 707h12v12h-12zM692 707h12v12h-12zM368 719h12v12h-12zM692 719h12v12h-12zM356 731h12v12h-12zM704 731h12v12h-12z"/><path fill="#d7aba6" d="M572 503h48v12h-48zM548 515h12v12h-12zM620 515h12v12h-12zM536 527h12v12h-12zM632 527h12v12h-12zM500 551h12v12h-12zM644 551h12v12h-12zM488 563h12v12h-12zM476 575h12v12h-12zM656 575h12v12h-12zM452 587h12v12h-12zM656 587h12v12h-12zM440 599h12v12h-12zM656 599h12v12h-12zM428 611h12v12h-12zM416 623h12v12h-12zM668 623h12v12h-12zM404 635h12v12h-12zM668 635h12v12h-12zM392 647h12v12h-12zM680 647h12v12h-12zM380 659h12v12h-12zM680 659h12v12h-12zM380 671h12v12h-12zM680 671h24v12h-24zM368 683h12v12h-12zM692 683h12v12h-12zM368 695h12v12h-12zM692 695h24v12h-24zM356 707h12v12h-12zM704 707h12v12h-12zM356 719h12v12h-12zM704 719h24v12h-24zM344 731h12v12h-12zM716 731h24v12h-24z"/><path fill="#dab2ad" d="M584 491h24v12h-24zM560 503h12v12h-12zM524 527h12v12h-12zM512 539h12v12h-12zM644 539h12v12h-12zM656 551h12v12h-12zM476 563h12v12h-12zM656 563h12v12h-12zM464 575h12v12h-12zM440 587h12v12h-12zM668 587h12v12h-12zM428 599h12v12h-12zM668 599h12v12h-12zM416 611h12v12h-12zM668 611h12v12h-12zM404 623h12v12h-12zM680 623h12v12h-12zM392 635h12v12h-12zM680 635h12v12h-12zM380 647h12v12h-12zM692 647h12v12h-12zM368 659h12v12h-12zM692 659h12v12h-12zM368 671h12v12h-12zM704 671h12v12h-12zM356 683h12v12h-12zM704 683h24v12h-24zM356 695h12v12h-12zM716 695h12v12h-12zM344 707h12v12h-12zM716 707h24v12h-24zM344 719h12v12h-12zM728 719h24v12h-24zM332 731h12v12h-12zM740 731h12v12h-12z"/><path fill="#deb8b4" d="M572 491h12v12h-12zM608 491h12v12h-12zM548 503h12v12h-12zM620 503h12v12h-12zM536 515h12v12h-12zM632 515h12v12h-12zM644 527h12v12h-12zM500 539h12v12h-12zM656 539h12v12h-12zM488 551h12v12h-12zM464 563h12v12h-12zM668 563h12v12h-12zM452 575h12v12h-12zM668 575h12v12h-12zM428 587h12v12h-12zM680 587h12v12h-12zM416 599h12v12h-12zM680 599h12v12h-12zM404 611h12v12h-12zM680 611h12v12h-12zM392 623h12v12h-12zM692 623h12v12h-12zM380 635h12v12h-12zM692 635h24v12h-24zM368 647h12v12h-12zM704 647h12v12h-12zM356 659h12v12h-12zM704 659h24v12h-24zM356 671h12v12h-12zM716 671h24v12h-24zM344 683h12v12h-12zM728 683h12v12h-12zM344 695h12v12h-12zM728 695h24v12h-24zM332 707h12v12h-12zM740 707h24v12h-24zM332 719h12v12h-12zM752 719h12v12h-12zM320 731h12v12h-12zM752 731h24v12h-24z"/><path fill="#e1bfbb" d="M572 479h48v12h-48zM560 491h12v12h-12zM620 491h12v12h-12zM632 503h12v12h-12zM524 515h12v12h-12zM644 515h12v12h-12zM512 527h12v12h-12zM656 527h12v12h-12zM488 539h12v12h-12zM476 551h12v12h-12zM668 551h12v12h-12zM452 563h12v12h-12zM680 563h12v12h-12zM440 575h12v12h-12zM680 575h12v12h-12zM416 587h12v12h-12zM692 587h12v12h-12zM404 599h12v12h-12zM692 599h12v12h-12zM380 611h24v12h-24zM692 611h24v12h-24zM368 623h24v12h-24zM704 623h24v12h-24zM368 635h12v12h-12zM716 635h12v12h-12zM356 647h12v12h-12zM716 647h24v12h-24zM344 659h12v12h-12zM728 659h24v12h-24zM344 671h12v12h-12zM740 671h12v12h-12zM332 683h12v12h-12zM740 683h24v12h-24zM332 695h12v12h-12zM752 695h24v12h-24zM320 707h12v12h-12zM764 707h12v12h-12zM320 719h12v12h-12zM764 719h24v12h-24zM308 731h12v12h-12zM776 731h24v12h-24z"/><path fill="#e5c6c2" d="M584 467h24v12h-24zM620 479h12v12h-12zM548 491h12v12h-12zM536 503h12v12h-12zM500 527h12v12h-12zM668 539h12v12h-12zM464 551h12v12h-12zM680 551h12v12h-12zM440 563h12v12h-12zM692 563h12v12h-12zM416 575h24v12h-24zM692 575h24v12h-24zM404 587h12v12h-12zM704 587h24v12h-24zM380 599h24v12h-24zM704 599h36v12h-36zM368 611h12v12h-12zM716 611h36v12h-36zM356 623h12v12h-12zM728 623h36v12h-36zM356 635h12v12h-12zM728 635h36v12h-36zM344 647h12v12h-12zM740 647h36v12h-36zM752 659h24v12h-24zM332 671h12v12h-12zM752 671h36v12h-36zM320 683h12v12h-12zM764 683h24v12h-24zM320 695h12v12h-12zM776 695h24v12h-24zM308 707h12v12h-12zM776 707h36v12h-36zM308 719h12v12h-12zM788 719h36v12h-36zM296 731h12v12h-12zM800 731h36v12h-36z"/><path fill="#e8ccc9" d="M572 467h12v12h-12zM608 467h24v12h-24zM560 479h12v12h-12zM632 491h12v12h-12zM524 503h12v12h-12zM644 503h12v12h-12zM512 515h12v12h-12zM656 515h12v12h-12zM488 527h12v12h-12zM668 527h12v12h-12zM476 539h12v12h-12zM680 539h12v12h-12zM452 551h12v12h-12zM692 551h24v12h-24zM428 563h12v12h-12zM704 563h36v12h-36zM404 575h12v12h-12zM716 575h72v12h-72zM392 587h12v12h-12zM728 587h72v12h-72zM368 599h12v12h-12zM740 599h60v12h-60zM356 611h12v12h-12zM752 611h48v12h-48zM764 623h36v12h-36zM344 635h12v12h-12zM764 635h48v12h-48zM332 647h12v12h-12zM776 647h36v12h-36zM332 659h12v12h-12zM776 659h36v12h-36zM320 671h12v12h-12zM788 671h24v12h-24zM788 683h36v12h-36zM308 695h12v12h-12zM800 695h36v12h-36zM812 707h36v12h-36zM296 719h12v12h-12zM824 719h36v12h-36zM284 731h12v12h-12zM836 731h48v12h-48z"/><path fill="#ebd3d0" d="M584 455h48v12h-48zM560 467h12v12h-12zM548 479h12v12h-12zM632 479h12v12h-12zM536 491h12v12h-12zM644 491h12v12h-12zM656 503h12v12h-12zM500 515h12v12h-12zM668 515h12v12h-12zM680 527h12v12h-12zM464 539h12v12h-12zM692 539h24v12h-24zM440 551h12v12h-12zM716 551h72v12h-72zM416 563h12v12h-12zM740 563h72v12h-72zM392 575h12v12h-12zM788 575h24v12h-24zM368 587h24v12h-24zM800 587h24v12h-24zM356 599h12v12h-12zM800 599h24v12h-24zM344 611h12v12h-12zM800 611h36v12h-36zM344 623h12v12h-12zM800 623h36v12h-36zM332 635h12v12h-12zM812 635h24v12h-24zM320 647h12v12h-12zM812 647h36v12h-36zM320 659h12v12h-12zM812 659h36v12h-36zM308 671h12v12h-12zM812 671h48v12h-48zM308 683h12v12h-12zM824 683h48v12h-48zM296 695h12v12h-12zM836 695h48v12h-48zM296 707h12v12h-12zM848 707h48v12h-48zM284 719h12v12h-12zM860 719h48v12h-48zM884 731h48v12h-48z"/><path fill="#eedad7" d="M584 443h48v12h-48zM572 455h12v12h-12zM632 455h12v12h-12zM632 467h12v12h-12zM644 479h12v12h-12zM524 491h12v12h-12zM656 491h12v12h-12zM512 503h12v12h-12zM668 503h12v12h-12zM488 515h12v12h-12zM680 515h12v12h-12zM476 527h12v12h-12zM692 527h24v12h-24zM452 539h12v12h-12zM716 539h84v12h-84zM428 551h12v12h-12zM788 551h36v12h-36zM392 563h24v12h-24zM812 563h24v12h-24zM368 575h24v12h-24zM812 575h24v12h-24zM356 587h12v12h-12zM824 587h24v12h-24zM344 599h12v12h-12zM824 599h36v12h-36zM332 611h12v12h-12zM836 611h24v12h-24zM332 623h12v12h-12zM836 623h36v12h-36zM320 635h12v12h-12zM836 635h36v12h-36zM848 647h36v12h-36zM308 659h12v12h-12zM848 659h36v12h-36zM860 671h36v12h-36zM296 683h12v12h-12zM872 683h36v12h-36zM284 695h12v12h-12zM884 695h48v12h-48zM284 707h12v12h-12zM896 707h48v12h-48zM272 719h12v12h-12zM908 719h48v12h-48zM272 731h12v12h-12zM932 731h36v12h-36z"/><path fill="#f1e0de" d="M596 431h36v12h-36zM572 443h12v12h-12zM632 443h12v12h-12zM560 455h12v12h-12zM644 455h12v12h-12zM548 467h12v12h-12zM644 467h12v12h-12zM536 479h12v12h-12zM656 479h12v12h-12zM668 491h12v12h-12zM500 503h12v12h-12zM680 503h12v12h-12zM692 515h24v12h-24zM464 527h12v12h-12zM716 527h84v12h-84zM440 539h12v12h-12zM800 539h24v12h-24zM404 551h24v12h-24zM824 551h12v12h-12zM380 563h12v12h-12zM836 563h24v12h-24zM356 575h12v12h-12zM836 575h24v12h-24zM344 587h12v12h-12zM848 587h24v12h-24zM332 599h12v12h-12zM860 599h24v12h-24zM860 611h36v12h-36zM320 623h12v12h-12zM872 623h24v12h-24zM308 635h12v12h-12zM872 635h36v12h-36zM308 647h12v12h-12zM884 647h36v12h-36zM296 659h12v12h-12zM884 659h48v12h-48zM296 671h12v12h-12zM896 671h48v12h-48zM284 683h12v12h-12zM908 683h48v12h-48zM932 695h36v12h-36zM272 707h12v12h-12zM944 707h24v12h-24zM260 719h12v12h-12zM956 719h12v12h-12zM260 731h12v12h-12z"/><path fill="#f5e7e5" d="M596 419h48v12h-48zM584 431h12v12h-12zM632 431h24v12h-24zM560 443h12v12h-12zM644 443h12v12h-12zM548 455h12v12h-12zM656 455h12v12h-12zM536 467h12v12h-12zM656 467h12v12h-12zM524 479h12v12h-12zM668 479h12v12h-12zM512 491h12v12h-12zM680 491h12v12h-12zM692 503h24v12h-24zM476 515h12v12h-12zM716 515h60v12h-60zM452 527h12v12h-12zM800 527h24v12h-24zM416 539h24v12h-24zM824 539h24v12h-24zM392 551h12v12h-12zM836 551h24v12h-24zM356 563h24v12h-24zM860 563h24v12h-24zM344 575h12v12h-12zM860 575h24v12h-24zM332 587h12v12h-12zM872 587h24v12h-24zM320 599h12v12h-12zM884 599h24v12h-24zM320 611h12v12h-12zM896 611h24v12h-24zM308 623h12v12h-12zM896 623h36v12h-36zM908 635h36v12h-36zM296 647h12v12h-12zM920 647h36v12h-36zM932 659h36v12h-36zM284 671h12v12h-12zM944 671h24v12h-24zM272 683h12v12h-12zM956 683h12v12h-12zM272 695h12v12h-12zM260 707h12v12h-12zM248 719h12v12h-12zM248 731h12v12h-12z"/><path fill="#f8eeed" d="M608 407h48v12h-48zM584 419h12v12h-12zM644 419h24v12h-24zM572 431h12v12h-12zM656 431h12v12h-12zM656 443h24v12h-24zM668 455h12v12h-12zM668 467h24v12h-24zM680 479h12v12h-12zM500 491h12v12h-12zM692 491h24v12h-24zM488 503h12v12h-12zM716 503h48v12h-48zM464 515h12v12h-12zM776 515h48v12h-48zM440 527h12v12h-12zM824 527h36v12h-36zM404 539h12v12h-12zM848 539h24v12h-24zM368 551h24v12h-24zM860 551h36v12h-36zM344 563h12v12h-12zM884 563h24v12h-24zM332 575h12v12h-12zM884 575h36v12h-36zM320 587h12v12h-12zM896 587h36v12h-36zM908 599h36v12h-36zM308 611h12v12h-12zM920 611h36v12h-36zM296 623h12v12h-12zM932 623h36v12h-36zM296 635h12v12h-12zM944 635h24v12h-24zM284 647h12v12h-12zM956 647h12v12h-12zM284 659h12v12h-12zM272 671h12v12h-12zM260 695h12v12h-12zM248 707h12v12h-12zM236 719h12v12h-12zM236 731h12v12h-12z"/><path fill="#fbf5f4" d="M620 395h48v12h-48zM596 407h12v12h-12zM656 407h24v12h-24zM572 419h12v12h-12zM668 419h12v12h-12zM560 431h12v12h-12zM668 431h24v12h-24zM548 443h12v12h-12zM680 443h12v12h-12zM536 455h12v12h-12zM680 455h24v12h-24zM524 467h12v12h-12zM692 467h12v12h-12zM512 479h12v12h-12zM692 479h24v12h-24zM716 491h36v12h-36zM476 503h12v12h-12zM764 503h60v12h-60zM452 515h12v12h-12zM824 515h36v12h-36zM428 527h12v12h-12zM860 527h24v12h-24zM380 539h24v12h-24zM872 539h24v12h-24zM344 551h24v12h-24zM896 551h24v12h-24zM332 563h12v12h-12zM908 563h24v12h-24zM320 575h12v12h-12zM920 575h24v12h-24zM308 587h12v12h-12zM932 587h24v12h-24zM308 599h12v12h-12zM944 599h24v12h-24zM296 611h12v12h-12zM956 611h12v12h-12zM284 635h12v12h-12zM272 659h12v12h-12zM260 671h12v12h-12zM260 683h12v12h-12zM248 695h12v12h-12zM236 707h12v12h-12zM224 731h12v12h-12z"/><path fill="#fefcfb" d="M620 383h60v12h-60zM596 395h24v12h-24zM668 395h24v12h-24zM584 407h12v12h-12zM680 407h12v12h-12zM680 419h24v12h-24zM692 431h12v12h-12zM692 443h24v12h-24zM704 455h12v12h-12zM704 467h24v12h-24zM716 479h36v12h-36zM488 491h12v12h-12zM752 491h72v12h-72zM464 503h12v12h-12zM824 503h48v12h-48zM440 515h12v12h-12zM860 515h36v12h-36zM404 527h24v12h-24zM884 527h24v12h-24zM356 539h24v12h-24zM896 539h36v12h-36zM332 551h12v12h-12zM920 551h24v12h-24zM320 563h12v12h-12zM932 563h36v12h-36zM308 575h12v12h-12zM944 575h24v12h-24zM956 587h12v12h-12zM296 599h12v12h-12zM284 623h12v12h-12zM272 635h12v12h-12zM272 647h12v12h-12zM260 659h12v12h-12zM248 683h12v12h-12zM236 695h12v12h-12zM224 707h12v12h-12zM224 719h12v12h-12zM212 731h12v12h-12z"/><path fill="#fcfcfd" d="M308 275h24v12h-24zM296 287h36v12h-36zM296 299h36v12h-36zM632 371h48v12h-48zM608 383h12v12h-12zM680 383h12v12h-12zM692 395h12v12h-12zM572 407h12v12h-12zM692 407h24v12h-24zM560 419h12v12h-12zM704 419h12v12h-12zM548 431h12v12h-12zM704 431h24v12h-24zM536 443h12v12h-12zM716 443h12v12h-12zM524 455h12v12h-12zM716 455h24v12h-24zM512 467h12v12h-12zM728 467h24v12h-24zM500 479h12v12h-12zM752 479h60v12h-60zM476 491h12v12h-12zM824 491h48v12h-48zM872 503h36v12h-36zM428 515h12v12h-12zM896 515h24v12h-24zM380 527h24v12h-24zM908 527h36v12h-36zM332 539h24v12h-24zM932 539h24v12h-24zM320 551h12v12h-12zM944 551h24v12h-24zM308 563h12v12h-12zM296 575h12v12h-12zM296 587h12v12h-12zM284 599h12v12h-12zM284 611h12v12h-12zM272 623h12v12h-12zM260 647h12v12h-12zM248 659h12v12h-12zM248 671h12v12h-12zM236 683h12v12h-12zM224 695h12v12h-12zM212 707h12v12h-12zM200 719h24v12h-24zM200 731h12v12h-12z"/><path fill="#f7f5fa" d="M296 263h48v12h-48zM296 275h12v12h-12zM332 275h12v12h-12zM284 287h12v12h-12zM332 287h12v12h-12zM284 299h12v12h-12zM332 299h12v12h-12zM284 311h48v12h-48zM632 359h60v12h-60zM608 371h24v12h-24zM680 371h24v12h-24zM596 383h12v12h-12zM692 383h24v12h-24zM584 395h12v12h-12zM704 395h24v12h-24zM716 407h12v12h-12zM716 419h24v12h-24zM728 431h12v12h-12zM728 443h24v12h-24zM740 455h24v12h-24zM752 467h60v12h-60zM488 479h12v12h-12zM812 479h72v12h-72zM872 491h36v12h-36zM452 503h12v12h-12zM908 503h24v12h-24zM416 515h12v12h-12zM920 515h36v12h-36zM356 527h24v12h-24zM944 527h24v12h-24zM320 539h12v12h-12zM956 539h12v12h-12zM308 551h12v12h-12zM296 563h12v12h-12zM284 587h12v12h-12zM272 611h12v12h-12zM260 635h12v12h-12zM248 647h12v12h-12zM236 671h12v12h-12zM224 683h12v12h-12zM212 695h12v12h-12zM200 707h12v12h-12zM188 719h12v12h-12zM176 731h24v12h-24z"/><path fill="#f1eff7" d="M296 251h48v12h-48zM284 263h12v12h-12zM344 263h12v12h-12zM284 275h12v12h-12zM344 275h12v12h-12zM344 287h12v12h-12zM332 311h12v12h-12zM284 323h48v12h-48zM632 347h60v12h-60zM620 359h12v12h-12zM692 359h24v12h-24zM596 371h12v12h-12zM704 371h24v12h-24zM584 383h12v12h-12zM716 383h24v12h-24zM572 395h12v12h-12zM728 395h12v12h-12zM560 407h12v12h-12zM728 407h24v12h-24zM548 419h12v12h-12zM740 419h24v12h-24zM536 431h12v12h-12zM740 431h24v12h-24zM524 443h12v12h-12zM752 443h24v12h-24zM512 455h12v12h-12zM764 455h60v12h-60zM500 467h12v12h-12zM812 467h84v12h-84zM884 479h36v12h-36zM464 491h12v12h-12zM908 491h48v12h-48zM440 503h12v12h-12zM932 503h36v12h-36zM392 515h24v12h-24zM956 515h12v12h-12zM320 527h36v12h-36zM308 539h12v12h-12zM296 551h12v12h-12zM284 575h12v12h-12zM272 599h12v12h-12zM260 623h12v12h-12zM248 635h12v12h-12zM236 659h12v12h-12zM224 671h12v12h-12zM212 683h12v12h-12zM200 695h12v12h-12zM188 707h12v12h-12zM176 719h12v12h-12zM164 731h12v12h-12z"/><path fill="#ebe8f4" d="M296 239h48v12h-48zM284 251h12v12h-12zM344 251h12v12h-12zM272 275h12v12h-12zM272 287h12v12h-12zM272 299h12v12h-12zM344 299h12v12h-12zM272 311h12v12h-12zM272 323h12v12h-12zM284 335h36v12h-36zM644 335h60v12h-60zM620 347h12v12h-12zM692 347h36v12h-36zM608 359h12v12h-12zM716 359h24v12h-24zM728 371h24v12h-24zM740 383h24v12h-24zM740 395h36v12h-36zM548 407h12v12h-12zM752 407h24v12h-24zM536 419h12v12h-12zM764 419h24v12h-24zM764 431h36v12h-36zM776 443h72v12h-72zM824 455h84v12h-84zM896 467h48v12h-48zM476 479h12v12h-12zM920 479h48v12h-48zM452 491h12v12h-12zM956 491h12v12h-12zM428 503h12v12h-12zM332 515h60v12h-60zM308 527h12v12h-12zM296 539h12v12h-12zM284 551h12v12h-12zM284 563h12v12h-12zM272 587h12v12h-12zM260 611h12v12h-12zM248 623h12v12h-12zM236 647h12v12h-12zM224 659h12v12h-12zM212 671h12v12h-12zM200 683h12v12h-12zM188 695h12v12h-12zM176 707h12v12h-12zM164 719h12v12h-12zM152 731h12v12h-12z"/><path fill="#e6e2f1" d="M308 227h48v12h-48zM284 239h12v12h-12zM344 239h24v12h-24zM356 251h12v12h-12zM272 263h12v12h-12zM356 263h12v12h-12zM356 275h12v12h-12zM260 287h12v12h-12zM356 287h12v12h-12zM260 299h12v12h-12zM260 311h12v12h-12zM344 311h12v12h-12zM332 323h12v12h-12zM644 323h72v12h-72zM272 335h12v12h-12zM320 335h12v12h-12zM620 335h24v12h-24zM704 335h36v12h-36zM284 347h36v12h-36zM608 347h12v12h-12zM728 347h36v12h-36zM596 359h12v12h-12zM740 359h48v12h-48zM584 371h12v12h-12zM752 371h60v12h-60zM572 383h12v12h-12zM764 383h60v12h-60zM560 395h12v12h-12zM776 395h48v12h-48zM776 407h48v12h-48zM788 419h48v12h-48zM524 431h12v12h-12zM800 431h96v12h-96zM512 443h12v12h-12zM848 443h84v12h-84zM500 455h12v12h-12zM908 455h48v12h-48zM488 467h12v12h-12zM944 467h24v12h-24zM440 491h12v12h-12zM404 503h24v12h-24zM308 515h24v12h-24zM296 527h12v12h-12zM284 539h12v12h-12zM272 575h12v12h-12zM260 599h12v12h-12zM248 611h12v12h-12zM236 635h12v12h-12zM224 647h12v12h-12zM212 659h12v12h-12zM200 671h12v12h-12zM188 683h12v12h-12zM176 695h12v12h-12zM164 707h12v12h-12zM140 719h24v12h-24zM140 731h12v12h-12z"/><path fill="#e0dcee" d="M308 215h48v12h-48zM284 227h24v12h-24zM356 227h12v12h-12zM272 251h12v12h-12zM368 251h12v12h-12zM260 263h12v12h-12zM368 263h12v12h-12zM260 275h12v12h-12zM368 275h12v12h-12zM356 299h12v12h-12zM644 311h96v12h-96zM260 323h12v12h-12zM620 323h24v12h-24zM716 323h48v12h-48zM260 335h12v12h-12zM608 335h12v12h-12zM740 335h60v12h-60zM272 347h12v12h-12zM596 347h12v12h-12zM764 347h72v12h-72zM284 359h24v12h-24zM584 359h12v12h-12zM788 359h60v12h-60zM572 371h12v12h-12zM812 371h48v12h-48zM560 383h12v12h-12zM824 383h48v12h-48zM548 395h12v12h-12zM824 395h60v12h-60zM536 407h12v12h-12zM824 407h72v12h-72zM524 419h12v12h-12zM836 419h84v12h-84zM896 431h48v12h-48zM932 443h36v12h-36zM956 455h12v12h-12zM476 467h12v12h-12zM464 479h12v12h-12zM428 491h12v12h-12zM320 503h84v12h-84zM296 515h12v12h-12zM272 551h12v12h-12zM272 563h12v12h-12zM260 587h12v12h-12zM248 599h12v12h-12zM236 623h12v12h-12zM224 635h12v12h-12zM212 647h12v12h-12zM200 659h12v12h-12zM188 671h12v12h-12zM176 683h12v12h-12zM152 695h24v12h-24zM140 707h24v12h-24z"/><path fill="#dad5eb" d="M284 215h24v12h-24zM356 215h12v12h-12zM368 227h12v12h-12zM272 239h12v12h-12zM368 239h12v12h-12zM260 251h12v12h-12zM248 287h12v12h-12zM368 287h12v12h-12zM248 299h12v12h-12zM644 299h120v12h-120zM248 311h12v12h-12zM356 311h12v12h-12zM620 311h24v12h-24zM740 311h60v12h-60zM248 323h12v12h-12zM344 323h12v12h-12zM608 323h12v12h-12zM764 323h60v12h-60zM248 335h12v12h-12zM332 335h12v12h-12zM596 335h12v12h-12zM800 335h48v12h-48zM260 347h12v12h-12zM320 347h12v12h-12zM584 347h12v12h-12zM836 347h24v12h-24zM272 359h12v12h-12zM308 359h12v12h-12zM848 359h24v12h-24zM284 371h24v12h-24zM860 371h24v12h-24zM872 383h36v12h-36zM884 395h36v12h-36zM896 407h48v12h-48zM920 419h48v12h-48zM512 431h12v12h-12zM944 431h24v12h-24zM500 443h12v12h-12zM488 455h12v12h-12zM452 479h12v12h-12zM416 491h12v12h-12zM296 503h24v12h-24zM284 527h12v12h-12zM272 539h12v12h-12zM260 563h12v12h-12zM260 575h12v12h-12zM248 587h12v12h-12zM236 611h12v12h-12zM224 623h12v12h-12zM212 635h12v12h-12zM200 647h12v12h-12zM188 659h12v12h-12zM176 671h12v12h-12zM152 683h24v12h-24zM140 695h12v12h-12z"/><path fill="#d5cfe8" d="M272 215h12v12h-12zM368 215h12v12h-12zM272 227h12v12h-12zM380 227h12v12h-12zM260 239h12v12h-12zM380 239h12v12h-12zM380 251h12v12h-12zM248 263h12v12h-12zM380 263h12v12h-12zM248 275h12v12h-12zM380 275h12v12h-12zM680 275h60v12h-60zM644 287h144v12h-144zM236 299h12v12h-12zM368 299h12v12h-12zM632 299h12v12h-12zM764 299h48v12h-48zM236 311h12v12h-12zM608 311h12v12h-12zM800 311h36v12h-36zM596 323h12v12h-12zM824 323h36v12h-36zM344 335h12v12h-12zM848 335h24v12h-24zM248 347h12v12h-12zM332 347h12v12h-12zM860 347h24v12h-24zM260 359h12v12h-12zM320 359h12v12h-12zM572 359h12v12h-12zM872 359h36v12h-36zM260 371h24v12h-24zM308 371h12v12h-12zM560 371h12v12h-12zM884 371h36v12h-36zM284 383h12v12h-12zM548 383h12v12h-12zM908 383h24v12h-24zM536 395h12v12h-12zM920 395h36v12h-36zM524 407h12v12h-12zM944 407h24v12h-24zM512 419h12v12h-12zM464 467h12v12h-12zM440 479h12v12h-12zM296 491h120v12h-120zM284 515h12v12h-12zM272 527h12v12h-12zM260 551h12v12h-12zM248 575h12v12h-12zM236 599h12v12h-12zM224 611h12v12h-12zM212 623h12v12h-12zM200 635h12v12h-12zM188 647h12v12h-12zM164 659h24v12h-24zM152 671h24v12h-24zM140 683h12v12h-12z"/><path fill="#cfc9e5" d="M380 215h12v12h-12zM260 227h12v12h-12zM392 227h12v12h-12zM392 239h12v12h-12zM248 251h12v12h-12zM392 251h12v12h-12zM392 263h12v12h-12zM668 263h96v12h-96zM236 275h12v12h-12zM644 275h36v12h-36zM740 275h60v12h-60zM236 287h12v12h-12zM380 287h12v12h-12zM620 287h24v12h-24zM788 287h36v12h-36zM608 299h24v12h-24zM812 299h36v12h-36zM368 311h12v12h-12zM596 311h12v12h-12zM836 311h36v12h-36zM236 323h12v12h-12zM356 323h12v12h-12zM860 323h24v12h-24zM236 335h12v12h-12zM584 335h12v12h-12zM872 335h24v12h-24zM236 347h12v12h-12zM572 347h12v12h-12zM884 347h36v12h-36zM248 359h12v12h-12zM908 359h24v12h-24zM248 371h12v12h-12zM920 371h36v12h-36zM260 383h24v12h-24zM296 383h12v12h-12zM932 383h36v12h-36zM956 395h12v12h-12zM500 431h12v12h-12zM488 443h12v12h-12zM476 455h12v12h-12zM308 479h24v12h-24zM428 479h12v12h-12zM284 491h12v12h-12zM284 503h12v12h-12zM272 515h12v12h-12zM260 539h12v12h-12zM248 563h12v12h-12zM236 587h12v12h-12zM224 599h12v12h-12zM212 611h12v12h-12zM200 623h12v12h-12zM188 635h12v12h-12zM164 647h24v12h-24zM152 659h12v12h-12zM140 671h12v12h-12z"/><path fill="#cac3e2" d="M260 215h12v12h-12zM392 215h12v12h-12zM248 227h12v12h-12zM248 239h12v12h-12zM236 251h12v12h-12zM668 251h108v12h-108zM236 263h12v12h-12zM644 263h24v12h-24zM764 263h48v12h-48zM392 275h12v12h-12zM620 275h24v12h-24zM800 275h36v12h-36zM224 287h12v12h-12zM608 287h12v12h-12zM824 287h36v12h-36zM224 299h12v12h-12zM380 299h12v12h-12zM596 299h12v12h-12zM848 299h24v12h-24zM224 311h12v12h-12zM872 311h24v12h-24zM224 323h12v12h-12zM584 323h12v12h-12zM884 323h24v12h-24zM224 335h12v12h-12zM572 335h12v12h-12zM896 335h36v12h-36zM224 347h12v12h-12zM344 347h12v12h-12zM920 347h24v12h-24zM236 359h12v12h-12zM332 359h12v12h-12zM560 359h12v12h-12zM932 359h36v12h-36zM236 371h12v12h-12zM320 371h12v12h-12zM548 371h12v12h-12zM956 371h12v12h-12zM248 383h12v12h-12zM308 383h12v12h-12zM536 383h12v12h-12zM260 395h48v12h-48zM524 395h12v12h-12zM272 407h24v12h-24zM512 407h12v12h-12zM296 467h24v12h-24zM452 467h12v12h-12zM284 479h24v12h-24zM332 479h36v12h-36zM416 479h12v12h-12zM272 503h12v12h-12zM260 527h12v12h-12zM248 551h12v12h-12zM236 575h12v12h-12zM224 587h12v12h-12zM212 599h12v12h-12zM200 611h12v12h-12zM176 623h24v12h-24zM164 635h24v12h-24zM152 647h12v12h-12zM140 659h12v12h-12z"/><path fill="#c4bddf" d="M248 215h12v12h-12zM404 215h12v12h-12zM236 227h12v12h-12zM404 227h12v12h-12zM692 227h60v12h-60zM236 239h12v12h-12zM404 239h12v12h-12zM656 239h144v12h-144zM404 251h12v12h-12zM632 251h36v12h-36zM776 251h48v12h-48zM224 263h12v12h-12zM404 263h12v12h-12zM620 263h24v12h-24zM812 263h36v12h-36zM224 275h12v12h-12zM608 275h12v12h-12zM836 275h36v12h-36zM212 287h12v12h-12zM392 287h12v12h-12zM596 287h12v12h-12zM860 287h24v12h-24zM212 299h12v12h-12zM872 299h24v12h-24zM212 311h12v12h-12zM380 311h12v12h-12zM584 311h12v12h-12zM896 311h24v12h-24zM212 323h12v12h-12zM368 323h12v12h-12zM572 323h12v12h-12zM908 323h36v12h-36zM212 335h12v12h-12zM356 335h12v12h-12zM932 335h36v12h-36zM212 347h12v12h-12zM560 347h12v12h-12zM944 347h24v12h-24zM212 359h24v12h-24zM548 359h12v12h-12zM212 371h24v12h-24zM224 383h24v12h-24zM320 383h12v12h-12zM236 395h24v12h-24zM308 395h12v12h-12zM248 407h24v12h-24zM296 407h12v12h-12zM260 419h48v12h-48zM500 419h12v12h-12zM284 431h12v12h-12zM488 431h12v12h-12zM476 443h12v12h-12zM284 455h36v12h-36zM464 455h12v12h-12zM284 467h12v12h-12zM320 467h24v12h-24zM440 467h12v12h-12zM272 479h12v12h-12zM368 479h48v12h-48zM272 491h12v12h-12zM260 515h12v12h-12zM248 539h12v12h-12zM236 563h12v12h-12zM224 575h12v12h-12zM212 587h12v12h-12zM200 599h12v12h-12zM176 611h24v12h-24zM164 623h12v12h-12zM140 635h24v12h-24zM140 647h12v12h-12z"/><path fill="#beb6dc" d="M236 215h12v12h-12zM416 215h12v12h-12zM680 215h96v12h-96zM416 227h12v12h-12zM644 227h48v12h-48zM752 227h60v12h-60zM224 239h12v12h-12zM416 239h12v12h-12zM632 239h24v12h-24zM800 239h36v12h-36zM224 251h12v12h-12zM416 251h12v12h-12zM620 251h12v12h-12zM824 251h36v12h-36zM212 263h12v12h-12zM608 263h12v12h-12zM848 263h36v12h-36zM212 275h12v12h-12zM404 275h12v12h-12zM596 275h12v12h-12zM872 275h24v12h-24zM200 287h12v12h-12zM404 287h12v12h-12zM584 287h12v12h-12zM884 287h24v12h-24zM200 299h12v12h-12zM392 299h12v12h-12zM584 299h12v12h-12zM896 299h36v12h-36zM200 311h12v12h-12zM572 311h12v12h-12zM920 311h36v12h-36zM188 323h24v12h-24zM944 323h24v12h-24zM188 335h24v12h-24zM560 335h12v12h-12zM188 347h24v12h-24zM176 359h36v12h-36zM344 359h12v12h-12zM164 371h48v12h-48zM332 371h12v12h-12zM536 371h12v12h-12zM164 383h60v12h-60zM524 383h12v12h-12zM152 395h84v12h-84zM320 395h12v12h-12zM512 395h12v12h-12zM152 407h96v12h-96zM308 407h12v12h-12zM500 407h12v12h-12zM152 419h108v12h-108zM308 419h12v12h-12zM164 431h36v12h-36zM248 431h36v12h-36zM296 431h24v12h-24zM260 443h60v12h-60zM260 455h24v12h-24zM320 455h12v12h-12zM272 467h12v12h-12zM344 467h12v12h-12zM428 467h12v12h-12zM260 479h12v12h-12zM260 491h12v12h-12zM260 503h12v12h-12zM248 515h12v12h-12zM248 527h12v12h-12zM236 551h12v12h-12zM224 563h12v12h-12zM212 575h12v12h-12zM200 587h12v12h-12zM176 599h24v12h-24zM152 611h24v12h-24zM140 623h24v12h-24z"/><path fill="#b9b0d9" d="M224 215h12v12h-12zM428 215h12v12h-12zM632 215h48v12h-48zM776 215h60v12h-60zM224 227h12v12h-12zM428 227h12v12h-12zM620 227h24v12h-24zM812 227h48v12h-48zM212 239h12v12h-12zM428 239h12v12h-12zM608 239h24v12h-24zM836 239h36v12h-36zM212 251h12v12h-12zM596 251h24v12h-24zM860 251h36v12h-36zM200 263h12v12h-12zM416 263h12v12h-12zM596 263h12v12h-12zM884 263h24v12h-24zM200 275h12v12h-12zM416 275h12v12h-12zM584 275h12v12h-12zM896 275h36v12h-36zM188 287h12v12h-12zM908 287h48v12h-48zM188 299h12v12h-12zM572 299h12v12h-12zM932 299h36v12h-36zM176 311h24v12h-24zM392 311h12v12h-12zM956 311h12v12h-12zM176 323h12v12h-12zM380 323h12v12h-12zM560 323h12v12h-12zM164 335h24v12h-24zM368 335h12v12h-12zM152 347h36v12h-36zM356 347h12v12h-12zM548 347h12v12h-12zM152 359h24v12h-24zM536 359h12v12h-12zM140 371h24v12h-24zM524 371h12v12h-12zM140 383h24v12h-24zM332 383h12v12h-12zM140 395h12v12h-12zM140 407h12v12h-12zM320 407h12v12h-12zM140 419h12v12h-12zM320 419h12v12h-12zM488 419h12v12h-12zM140 431h24v12h-24zM200 431h48v12h-48zM320 431h12v12h-12zM476 431h12v12h-12zM140 443h120v12h-120zM320 443h12v12h-12zM464 443h12v12h-12zM248 455h12v12h-12zM332 455h12v12h-12zM452 455h12v12h-12zM248 467h24v12h-24zM356 467h24v12h-24zM416 467h12v12h-12zM248 491h12v12h-12zM248 503h12v12h-12zM236 527h12v12h-12zM236 539h12v12h-12zM224 551h12v12h-12zM212 563h12v12h-12zM200 575h12v12h-12zM176 587h24v12h-24zM152 599h24v12h-24zM140 611h12v12h-12z"/><path fill="#b3aad6" d="M212 215h12v12h-12zM440 215h12v12h-12zM608 215h24v12h-24zM836 215h36v12h-36zM200 227h24v12h-24zM440 227h12v12h-12zM596 227h24v12h-24zM860 227h36v12h-36zM200 239h12v12h-12zM596 239h12v12h-12zM872 239h36v12h-36zM188 251h24v12h-24zM428 251h12v12h-12zM584 251h12v12h-12zM896 251h36v12h-36zM188 263h12v12h-12zM428 263h12v12h-12zM584 263h12v12h-12zM908 263h48v12h-48zM176 275h24v12h-24zM572 275h12v12h-12zM932 275h36v12h-36zM176 287h12v12h-12zM416 287h12v12h-12zM572 287h12v12h-12zM956 287h12v12h-12zM164 299h24v12h-24zM404 299h12v12h-12zM560 299h12v12h-12zM152 311h24v12h-24zM560 311h12v12h-12zM152 323h24v12h-24zM548 323h12v12h-12zM140 335h24v12h-24zM548 335h12v12h-12zM140 347h12v12h-12zM536 347h12v12h-12zM140 359h12v12h-12zM344 371h12v12h-12zM512 383h12v12h-12zM332 395h12v12h-12zM500 395h12v12h-12zM332 443h12v12h-12zM140 455h108v12h-108zM344 455h12v12h-12zM440 455h12v12h-12zM140 467h60v12h-60zM236 467h12v12h-12zM380 467h36v12h-36zM236 479h24v12h-24zM236 503h12v12h-12zM236 515h12v12h-12zM224 527h12v12h-12zM224 539h12v12h-12zM212 551h12v12h-12zM188 563h24v12h-24zM164 575h36v12h-36zM140 587h36v12h-36zM140 599h12v12h-12z"/><path fill="#aea4d3" d="M200 215h12v12h-12zM452 215h12v12h-12zM584 215h24v12h-24zM872 215h36v12h-36zM188 227h12v12h-12zM452 227h12v12h-12zM584 227h12v12h-12zM896 227h36v12h-36zM188 239h12v12h-12zM440 239h12v12h-12zM572 239h24v12h-24zM908 239h48v12h-48zM176 251h12v12h-12zM440 251h12v12h-12zM572 251h12v12h-12zM932 251h36v12h-36zM164 263h24v12h-24zM572 263h12v12h-12zM956 263h12v12h-12zM164 275h12v12h-12zM428 275h12v12h-12zM560 275h12v12h-12zM152 287h24v12h-24zM560 287h12v12h-12zM140 299h24v12h-24zM416 299h12v12h-12zM140 311h12v12h-12zM404 311h12v12h-12zM548 311h12v12h-12zM140 323h12v12h-12zM392 323h12v12h-12zM380 335h12v12h-12zM536 335h12v12h-12zM368 347h12v12h-12zM356 359h12v12h-12zM524 359h12v12h-12zM512 371h12v12h-12zM344 383h12v12h-12zM500 383h12v12h-12zM332 407h12v12h-12zM488 407h12v12h-12zM332 419h12v12h-12zM476 419h12v12h-12zM332 431h12v12h-12zM344 443h12v12h-12zM452 443h12v12h-12zM356 455h24v12h-24zM428 455h12v12h-12zM200 467h36v12h-36zM140 479h96v12h-96zM140 491h48v12h-48zM212 491h36v12h-36zM224 503h12v12h-12zM212 515h24v12h-24zM212 527h12v12h-12zM188 539h36v12h-36zM164 551h48v12h-48zM140 563h48v12h-48zM140 575h24v12h-24z"/><path fill="#a89ed0" d="M176 215h24v12h-24zM464 215h24v12h-24zM560 215h24v12h-24zM908 215h48v12h-48zM176 227h12v12h-12zM464 227h12v12h-12zM560 227h24v12h-24zM932 227h36v12h-36zM164 239h24v12h-24zM452 239h12v12h-12zM560 239h12v12h-12zM956 239h12v12h-12zM152 251h24v12h-24zM452 251h12v12h-12zM560 251h12v12h-12zM152 263h12v12h-12zM440 263h12v12h-12zM548 263h24v12h-24zM140 275h24v12h-24zM548 275h12v12h-12zM140 287h12v12h-12zM428 287h12v12h-12zM548 287h12v12h-12zM548 299h12v12h-12zM536 323h12v12h-12zM524 347h12v12h-12zM512 359h12v12h-12zM356 371h12v12h-12zM344 395h12v12h-12zM488 395h12v12h-12zM344 431h12v12h-12zM464 431h12v12h-12zM356 443h12v12h-12zM380 455h24v12h-24zM416 455h12v12h-12zM188 491h24v12h-24zM140 503h84v12h-84zM140 515h72v12h-72zM140 527h72v12h-72zM140 539h48v12h-48zM140 551h24v12h-24z"/><path fill="#a298cc" d="M152 215h24v12h-24zM488 215h72v12h-72zM956 215h12v12h-12zM152 227h24v12h-24zM476 227h24v12h-24zM524 227h36v12h-36zM140 239h24v12h-24zM464 239h24v12h-24zM536 239h24v12h-24zM140 251h12v12h-12zM464 251h12v12h-12zM536 251h24v12h-24zM140 263h12v12h-12zM452 263h12v12h-12zM536 263h12v12h-12zM440 275h12v12h-12zM536 275h12v12h-12zM536 287h12v12h-12zM428 299h12v12h-12zM536 299h12v12h-12zM416 311h12v12h-12zM536 311h12v12h-12zM404 323h12v12h-12zM524 323h12v12h-12zM392 335h12v12h-12zM524 335h12v12h-12zM380 347h12v12h-12zM512 347h12v12h-12zM368 359h12v12h-12zM500 371h12v12h-12zM488 383h12v12h-12zM344 407h12v12h-12zM476 407h12v12h-12zM344 419h12v12h-12zM368 443h12v12h-12zM440 443h12v12h-12zM404 455h12v12h-12z"/><path fill="#9d92c9" d="M140 215h12v12h-12zM140 227h12v12h-12zM500 227h24v12h-24zM488 239h48v12h-48zM476 251h60v12h-60zM464 263h12v12h-12zM524 263h12v12h-12zM452 275h12v12h-12zM524 275h12v12h-12zM440 287h12v12h-12zM524 287h12v12h-12zM440 299h12v12h-12zM524 299h12v12h-12zM428 311h12v12h-12zM524 311h12v12h-12zM416 323h12v12h-12zM512 335h12v12h-12zM500 359h12v12h-12zM368 371h12v12h-12zM488 371h12v12h-12zM356 383h12v12h-12zM356 395h12v12h-12zM476 395h12v12h-12zM464 419h12v12h-12zM356 431h12v12h-12zM452 431h12v12h-12zM380 443h12v12h-12zM428 443h12v12h-12z"/><path fill="#978dc6" d="M476 263h48v12h-48zM464 275h24v12h-24zM500 275h24v12h-24zM452 287h12v12h-12zM512 287h12v12h-12zM512 299h12v12h-12zM440 311h12v12h-12zM512 311h12v12h-12zM512 323h12v12h-12zM404 335h12v12h-12zM500 335h12v12h-12zM392 347h12v12h-12zM500 347h12v12h-12zM380 359h12v12h-12zM488 359h12v12h-12zM476 383h12v12h-12zM356 407h12v12h-12zM464 407h12v12h-12zM356 419h12v12h-12zM368 431h12v12h-12zM392 443h36v12h-36z"/><path fill="#9187c3" d="M488 275h12v12h-12zM464 287h48v12h-48zM452 299h24v12h-24zM500 299h12v12h-12zM452 311h12v12h-12zM500 311h12v12h-12zM428 323h12v12h-12zM500 323h12v12h-12zM416 335h12v12h-12zM488 335h12v12h-12zM488 347h12v12h-12zM476 359h12v12h-12zM476 371h12v12h-12zM368 383h12v12h-12zM368 395h12v12h-12zM368 419h12v12h-12zM452 419h12v12h-12zM380 431h12v12h-12zM440 431h12v12h-12z"/><path fill="#8c81c0" d="M476 299h24v12h-24zM464 311h36v12h-36zM440 323h60v12h-60zM428 335h12v12h-12zM476 335h12v12h-12zM404 347h12v12h-12zM476 347h12v12h-12zM392 359h12v12h-12zM380 371h12v12h-12zM464 371h12v12h-12zM464 383h12v12h-12zM464 395h12v12h-12zM368 407h12v12h-12zM392 431h12v12h-12zM428 431h12v12h-12z"/><path fill="#867bbd" d="M440 335h36v12h-36zM416 347h12v12h-12zM452 347h24v12h-24zM404 359h12v12h-12zM464 359h12v12h-12zM392 371h12v12h-12zM380 383h12v12h-12zM380 395h12v12h-12zM380 407h12v12h-12zM452 407h12v12h-12zM380 419h12v12h-12zM440 419h12v12h-12zM404 431h24v12h-24z"/><path fill="#8075ba" d="M428 347h24v12h-24zM452 359h12v12h-12zM452 371h12v12h-12zM452 383h12v12h-12zM452 395h12v12h-12zM392 419h12v12h-12zM428 419h12v12h-12z"/><path fill="#7a70b7" d="M416 359h36v12h-36zM404 371h12v12h-12zM440 371h12v12h-12zM392 383h12v12h-12zM392 395h12v12h-12zM392 407h12v12h-12zM440 407h12v12h-12zM404 419h24v12h-24z"/><path fill="#746ab4" d="M416 371h24v12h-24zM404 383h12v12h-12zM440 383h12v12h-12zM404 395h12v12h-12zM440 395h12v12h-12zM404 407h36v12h-36z"/><path fill="#6e65b1" d="M416 383h24v12h-24zM416 395h24v12h-24z"/></g><path fill="none" stroke="rgba(100,100,100,0.45)" stroke-width="7.8" stroke-linejoin="round" stroke-linecap="round" d="M611.5 740L604.2 707L602.8 686L604.6 671L614.4 629L615.8 614L615.1 602L611 585L605 572.9L602 568.9L596 564.1L593 562.9L587 562.4L581 563.5L575 565.9L565.1 572L551.4 584L541 596L533.1 608L528.9 617L520.2 647L515.9 656L510.6 662L488 681.4L475.4 695L461 715.6L448.3 740M722.4 740L698 696.6L677 650.5L664.4 614L659.8 587L656.8 575L647.8 554L635.7 536L620 519.6L611 513.1L605 510.2L599 508.4L593 508L584 509.4L575 512.8L563 519.4L551 527.5L459.4 599L425 629L405.6 650L389 672.9L372.8 701L353.7 740M914.7 740L887.7 722L866 705.5L851 692L838.4 677L833.3 668L830 658.7L822.6 617L817.2 599L809 583L797.3 569L788 561.8L779 557.7L773 556.7L749 557.1L737 556.1L722 551.7L707 544.2L686 529.4L659 506.4L650 496.6L635 474.7L626 464.4L617 458.5L611 456.5L605 455.9L593 458L578 465.2L566 473.8L533 501.3L488 532.7L461 548.4L395.9 581L381.3 590L368 600.2L353 615.8L339.6 635L280.7 740M962 568.8L930.4 545L908.4 530L887 517.5L866 507.7L848 501.4L833 498.1L776 492.9L758 487.6L739.3 479L728 470.8L719.5 461L714.4 452L699.5 419L691.9 407L681.6 395L671 386.8L662 382.9L653 381.7L641 383.3L629 387.1L614 393.9L587 410.7L559 434L526.7 467L513.6 479L494 493.9L473 507.1L452 517.6L431 525.6L347 549.2L335 554.4L326 560.2L317.1 569L311.1 578L283 632L260 669.4L236 702.7L205.5 740M304.8 215L296 221.2L287 229.8L279.6 239L272 251L264.3 266L258.3 281L255.1 293L253.6 305L253.6 317L255.2 329L258.9 341L263.2 350L271.1 362L278 369.2L286.1 374L293 375.6L302 374.4L308 371.2L317 364.1L329 352.6L347 334.2L359.3 320L367.6 308L373.6 296L377.5 284L379.6 272L379.9 260L378.9 251L375.6 239L371.3 230L365 221.5L357.5 215M962 435.4L920 415.5L896 401.3L882 389L862.4 365L854 356.6L842 347.9L827 340.6L746 312.3L716 304.3L701 302.3L686 302.1L671 303.8L656 307.7L644 312.7L635 317.5L623 325.8L614 333.4L599 348.4L565.2 386L533 418.5L500 454.6L482.4 470L464.4 482L452 488.4L440 493.2L410 501.1L380 504.5L326 504.7L314 507.5L305 512.5L296 521L287 533.3L260.1 587L248.3 605L236 621L218 641.1L194 664.4L170 685.3L140 709.2M228.9 215L218 242.4L198.7 281L176 330.5L167 345.9L146.4 374L140 384.3M653 215L638 223.6L626 232.5L614 243.8L605 254.3L596 266.7L587 281.3L559.5 335L543.4 362L536.6 371L515 395.6L489.5 428L472.9 446L461.9 455L452 461.4L440 467.1L428 471L413 473.9L398 474.9L383 474L371 471.7L359 467.8L347 462.1L337.1 455L331.3 449L327.4 443L324.6 434L324.3 428L325.7 419L328.6 410L334.2 398L350.8 371L362.8 356L401.3 314L413.7 296L421.9 278L429 257L434.2 236L437.1 215M962 301.9L941 291.6L923 281.5L875 249.4L854 236.6L830 224.4L807.1 215M140 440.8L145 446L152 450.9L161 454.5L170 456.2L179 456.2L188 454.8L221 445.8L230 445.8L236 447.3L245 452.8L251 459.9L255.2 470L256.7 482L254.1 500L245 527.6L237.9 545L230 556L215 569.9L194 584.6L170 598.3L140 613M422 446.4L407 447.1L395 444.9L383 439.6L374 431.8L368.9 422L367.7 413L369.4 401L373.7 389L382.8 374L393.2 362L407 349.6L442.1 323L470 292.6L479 286.3L485 283.7L494 282.6L500 284.2L506 289L509.8 296L511.5 305L510.6 317L508 326L504.1 335L485.7 368L478 392L473 404L463.8 419L452 431.7L437 441.5L422 446.4M431 402L428 403.6L425 404L420.7 401L420 398L420.8 395L423.1 392L428 390.1L432 392L433.7 395L433.7 398L431 402"/></g><use href="#lines"/></g><text x="3554.5" y="430" font-size="80" font-weight="bold" fill="#000">% change</text><text x="3554.5" y="516" font-size="80" font-weight="bold" fill="#000" xml:space="preserve"> in $/gram</text><linearGradient id="lg" x1="0" y1="0" x2="0" y2="1"><stop offset="0.0000" stop-color="#4b47a0"/><stop offset="0.0167" stop-color="#514ba2"/><stop offset="0.0333" stop-color="#5750a5"/><stop offset="0.0500" stop-color="#5c55a8"/><stop offset="0.0667" stop-color="#6259aa"/><stop offset="0.0833" stop-color="#685ead"/><stop offset="0.1000" stop-color="#6d63b0"/><stop offset="0.1167" stop-color="#7268b3"/><stop offset="0.1333" stop-color="#786eb6"/><stop offset="0.1500" stop-color="#7d73b9"/><stop offset="0.1667" stop-color="#8378bb"/><stop offset="0.1833" stop-color="#887ebe"/><stop offset="0.2000" stop-color="#8e83c1"/><stop offset="0.2167" stop-color="#9389c4"/><stop offset="0.2333" stop-color="#998fc7"/><stop offset="0.2500" stop-color="#9f95ca"/><stop offset="0.2667" stop-color="#a49bce"/><stop offset="0.2833" stop-color="#aaa1d1"/><stop offset="0.3000" stop-color="#b0a7d4"/><stop offset="0.3167" stop-color="#b6add7"/><stop offset="0.3333" stop-color="#bcb4db"/><stop offset="0.3500" stop-color="#c3bbde"/><stop offset="0.3667" stop-color="#c9c2e2"/><stop offset="0.3833" stop-color="#d0c9e5"/><stop offset="0.4000" stop-color="#d6d1e9"/><stop offset="0.4167" stop-color="#ded9ed"/><stop offset="0.4333" stop-color="#e5e2f1"/><stop offset="0.4500" stop-color="#eeebf6"/><stop offset="0.4667" stop-color="#f7f6fb"/><stop offset="0.4833" stop-color="#fcf8f7"/><stop offset="0.5000" stop-color="#f7eceb"/><stop offset="0.5167" stop-color="#f2e2e0"/><stop offset="0.5333" stop-color="#eed9d6"/><stop offset="0.5500" stop-color="#ead0cd"/><stop offset="0.5667" stop-color="#e6c8c4"/><stop offset="0.5833" stop-color="#e2c0bb"/><stop offset="0.6000" stop-color="#deb8b3"/><stop offset="0.6167" stop-color="#dab1ac"/><stop offset="0.6333" stop-color="#d6aaa4"/><stop offset="0.6500" stop-color="#d2a39d"/><stop offset="0.6667" stop-color="#ce9c96"/><stop offset="0.6833" stop-color="#cb958f"/><stop offset="0.7000" stop-color="#c78f88"/><stop offset="0.7167" stop-color="#c38881"/><stop offset="0.7333" stop-color="#c0827b"/><stop offset="0.7500" stop-color="#bc7c75"/><stop offset="0.7667" stop-color="#b8766f"/><stop offset="0.7833" stop-color="#b47069"/><stop offset="0.8000" stop-color="#b16a63"/><stop offset="0.8167" stop-color="#ad645d"/><stop offset="0.8333" stop-color="#a95e57"/><stop offset="0.8500" stop-color="#a55852"/><stop offset="0.8667" stop-color="#a2534c"/><stop offset="0.8833" stop-color="#9e4d47"/><stop offset="0.9000" stop-color="#9a4741"/><stop offset="0.9167" stop-color="#96423c"/><stop offset="0.9333" stop-color="#923c37"/><stop offset="0.9500" stop-color="#8f3632"/><stop offset="0.9667" stop-color="#8b302d"/><stop offset="0.9833" stop-color="#872a29"/><stop offset="1.0000" stop-color="#832424"/></linearGradient><rect x="3554" y="552" width="90" height="1199" fill="url(#lg)"/><filter id="b00" x="0" y="0" width="1" height="1" color-interpolation-filters="sRGB"><feGaussianBlur stdDeviation="7" edgeMode="duplicate"/></filter><filter id="b01" x="0" y="0" width="1" height="1" color-interpolation-filters="sRGB"><feGaussianBlur stdDeviation="7" edgeMode="duplicate"/></filter><filter id="b02" x="0" y="0" width="1" height="1" color-interpolation-filters="sRGB"><feGaussianBlur stdDeviation="7" edgeMode="duplicate"/></filter><filter id="b10" x="0" y="0" width="1" height="1" color-interpolation-filters="sRGB"><feGaussianBlur stdDeviation="7" edgeMode="duplicate"/></filter><filter id="b11" x="0" y="0" width="1" height="1" color-interpolation-filters="sRGB"><feGaussianBlur stdDeviation="7" edgeMode="duplicate"/></filter><filter id="b12" x="0" y="0" width="1" height="1" color-interpolation-filters="sRGB"><feGaussianBlur stdDeviation="7" edgeMode="duplicate"/></filter><filter id="b20" x="0" y="0" width="1" height="1" color-interpolation-filters="sRGB"><feGaussianBlur stdDeviation="7" edgeMode="duplicate"/></filter><filter id="b21" x="0" y="0" width="1" height="1" color-interpolation-filters="sRGB"><feGaussianBlur stdDeviation="7" edgeMode="duplicate"/></filter><filter id="b22" x="0" y="0" width="1" height="1" color-interpolation-filters="sRGB"><feGaussianBlur stdDeviation="7" edgeMode="duplicate"/></filter><text x="3679" y="851.0" font-size="80" fill="#000">250</text><text x="3679" y="1151.5" font-size="80" fill="#000">0</text><text x="3679" y="1451.0" font-size="80" fill="#000">-250</text><text x="3679" y="1750.5" font-size="80" fill="#000">-500</text></svg></body></html>
